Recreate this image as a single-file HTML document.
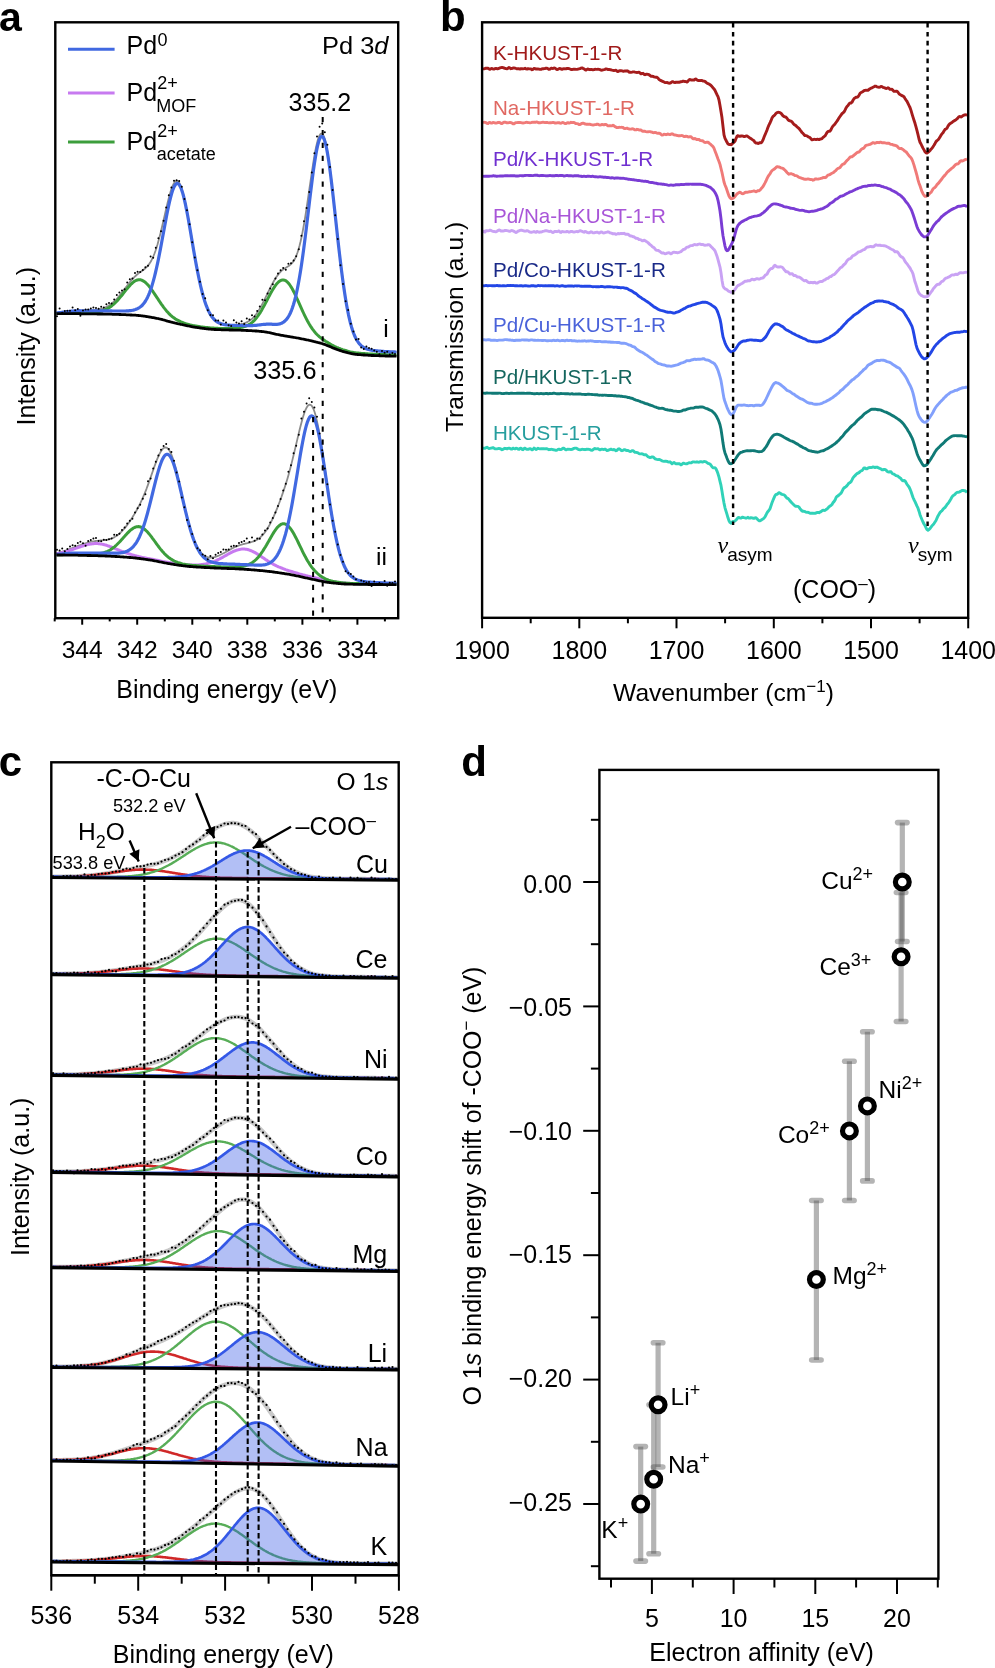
<!DOCTYPE html>
<html><head><meta charset="utf-8"><style>html,body{margin:0;padding:0;background:#fff}svg{display:block;will-change:transform}</style></head>
<body><svg width="995" height="1668" viewBox="0 0 995 1668" font-family='"Liberation Sans", sans-serif'>
<rect width="995" height="1668" fill="#fff"/>
<line x1="384.9" y1="618.2" x2="384.9" y2="621.4" stroke="#000" stroke-width="2.0"/>
<line x1="357.4" y1="618.2" x2="357.4" y2="624.7" stroke="#000" stroke-width="2.0"/>
<text x="357.4" y="658.3" font-size="24.6" text-anchor="middle">334</text>
<line x1="329.9" y1="618.2" x2="329.9" y2="621.4" stroke="#000" stroke-width="2.0"/>
<line x1="302.4" y1="618.2" x2="302.4" y2="624.7" stroke="#000" stroke-width="2.0"/>
<text x="302.4" y="658.3" font-size="24.6" text-anchor="middle">336</text>
<line x1="274.8" y1="618.2" x2="274.8" y2="621.4" stroke="#000" stroke-width="2.0"/>
<line x1="247.3" y1="618.2" x2="247.3" y2="624.7" stroke="#000" stroke-width="2.0"/>
<text x="247.3" y="658.3" font-size="24.6" text-anchor="middle">338</text>
<line x1="219.8" y1="618.2" x2="219.8" y2="621.4" stroke="#000" stroke-width="2.0"/>
<line x1="192.3" y1="618.2" x2="192.3" y2="624.7" stroke="#000" stroke-width="2.0"/>
<text x="192.3" y="658.3" font-size="24.6" text-anchor="middle">340</text>
<line x1="164.8" y1="618.2" x2="164.8" y2="621.4" stroke="#000" stroke-width="2.0"/>
<line x1="137.2" y1="618.2" x2="137.2" y2="624.7" stroke="#000" stroke-width="2.0"/>
<text x="137.2" y="658.3" font-size="24.6" text-anchor="middle">342</text>
<line x1="109.7" y1="618.2" x2="109.7" y2="621.4" stroke="#000" stroke-width="2.0"/>
<line x1="82.2" y1="618.2" x2="82.2" y2="624.7" stroke="#000" stroke-width="2.0"/>
<text x="82.2" y="658.3" font-size="24.6" text-anchor="middle">344</text>
<line x1="54.7" y1="618.2" x2="54.7" y2="621.4" stroke="#000" stroke-width="2.0"/>
<text x="116.3" y="697.5" font-size="25">Binding energy (eV)</text>
<text transform="translate(35.1,425.4) rotate(-90)" font-size="25" fill="#000">Intensity (a.u.)</text>
<text x="-0.9" y="30.7" font-size="41" font-weight="bold">a</text>
<line x1="68" y1="49.2" x2="114.6" y2="49.2" stroke="#4169e1" stroke-width="3"/>
<line x1="68" y1="92.9" x2="114.6" y2="92.9" stroke="#c77af0" stroke-width="3"/>
<line x1="68" y1="141.9" x2="114.6" y2="141.9" stroke="#3c9e3c" stroke-width="3"/>
<text x="126.6" y="54.0" font-size="25">Pd</text>
<text x="157.4" y="46.0" font-size="18">0</text>
<text x="126.6" y="101.3" font-size="25">Pd</text>
<text x="157.2" y="89.1" font-size="18">2+</text>
<text x="156.2" y="111.8" font-size="18">MOF</text>
<text x="126.6" y="149.7" font-size="25">Pd</text>
<text x="157.2" y="137.2" font-size="18">2+</text>
<text x="156.7" y="160.4" font-size="18">acetate</text>
<polyline points="56.5,313 57.5,312.8 58.5,312.7 59.5,312.6 60.5,312.4 61.5,312.3 62.5,312.2 63.5,312 64.5,311.9 65.5,311.8 66.5,311.6 67.5,311.5 68.5,311.4 69.5,311.3 70.5,311.2 71.5,311.1 72.5,311 73.5,310.9 74.5,310.8 75.5,310.8 76.5,310.7 77.5,310.7 78.5,310.6 79.5,310.6 80.5,310.6 81.5,310.6 82.5,310.6 83.5,310.6 84.5,310.6 85.5,310.6 86.5,310.5 87.5,310.5 88.5,310.5 89.5,310.4 90.5,310.4 91.5,310.3 92.5,310.3 93.5,310.2 94.5,310.1 95.5,310 96.5,309.8 97.5,309.7 98.5,309.5 99.5,309.3 100.5,309 101.5,308.8 102.5,308.5 103.5,308.1 104.5,307.8 105.5,307.3 106.5,306.9 107.5,306.3 108.5,305.8 109.5,305.1 110.5,304.4 111.5,303.7 112.5,302.9 113.5,302 114.5,301.1 115.5,300.1 116.5,299.1 117.5,298 118.5,296.8 119.5,295.6 120.5,294.4 121.5,293.1 122.5,291.8 123.5,290.5 124.5,289.2 125.5,287.8 126.5,286.5 127.5,285.2 128.5,283.9 129.5,282.6 130.5,281.4 131.5,280.2 132.5,279 133.5,278 134.5,276.9 135.5,276 136.5,275 137.5,274.2 138.5,273.4 139.5,272.6 140.5,271.9 141.5,271.2 142.5,270.5 143.5,269.8 144.5,269 145.5,268.1 146.5,267.2 147.5,266.1 148.5,264.9 149.5,263.6 150.5,262 151.5,260.2 152.5,258.2 153.5,256 154.5,253.5 155.5,250.7 156.5,247.6 157.5,244.4 158.5,240.8 159.5,237.1 160.5,233.2 161.5,229 162.5,224.8 163.5,220.5 164.5,216.1 165.5,211.7 166.5,207.4 167.5,203.2 168.5,199.2 169.5,195.4 170.5,191.9 171.5,188.9 172.5,186.2 173.5,184 174.5,182.4 175.5,181.3 176.5,180.8 177.5,181 178.5,181.8 179.5,183.2 180.5,185.3 181.5,188 182.5,191.2 183.5,195 184.5,199.2 185.5,203.9 186.5,208.9 187.5,214.2 188.5,219.8 189.5,225.5 190.5,231.4 191.5,237.3 192.5,243.2 193.5,249.1 194.5,254.8 195.5,260.4 196.5,265.9 197.5,271.1 198.5,276.1 199.5,280.8 200.5,285.3 201.5,289.4 202.5,293.3 203.5,296.9 204.5,300.2 205.5,303.2 206.5,306 207.5,308.5 208.5,310.7 209.5,312.7 210.5,314.5 211.5,316 212.5,317.4 213.5,318.6 214.5,319.6 215.5,320.5 216.5,321.3 217.5,321.9 218.5,322.5 219.5,323 220.5,323.4 221.5,323.7 222.5,324 223.5,324.2 224.5,324.4 225.5,324.6 226.5,324.7 227.5,324.8 228.5,324.8 229.5,324.9 230.5,324.9 231.5,324.9 232.5,324.9 233.5,324.9 234.5,324.9 235.5,324.8 236.5,324.7 237.5,324.6 238.5,324.5 239.5,324.4 240.5,324.2 241.5,324 242.5,323.8 243.5,323.5 244.5,323.2 245.5,322.8 246.5,322.4 247.5,321.9 248.5,321.3 249.5,320.7 250.5,320 251.5,319.3 252.5,318.4 253.5,317.4 254.5,316.3 255.5,315 256.5,313.7 257.5,312.3 258.5,310.8 259.5,309.1 260.5,307.4 261.5,305.6 262.5,303.7 263.5,301.7 264.5,299.7 265.5,297.7 266.5,295.6 267.5,293.5 268.5,291.5 269.5,289.4 270.5,287.4 271.5,285.4 272.5,283.5 273.5,281.7 274.5,280 275.5,278.4 276.5,276.8 277.5,275.4 278.5,274.1 279.5,272.9 280.5,271.8 281.5,270.8 282.5,269.9 283.5,269.2 284.5,268.5 285.5,267.9 286.5,267.3 287.5,266.7 288.5,266.1 289.5,265.4 290.5,264.6 291.5,263.7 292.5,262.6 293.5,261.2 294.5,259.6 295.5,257.6 296.5,255.3 297.5,252.5 298.5,249.4 299.5,245.8 300.5,241.8 301.5,237.3 302.5,232.4 303.5,227 304.5,221.3 305.5,215.1 306.5,208.7 307.5,202 308.5,195.2 309.5,188.2 310.5,181.3 311.5,174.4 312.5,167.8 313.5,161.4 314.5,155.4 315.5,150 316.5,145.2 317.5,141.1 318.5,137.8 319.5,135.4 320.5,133.9 321.5,133.5 322.5,134 323.5,135.6 324.5,138.3 325.5,142 326.5,146.6 327.5,152.2 328.5,158.5 329.5,165.6 330.5,173.3 331.5,181.5 332.5,190.2 333.5,199.1 334.5,208.3 335.5,217.5 336.5,226.8 337.5,236 338.5,244.9 339.5,253.7 340.5,262.1 341.5,270.2 342.5,277.9 343.5,285.1 344.5,292 345.5,298.3 346.5,304.2 347.5,309.7 348.5,314.6 349.5,319.1 350.5,323.2 351.5,326.8 352.5,330 353.5,332.9 354.5,335.4 355.5,337.6 356.5,339.5 357.5,341.1 358.5,342.6 359.5,343.8 360.5,344.9 361.5,345.8 362.5,346.6 363.5,347.2 364.5,347.8 365.5,348.3 366.5,348.7 367.5,349.1 368.5,349.4 369.5,349.7 370.5,349.9 371.5,350.1 372.5,350.3 373.5,350.4 374.5,350.5 375.5,350.7 376.5,350.8 377.5,350.9 378.5,351 379.5,351.1 380.5,351.1 381.5,351.2 382.5,351.3 383.5,351.4 384.5,351.4 385.5,351.5 386.5,351.5 387.5,351.6 388.5,351.6 389.5,351.7 390.5,351.7 391.5,351.8 392.5,351.8 393.5,351.9 394.5,351.9 395.5,351.9 396.5,351.9" fill="none" stroke="#8c8c8c" stroke-width="1.8" stroke-linejoin="round"/>
<polyline points="56.5,313.4 57.5,313.4 58.5,313.3 59.5,313.3 60.5,313.2 61.5,313.2 62.5,313.1 63.5,313.1 64.5,313 65.5,313 66.5,313 67.5,312.9 68.5,312.9 69.5,312.9 70.5,312.8 71.5,312.8 72.5,312.8 73.5,312.7 74.5,312.7 75.5,312.7 76.5,312.7 77.5,312.7 78.5,312.7 79.5,312.7 80.5,312.7 81.5,312.7 82.5,312.7 83.5,312.7 84.5,312.6 85.5,312.6 86.5,312.6 87.5,312.6 88.5,312.6 89.5,312.5 90.5,312.5 91.5,312.4 92.5,312.4 93.5,312.3 94.5,312.2 95.5,312.1 96.5,312 97.5,311.8 98.5,311.7 99.5,311.5 100.5,311.2 101.5,311 102.5,310.7 103.5,310.4 104.5,310 105.5,309.6 106.5,309.1 107.5,308.6 108.5,308 109.5,307.4 110.5,306.8 111.5,306 112.5,305.2 113.5,304.4 114.5,303.5 115.5,302.5 116.5,301.5 117.5,300.4 118.5,299.3 119.5,298.1 120.5,296.9 121.5,295.7 122.5,294.5 123.5,293.2 124.5,291.9 125.5,290.6 126.5,289.4 127.5,288.2 128.5,287 129.5,285.9 130.5,284.8 131.5,283.8 132.5,282.9 133.5,282 134.5,281.3 135.5,280.7 136.5,280.3 137.5,280 138.5,279.8 139.5,279.7 140.5,279.8 141.5,280.1 142.5,280.5 143.5,281.1 144.5,281.7 145.5,282.5 146.5,283.5 147.5,284.5 148.5,285.6 149.5,286.8 150.5,288.1 151.5,289.5 152.5,290.9 153.5,292.4 154.5,293.8 155.5,295.3 156.5,296.8 157.5,298.3 158.5,299.9 159.5,301.4 160.5,302.8 161.5,304.3 162.5,305.7 163.5,307.1 164.5,308.4 165.5,309.6 166.5,310.9 167.5,312 168.5,313.1 169.5,314.1 170.5,315.1 171.5,316 172.5,316.8 173.5,317.6 174.5,318.3 175.5,319 176.5,319.6 177.5,320.2 178.5,320.7 179.5,321.2 180.5,321.7 181.5,322.1 182.5,322.5 183.5,322.9 184.5,323.3 185.5,323.6 186.5,323.9 187.5,324.2 188.5,324.5 189.5,324.8 190.5,325 191.5,325.2 192.5,325.4 193.5,325.6 194.5,325.8 195.5,326 196.5,326.1 197.5,326.3 198.5,326.5 199.5,326.6 200.5,326.8 201.5,326.9 202.5,327 203.5,327.2 204.5,327.3 205.5,327.4 206.5,327.5 207.5,327.6 208.5,327.7 209.5,327.8 210.5,327.9 211.5,328 212.5,328.1 213.5,328.1 214.5,328.2 215.5,328.2 216.5,328.3 217.5,328.3 218.5,328.4 219.5,328.4 220.5,328.4 221.5,328.4 222.5,328.4 223.5,328.5 224.5,328.5 225.5,328.5 226.5,328.5 227.5,328.5 228.5,328.5 229.5,328.5 230.5,328.4 231.5,328.4 232.5,328.4 233.5,328.3 234.5,328.3 235.5,328.2 236.5,328.1 237.5,328 238.5,327.9 239.5,327.8 240.5,327.6 241.5,327.4 242.5,327.2 243.5,326.9 244.5,326.6 245.5,326.3 246.5,325.9 247.5,325.4 248.5,324.9 249.5,324.3 250.5,323.7 251.5,322.9 252.5,322.1 253.5,321.2 254.5,320.2 255.5,319.1 256.5,317.9 257.5,316.5 258.5,315.1 259.5,313.7 260.5,312.1 261.5,310.4 262.5,308.6 263.5,306.8 264.5,305 265.5,303.1 266.5,301.2 267.5,299.3 268.5,297.4 269.5,295.5 270.5,293.6 271.5,291.8 272.5,290.1 273.5,288.4 274.5,286.9 275.5,285.4 276.5,284.1 277.5,283 278.5,282 279.5,281.2 280.5,280.6 281.5,280.2 282.5,279.9 283.5,280 284.5,280.2 285.5,280.6 286.5,281.3 287.5,282.2 288.5,283.3 289.5,284.5 290.5,286 291.5,287.6 292.5,289.3 293.5,291.2 294.5,293.2 295.5,295.3 296.5,297.5 297.5,299.7 298.5,301.9 299.5,304.1 300.5,306.4 301.5,308.6 302.5,310.8 303.5,313 304.5,315.1 305.5,317.1 306.5,319.1 307.5,321 308.5,322.8 309.5,324.5 310.5,326.1 311.5,327.6 312.5,329.1 313.5,330.4 314.5,331.7 315.5,332.9 316.5,334 317.5,335 318.5,335.9 319.5,336.8 320.5,337.6 321.5,338.4 322.5,339.1 323.5,339.8 324.5,340.5 325.5,341.2 326.5,341.8 327.5,342.4 328.5,343 329.5,343.6 330.5,344.2 331.5,344.8 332.5,345.3 333.5,345.9 334.5,346.4 335.5,346.8 336.5,347.3 337.5,347.7 338.5,348.2 339.5,348.5 340.5,348.9 341.5,349.2 342.5,349.6 343.5,349.9 344.5,350.2 345.5,350.5 346.5,350.8 347.5,351.1 348.5,351.4 349.5,351.7 350.5,351.9 351.5,352.1 352.5,352.3 353.5,352.5 354.5,352.7 355.5,352.8 356.5,352.9 357.5,353 358.5,353.1 359.5,353.2 360.5,353.3 361.5,353.4 362.5,353.5 363.5,353.6 364.5,353.6 365.5,353.7 366.5,353.8 367.5,353.8 368.5,353.9 369.5,354 370.5,354 371.5,354.1 372.5,354.1 373.5,354.2 374.5,354.2 375.5,354.3 376.5,354.3 377.5,354.3 378.5,354.4 379.5,354.4 380.5,354.5 381.5,354.5 382.5,354.5 383.5,354.6 384.5,354.6 385.5,354.6 386.5,354.7 387.5,354.7 388.5,354.7 389.5,354.8 390.5,354.8 391.5,354.8 392.5,354.8 393.5,354.8 394.5,354.9 395.5,354.9 396.5,354.9" fill="none" stroke="#3c9e3c" stroke-width="3" stroke-linejoin="round"/>
<polyline points="56.5,313 57.5,312.9 58.5,312.8 59.5,312.6 60.5,312.5 61.5,312.4 62.5,312.2 63.5,312.1 64.5,312 65.5,311.8 66.5,311.7 67.5,311.6 68.5,311.5 69.5,311.4 70.5,311.3 71.5,311.2 72.5,311.1 73.5,311 74.5,310.9 75.5,310.9 76.5,310.8 77.5,310.8 78.5,310.8 79.5,310.7 80.5,310.8 81.5,310.8 82.5,310.8 83.5,310.8 84.5,310.8 85.5,310.8 86.5,310.8 87.5,310.8 88.5,310.8 89.5,310.8 90.5,310.8 91.5,310.8 92.5,310.8 93.5,310.8 94.5,310.8 95.5,310.8 96.5,310.8 97.5,310.8 98.5,310.9 99.5,310.9 100.5,310.9 101.5,310.9 102.5,310.9 103.5,310.9 104.5,310.9 105.5,310.9 106.5,310.9 107.5,310.9 108.5,310.9 109.5,310.9 110.5,310.9 111.5,310.9 112.5,311 113.5,311 114.5,311 115.5,311 116.5,311 117.5,311 118.5,311 119.5,311 120.5,311 121.5,311 122.5,311 123.5,311 124.5,311 125.5,311 126.5,310.9 127.5,310.9 128.5,310.8 129.5,310.7 130.5,310.6 131.5,310.5 132.5,310.3 133.5,310.1 134.5,309.8 135.5,309.5 136.5,309.1 137.5,308.7 138.5,308.1 139.5,307.5 140.5,306.8 141.5,306 142.5,305 143.5,303.8 144.5,302.5 145.5,301 146.5,299.3 147.5,297.4 148.5,295.2 149.5,292.8 150.5,290.1 151.5,287.2 152.5,283.9 153.5,280.4 154.5,276.6 155.5,272.5 156.5,268.2 157.5,263.6 158.5,258.8 159.5,253.7 160.5,248.6 161.5,243.3 162.5,237.8 163.5,232.4 164.5,227 165.5,221.6 166.5,216.3 167.5,211.3 168.5,206.4 169.5,201.9 170.5,197.8 171.5,194.1 172.5,190.8 173.5,188.1 174.5,186 175.5,184.5 176.5,183.6 177.5,183.4 178.5,183.9 179.5,185.1 180.5,186.9 181.5,189.4 182.5,192.4 183.5,196 184.5,200.1 185.5,204.7 186.5,209.6 187.5,214.8 188.5,220.3 189.5,226 190.5,231.8 191.5,237.7 192.5,243.5 193.5,249.4 194.5,255.1 195.5,260.7 196.5,266.1 197.5,271.3 198.5,276.3 199.5,281 200.5,285.5 201.5,289.6 202.5,293.5 203.5,297.1 204.5,300.4 205.5,303.4 206.5,306.2 207.5,308.6 208.5,310.9 209.5,312.9 210.5,314.6 211.5,316.2 212.5,317.5 213.5,318.7 214.5,319.8 215.5,320.7 216.5,321.4 217.5,322.1 218.5,322.7 219.5,323.1 220.5,323.5 221.5,323.9 222.5,324.2 223.5,324.4 224.5,324.6 225.5,324.8 226.5,324.9 227.5,325 228.5,325.1 229.5,325.2 230.5,325.3 231.5,325.3 232.5,325.4 233.5,325.4 234.5,325.4 235.5,325.5 236.5,325.5 237.5,325.5 238.5,325.5 239.5,325.5 240.5,325.5 241.5,325.5 242.5,325.6 243.5,325.6 244.5,325.6 245.5,325.6 246.5,325.6 247.5,325.6 248.5,325.6 249.5,325.6 250.5,325.6 251.5,325.6 252.5,325.6 253.5,325.5 254.5,325.4 255.5,325.4 256.5,325.3 257.5,325.1 258.5,325 259.5,324.9 260.5,324.8 261.5,324.6 262.5,324.5 263.5,324.4 264.5,324.3 265.5,324.3 266.5,324.2 267.5,324.2 268.5,324.2 269.5,324.2 270.5,324.2 271.5,324.2 272.5,324.3 273.5,324.3 274.5,324.3 275.5,324.4 276.5,324.3 277.5,324.3 278.5,324.1 279.5,323.9 280.5,323.6 281.5,323.2 282.5,322.7 283.5,322.1 284.5,321.4 285.5,320.4 286.5,319.4 287.5,318.1 288.5,316.5 289.5,314.7 290.5,312.7 291.5,310.3 292.5,307.6 293.5,304.5 294.5,301 295.5,297.1 296.5,292.8 297.5,288.1 298.5,282.9 299.5,277.3 300.5,271.2 301.5,264.7 302.5,257.8 303.5,250.5 304.5,242.8 305.5,234.9 306.5,226.7 307.5,218.4 308.5,210 309.5,201.6 310.5,193.3 311.5,185.2 312.5,177.4 313.5,169.9 314.5,163 315.5,156.7 316.5,151 317.5,146.2 318.5,142.3 319.5,139.3 320.5,137.3 321.5,136.4 322.5,136.6 323.5,137.8 324.5,140.2 325.5,143.6 326.5,148 327.5,153.4 328.5,159.5 329.5,166.5 330.5,174.1 331.5,182.2 332.5,190.8 333.5,199.6 334.5,208.7 335.5,217.9 336.5,227.1 337.5,236.3 338.5,245.2 339.5,253.9 340.5,262.3 341.5,270.4 342.5,278.1 343.5,285.3 344.5,292.1 345.5,298.5 346.5,304.4 347.5,309.8 348.5,314.8 349.5,319.2 350.5,323.3 351.5,326.9 352.5,330.1 353.5,333 354.5,335.5 355.5,337.7 356.5,339.6 357.5,341.2 358.5,342.7 359.5,343.9 360.5,345 361.5,345.9 362.5,346.7 363.5,347.3 364.5,347.9 365.5,348.4 366.5,348.8 367.5,349.2 368.5,349.5 369.5,349.7 370.5,350 371.5,350.2 372.5,350.3 373.5,350.5 374.5,350.6 375.5,350.7 376.5,350.8 377.5,350.9 378.5,351 379.5,351.1 380.5,351.2 381.5,351.3 382.5,351.3 383.5,351.4 384.5,351.5 385.5,351.5 386.5,351.6 387.5,351.7 388.5,351.7 389.5,351.8 390.5,351.8 391.5,351.8 392.5,351.9 393.5,351.9 394.5,351.9 395.5,352 396.5,352" fill="none" stroke="#4169e1" stroke-width="3.2" stroke-linejoin="round"/>
<polyline points="56.5,313.6 57.5,313.6 58.5,313.6 59.5,313.6 60.5,313.6 61.5,313.6 62.5,313.6 63.5,313.6 64.5,313.6 65.5,313.6 66.5,313.6 67.5,313.6 68.5,313.6 69.5,313.7 70.5,313.7 71.5,313.7 72.5,313.7 73.5,313.7 74.5,313.7 75.5,313.7 76.5,313.7 77.5,313.7 78.5,313.7 79.5,313.7 80.5,313.7 81.5,313.8 82.5,313.8 83.5,313.8 84.5,313.8 85.5,313.8 86.5,313.8 87.5,313.8 88.5,313.8 89.5,313.9 90.5,313.9 91.5,313.9 92.5,313.9 93.5,313.9 94.5,313.9 95.5,313.9 96.5,313.9 97.5,314 98.5,314 99.5,314 100.5,314 101.5,314 102.5,314 103.5,314.1 104.5,314.1 105.5,314.1 106.5,314.1 107.5,314.1 108.5,314.2 109.5,314.2 110.5,314.2 111.5,314.2 112.5,314.3 113.5,314.3 114.5,314.3 115.5,314.3 116.5,314.4 117.5,314.4 118.5,314.4 119.5,314.5 120.5,314.5 121.5,314.6 122.5,314.6 123.5,314.6 124.5,314.7 125.5,314.7 126.5,314.8 127.5,314.8 128.5,314.9 129.5,314.9 130.5,315 131.5,315 132.5,315.1 133.5,315.1 134.5,315.2 135.5,315.2 136.5,315.3 137.5,315.4 138.5,315.5 139.5,315.6 140.5,315.7 141.5,315.8 142.5,315.9 143.5,316.1 144.5,316.2 145.5,316.4 146.5,316.5 147.5,316.7 148.5,316.9 149.5,317 150.5,317.2 151.5,317.4 152.5,317.6 153.5,317.7 154.5,317.9 155.5,318.1 156.5,318.3 157.5,318.5 158.5,318.7 159.5,319 160.5,319.2 161.5,319.4 162.5,319.7 163.5,320 164.5,320.2 165.5,320.5 166.5,320.8 167.5,321.1 168.5,321.3 169.5,321.6 170.5,321.9 171.5,322.1 172.5,322.4 173.5,322.6 174.5,322.9 175.5,323.1 176.5,323.3 177.5,323.6 178.5,323.8 179.5,324 180.5,324.3 181.5,324.5 182.5,324.7 183.5,325 184.5,325.2 185.5,325.4 186.5,325.6 187.5,325.8 188.5,326 189.5,326.2 190.5,326.4 191.5,326.6 192.5,326.8 193.5,327 194.5,327.1 195.5,327.3 196.5,327.4 197.5,327.6 198.5,327.7 199.5,327.9 200.5,328 201.5,328.1 202.5,328.3 203.5,328.4 204.5,328.5 205.5,328.7 206.5,328.8 207.5,328.9 208.5,329 209.5,329.1 210.5,329.2 211.5,329.3 212.5,329.3 213.5,329.4 214.5,329.5 215.5,329.5 216.5,329.6 217.5,329.6 218.5,329.7 219.5,329.7 220.5,329.7 221.5,329.8 222.5,329.8 223.5,329.8 224.5,329.8 225.5,329.9 226.5,329.9 227.5,329.9 228.5,329.9 229.5,330 230.5,330 231.5,330 232.5,330 233.5,330.1 234.5,330.1 235.5,330.1 236.5,330.1 237.5,330.2 238.5,330.2 239.5,330.2 240.5,330.2 241.5,330.3 242.5,330.3 243.5,330.3 244.5,330.4 245.5,330.4 246.5,330.5 247.5,330.5 248.5,330.6 249.5,330.6 250.5,330.7 251.5,330.7 252.5,330.8 253.5,330.8 254.5,330.9 255.5,331 256.5,331 257.5,331.1 258.5,331.2 259.5,331.3 260.5,331.4 261.5,331.5 262.5,331.6 263.5,331.7 264.5,331.8 265.5,332 266.5,332.1 267.5,332.3 268.5,332.5 269.5,332.7 270.5,332.9 271.5,333.2 272.5,333.4 273.5,333.6 274.5,333.8 275.5,334.1 276.5,334.3 277.5,334.5 278.5,334.7 279.5,334.9 280.5,335.1 281.5,335.3 282.5,335.4 283.5,335.6 284.5,335.8 285.5,336 286.5,336.1 287.5,336.3 288.5,336.5 289.5,336.6 290.5,336.8 291.5,337 292.5,337.1 293.5,337.3 294.5,337.5 295.5,337.7 296.5,337.8 297.5,338 298.5,338.2 299.5,338.4 300.5,338.6 301.5,338.8 302.5,339 303.5,339.2 304.5,339.4 305.5,339.6 306.5,339.8 307.5,340 308.5,340.2 309.5,340.5 310.5,340.7 311.5,340.9 312.5,341.1 313.5,341.4 314.5,341.6 315.5,341.9 316.5,342.1 317.5,342.4 318.5,342.6 319.5,342.9 320.5,343.2 321.5,343.5 322.5,343.7 323.5,344.1 324.5,344.4 325.5,344.8 326.5,345.2 327.5,345.6 328.5,346 329.5,346.4 330.5,346.8 331.5,347.2 332.5,347.7 333.5,348.1 334.5,348.5 335.5,348.9 336.5,349.3 337.5,349.7 338.5,350 339.5,350.3 340.5,350.6 341.5,351 342.5,351.3 343.5,351.6 344.5,351.9 345.5,352.1 346.5,352.4 347.5,352.7 348.5,353 349.5,353.2 350.5,353.4 351.5,353.6 352.5,353.8 353.5,354 354.5,354.1 355.5,354.3 356.5,354.4 357.5,354.5 358.5,354.6 359.5,354.7 360.5,354.7 361.5,354.8 362.5,354.9 363.5,355 364.5,355 365.5,355.1 366.5,355.2 367.5,355.2 368.5,355.3 369.5,355.4 370.5,355.4 371.5,355.5 372.5,355.5 373.5,355.5 374.5,355.6 375.5,355.6 376.5,355.7 377.5,355.7 378.5,355.7 379.5,355.8 380.5,355.8 381.5,355.8 382.5,355.9 383.5,355.9 384.5,355.9 385.5,356 386.5,356 387.5,356 388.5,356.1 389.5,356.1 390.5,356.1 391.5,356.1 392.5,356.1 393.5,356.2 394.5,356.2 395.5,356.2 396.5,356.2" fill="none" stroke="#000" stroke-width="2.8" stroke-linejoin="round"/>
<path d="M57 316.2h0M59.6 308.5h0M62.2 312.8h0M64.8 310.9h0M67.4 310.7h0M70 310.8h0M72.6 307.6h0M75.2 310.3h0M77.8 309.1h0M80.4 315.7h0M83 310.6h0M85.6 309.5h0M88.2 309.4h0M90.8 308.5h0M93.4 307.5h0M96 308h0M98.6 308.8h0M101.2 306.7h0M103.8 307.6h0M106.4 304.3h0M109 303h0M111.6 303.4h0M114.2 299.4h0M116.8 295h0M119.4 292.5h0M122 290.4h0M124.6 289.2h0M127.2 282.4h0M129.8 279.3h0M132.4 278.4h0M135 272.9h0M137.6 271.8h0M140.2 271.9h0M142.8 269.9h0M145.4 267.3h0M148 265.7h0M150.6 256.6h0M153.2 257.7h0M155.8 247.8h0M158.4 238.2h0M161 231.3h0M163.6 220.8h0M166.2 207.4h0M168.8 195.3h0M171.4 187.5h0M174 180.7h0M176.6 180.2h0M179.2 181.1h0M181.8 186.8h0M184.4 198.9h0M187 210.2h0M189.6 224.2h0M192.2 242.2h0M194.8 257.4h0M197.4 270.2h0M200 281.8h0M202.6 294h0M205.2 298.3h0M207.8 310.2h0M210.4 315h0M213 315.3h0M215.6 320.5h0M218.2 320.6h0M220.8 324.4h0M223.4 320.5h0M226 322.6h0M228.6 325.3h0M231.2 325.9h0M233.8 320.3h0M236.4 322.6h0M239 323.4h0M241.6 321.3h0M244.2 323.9h0M246.8 318.4h0M249.4 319.4h0M252 315.2h0M254.6 316.5h0M257.2 310.9h0M259.8 306.4h0M262.4 299.7h0M265 300.2h0M267.6 293.5h0M270.2 288.4h0M272.8 284.2h0M275.4 278.6h0M278 273.4h0M280.6 270.2h0M283.2 268h0M285.8 269.8h0M288.4 263.7h0M291 263.2h0M293.6 260.5h0M296.2 256.3h0M298.8 249.2h0M301.4 235.7h0M304 221.3h0M306.6 207.9h0M309.2 191.9h0M311.8 172.4h0M314.4 153.2h0M317 136.6h0M319.6 126.8h0M322.2 123.5h0M324.8 132.2h0M327.4 144.8h0M330 166.9h0M332.6 189.9h0M335.2 215.3h0M337.8 238.9h0M340.4 265.3h0M343 283.9h0M345.6 301.3h0M348.2 309.9h0M350.8 323.7h0M353.4 331.6h0M356 339.4h0M358.6 339h0M361.2 347.4h0M363.8 349.1h0M366.4 346.6h0M369 348h0M371.6 348.8h0M374.2 350.6h0M376.8 351.8h0M379.4 354.3h0M382 350.9h0M384.6 352.7h0M387.2 351.8h0M389.8 354.5h0M392.4 353h0M395 354.1h0" stroke="#000" stroke-width="2" stroke-linecap="round" fill="none"/>
<polyline points="56.5,553.1 57.5,552.9 58.5,552.7 59.5,552.4 60.5,552.1 61.5,551.8 62.5,551.6 63.5,551.2 64.5,550.9 65.5,550.6 66.5,550.3 67.5,549.9 68.5,549.5 69.5,549.2 70.5,548.8 71.5,548.4 72.5,548 73.5,547.6 74.5,547.2 75.5,546.9 76.5,546.5 77.5,546.1 78.5,545.7 79.5,545.3 80.5,545 81.5,544.6 82.5,544.2 83.5,543.9 84.5,543.6 85.5,543.3 86.5,543 87.5,542.7 88.5,542.4 89.5,542.1 90.5,541.9 91.5,541.7 92.5,541.5 93.5,541.3 94.5,541.2 95.5,541 96.5,540.9 97.5,540.8 98.5,540.7 99.5,540.6 100.5,540.5 101.5,540.4 102.5,540.3 103.5,540.2 104.5,540.1 105.5,539.9 106.5,539.8 107.5,539.6 108.5,539.4 109.5,539.1 110.5,538.8 111.5,538.5 112.5,538.1 113.5,537.6 114.5,537.1 115.5,536.5 116.5,535.9 117.5,535.2 118.5,534.4 119.5,533.5 120.5,532.6 121.5,531.7 122.5,530.6 123.5,529.5 124.5,528.4 125.5,527.2 126.5,525.9 127.5,524.6 128.5,523.2 129.5,521.8 130.5,520.3 131.5,518.8 132.5,517.2 133.5,515.6 134.5,513.9 135.5,512.2 136.5,510.5 137.5,508.6 138.5,506.8 139.5,504.8 140.5,502.8 141.5,500.7 142.5,498.5 143.5,496.2 144.5,493.8 145.5,491.3 146.5,488.8 147.5,486.1 148.5,483.4 149.5,480.6 150.5,477.7 151.5,474.9 152.5,472 153.5,469.1 154.5,466.3 155.5,463.6 156.5,460.9 157.5,458.4 158.5,456.1 159.5,453.9 160.5,452.1 161.5,450.5 162.5,449.2 163.5,448.2 164.5,447.6 165.5,447.4 166.5,447.6 167.5,448.3 168.5,449.3 169.5,450.8 170.5,452.7 171.5,454.9 172.5,457.6 173.5,460.6 174.5,463.9 175.5,467.5 176.5,471.4 177.5,475.4 178.5,479.6 179.5,484 180.5,488.4 181.5,492.9 182.5,497.3 183.5,501.8 184.5,506.1 185.5,510.4 186.5,514.5 187.5,518.5 188.5,522.3 189.5,526 190.5,529.4 191.5,532.6 192.5,535.6 193.5,538.4 194.5,541 195.5,543.3 196.5,545.4 197.5,547.4 198.5,549.1 199.5,550.6 200.5,551.9 201.5,553.1 202.5,554.1 203.5,555 204.5,555.7 205.5,556.3 206.5,556.7 207.5,557.1 208.5,557.3 209.5,557.5 210.5,557.5 211.5,557.5 212.5,557.4 213.5,557.3 214.5,557.1 215.5,556.8 216.5,556.5 217.5,556.1 218.5,555.7 219.5,555.3 220.5,554.8 221.5,554.3 222.5,553.8 223.5,553.3 224.5,552.7 225.5,552.2 226.5,551.6 227.5,551.1 228.5,550.5 229.5,549.9 230.5,549.4 231.5,548.8 232.5,548.3 233.5,547.8 234.5,547.3 235.5,546.8 236.5,546.4 237.5,546 238.5,545.6 239.5,545.2 240.5,544.9 241.5,544.6 242.5,544.3 243.5,544 244.5,543.8 245.5,543.5 246.5,543.3 247.5,543.1 248.5,542.8 249.5,542.6 250.5,542.3 251.5,542 252.5,541.7 253.5,541.4 254.5,541 255.5,540.5 256.5,540 257.5,539.4 258.5,538.7 259.5,537.9 260.5,537.1 261.5,536.1 262.5,535.1 263.5,534 264.5,532.8 265.5,531.4 266.5,530 267.5,528.4 268.5,526.8 269.5,525 270.5,523.1 271.5,521.1 272.5,519 273.5,516.8 274.5,514.6 275.5,512.3 276.5,509.8 277.5,507.4 278.5,504.8 279.5,502.2 280.5,499.5 281.5,496.8 282.5,493.9 283.5,491 284.5,488 285.5,484.9 286.5,481.7 287.5,478.4 288.5,474.9 289.5,471.3 290.5,467.5 291.5,463.6 292.5,459.6 293.5,455.5 294.5,451.4 295.5,447.1 296.5,442.9 297.5,438.6 298.5,434.4 299.5,430.2 300.5,426.2 301.5,422.4 302.5,418.8 303.5,415.5 304.5,412.5 305.5,409.9 306.5,407.8 307.5,406.2 308.5,405.1 309.5,404.7 310.5,404.8 311.5,405.6 312.5,407 313.5,409 314.5,411.8 315.5,415.1 316.5,419.1 317.5,423.6 318.5,428.7 319.5,434.1 320.5,440 321.5,446.3 322.5,452.7 323.5,459.4 324.5,466.3 325.5,473.2 326.5,480.1 327.5,486.9 328.5,493.7 329.5,500.3 330.5,506.8 331.5,513 332.5,519 333.5,524.6 334.5,530 335.5,535.1 336.5,539.9 337.5,544.3 338.5,548.3 339.5,552.1 340.5,555.5 341.5,558.6 342.5,561.5 343.5,564 344.5,566.3 345.5,568.3 346.5,570.1 347.5,571.7 348.5,573.1 349.5,574.4 350.5,575.4 351.5,576.4 352.5,577.2 353.5,577.9 354.5,578.5 355.5,579 356.5,579.5 357.5,579.9 358.5,580.2 359.5,580.5 360.5,580.8 361.5,581 362.5,581.2 363.5,581.4 364.5,581.5 365.5,581.6 366.5,581.8 367.5,581.9 368.5,582 369.5,582.1 370.5,582.1 371.5,582.2 372.5,582.3 373.5,582.3 374.5,582.4 375.5,582.5 376.5,582.5 377.5,582.6 378.5,582.6 379.5,582.7 380.5,582.7 381.5,582.7 382.5,582.8 383.5,582.8 384.5,582.9 385.5,582.9 386.5,582.9 387.5,582.9 388.5,583 389.5,583 390.5,583 391.5,583 392.5,583.1 393.5,583.1 394.5,583.1 395.5,583.1 396.5,583.1" fill="none" stroke="#8c8c8c" stroke-width="1.8" stroke-linejoin="round"/>
<polyline points="56.5,553.6 57.5,553.4 58.5,553.3 59.5,553.1 60.5,552.9 61.5,552.6 62.5,552.4 63.5,552.2 64.5,551.9 65.5,551.6 66.5,551.4 67.5,551.1 68.5,550.8 69.5,550.5 70.5,550.1 71.5,549.8 72.5,549.5 73.5,549.1 74.5,548.8 75.5,548.4 76.5,548.1 77.5,547.7 78.5,547.4 79.5,547 80.5,546.7 81.5,546.4 82.5,546 83.5,545.7 84.5,545.4 85.5,545.1 86.5,544.9 87.5,544.6 88.5,544.4 89.5,544.2 90.5,544 91.5,543.9 92.5,543.8 93.5,543.7 94.5,543.6 95.5,543.6 96.5,543.6 97.5,543.6 98.5,543.7 99.5,543.8 100.5,543.9 101.5,544.1 102.5,544.3 103.5,544.5 104.5,544.8 105.5,545 106.5,545.3 107.5,545.7 108.5,546 109.5,546.4 110.5,546.7 111.5,547.1 112.5,547.5 113.5,547.9 114.5,548.3 115.5,548.8 116.5,549.2 117.5,549.6 118.5,550 119.5,550.4 120.5,550.8 121.5,551.2 122.5,551.6 123.5,552 124.5,552.4 125.5,552.7 126.5,553.1 127.5,553.4 128.5,553.7 129.5,554 130.5,554.3 131.5,554.6 132.5,554.9 133.5,555.2 134.5,555.5 135.5,555.7 136.5,556 137.5,556.2 138.5,556.5 139.5,556.7 140.5,556.9 141.5,557.2 142.5,557.4 143.5,557.6 144.5,557.8 145.5,558 146.5,558.2 147.5,558.4 148.5,558.6 149.5,558.7 150.5,558.9 151.5,559.1 152.5,559.3 153.5,559.5 154.5,559.7 155.5,559.9 156.5,560.1 157.5,560.3 158.5,560.5 159.5,560.7 160.5,561 161.5,561.2 162.5,561.4 163.5,561.6 164.5,561.8 165.5,562 166.5,562.2 167.5,562.3 168.5,562.5 169.5,562.7 170.5,562.8 171.5,563 172.5,563.1 173.5,563.3 174.5,563.4 175.5,563.6 176.5,563.7 177.5,563.8 178.5,564 179.5,564.1 180.5,564.2 181.5,564.4 182.5,564.5 183.5,564.6 184.5,564.7 185.5,564.8 186.5,564.8 187.5,564.9 188.5,565 189.5,565 190.5,565 191.5,565.1 192.5,565.1 193.5,565.1 194.5,565.1 195.5,565 196.5,565 197.5,565 198.5,564.9 199.5,564.8 200.5,564.7 201.5,564.6 202.5,564.5 203.5,564.3 204.5,564.2 205.5,564 206.5,563.8 207.5,563.5 208.5,563.3 209.5,563 210.5,562.7 211.5,562.4 212.5,562 213.5,561.7 214.5,561.3 215.5,560.8 216.5,560.4 217.5,559.9 218.5,559.5 219.5,559 220.5,558.4 221.5,557.9 222.5,557.4 223.5,556.8 224.5,556.2 225.5,555.7 226.5,555.1 227.5,554.5 228.5,554 229.5,553.4 230.5,552.9 231.5,552.4 232.5,551.9 233.5,551.4 234.5,551 235.5,550.6 236.5,550.3 237.5,549.9 238.5,549.7 239.5,549.4 240.5,549.3 241.5,549.1 242.5,549.1 243.5,549.1 244.5,549.1 245.5,549.2 246.5,549.3 247.5,549.5 248.5,549.8 249.5,550.1 250.5,550.5 251.5,550.9 252.5,551.3 253.5,551.8 254.5,552.3 255.5,552.9 256.5,553.5 257.5,554.1 258.5,554.7 259.5,555.4 260.5,556 261.5,556.7 262.5,557.4 263.5,558.1 264.5,558.8 265.5,559.5 266.5,560.1 267.5,560.8 268.5,561.4 269.5,562.1 270.5,562.7 271.5,563.2 272.5,563.8 273.5,564.4 274.5,564.9 275.5,565.4 276.5,565.9 277.5,566.3 278.5,566.8 279.5,567.2 280.5,567.6 281.5,568 282.5,568.4 283.5,568.8 284.5,569.2 285.5,569.6 286.5,569.9 287.5,570.3 288.5,570.6 289.5,570.9 290.5,571.2 291.5,571.5 292.5,571.8 293.5,572.1 294.5,572.4 295.5,572.7 296.5,573 297.5,573.3 298.5,573.6 299.5,573.9 300.5,574.1 301.5,574.4 302.5,574.7 303.5,574.9 304.5,575.2 305.5,575.5 306.5,575.7 307.5,576 308.5,576.2 309.5,576.4 310.5,576.7 311.5,576.9 312.5,577.1 313.5,577.3 314.5,577.6 315.5,577.8 316.5,578.1 317.5,578.3 318.5,578.6 319.5,578.9 320.5,579.1 321.5,579.4 322.5,579.6 323.5,579.9 324.5,580.1 325.5,580.4 326.5,580.6 327.5,580.8 328.5,581 329.5,581.2 330.5,581.4 331.5,581.5 332.5,581.7 333.5,581.9 334.5,582 335.5,582.2 336.5,582.3 337.5,582.4 338.5,582.6 339.5,582.7 340.5,582.8 341.5,582.9 342.5,583 343.5,583.1 344.5,583.1 345.5,583.2 346.5,583.3 347.5,583.3 348.5,583.4 349.5,583.4 350.5,583.5 351.5,583.5 352.5,583.5 353.5,583.6 354.5,583.6 355.5,583.6 356.5,583.6 357.5,583.7 358.5,583.7 359.5,583.7 360.5,583.7 361.5,583.8 362.5,583.8 363.5,583.8 364.5,583.8 365.5,583.9 366.5,583.9 367.5,583.9 368.5,583.9 369.5,584 370.5,584 371.5,584 372.5,584 373.5,584 374.5,584 375.5,584.1 376.5,584.1 377.5,584.1 378.5,584.1 379.5,584.1 380.5,584.1 381.5,584.1 382.5,584.1 383.5,584.2 384.5,584.2 385.5,584.2 386.5,584.2 387.5,584.2 388.5,584.2 389.5,584.2 390.5,584.2 391.5,584.2 392.5,584.2 393.5,584.2 394.5,584.2 395.5,584.2 396.5,584.2" fill="none" stroke="#c77af0" stroke-width="3" stroke-linejoin="round"/>
<polyline points="56.5,554.8 57.5,554.8 58.5,554.8 59.5,554.7 60.5,554.7 61.5,554.7 62.5,554.7 63.5,554.6 64.5,554.6 65.5,554.6 66.5,554.6 67.5,554.5 68.5,554.5 69.5,554.5 70.5,554.5 71.5,554.5 72.5,554.5 73.5,554.5 74.5,554.5 75.5,554.5 76.5,554.5 77.5,554.5 78.5,554.5 79.5,554.5 80.5,554.5 81.5,554.5 82.5,554.5 83.5,554.5 84.5,554.5 85.5,554.5 86.5,554.5 87.5,554.5 88.5,554.5 89.5,554.5 90.5,554.4 91.5,554.4 92.5,554.4 93.5,554.3 94.5,554.3 95.5,554.2 96.5,554.1 97.5,554 98.5,553.8 99.5,553.7 100.5,553.5 101.5,553.3 102.5,553.1 103.5,552.8 104.5,552.5 105.5,552.1 106.5,551.7 107.5,551.3 108.5,550.8 109.5,550.3 110.5,549.7 111.5,549 112.5,548.3 113.5,547.6 114.5,546.8 115.5,545.9 116.5,545 117.5,544 118.5,543 119.5,542 120.5,540.9 121.5,539.8 122.5,538.7 123.5,537.6 124.5,536.4 125.5,535.3 126.5,534.2 127.5,533.1 128.5,532.1 129.5,531.1 130.5,530.2 131.5,529.4 132.5,528.7 133.5,528 134.5,527.5 135.5,527.1 136.5,526.8 137.5,526.7 138.5,526.6 139.5,526.7 140.5,527 141.5,527.4 142.5,527.9 143.5,528.5 144.5,529.2 145.5,530.1 146.5,531 147.5,532.1 148.5,533.2 149.5,534.4 150.5,535.6 151.5,536.9 152.5,538.3 153.5,539.6 154.5,541 155.5,542.4 156.5,543.8 157.5,545.2 158.5,546.5 159.5,547.8 160.5,549.1 161.5,550.3 162.5,551.5 163.5,552.6 164.5,553.7 165.5,554.7 166.5,555.6 167.5,556.5 168.5,557.3 169.5,558.1 170.5,558.8 171.5,559.4 172.5,560 173.5,560.6 174.5,561.1 175.5,561.5 176.5,562 177.5,562.4 178.5,562.7 179.5,563 180.5,563.3 181.5,563.6 182.5,563.9 183.5,564.1 184.5,564.3 185.5,564.5 186.5,564.7 187.5,564.8 188.5,565 189.5,565.1 190.5,565.2 191.5,565.3 192.5,565.4 193.5,565.5 194.5,565.6 195.5,565.6 196.5,565.7 197.5,565.8 198.5,565.8 199.5,565.9 200.5,566 201.5,566 202.5,566.1 203.5,566.1 204.5,566.2 205.5,566.2 206.5,566.3 207.5,566.3 208.5,566.4 209.5,566.4 210.5,566.5 211.5,566.5 212.5,566.5 213.5,566.6 214.5,566.6 215.5,566.7 216.5,566.7 217.5,566.7 218.5,566.8 219.5,566.8 220.5,566.8 221.5,566.9 222.5,566.9 223.5,566.9 224.5,566.9 225.5,567 226.5,567 227.5,567 228.5,567 229.5,567 230.5,567 231.5,567 232.5,567 233.5,567 234.5,567 235.5,567 236.5,566.9 237.5,566.9 238.5,566.8 239.5,566.7 240.5,566.6 241.5,566.5 242.5,566.4 243.5,566.2 244.5,566 245.5,565.7 246.5,565.4 247.5,565.1 248.5,564.7 249.5,564.2 250.5,563.7 251.5,563.1 252.5,562.5 253.5,561.7 254.5,560.9 255.5,560 256.5,559.1 257.5,558 258.5,556.9 259.5,555.6 260.5,554.3 261.5,552.9 262.5,551.5 263.5,549.9 264.5,548.3 265.5,546.7 266.5,545 267.5,543.2 268.5,541.5 269.5,539.7 270.5,537.9 271.5,536.2 272.5,534.5 273.5,532.9 274.5,531.3 275.5,529.9 276.5,528.5 277.5,527.3 278.5,526.3 279.5,525.4 280.5,524.7 281.5,524.2 282.5,523.8 283.5,523.7 284.5,523.8 285.5,524.2 286.5,524.7 287.5,525.4 288.5,526.3 289.5,527.4 290.5,528.6 291.5,530 292.5,531.6 293.5,533.3 294.5,535.1 295.5,537 296.5,538.9 297.5,540.9 298.5,543 299.5,545.1 300.5,547.1 301.5,549.2 302.5,551.3 303.5,553.3 304.5,555.2 305.5,557.1 306.5,558.9 307.5,560.7 308.5,562.3 309.5,563.9 310.5,565.4 311.5,566.8 312.5,568.1 313.5,569.3 314.5,570.5 315.5,571.5 316.5,572.5 317.5,573.5 318.5,574.4 319.5,575.2 320.5,575.9 321.5,576.6 322.5,577.2 323.5,577.8 324.5,578.4 325.5,578.9 326.5,579.3 327.5,579.7 328.5,580.1 329.5,580.4 330.5,580.7 331.5,580.9 332.5,581.2 333.5,581.4 334.5,581.6 335.5,581.8 336.5,582 337.5,582.2 338.5,582.3 339.5,582.5 340.5,582.6 341.5,582.7 342.5,582.8 343.5,582.9 344.5,583 345.5,583.1 346.5,583.2 347.5,583.2 348.5,583.3 349.5,583.3 350.5,583.4 351.5,583.4 352.5,583.4 353.5,583.5 354.5,583.5 355.5,583.5 356.5,583.6 357.5,583.6 358.5,583.6 359.5,583.7 360.5,583.7 361.5,583.7 362.5,583.7 363.5,583.8 364.5,583.8 365.5,583.8 366.5,583.8 367.5,583.9 368.5,583.9 369.5,583.9 370.5,583.9 371.5,583.9 372.5,584 373.5,584 374.5,584 375.5,584 376.5,584 377.5,584 378.5,584.1 379.5,584.1 380.5,584.1 381.5,584.1 382.5,584.1 383.5,584.1 384.5,584.1 385.5,584.1 386.5,584.2 387.5,584.2 388.5,584.2 389.5,584.2 390.5,584.2 391.5,584.2 392.5,584.2 393.5,584.2 394.5,584.2 395.5,584.2 396.5,584.2" fill="none" stroke="#3c9e3c" stroke-width="3" stroke-linejoin="round"/>
<polyline points="56.5,554.5 57.5,554.4 58.5,554.3 59.5,554.2 60.5,554.1 61.5,554 62.5,553.9 63.5,553.8 64.5,553.7 65.5,553.7 66.5,553.6 67.5,553.5 68.5,553.4 69.5,553.4 70.5,553.3 71.5,553.2 72.5,553.2 73.5,553.1 74.5,553.1 75.5,553.1 76.5,553 77.5,553 78.5,553 79.5,553 80.5,553 81.5,553 82.5,553 83.5,553 84.5,553 85.5,553 86.5,553 87.5,553 88.5,553 89.5,553 90.5,553 91.5,553 92.5,553 93.5,553.1 94.5,553.1 95.5,553.1 96.5,553.1 97.5,553.1 98.5,553.1 99.5,553.1 100.5,553.1 101.5,553.1 102.5,553.1 103.5,553.1 104.5,553.2 105.5,553.2 106.5,553.2 107.5,553.2 108.5,553.2 109.5,553.2 110.5,553.2 111.5,553.2 112.5,553.2 113.5,553.2 114.5,553.2 115.5,553.2 116.5,553.2 117.5,553.1 118.5,553.1 119.5,553 120.5,552.9 121.5,552.7 122.5,552.6 123.5,552.4 124.5,552.1 125.5,551.8 126.5,551.4 127.5,551 128.5,550.5 129.5,549.8 130.5,549.1 131.5,548.3 132.5,547.4 133.5,546.3 134.5,545.1 135.5,543.8 136.5,542.3 137.5,540.6 138.5,538.7 139.5,536.7 140.5,534.4 141.5,532 142.5,529.3 143.5,526.5 144.5,523.4 145.5,520.2 146.5,516.8 147.5,513.2 148.5,509.4 149.5,505.6 150.5,501.6 151.5,497.6 152.5,493.5 153.5,489.4 154.5,485.4 155.5,481.4 156.5,477.5 157.5,473.9 158.5,470.4 159.5,467.1 160.5,464.2 161.5,461.5 162.5,459.2 163.5,457.4 164.5,455.9 165.5,454.9 166.5,454.3 167.5,454.3 168.5,454.7 169.5,455.5 170.5,456.9 171.5,458.7 172.5,460.9 173.5,463.5 174.5,466.5 175.5,469.7 176.5,473.3 177.5,477.1 178.5,481.2 179.5,485.3 180.5,489.6 181.5,493.9 182.5,498.3 183.5,502.6 184.5,506.9 185.5,511.1 186.5,515.2 187.5,519.2 188.5,523 189.5,526.7 190.5,530.1 191.5,533.3 192.5,536.4 193.5,539.2 194.5,541.8 195.5,544.3 196.5,546.5 197.5,548.5 198.5,550.3 199.5,552 200.5,553.5 201.5,554.8 202.5,556 203.5,557.1 204.5,558 205.5,558.8 206.5,559.5 207.5,560.2 208.5,560.7 209.5,561.2 210.5,561.6 211.5,561.9 212.5,562.2 213.5,562.5 214.5,562.7 215.5,562.9 216.5,563.1 217.5,563.2 218.5,563.4 219.5,563.5 220.5,563.6 221.5,563.6 222.5,563.7 223.5,563.8 224.5,563.8 225.5,563.9 226.5,563.9 227.5,564 228.5,564 229.5,564.1 230.5,564.1 231.5,564.1 232.5,564.2 233.5,564.2 234.5,564.2 235.5,564.3 236.5,564.3 237.5,564.3 238.5,564.4 239.5,564.4 240.5,564.5 241.5,564.5 242.5,564.6 243.5,564.6 244.5,564.6 245.5,564.7 246.5,564.7 247.5,564.8 248.5,564.8 249.5,564.9 250.5,564.9 251.5,565 252.5,565 253.5,565 254.5,565.1 255.5,565.1 256.5,565.1 257.5,565.1 258.5,565.1 259.5,565.1 260.5,565.1 261.5,565.1 262.5,565 263.5,564.9 264.5,564.8 265.5,564.6 266.5,564.3 267.5,564 268.5,563.6 269.5,563.1 270.5,562.5 271.5,561.8 272.5,561 273.5,560.1 274.5,559 275.5,557.8 276.5,556.4 277.5,554.8 278.5,553 279.5,551 280.5,548.8 281.5,546.4 282.5,543.7 283.5,540.8 284.5,537.6 285.5,534.2 286.5,530.4 287.5,526.3 288.5,521.9 289.5,517.2 290.5,512.3 291.5,507.1 292.5,501.6 293.5,495.9 294.5,490.1 295.5,484.1 296.5,478 297.5,471.9 298.5,465.7 299.5,459.7 300.5,453.8 301.5,448.1 302.5,442.7 303.5,437.6 304.5,432.9 305.5,428.6 306.5,424.9 307.5,421.8 308.5,419.3 309.5,417.4 310.5,416.3 311.5,415.9 312.5,416.2 313.5,417.2 314.5,419.1 315.5,421.6 316.5,424.8 317.5,428.6 318.5,433 319.5,438 320.5,443.4 321.5,449.1 322.5,455.2 323.5,461.6 324.5,468.1 325.5,474.8 326.5,481.5 327.5,488.1 328.5,494.7 329.5,501.2 330.5,507.5 331.5,513.7 332.5,519.5 333.5,525.2 334.5,530.5 335.5,535.5 336.5,540.2 337.5,544.6 338.5,548.6 339.5,552.4 340.5,555.8 341.5,558.8 342.5,561.7 343.5,564.2 344.5,566.5 345.5,568.5 346.5,570.3 347.5,571.9 348.5,573.3 349.5,574.5 350.5,575.6 351.5,576.5 352.5,577.3 353.5,578 354.5,578.6 355.5,579.2 356.5,579.6 357.5,580 358.5,580.3 359.5,580.6 360.5,580.9 361.5,581.1 362.5,581.3 363.5,581.5 364.5,581.6 365.5,581.7 366.5,581.9 367.5,582 368.5,582.1 369.5,582.1 370.5,582.2 371.5,582.3 372.5,582.4 373.5,582.4 374.5,582.5 375.5,582.5 376.5,582.6 377.5,582.6 378.5,582.7 379.5,582.7 380.5,582.8 381.5,582.8 382.5,582.9 383.5,582.9 384.5,582.9 385.5,582.9 386.5,583 387.5,583 388.5,583 389.5,583.1 390.5,583.1 391.5,583.1 392.5,583.1 393.5,583.1 394.5,583.2 395.5,583.2 396.5,583.2" fill="none" stroke="#4169e1" stroke-width="3.2" stroke-linejoin="round"/>
<polyline points="56.5,555 57.5,555 58.5,555 59.5,555 60.5,555 61.5,555 62.5,555 63.5,555 64.5,555 65.5,555.1 66.5,555.1 67.5,555.1 68.5,555.1 69.5,555.1 70.5,555.1 71.5,555.1 72.5,555.1 73.5,555.2 74.5,555.2 75.5,555.2 76.5,555.2 77.5,555.2 78.5,555.3 79.5,555.3 80.5,555.3 81.5,555.3 82.5,555.3 83.5,555.4 84.5,555.4 85.5,555.4 86.5,555.4 87.5,555.5 88.5,555.5 89.5,555.5 90.5,555.5 91.5,555.6 92.5,555.6 93.5,555.6 94.5,555.6 95.5,555.7 96.5,555.7 97.5,555.7 98.5,555.8 99.5,555.8 100.5,555.8 101.5,555.8 102.5,555.9 103.5,555.9 104.5,555.9 105.5,556 106.5,556 107.5,556.1 108.5,556.1 109.5,556.2 110.5,556.2 111.5,556.3 112.5,556.3 113.5,556.4 114.5,556.4 115.5,556.5 116.5,556.5 117.5,556.6 118.5,556.7 119.5,556.7 120.5,556.8 121.5,556.9 122.5,556.9 123.5,557 124.5,557.1 125.5,557.2 126.5,557.2 127.5,557.3 128.5,557.4 129.5,557.5 130.5,557.5 131.5,557.6 132.5,557.7 133.5,557.8 134.5,557.9 135.5,558 136.5,558.1 137.5,558.3 138.5,558.4 139.5,558.5 140.5,558.6 141.5,558.8 142.5,558.9 143.5,559 144.5,559.2 145.5,559.3 146.5,559.5 147.5,559.6 148.5,559.8 149.5,559.9 150.5,560.1 151.5,560.2 152.5,560.4 153.5,560.6 154.5,560.8 155.5,561 156.5,561.2 157.5,561.4 158.5,561.6 159.5,561.8 160.5,562 161.5,562.2 162.5,562.4 163.5,562.6 164.5,562.8 165.5,563 166.5,563.2 167.5,563.4 168.5,563.6 169.5,563.7 170.5,563.9 171.5,564 172.5,564.2 173.5,564.4 174.5,564.5 175.5,564.7 176.5,564.8 177.5,565 178.5,565.1 179.5,565.3 180.5,565.4 181.5,565.5 182.5,565.7 183.5,565.8 184.5,565.9 185.5,566 186.5,566.2 187.5,566.3 188.5,566.4 189.5,566.5 190.5,566.5 191.5,566.6 192.5,566.7 193.5,566.8 194.5,566.9 195.5,566.9 196.5,567 197.5,567.1 198.5,567.1 199.5,567.2 200.5,567.2 201.5,567.3 202.5,567.4 203.5,567.4 204.5,567.5 205.5,567.5 206.5,567.6 207.5,567.6 208.5,567.7 209.5,567.7 210.5,567.8 211.5,567.8 212.5,567.9 213.5,567.9 214.5,568 215.5,568 216.5,568.1 217.5,568.1 218.5,568.2 219.5,568.2 220.5,568.2 221.5,568.3 222.5,568.3 223.5,568.3 224.5,568.4 225.5,568.4 226.5,568.4 227.5,568.5 228.5,568.5 229.5,568.6 230.5,568.6 231.5,568.6 232.5,568.7 233.5,568.7 234.5,568.7 235.5,568.8 236.5,568.8 237.5,568.9 238.5,568.9 239.5,569 240.5,569 241.5,569.1 242.5,569.1 243.5,569.2 244.5,569.3 245.5,569.3 246.5,569.4 247.5,569.5 248.5,569.5 249.5,569.6 250.5,569.7 251.5,569.8 252.5,569.8 253.5,569.9 254.5,570 255.5,570.1 256.5,570.2 257.5,570.3 258.5,570.4 259.5,570.5 260.5,570.6 261.5,570.7 262.5,570.7 263.5,570.8 264.5,570.9 265.5,571.1 266.5,571.2 267.5,571.3 268.5,571.4 269.5,571.5 270.5,571.6 271.5,571.7 272.5,571.9 273.5,572 274.5,572.1 275.5,572.3 276.5,572.4 277.5,572.5 278.5,572.7 279.5,572.8 280.5,573 281.5,573.1 282.5,573.3 283.5,573.4 284.5,573.6 285.5,573.8 286.5,573.9 287.5,574.1 288.5,574.2 289.5,574.4 290.5,574.6 291.5,574.8 292.5,575 293.5,575.1 294.5,575.3 295.5,575.6 296.5,575.8 297.5,576 298.5,576.2 299.5,576.4 300.5,576.7 301.5,576.9 302.5,577.1 303.5,577.3 304.5,577.6 305.5,577.8 306.5,578 307.5,578.2 308.5,578.5 309.5,578.7 310.5,578.9 311.5,579.1 312.5,579.3 313.5,579.5 314.5,579.7 315.5,579.9 316.5,580.1 317.5,580.4 318.5,580.6 319.5,580.8 320.5,581 321.5,581.2 322.5,581.4 323.5,581.6 324.5,581.8 325.5,582 326.5,582.1 327.5,582.3 328.5,582.4 329.5,582.5 330.5,582.7 331.5,582.8 332.5,582.9 333.5,583 334.5,583.1 335.5,583.2 336.5,583.3 337.5,583.4 338.5,583.5 339.5,583.6 340.5,583.7 341.5,583.8 342.5,583.8 343.5,583.9 344.5,584 345.5,584 346.5,584.1 347.5,584.1 348.5,584.2 349.5,584.2 350.5,584.2 351.5,584.2 352.5,584.2 353.5,584.3 354.5,584.3 355.5,584.3 356.5,584.3 357.5,584.3 358.5,584.3 359.5,584.3 360.5,584.4 361.5,584.4 362.5,584.4 363.5,584.4 364.5,584.4 365.5,584.4 366.5,584.4 367.5,584.4 368.5,584.5 369.5,584.5 370.5,584.5 371.5,584.5 372.5,584.5 373.5,584.5 374.5,584.5 375.5,584.5 376.5,584.5 377.5,584.5 378.5,584.5 379.5,584.5 380.5,584.5 381.5,584.6 382.5,584.6 383.5,584.6 384.5,584.6 385.5,584.6 386.5,584.6 387.5,584.6 388.5,584.6 389.5,584.6 390.5,584.6 391.5,584.6 392.5,584.6 393.5,584.6 394.5,584.6 395.5,584.6 396.5,584.6" fill="none" stroke="#000" stroke-width="2.8" stroke-linejoin="round"/>
<path d="M57 549.7h0M59.6 550.4h0M62.2 548.5h0M64.8 551.3h0M67.4 549h0M70 546.5h0M72.6 545.3h0M75.2 545.8h0M77.8 543h0M80.4 541.8h0M83 543.3h0M85.6 545.8h0M88.2 540.9h0M90.8 539.9h0M93.4 538.6h0M96 538.1h0M98.6 540.9h0M101.2 541.3h0M103.8 539.8h0M106.4 540.1h0M109 539.2h0M111.6 538.5h0M114.2 534.7h0M116.8 534.9h0M119.4 533.8h0M122 529.9h0M124.6 527.5h0M127.2 523.6h0M129.8 520.8h0M132.4 518.7h0M135 512.4h0M137.6 508.2h0M140.2 504.7h0M142.8 498.8h0M145.4 494.3h0M148 481.3h0M150.6 478.6h0M153.2 468.6h0M155.8 461.7h0M158.4 455.5h0M161 449.8h0M163.6 445.9h0M166.2 443.9h0M168.8 449.1h0M171.4 452h0M174 460.7h0M176.6 472.4h0M179.2 481.5h0M181.8 497.6h0M184.4 507.3h0M187 520h0M189.6 526.2h0M192.2 534.1h0M194.8 541.9h0M197.4 548.3h0M200 550.2h0M202.6 554.6h0M205.2 555.8h0M207.8 559.3h0M210.4 555.9h0M213 558.2h0M215.6 554.7h0M218.2 553h0M220.8 551.9h0M223.4 549.4h0M226 549.8h0M228.6 549.5h0M231.2 546.4h0M233.8 545.7h0M236.4 546.1h0M239 542.9h0M241.6 542.1h0M244.2 540.9h0M246.8 538.4h0M249.4 541.9h0M252 537.5h0M254.6 540.7h0M257.2 538.6h0M259.8 538.8h0M262.4 534.6h0M265 530.4h0M267.6 528.6h0M270.2 522.6h0M272.8 518h0M275.4 512.5h0M278 505.9h0M280.6 498.9h0M283.2 490.6h0M285.8 483.7h0M288.4 471.8h0M291 465.3h0M293.6 453.2h0M296.2 445.8h0M298.8 434.7h0M301.4 418.5h0M304 411.8h0M306.6 403.5h0M309.2 398.2h0M311.8 402.1h0M314.4 407.4h0M317 416.7h0M319.6 433.5h0M322.2 450.3h0M324.8 468.4h0M327.4 484.3h0M330 504.5h0M332.6 520.7h0M335.2 531.8h0M337.8 544.4h0M340.4 555h0M343 561.8h0M345.6 571.3h0M348.2 573.1h0M350.8 574.1h0M353.4 576.6h0M356 579.2h0M358.6 583.9h0M361.2 580.6h0M363.8 581.6h0M366.4 582.6h0M369 581.9h0M371.6 585.9h0M374.2 581.5h0M376.8 583.7h0M379.4 582.9h0M382 583.8h0M384.6 581h0M387.2 585.8h0M389.8 582.8h0M392.4 583.1h0M395 581.6h0" stroke="#000" stroke-width="2" stroke-linecap="round" fill="none"/>
<line x1="322.7" y1="117" x2="322.7" y2="617" stroke="#000" stroke-width="2.0" stroke-dasharray="5.2 7.7"/>
<line x1="313.1" y1="417" x2="313.1" y2="617" stroke="#000" stroke-width="2.0" stroke-dasharray="5.2 7.7"/>
<text x="322.0" y="54.3" font-size="24.4" textLength="66.5" lengthAdjust="spacingAndGlyphs">Pd 3<tspan font-style="italic">d</tspan></text>
<text x="288.6" y="111.0" font-size="25">335.2</text>
<text x="253.2" y="379.4" font-size="25.3">335.6</text>
<text x="383.3" y="337.0" font-size="24.6">i</text>
<text x="376.0" y="564.5" font-size="24.6">ii</text>
<line x1="968.2" y1="617.8" x2="968.2" y2="628.3" stroke="#000" stroke-width="2.0"/>
<text x="968.2" y="658.5" font-size="25" text-anchor="middle">1400</text>
<line x1="919.6" y1="617.8" x2="919.6" y2="623.3" stroke="#000" stroke-width="2.0"/>
<line x1="871" y1="617.8" x2="871" y2="628.3" stroke="#000" stroke-width="2.0"/>
<text x="871.0" y="658.5" font-size="25" text-anchor="middle">1500</text>
<line x1="822.4" y1="617.8" x2="822.4" y2="623.3" stroke="#000" stroke-width="2.0"/>
<line x1="773.8" y1="617.8" x2="773.8" y2="628.3" stroke="#000" stroke-width="2.0"/>
<text x="773.8" y="658.5" font-size="25" text-anchor="middle">1600</text>
<line x1="725.1" y1="617.8" x2="725.1" y2="623.3" stroke="#000" stroke-width="2.0"/>
<line x1="676.5" y1="617.8" x2="676.5" y2="628.3" stroke="#000" stroke-width="2.0"/>
<text x="676.5" y="658.5" font-size="25" text-anchor="middle">1700</text>
<line x1="627.9" y1="617.8" x2="627.9" y2="623.3" stroke="#000" stroke-width="2.0"/>
<line x1="579.3" y1="617.8" x2="579.3" y2="628.3" stroke="#000" stroke-width="2.0"/>
<text x="579.3" y="658.5" font-size="25" text-anchor="middle">1800</text>
<line x1="530.7" y1="617.8" x2="530.7" y2="623.3" stroke="#000" stroke-width="2.0"/>
<line x1="482.1" y1="617.8" x2="482.1" y2="628.3" stroke="#000" stroke-width="2.0"/>
<text x="482.1" y="658.5" font-size="25" text-anchor="middle">1900</text>
<polyline points="483,68.9 484,68.9 485,68.5 486,68.2 487,68.2 488,68.3 489,68.9 490,69.3 491,68.7 492,68.5 493,69 494,69.1 495,68.7 496,68.4 497,68.7 498,68.8 499,68.3 500,67.9 501,67.6 502,67.4 503,67.7 504,68 505,68.3 506,68.7 507,68.9 508,68.2 509,67.5 510,68 511,68.7 512,68.5 513,68 514,68 515,68.1 516,68.5 517,68.9 518,68.7 519,68.8 520,69.1 521,68.7 522,68.6 523,68.8 524,68.6 525,68.3 526,68.9 527,69.1 528,68.6 529,68.9 530,68.9 531,69 532,69.7 533,69.3 534,68.5 535,68.7 536,69 537,69 538,69 539,69.1 540,69.4 541,69.4 542,68.9 543,68.6 544,68.7 545,68.5 546,68.2 547,68.2 548,68.8 549,69.4 550,69.2 551,68.3 552,68.3 553,68.5 554,68 555,68.1 556,68.9 557,69.5 558,69.3 559,68.7 560,68.5 561,69 562,69.3 563,68.9 564,68.7 565,68.9 566,68.8 567,68.5 568,68.4 569,68.6 570,69 571,69.5 572,69.5 573,69.3 574,69.2 575,69.3 576,69.4 577,69.4 578,69.1 579,68.8 580,68.6 581,68.1 582,67.9 583,68.4 584,68.8 585,69.6 586,70.1 587,69.3 588,69 589,69.5 590,69.7 591,69.5 592,69.5 593,69.9 594,69.7 595,69.2 596,69.4 597,69.4 598,69.3 599,69.4 600,69.7 601,70.1 602,70.2 603,69.9 604,69.7 605,69.4 606,68.9 607,69.2 608,69.5 609,69.5 610,69.7 611,69.8 612,70.1 613,70.3 614,70.6 615,70.4 616,70.2 617,71.2 618,71.6 619,71 620,70.7 621,70.6 622,70.8 623,71.3 624,71.2 625,71 626,71 627,70.8 628,71.2 629,72 630,72.3 631,72.4 632,72.2 633,71.9 634,71.9 635,72.2 636,72.4 637,72.5 638,72.4 639,72.2 640,73 641,73.9 642,73.5 643,73.3 644,74.3 645,74.7 646,74.2 647,74.3 648,74.4 649,74.7 650,75.6 651,76.2 652,76.2 653,76.4 654,76.9 655,77.1 656,77.2 657,77.3 658,78.1 659,79.5 660,80.1 661,80.6 662,81.2 663,81.5 664,82 665,82.6 666,82.6 667,82.5 668,82.8 669,83.2 670,83.1 671,82.6 672,81.8 673,81.7 674,82.4 675,82.6 676,82.2 677,82.2 678,82.3 679,82.3 680,82 681,81.7 682,81.6 683,81.2 684,81.3 685,81.5 686,81.7 687,82 688,81.3 689,79.8 690,79.5 691,80 692,79.9 693,80.1 694,80.1 695,79.1 696,79 697,80 698,80.5 699,80.5 700,80.6 701,80.4 702,80.4 703,81 704,81.1 705,81.4 706,82.4 707,83.2 708,83.6 709,84 710,84.7 711,85.5 712,86.6 713,87.8 714,88.9 715,90.4 716,92.6 717,94.7 718,96.6 719,100 720,105.5 721,111.5 722,117.8 723,126.5 724,134.8 725,138.4 726,140.3 727,142.3 728,144 729,144.5 730,144.4 731,144.7 732,144.2 733,142.9 734,142.3 735,141.3 736,138.6 737,136.2 738,135.6 739,136.3 740,136.3 741,136 742,136 743,136.2 744,136.5 745,136.5 746,136 747,135.9 748,136.6 749,137.4 750,138.2 751,138.6 752,139.4 753,140.1 754,140.8 755,142.4 756,143.1 757,143 758,143.5 759,143.2 760,142.6 761,142.7 762,142 763,139.9 764,137.3 765,134.8 766,132.5 767,130.1 768,127.3 769,124.9 770,123 771,120.7 772,118.1 773,116.4 774,115.7 775,114.7 776,113.4 777,112.6 778,112.3 779,112.4 780,112.7 781,113.3 782,114.5 783,115.8 784,116.5 785,116.8 786,117.2 787,118.3 788,119.8 789,120.5 790,120.8 791,121.2 792,121.8 793,123.2 794,124.4 795,125 796,125.7 797,126.9 798,127.7 799,128.5 800,129.7 801,131.2 802,132.5 803,133.4 804,134.6 805,135.6 806,135.6 807,135.8 808,136.7 809,137.2 810,137.6 811,138.9 812,139.8 813,139.6 814,139.3 815,139.4 816,139.6 817,139.3 818,139.3 819,139.6 820,139.1 821,139 822,138.6 823,137.4 824,136.7 825,135.9 826,134.3 827,132.5 828,131.4 829,131.3 830,131.1 831,129.7 832,127.5 833,126 834,125 835,123.9 836,122.5 837,121.1 838,119.6 839,117.9 840,116.5 841,115.1 842,113.7 843,112.8 844,111.9 845,110.2 846,108.1 847,106.5 848,105.5 849,103.9 850,103 851,103 852,102.2 853,100.3 854,98.7 855,97.9 856,97.3 857,97.2 858,96.8 859,95.2 860,93.4 861,92.5 862,92.1 863,91.5 864,90.7 865,90.3 866,90.1 867,90.3 868,90.3 869,89.5 870,88.7 871,88.2 872,87.8 873,87.2 874,86.7 875,86.1 876,86.2 877,86.9 878,87.1 879,87.2 880,87.1 881,86.4 882,86.6 883,87.4 884,87.7 885,88 886,88.5 887,88.3 888,87.8 889,88.3 890,89.4 891,89.4 892,89.3 893,90.4 894,91.3 895,91.4 896,91.3 897,91.2 898,92.3 899,93.8 900,94.5 901,95.1 902,95.6 903,96.1 904,96.8 905,98.5 906,100.1 907,101.3 908,103.4 909,105.5 910,107.5 911,110.4 912,113.8 913,117.1 914,120.2 915,123.3 916,126.9 917,130.6 918,134.6 919,139 920,142.2 921,144 922,146.1 923,148.1 924,149.9 925,151.7 926,152.8 927,153.1 928,152.4 929,151.6 930,150.5 931,149.2 932,148.2 933,146.8 934,145.3 935,143.5 936,141.6 937,140.6 938,139.9 939,138.6 940,136.9 941,135.2 942,133.8 943,132.8 944,131 945,129.4 946,129 947,128.1 948,126.1 949,124.6 950,123.7 951,123 952,122.5 953,121.5 954,120.9 955,120.4 956,119.7 957,118.9 958,117.8 959,116.6 960,116.5 961,117 962,116.4 963,115.6 964,115.2 965,114.8 966,114.9 967,115" fill="none" stroke="#a51c1c" stroke-width="2.9" stroke-linejoin="round"/>
<text x="493.0" y="60.3" font-size="20.6" fill="#a01a1a">K-HKUST-1-R</text>
<polyline points="483,122.6 484,122.3 485,122.4 486,122.7 487,123.4 488,123.5 489,122.7 490,122.4 491,123 492,123.1 493,122.4 494,122.6 495,123 496,123.1 497,122.8 498,122.5 499,122.3 500,122.6 501,123.5 502,123.5 503,122.8 504,122.2 505,122.1 506,122.5 507,122.8 508,122.9 509,122.7 510,122.5 511,122.7 512,123.1 513,123.7 514,123.8 515,123 516,122.6 517,122.6 518,122.5 519,122.5 520,122.5 521,122.6 522,122.9 523,123 524,122.9 525,122.7 526,122.4 527,122.3 528,122.5 529,122.6 530,122.8 531,122.6 532,122.3 533,122.4 534,122.2 535,122.3 536,122.2 537,122 538,122.5 539,122.8 540,122.7 541,122.6 542,122.4 543,122.3 544,122.4 545,122.6 546,122.5 547,122.4 548,122.7 549,122.9 550,122.7 551,122.7 552,122.6 553,122.4 554,122.7 555,123 556,123 557,122.9 558,122.6 559,122.7 560,123.1 561,123.2 562,122.7 563,122.5 564,123 565,123.6 566,123.6 567,123 568,122.7 569,123.1 570,122.8 571,122.3 572,122.6 573,122.5 574,122.4 575,123.1 576,123.6 577,123.6 578,123.8 579,124.5 580,124.5 581,123.9 582,123.4 583,123.1 584,123.4 585,124 586,124.2 587,124.3 588,124.3 589,124.1 590,124.2 591,124.7 592,124.9 593,125 594,124.8 595,124.6 596,124.6 597,124.2 598,124.2 599,124.8 600,125.1 601,124.8 602,124.5 603,124.7 604,124.8 605,124.5 606,124.4 607,125.1 608,125.9 609,125.9 610,125.6 611,125.9 612,125.8 613,125.2 614,125.8 615,126.7 616,127.1 617,127.6 618,127.5 619,127.3 620,127.4 621,127.4 622,127.3 623,127.5 624,128.3 625,128.6 626,128.3 627,128.1 628,128.6 629,129 630,129.1 631,129.1 632,128.8 633,128.9 634,129.3 635,129.9 636,129.9 637,129.3 638,129.5 639,130 640,129.9 641,130 642,130.9 643,131.3 644,131.2 645,131.3 646,131.6 647,131.8 648,131.9 649,131.6 650,131.6 651,132 652,132.2 653,132.6 654,132.7 655,132.5 656,132.7 657,133.1 658,133.3 659,133.2 660,133.4 661,134.3 662,135.1 663,134.9 664,134.3 665,134.4 666,134.7 667,134.3 668,134 669,134.4 670,134.6 671,134.2 672,133.8 673,134.2 674,134.9 675,135 676,135.1 677,135.5 678,135.7 679,135.7 680,135.7 681,135.6 682,135.5 683,135.9 684,136.5 685,136.5 686,136.2 687,136.4 688,136.9 689,137 690,136.6 691,136.7 692,137.7 693,138.8 694,138.8 695,138.5 696,139.1 697,139.6 698,139.3 699,139.5 700,140.3 701,140.6 702,140.7 703,141 704,142 705,142.5 706,142.4 707,142.2 708,142.2 709,143 710,143.9 711,144.7 712,145.7 713,146.6 714,148.3 715,150.9 716,153.6 717,156.2 718,159 719,161.5 720,164.4 721,168.5 722,172.5 723,177.2 724,182 725,185 726,187.3 727,190.2 728,193.2 729,196 730,197.7 731,198.6 732,198.8 733,198.3 734,197.6 735,196.5 736,195.1 737,194 738,193.2 739,192.6 740,192.2 741,192.8 742,193.6 743,193.7 744,193.2 745,192.5 746,192.2 747,192.4 748,192.1 749,191.8 750,191.7 751,191.6 752,191.4 753,191.2 754,190.9 755,191.3 756,191.8 757,191.2 758,190.6 759,190.7 760,190.1 761,188.8 762,187.7 763,186.6 764,184.7 765,182.9 766,181 767,178.6 768,176.6 769,175.2 770,173.9 771,172 772,170.6 773,169.9 774,169.2 775,168.5 776,167.5 777,166.7 778,166.8 779,167 780,167.3 781,167.9 782,168.1 783,168.4 784,169.4 785,170.2 786,171.3 787,172.5 788,173.5 789,174.2 790,173.9 791,173.6 792,174 793,174.4 794,174.9 795,175.6 796,175.6 797,175.8 798,176.7 799,177.3 800,177.6 801,178 802,178.3 803,178.6 804,179.1 805,179.2 806,179.3 807,179.1 808,178.9 809,179.1 810,179.5 811,179.5 812,179.6 813,180.2 814,179.9 815,179 816,178.8 817,179.1 818,179.1 819,178.8 820,178.6 821,178.3 822,178.1 823,177.6 824,177.4 825,177.7 826,177.4 827,176 828,175.1 829,174.8 830,174.5 831,173.8 832,173.3 833,172.8 834,172 835,171.2 836,170.3 837,169.1 838,168.4 839,168.1 840,167.5 841,166.2 842,164.8 843,164.2 844,163.9 845,162.9 846,161.5 847,160.4 848,159.6 849,158.4 850,157.2 851,156.8 852,156.7 853,156.1 854,155.2 855,154.3 856,153.5 857,152.6 858,152.2 859,152.1 860,151 861,149.6 862,148.8 863,148.5 864,147.9 865,146.5 866,145.3 867,145.1 868,144.9 869,144.6 870,144.4 871,143.9 872,143.2 873,142.6 874,142.9 875,143.3 876,142.8 877,142.4 878,142.5 879,142.7 880,142.2 881,142.2 882,142.7 883,142.8 884,142.7 885,142.9 886,143.1 887,143.3 888,143.3 889,143.3 890,144 891,144.4 892,144.4 893,144.8 894,145.2 895,145.3 896,145.6 897,146.1 898,147.2 899,148.4 900,148.6 901,148.4 902,148.9 903,149.5 904,150.4 905,151.3 906,151.8 907,153 908,154.4 909,155.7 910,156.7 911,157.7 912,159.5 913,162.1 914,165.1 915,168.6 916,172 917,175.6 918,179.9 919,183.2 920,185.8 921,188.8 922,191.7 923,193.7 924,195.2 925,196.4 926,196.4 927,195.8 928,195.3 929,194.2 930,193.1 931,192.4 932,190.8 933,189 934,188 935,187.4 936,186.2 937,184.6 938,183.6 939,182.6 940,181.2 941,180 942,178.8 943,177.3 944,176.1 945,175.1 946,173.9 947,172.5 948,171.5 949,170.8 950,169.8 951,168.9 952,168.1 953,167.3 954,166.4 955,165.2 956,164.3 957,164 958,163.9 959,163 960,161.2 961,160.7 962,161 963,160.8 964,160.3 965,159.7 966,159.4 967,159.1" fill="none" stroke="#f07a78" stroke-width="2.9" stroke-linejoin="round"/>
<text x="493.0" y="115.2" font-size="20.6" fill="#e06862">Na-HKUST-1-R</text>
<polyline points="483,176.4 484,176.3 485,176.1 486,176.2 487,176.2 488,176.3 489,176.2 490,176.1 491,176.1 492,176 493,175.8 494,175.8 495,176 496,176.2 497,176.2 498,176.1 499,176.1 500,176 501,176 502,176 503,176 504,175.9 505,175.8 506,175.8 507,175.8 508,175.8 509,175.9 510,175.8 511,175.8 512,175.7 513,175.8 514,175.8 515,175.8 516,176 517,176 518,176 519,175.9 520,175.6 521,175.6 522,175.7 523,175.7 524,175.7 525,175.5 526,175.4 527,175.4 528,175.4 529,175.5 530,175.5 531,175.5 532,175.6 533,175.6 534,175.4 535,175.3 536,175.3 537,175.2 538,175.5 539,175.7 540,175.6 541,175.5 542,175.5 543,175.5 544,175.6 545,175.6 546,175.8 547,175.9 548,175.7 549,175.6 550,175.5 551,175.6 552,175.7 553,175.7 554,175.7 555,175.7 556,175.4 557,175.5 558,175.7 559,175.6 560,175.5 561,175.5 562,175.5 563,175.7 564,176 565,175.9 566,175.6 567,175.5 568,175.7 569,175.8 570,175.7 571,175.7 572,175.9 573,176 574,175.8 575,175.7 576,175.6 577,175.7 578,175.7 579,176 580,176.1 581,176.2 582,176.5 583,176.4 584,176.2 585,176.4 586,176.5 587,176.3 588,176.2 589,176.3 590,176.4 591,176.5 592,176.3 593,176.3 594,176.6 595,176.7 596,176.8 597,176.9 598,177 599,176.9 600,176.8 601,176.9 602,177 603,177.2 604,177.2 605,177.2 606,177.3 607,177.5 608,177.5 609,177.6 610,177.9 611,178 612,177.7 613,177.9 614,178.2 615,178.2 616,178 617,178 618,178 619,178.1 620,178.2 621,178.3 622,178.4 623,178.3 624,178.4 625,178.6 626,178.7 627,178.9 628,179.2 629,179.3 630,179.4 631,179.5 632,179.6 633,179.7 634,179.8 635,180 636,180.1 637,180.4 638,180.5 639,180.5 640,180.6 641,180.8 642,181 643,181.2 644,181.4 645,181.3 646,181.3 647,181.5 648,181.7 649,182.1 650,182.4 651,182.5 652,182.4 653,182.6 654,183 655,183.1 656,183.2 657,183.5 658,183.8 659,183.9 660,183.9 661,184 662,184.2 663,184.2 664,184.3 665,184.5 666,184.6 667,184.8 668,185.1 669,185.3 670,185.1 671,185 672,185.1 673,185.2 674,185.2 675,185 676,184.7 677,184.6 678,184.7 679,184.8 680,184.7 681,184.5 682,184.5 683,184.6 684,184.5 685,184.4 686,184.2 687,184.1 688,184.2 689,184.3 690,184.1 691,184.1 692,184.3 693,184.2 694,184.2 695,184.3 696,184.3 697,184.2 698,184.1 699,184.2 700,184.2 701,184.3 702,184.5 703,184.7 704,184.9 705,185.1 706,185.4 707,185.9 708,186.3 709,186.8 710,187.2 711,188 712,188.9 713,189.8 714,191 715,192.5 716,194.4 717,196.7 718,200.3 719,205.2 720,211 721,218.7 722,228 723,235.8 724,241.1 725,246.1 726,249.6 727,250.7 728,250.3 729,248.9 730,247 731,245.1 732,243.1 733,240.9 734,238 735,234.2 736,230.4 737,227.4 738,225.4 739,224.1 740,223.1 741,222.3 742,221.6 743,221.1 744,220.6 745,220 746,219.6 747,219.1 748,218.5 749,217.9 750,217.5 751,217.3 752,216.9 753,216.7 754,216.3 755,216.1 756,216.1 757,215.9 758,215.6 759,215.3 760,215 761,214.4 762,213.5 763,212.9 764,212.1 765,211.1 766,210.3 767,209.3 768,208 769,207 770,206.3 771,205.3 772,204.5 773,204.1 774,203.9 775,203.9 776,204 777,204.1 778,204.3 779,204.7 780,205 781,205.3 782,205.6 783,206.2 784,206.6 785,206.8 786,207 787,207.2 788,207.4 789,207.7 790,208 791,208.3 792,208.4 793,208.5 794,208.7 795,209.1 796,209.5 797,209.7 798,209.9 799,210.2 800,210.4 801,210.4 802,210.3 803,210.4 804,210.7 805,211.1 806,211.2 807,211.4 808,211.6 809,211.7 810,211.6 811,211.4 812,211.3 813,211.2 814,211.1 815,210.8 816,210.7 817,210.4 818,209.9 819,209.6 820,209.3 821,209 822,208.8 823,208.4 824,207.9 825,207.3 826,206.8 827,206.2 828,205.5 829,204.7 830,203.6 831,203 832,202.5 833,201.8 834,201 835,200 836,199.2 837,198.8 838,198.2 839,197.4 840,196.6 841,196.1 842,196 843,195.7 844,195.2 845,194.6 846,194 847,193.4 848,193 849,192.4 850,191.9 851,191.6 852,191.3 853,190.8 854,190.3 855,189.7 856,189.2 857,188.9 858,188.4 859,188 860,187.6 861,187.3 862,186.9 863,186.5 864,186.4 865,186.3 866,186.3 867,186.1 868,185.6 869,185.5 870,185.5 871,185.3 872,185.3 873,185.4 874,185.2 875,185 876,185.1 877,185.4 878,185.5 879,185.5 880,185.7 881,186.2 882,186.5 883,186.7 884,187.1 885,187.4 886,187.6 887,188 888,188.6 889,188.8 890,189.1 891,189.8 892,190.5 893,190.9 894,191.3 895,191.9 896,192.4 897,193 898,193.9 899,194.5 900,195.1 901,195.9 902,196.9 903,197.8 904,198.9 905,200.4 906,201.8 907,202.9 908,204.2 909,205.7 910,207.4 911,209.2 912,211.4 913,214.2 914,217.3 915,220.4 916,223.6 917,226.7 918,229.1 919,230.9 920,232.5 921,234 922,235.2 923,236.1 924,236.8 925,236.9 926,236.8 927,236.1 928,234.8 929,233.3 930,231.6 931,230 932,228.4 933,226.6 934,225.2 935,223.9 936,222.7 937,221.6 938,220.9 939,219.9 940,218.6 941,217.4 942,216.4 943,215.6 944,214.7 945,214 946,213.3 947,212.6 948,211.9 949,211.2 950,210.5 951,209.9 952,209.4 953,208.9 954,208.4 955,208 956,207.5 957,206.9 958,206.4 959,206.2 960,206.2 961,206.1 962,205.8 963,205.6 964,205.5 965,205.5 966,206.1 967,206.7" fill="none" stroke="#7a3cd4" stroke-width="2.9" stroke-linejoin="round"/>
<text x="493.0" y="165.8" font-size="20.6" fill="#7030d0">Pd/K-HKUST-1-R</text>
<polyline points="483,230.3 484,231.8 485,232 486,230.8 487,230.7 488,230.9 489,230.6 490,230.1 491,230.4 492,231 493,231.4 494,231.5 495,231.7 496,231.8 497,231.2 498,230.5 499,229.9 500,230.3 501,231 502,230.9 503,231 504,230.8 505,230.4 506,230.5 507,230.6 508,230.8 509,231.3 510,231.3 511,230.7 512,230.5 513,230.9 514,231.3 515,232 516,232.6 517,232 518,231.2 519,230.8 520,230.4 521,230.3 522,230.3 523,230.6 524,231 525,231.2 526,231 527,230.7 528,230.9 529,231.7 530,232.1 531,232.2 532,232.2 533,231.9 534,231.5 535,232 536,232.3 537,231.5 538,231.8 539,232.3 540,232 541,232 542,231.8 543,231.3 544,231.1 545,230.8 546,230.7 547,230.8 548,231.1 549,231.5 550,231.3 551,231.3 552,232.2 553,232.5 554,231.9 555,231.4 556,231.4 557,231.7 558,231.4 559,230.9 560,232.1 561,232.5 562,231.5 563,231.6 564,231.9 565,231.9 566,231.9 567,231.4 568,231.7 569,232.2 570,231.8 571,231.4 572,231.5 573,231.8 574,232.1 575,231.8 576,231.6 577,231.5 578,231.8 579,231.3 580,230.6 581,231 582,231.3 583,231.8 584,232.2 585,231.5 586,231.6 587,232.4 588,232.7 589,232.8 590,232.4 591,231.8 592,232.2 593,232.9 594,232.9 595,232.5 596,232.3 597,232.1 598,232.5 599,233.1 600,232.6 601,231.9 602,232.2 603,232.9 604,233 605,232.6 606,232.4 607,232.2 608,231.8 609,232.1 610,232.9 611,233 612,233.4 613,233.9 614,233.7 615,233.8 616,234.4 617,234 618,233.5 619,233.8 620,233.7 621,233.4 622,233.7 623,233.5 624,233.3 625,233.9 626,234.4 627,234.3 628,234.3 629,235 630,235.8 631,236 632,236.2 633,236.7 634,236.8 635,237.6 636,238.4 637,238.3 638,238.7 639,239.5 640,239.6 641,239.8 642,240.7 643,240.8 644,240.2 645,240.6 646,241.3 647,241.9 648,242.6 649,243.6 650,244.6 651,245.3 652,246.3 653,247.2 654,247.6 655,248.9 656,250.2 657,250.4 658,250.4 659,250.9 660,251.5 661,252.4 662,253 663,252.8 664,253.3 665,253.8 666,253.6 667,253.2 668,252.8 669,252.6 670,253.3 671,253.9 672,253.2 673,252.4 674,252.2 675,252.4 676,252.5 677,252.7 678,252.7 679,252.4 680,252 681,251.6 682,250.7 683,249.7 684,249.3 685,249 686,247.9 687,247.1 688,247.1 689,246.6 690,245.9 691,245.6 692,245.5 693,245.3 694,244.6 695,244.5 696,244.9 697,244.9 698,244.4 699,244.1 700,244 701,244.5 702,244.7 703,244.5 704,245.1 705,245.2 706,245.1 707,245.1 708,244.7 709,244.6 710,245.4 711,246.6 712,247.5 713,248.6 714,249.5 715,250.8 716,253.4 717,256.2 718,259.6 719,263.4 720,267.1 721,272.8 722,280.2 723,285.8 724,287.8 725,288.8 726,289.2 727,289.8 728,290.8 729,291.4 730,291.7 731,292.4 732,292.2 733,291.3 734,290.6 735,289.5 736,288 737,286.5 738,285.5 739,285.2 740,284.6 741,283.9 742,283.5 743,282.8 744,281.9 745,281.3 746,281.2 747,281.1 748,280.6 749,280.7 750,280.7 751,279.9 752,279.1 753,279.5 754,279.8 755,279.5 756,278.9 757,278.6 758,278.9 759,279.2 760,278.8 761,278.3 762,278.2 763,277.9 764,276.9 765,275.5 766,274.7 767,274.2 768,272.3 769,270.5 770,269.4 771,268.5 772,268.5 773,267.8 774,266 775,265.3 776,266.2 777,266.8 778,267 779,267 780,266.8 781,266.9 782,267.1 783,268 784,269.4 785,270.5 786,271.7 787,271.8 788,271.9 789,273.2 790,274.1 791,273.8 792,273.6 793,274.7 794,275.6 795,275.4 796,275.8 797,276.8 798,277.1 799,277 800,277.5 801,278.2 802,279.1 803,279.9 804,280.7 805,280.7 806,280.4 807,281.3 808,282.2 809,282.6 810,282.7 811,282.3 812,282.5 813,282.9 814,282.4 815,282.3 816,283.1 817,283.1 818,282.6 819,282 820,281.6 821,281.5 822,281.6 823,281 824,280.1 825,279.8 826,279 827,278.4 828,278.3 829,277.4 830,276.6 831,276.5 832,275.7 833,274.9 834,274.6 835,273.8 836,272.7 837,271.6 838,270.5 839,269.5 840,268.1 841,267.3 842,267 843,265.6 844,264.6 845,264 846,262.4 847,260.8 848,259.8 849,258.9 850,258.7 851,258.1 852,256.6 853,255.7 854,255.4 855,254.7 856,254 857,253.3 858,252.2 859,251.8 860,251.6 861,251.2 862,250.6 863,249.9 864,249.6 865,249.1 866,248 867,247.1 868,247 869,246.9 870,246.5 871,246.5 872,246.8 873,246.8 874,246.4 875,245.3 876,244.8 877,245.2 878,245.4 879,245.3 880,245.2 881,245.5 882,245.6 883,245.6 884,245.7 885,245.9 886,246.2 887,246.7 888,247.2 889,247.7 890,248.5 891,249 892,249.5 893,249.9 894,250.7 895,251.9 896,251.8 897,251.7 898,252.5 899,254.1 900,255.7 901,256.6 902,257.1 903,257.8 904,259.3 905,261.3 906,262.7 907,263.7 908,265.2 909,266.7 910,268 911,269.9 912,271.5 913,273.8 914,277.9 915,281.8 916,284.6 917,287.8 918,291.1 919,293.1 920,294.3 921,295.3 922,295.7 923,296.4 924,296.7 925,296.8 926,296.7 927,296.6 928,296.1 929,295 930,293.5 931,292.2 932,290.9 933,289.2 934,287.9 935,286.8 936,285.6 937,284.7 938,284.3 939,284.4 940,283.6 941,282.2 942,281.4 943,281.1 944,279.9 945,278.7 946,278.1 947,277.8 948,277.3 949,276.9 950,276.4 951,275.5 952,274.9 953,274.9 954,275 955,274.5 956,274.2 957,274.6 958,274.2 959,273.3 960,272.7 961,272.6 962,272.9 963,272.9 964,272.6 965,272.4 966,272.3 967,272.4" fill="none" stroke="#c9a2f4" stroke-width="2.9" stroke-linejoin="round"/>
<text x="493.0" y="222.5" font-size="20.6" fill="#a855d8">Pd/Na-HKUST-1-R</text>
<polyline points="483,285.9 484,285.8 485,285.6 486,285.5 487,285.7 488,285.7 489,285.6 490,285.6 491,285.6 492,285.7 493,285.7 494,285.7 495,285.7 496,285.6 497,285.5 498,285.7 499,285.8 500,285.8 501,285.9 502,285.9 503,285.6 504,285.7 505,285.9 506,285.9 507,285.7 508,285.5 509,285.6 510,285.5 511,285.5 512,285.6 513,285.5 514,285.6 515,285.7 516,285.7 517,285.7 518,285.9 519,285.9 520,285.8 521,285.7 522,285.8 523,286 524,285.9 525,285.7 526,285.8 527,285.9 528,286 529,286.1 530,286 531,285.8 532,285.7 533,285.7 534,285.8 535,286 536,286.2 537,285.9 538,285.5 539,285.6 540,285.7 541,285.6 542,285.6 543,285.8 544,285.9 545,285.8 546,285.8 547,285.9 548,285.8 549,285.7 550,285.6 551,285.7 552,285.8 553,285.7 554,285.8 555,286 556,285.9 557,285.8 558,285.9 559,286.1 560,286.2 561,285.9 562,285.7 563,285.8 564,286.1 565,286.2 566,286.2 567,286.1 568,286 569,285.9 570,286 571,286 572,285.9 573,286.1 574,286.2 575,285.9 576,285.9 577,286 578,285.9 579,285.9 580,286.1 581,286.2 582,286.3 583,286.4 584,286.3 585,286.2 586,286.2 587,286.1 588,286.2 589,286.3 590,286.3 591,286.4 592,286.6 593,286.7 594,286.6 595,286.6 596,286.7 597,286.7 598,286.8 599,286.8 600,286.6 601,286.5 602,286.5 603,286.6 604,286.9 605,287 606,286.9 607,286.8 608,286.8 609,286.8 610,286.8 611,286.9 612,286.9 613,287.1 614,287.2 615,287.1 616,287.1 617,287.2 618,287.5 619,287.5 620,287.7 621,287.7 622,287.6 623,287.6 624,287.9 625,288.2 626,288.2 627,288.5 628,289.1 629,289.7 630,290.2 631,290.6 632,291.1 633,291.8 634,292.6 635,293.1 636,293.6 637,294.5 638,295.5 639,296.3 640,296.9 641,297.5 642,298.4 643,299 644,299.6 645,300.2 646,300.9 647,301.5 648,302.2 649,302.9 650,303.7 651,304.5 652,305.2 653,306.1 654,306.9 655,307.4 656,307.9 657,308.5 658,309.2 659,309.7 660,310.1 661,310.4 662,310.6 663,310.8 664,311.1 665,311.5 666,311.8 667,312 668,312.3 669,312.4 670,312.2 671,312.4 672,312.6 673,313 674,313.1 675,312.8 676,312.4 677,312.1 678,311.8 679,311.5 680,310.9 681,310.3 682,309.8 683,309.2 684,308.6 685,308.3 686,307.6 687,307 688,306.5 689,306.2 690,306 691,305.7 692,305.2 693,304.9 694,304.6 695,304.3 696,304 697,303.7 698,303.4 699,303.1 700,302.9 701,302.6 702,302.3 703,302.3 704,302.3 705,302.3 706,302.3 707,302.5 708,303 709,303.5 710,304 711,304.6 712,305.4 713,306.1 714,306.7 715,307.5 716,308.6 717,310.4 718,312.9 719,315.9 720,319.1 721,324 722,331.1 723,336.8 724,339.9 725,342.8 726,345.1 727,347 728,348.6 729,350 730,351.1 731,351.8 732,351.9 733,351.4 734,350.6 735,349.6 736,348.3 737,346.7 738,345.2 739,343.9 740,342.9 741,342.1 742,341.6 743,341.2 744,340.9 745,341 746,340.9 747,340.4 748,340.2 749,340.1 750,339.9 751,339.9 752,340 753,340.1 754,340.2 755,340.2 756,340.3 757,340.4 758,340.5 759,340.6 760,340.7 761,340.7 762,340.4 763,339.6 764,338.6 765,337.7 766,336.5 767,334.8 768,333 769,331.1 770,329.5 771,328 772,326.7 773,325.6 774,324.7 775,324 776,323.8 777,324 778,324.3 779,324.6 780,325.2 781,325.9 782,326.4 783,326.9 784,327.8 785,328.9 786,329.7 787,330.2 788,330.6 789,331.2 790,331.8 791,332.3 792,332.9 793,333.5 794,333.9 795,334.4 796,335 797,335.5 798,335.9 799,336.4 800,336.9 801,337.3 802,337.8 803,338.3 804,338.6 805,339 806,339.6 807,340.3 808,340.8 809,341 810,341.2 811,341.4 812,341.6 813,341.7 814,341.8 815,341.9 816,342 817,342 818,341.9 819,341.8 820,341.7 821,341.5 822,341 823,340.6 824,340.1 825,339.6 826,339.1 827,338.6 828,338.2 829,337.7 830,337 831,336.2 832,335.7 833,335.1 834,334.5 835,333.7 836,332.9 837,332.1 838,331.1 839,330 840,329.2 841,328.2 842,327 843,325.9 844,324.8 845,323.8 846,322.7 847,321.5 848,320.5 849,319.6 850,318.8 851,317.9 852,317.1 853,316.1 854,315.2 855,314.6 856,313.9 857,313.3 858,312.7 859,311.9 860,310.9 861,310.2 862,309.4 863,308.6 864,307.8 865,307.1 866,306.6 867,305.9 868,305.2 869,304.6 870,303.9 871,303.4 872,303 873,302.6 874,302.1 875,301.5 876,301.3 877,301.3 878,301 879,300.9 880,301 881,301.1 882,301 883,301.2 884,301.5 885,301.7 886,301.8 887,302 888,302.1 889,302.6 890,303.2 891,303.7 892,304 893,304.4 894,304.9 895,305.5 896,306.1 897,306.9 898,307.8 899,308.5 900,309 901,309.6 902,310.2 903,311.1 904,312.5 905,314.1 906,315.6 907,317.2 908,318.7 909,320.5 910,322.4 911,324.4 912,326.4 913,329.9 914,334.6 915,339.8 916,344.6 917,348.2 918,350.3 919,352.3 920,354.2 921,355.8 922,357.2 923,358.1 924,358.7 925,358.7 926,358.3 927,357.5 928,356.5 929,355.3 930,353.9 931,352.4 932,350.7 933,349 934,347.4 935,346.1 936,344.8 937,343.8 938,342.9 939,341.7 940,340.8 941,340 942,339.1 943,338.2 944,337.6 945,336.8 946,336 947,335.3 948,334.7 949,334.1 950,333.7 951,333.4 952,333.1 953,332.8 954,332.6 955,332.5 956,332.4 957,332.2 958,332.1 959,332.2 960,332.2 961,331.9 962,331.8 963,331.6 964,331.3 965,331.4 966,331.5 967,331.6" fill="none" stroke="#2246e6" stroke-width="2.9" stroke-linejoin="round"/>
<text x="493.0" y="276.6" font-size="20.6" fill="#1a2a88">Pd/Co-HKUST-1-R</text>
<polyline points="483,339.9 484,339.8 485,339.9 486,340 487,339.9 488,339.8 489,339.8 490,339.9 491,340.3 492,340.4 493,340.3 494,340.2 495,340.3 496,340.4 497,340.5 498,340.3 499,340.1 500,340.1 501,340.1 502,340.1 503,340 504,339.8 505,339.6 506,339.6 507,339.7 508,339.9 509,340 510,339.9 511,340.1 512,340.3 513,340.3 514,340.5 515,340.5 516,340.2 517,340.2 518,340.3 519,340.3 520,340.3 521,340.1 522,339.9 523,339.9 524,340 525,340 526,339.9 527,340 528,340.2 529,340.3 530,340.1 531,339.9 532,339.9 533,340.1 534,340.2 535,340.3 536,340.4 537,340.4 538,340.3 539,340.4 540,340.4 541,340.4 542,340.5 543,340.5 544,340.4 545,340.4 546,340.6 547,340.7 548,340.7 549,340.6 550,340.6 551,340.6 552,340.7 553,340.4 554,340.3 555,340.6 556,340.5 557,340.3 558,340.3 559,340.6 560,340.9 561,340.7 562,340.4 563,340.5 564,340.7 565,340.8 566,340.4 567,340.2 568,340.5 569,340.6 570,340.4 571,340.4 572,340.8 573,340.9 574,340.7 575,340.8 576,341 577,341.2 578,341.1 579,341 580,341.1 581,341.1 582,341 583,341 584,340.8 585,340.9 586,341.2 587,341.1 588,341 589,341 590,340.9 591,340.8 592,341 593,341.2 594,341.4 595,341.5 596,341.5 597,341.5 598,341.5 599,341.4 600,341.4 601,341.6 602,341.8 603,341.9 604,341.7 605,341.6 606,341.7 607,341.9 608,342 609,342 610,342 611,342.3 612,342.3 613,342.3 614,342.4 615,342.4 616,342.4 617,342.5 618,342.5 619,342.5 620,342.8 621,343.2 622,343.2 623,343.2 624,343.3 625,343.4 626,343.6 627,344 628,344.5 629,345 630,345.2 631,345.5 632,346.2 633,346.7 634,346.9 635,347.4 636,348.5 637,349.4 638,350 639,350.7 640,351.4 641,351.8 642,352.3 643,352.8 644,353.4 645,354.2 646,354.8 647,355.3 648,356.1 649,356.9 650,357.6 651,358.4 652,359.1 653,359.6 654,360.5 655,361.5 656,362 657,362.6 658,363.3 659,363.7 660,363.9 661,364.2 662,364.7 663,364.9 664,365 665,365.2 666,365.7 667,366 668,366 669,366 670,366.1 671,366.2 672,366.1 673,365.8 674,365.7 675,365.4 676,365.1 677,364.9 678,364.6 679,364.1 680,363.7 681,363.1 682,362.8 683,362.6 684,362.2 685,361.8 686,361.1 687,360.6 688,360.6 689,360.7 690,360.6 691,360.2 692,359.8 693,359.7 694,359.3 695,359.2 696,359.5 697,359.4 698,359.1 699,359.2 700,359.2 701,359.1 702,359 703,358.7 704,358.8 705,359.5 706,359.9 707,360 708,360.2 709,360.5 710,361 711,361.7 712,362.3 713,362.7 714,363.4 715,364.4 716,366 717,368 718,370.4 719,373.5 720,376.8 721,380.7 722,386.5 723,392.9 724,398.5 725,401.8 726,404.5 727,407.3 728,409.6 729,411.7 730,413.4 731,414.3 732,414.7 733,414 734,412.1 735,409.8 736,407.6 737,405.9 738,405.2 739,405.1 740,405.1 741,405.2 742,405.2 743,405.1 744,405 745,405.1 746,405.4 747,405.5 748,405.7 749,405.6 750,405.5 751,405.4 752,405.4 753,405.7 754,405.8 755,405.4 756,405.2 757,405.2 758,405.1 759,405.2 760,405.5 761,405.4 762,405 763,404.1 764,402.7 765,401 766,399.1 767,397 768,394.8 769,392.7 770,390.6 771,388.6 772,386.7 773,385 774,383.7 775,382.8 776,382.5 777,382.9 778,383.2 779,383.6 780,384.3 781,385 782,385.8 783,386.7 784,387.5 785,388.3 786,389.4 787,390.3 788,390.7 789,391.2 790,391.6 791,392.4 792,393.2 793,393.8 794,394.2 795,395.1 796,395.9 797,396.4 798,397 799,397.8 800,398.4 801,398.8 802,399.2 803,399.6 804,400.2 805,400.9 806,401.6 807,402.2 808,402.7 809,403 810,403.3 811,403.3 812,403.4 813,403.8 814,404.1 815,404.2 816,404.3 817,404.2 818,404.1 819,404.1 820,403.9 821,403.6 822,403.3 823,402.8 824,402.2 825,401.9 826,401.5 827,400.8 828,400.3 829,399.9 830,399.2 831,398.5 832,398 833,397.3 834,396.4 835,395.7 836,395 837,394.2 838,393.4 839,392.6 840,391.4 841,390.4 842,389.8 843,389 844,387.9 845,386.8 846,386 847,385.2 848,384.2 849,383 850,382.1 851,381.1 852,380.1 853,379.5 854,378.9 855,377.9 856,377 857,376.3 858,375.6 859,374.5 860,373.3 861,372.4 862,371.5 863,370.4 864,369.4 865,368.8 866,367.9 867,366.5 868,365.3 869,364.6 870,364.1 871,363.6 872,363.1 873,362.3 874,361.7 875,361.2 876,360.8 877,360.5 878,360.5 879,360.7 880,360.5 881,360.1 882,360.1 883,360.2 884,360.3 885,360.6 886,361.1 887,361.6 888,361.9 889,362.2 890,362.5 891,363.1 892,363.8 893,364.6 894,365.2 895,365.8 896,366.5 897,367.2 898,367.6 899,368 900,369 901,370.5 902,371.9 903,373.1 904,374.4 905,375.8 906,377.4 907,379.2 908,381.3 909,383.3 910,385.2 911,387.4 912,389.9 913,393.1 914,397.1 915,401.7 916,406.2 917,410.3 918,413.9 919,416.3 920,417.9 921,419.4 922,420.7 923,421.6 924,422.2 925,422.4 926,422 927,421.2 928,420 929,418.5 930,417.1 931,415.5 932,413.9 933,412.2 934,410.3 935,408.5 936,406.9 937,405.7 938,404.6 939,403.4 940,402.3 941,401.3 942,400.2 943,399.2 944,398 945,397.1 946,396.1 947,395.1 948,394.4 949,393.7 950,392.7 951,392.2 952,391.9 953,391.5 954,391.1 955,390.5 956,390.3 957,390.2 958,389.6 959,389.1 960,388.6 961,388.3 962,388 963,387.7 964,387.6 965,387.5 966,387.2 967,387.2" fill="none" stroke="#82a0fc" stroke-width="2.9" stroke-linejoin="round"/>
<text x="493.0" y="331.8" font-size="20.6" fill="#4a62da">Pd/Cu-HKUST-1-R</text>
<polyline points="483,393.1 484,393.1 485,393.3 486,393.2 487,393 488,393.1 489,393.1 490,393.1 491,393.1 492,393.2 493,393.2 494,393.2 495,393.3 496,393.3 497,393.3 498,393.2 499,393.1 500,393.1 501,393.3 502,393.5 503,393.6 504,393.5 505,393.4 506,393.3 507,393.3 508,393.4 509,393.5 510,393.4 511,393.2 512,393.2 513,393.4 514,393.4 515,393.4 516,393.4 517,393.3 518,393.3 519,393.2 520,393.1 521,393.3 522,393.2 523,393.2 524,393.3 525,393.4 526,393.4 527,393.3 528,393.2 529,393.2 530,393.3 531,393.4 532,393.5 533,393.6 534,393.7 535,393.7 536,393.6 537,393.5 538,393.6 539,393.7 540,393.6 541,393.5 542,393.6 543,393.7 544,393.7 545,393.6 546,393.4 547,393.5 548,393.8 549,393.7 550,393.5 551,393.6 552,393.5 553,393.3 554,393.2 555,393.4 556,393.6 557,393.7 558,393.7 559,393.8 560,393.7 561,393.5 562,393.6 563,393.6 564,393.6 565,393.7 566,393.8 567,393.8 568,393.7 569,393.9 570,394.1 571,393.9 572,393.7 573,394 574,394.1 575,394.1 576,394 577,394.1 578,394 579,393.9 580,394 581,394.2 582,394.4 583,394.4 584,394.4 585,394.5 586,394.5 587,394.4 588,394.2 589,394.3 590,394.4 591,394.4 592,394.5 593,394.6 594,394.6 595,394.7 596,394.8 597,394.7 598,395 599,395.2 600,395.1 601,395.1 602,395.3 603,395.3 604,395.1 605,395.1 606,395.3 607,395.4 608,395.5 609,395.5 610,395.5 611,395.5 612,395.5 613,395.6 614,395.7 615,395.7 616,395.8 617,396.1 618,396 619,396 620,396.2 621,396.2 622,396.3 623,396.5 624,396.6 625,396.7 626,396.9 627,397.2 628,397.5 629,397.5 630,397.8 631,398.2 632,398.3 633,398.7 634,399.3 635,399.7 636,400.1 637,400.3 638,400.6 639,401 640,401.4 641,401.8 642,402.1 643,402.5 644,402.9 645,403.4 646,403.7 647,403.8 648,404.2 649,404.7 650,405 651,405.3 652,405.6 653,406 654,406.5 655,406.9 656,407.2 657,407.6 658,407.9 659,408.3 660,408.4 661,408.4 662,408.3 663,408.4 664,408.8 665,409.3 666,409.6 667,409.7 668,410 669,410.2 670,410.2 671,410.3 672,410.5 673,410.9 674,411.1 675,411.1 676,411.1 677,411.3 678,411.5 679,411.5 680,411.4 681,411.2 682,410.8 683,410.2 684,410 685,410 686,409.7 687,409.2 688,408.8 689,408.6 690,408.4 691,408.1 692,408.1 693,408.1 694,407.8 695,407.4 696,407.2 697,407.1 698,407.3 699,407.2 700,407 701,407 702,406.9 703,407.1 704,407.5 705,408 706,408.4 707,408.6 708,409.1 709,409.7 710,410.1 711,410.5 712,411.1 713,412 714,413 715,414.1 716,415.5 717,417.3 718,419.3 719,421.8 720,424.7 721,429.2 722,435.9 723,443.1 724,449.2 725,452.9 726,455.6 727,458.3 728,460.7 729,462.6 730,463.6 731,463.7 732,463.3 733,462.6 734,461.3 735,459.7 736,458.2 737,456.6 738,455.1 739,453.9 740,453 741,452.3 742,452.1 743,451.7 744,451.3 745,451.1 746,450.9 747,450.8 748,450.8 749,450.9 750,450.8 751,450.7 752,450.6 753,450.6 754,450.7 755,450.9 756,451.2 757,451.4 758,451.6 759,451.7 760,451.6 761,451.6 762,451.3 763,450.6 764,449.6 765,448.2 766,446.9 767,445.4 768,443.5 769,441.5 770,439.7 771,438.2 772,437 773,435.8 774,434.9 775,434.6 776,434.4 777,434.2 778,434.4 779,434.7 780,435 781,435.4 782,436 783,436.6 784,437.2 785,437.7 786,438.4 787,438.9 788,439.4 789,439.9 790,440.5 791,440.9 792,441.2 793,441.6 794,442.1 795,442.7 796,443.4 797,443.9 798,444.4 799,445.1 800,445.9 801,446.4 802,446.9 803,447.6 804,448 805,448.4 806,448.9 807,449.6 808,450.2 809,450.7 810,450.9 811,451 812,451.3 813,451.5 814,451.7 815,451.8 816,452 817,452.2 818,452.1 819,451.9 820,451.5 821,451.1 822,450.9 823,450.8 824,450.4 825,449.8 826,449.3 827,448.8 828,448.4 829,447.7 830,447.1 831,446.5 832,445.8 833,445.1 834,444.4 835,443.7 836,442.9 837,441.9 838,441 839,440.1 840,438.9 841,437.7 842,436.8 843,435.7 844,434.3 845,432.9 846,431.9 847,430.9 848,429.9 849,428.8 850,427.6 851,426.6 852,425.7 853,424.9 854,424.1 855,423.1 856,422 857,420.8 858,419.8 859,418.9 860,418 861,417.3 862,416.4 863,415.3 864,414.2 865,413.4 866,412.7 867,412.1 868,411.4 869,410.8 870,410.1 871,409.5 872,409.2 873,409.2 874,409.3 875,409.3 876,409.3 877,409.5 878,409.8 879,409.8 880,409.9 881,410.2 882,410.6 883,411 884,411.5 885,411.9 886,412.1 887,412.6 888,413.2 889,413.6 890,414.1 891,414.7 892,415.4 893,415.9 894,416.4 895,417.1 896,417.7 897,418.4 898,419.1 899,419.8 900,420.5 901,421.4 902,422.3 903,423.4 904,424.7 905,426.1 906,427.5 907,428.9 908,430.7 909,432.3 910,434 911,436 912,437.9 913,440.4 914,443.5 915,446.7 916,450.1 917,453.4 918,456 919,458.2 920,460.1 921,461.8 922,463.5 923,465.1 924,465.9 925,465.7 926,465.2 927,464.5 928,463.3 929,461.8 930,460.3 931,458.7 932,457 933,455.4 934,453.7 935,452 936,450.5 937,449.2 938,448.2 939,447.3 940,446.3 941,445.2 942,444.3 943,443.5 944,442.6 945,441.4 946,440.4 947,439.6 948,438.9 949,438.1 950,437.4 951,436.8 952,436.2 953,435.9 954,435.7 955,435.6 956,435.6 957,435.7 958,435.8 959,435.8 960,435.7 961,435.7 962,435.8 963,436 964,436.1 965,436.4 966,436.6 967,436.7" fill="none" stroke="#107a76" stroke-width="2.9" stroke-linejoin="round"/>
<text x="493.0" y="383.8" font-size="20.6" fill="#14665e">Pd/HKUST-1-R</text>
<polyline points="483,448.3 484,448.2 485,448.3 486,447.7 487,447.3 488,447.9 489,448.6 490,448.4 491,448.2 492,448 493,447.6 494,448.2 495,448.8 496,448.9 497,448.9 498,448.7 499,448.5 500,448.6 501,449.1 502,449.7 503,449.3 504,448.7 505,448.3 506,448.5 507,448.9 508,448.3 509,448.1 510,448.4 511,449 512,449 513,448.2 514,448.6 515,448.9 516,448.3 517,448.4 518,449.2 519,449.4 520,448.4 521,448.1 522,449.3 523,449.7 524,448.6 525,448.1 526,449 527,449.4 528,449.3 529,449 530,448.6 531,449 532,449.8 533,449.4 534,448.1 535,448.5 536,449.5 537,448.9 538,448.3 539,448.7 540,448.9 541,448.8 542,448.7 543,448.7 544,448.8 545,448.9 546,448.7 547,448.7 548,449.2 549,449.7 550,449.5 551,449.3 552,449.4 553,449.7 554,449.8 555,450 556,450.4 557,450.1 558,449.4 559,449.2 560,449.6 561,449.6 562,449 563,448.2 564,448.2 565,449.2 566,449.9 567,449.5 568,449.1 569,449.3 570,449.4 571,449.5 572,449.4 573,448.9 574,448.4 575,448.1 576,448.1 577,448.5 578,449.2 579,449.7 580,449.9 581,449.6 582,449.3 583,449.4 584,449.5 585,449.7 586,449.5 587,449.1 588,449.3 589,449.4 590,449.6 591,450.2 592,450.4 593,449.7 594,448.8 595,448.5 596,448.9 597,448.9 598,448.6 599,449.4 600,449.8 601,449.4 602,449.1 603,449.3 604,449.5 605,449.1 606,449.7 607,450.5 608,450.3 609,449.9 610,449.5 611,449.2 612,449.6 613,449.8 614,449.5 615,450 616,450.7 617,450.3 618,449.2 619,448.8 620,449.3 621,450.3 622,450.7 623,450.4 624,449.7 625,449.6 626,450.3 627,450.5 628,450.4 629,451 630,451.5 631,451.4 632,450.7 633,450.6 634,451.5 635,452.3 636,452.4 637,452.5 638,452.9 639,453.6 640,453.9 641,453.9 642,453.8 643,454.2 644,454.7 645,454.6 646,454.7 647,455.7 648,456.7 649,457.2 650,457.5 651,457.3 652,456.9 653,456.9 654,457.7 655,458.8 656,459.1 657,459.4 658,459.6 659,459.5 660,459.7 661,460.2 662,460.8 663,461.2 664,461.4 665,461.3 666,461.3 667,461.4 668,461.9 669,462.1 670,461.8 671,462.7 672,463.8 673,463.1 674,462.5 675,463.2 676,463.8 677,463.8 678,463.7 679,463.6 680,464.1 681,464.9 682,464.2 683,463.2 684,463.3 685,463.6 686,463.8 687,463.8 688,463.2 689,462.7 690,462.9 691,462.9 692,462.3 693,461.9 694,461.9 695,462.1 696,462 697,461.8 698,462.1 699,462.2 700,461.7 701,461.6 702,462 703,462 704,461.5 705,461.6 706,461.9 707,462.6 708,463.4 709,463.7 710,464.1 711,465.2 712,466.8 713,467.8 714,467.9 715,467.8 716,468.8 717,471.1 718,473.8 719,477.2 720,481.3 721,485.4 722,491.2 723,497.5 724,503.1 725,507.8 726,511.1 727,514.4 728,517.8 729,520.7 730,522.4 731,523.2 732,522.4 733,521.4 734,521.4 735,521 736,520 737,518.9 738,517.7 739,517.5 740,518 741,518.1 742,517.3 743,517.3 744,517.7 745,517.9 746,518.2 747,517.8 748,517.3 749,518.1 750,518.1 751,517.6 752,517.8 753,518.2 754,518.3 755,517.9 756,517.7 757,518.7 758,519.9 759,520.7 760,520.8 761,520.2 762,519.5 763,519 764,518.1 765,516.9 766,515 767,512.9 768,511.4 769,510.3 770,508.7 771,505.8 772,502.8 773,500.3 774,497.9 775,495.7 776,494.4 777,494.3 778,493.5 779,492.6 780,493 781,493.9 782,494.4 783,494.6 784,494.8 785,495.6 786,497.1 787,498.2 788,498.5 789,499.5 790,500.9 791,501.9 792,503 793,504 794,505 795,505.9 796,506.3 797,506.4 798,506.4 799,507.1 800,508.6 801,509.9 802,510.9 803,511.4 804,511.3 805,511.6 806,512.2 807,512.4 808,512.3 809,512.7 810,513.2 811,513.2 812,513.2 813,513.2 814,513.4 815,513.3 816,513 817,512.4 818,512.5 819,512.7 820,512.1 821,511.6 822,510.8 823,510.1 824,510.5 825,510.4 826,509.6 827,509 828,507.9 829,506.8 830,506 831,505.4 832,504.5 833,502.6 834,501.6 835,500.2 836,497.7 837,496.3 838,495.9 839,494.9 840,494.1 841,493.2 842,491.5 843,489.3 844,487.9 845,487.4 846,486.6 847,485.6 848,484.3 849,483 850,482.6 851,481.7 852,479.9 853,477.9 854,476.6 855,475.7 856,474.5 857,473.6 858,473.1 859,472.6 860,471.6 861,470.9 862,470.7 863,469.4 864,467.9 865,468 866,468.7 867,468.7 868,468.1 869,467.6 870,467.5 871,467.6 872,467.3 873,467 874,467.2 875,467.6 876,467.2 877,467.1 878,467.7 879,468.1 880,468.5 881,469.1 882,469.7 883,469.8 884,469.4 885,469.4 886,470 887,471.2 888,471.9 889,472.1 890,471.7 891,471.8 892,473.2 893,473.9 894,474.2 895,474.9 896,475.7 897,475.9 898,476.2 899,477.2 900,477.8 901,478.7 902,480.2 903,480.8 904,480.5 905,480.8 906,482.5 907,484.4 908,485.7 909,487 910,489 911,491.5 912,494.5 913,497.5 914,499.7 915,501.6 916,503.9 917,506.2 918,508.2 919,511.2 920,514.7 921,517.3 922,519.7 923,522 924,524 925,525.6 926,527.7 927,529.6 928,530.2 929,529.6 930,528.5 931,527.2 932,525.8 933,524.8 934,523.6 935,522 936,520.5 937,518.2 938,515.9 939,514.2 940,512.5 941,511.4 942,510.7 943,509.3 944,508.2 945,507.5 946,506.2 947,504.6 948,503.5 949,502.1 950,500.4 951,498.8 952,496.9 953,495.7 954,495.1 955,494.3 956,493.1 957,492.4 958,492.3 959,492.1 960,491.6 961,491.1 962,490.5 963,490.4 964,490.7 965,490.8 966,491.4 967,492.4" fill="none" stroke="#30d2b8" stroke-width="2.9" stroke-linejoin="round"/>
<text x="493.0" y="440.2" font-size="20.6" fill="#269e9e">HKUST-1-R</text>
<line x1="733.1" y1="23" x2="733.1" y2="525" stroke="#000" stroke-width="2.4" stroke-dasharray="4.6 4.3"/>
<line x1="927.6" y1="23" x2="927.6" y2="526" stroke="#000" stroke-width="2.4" stroke-dasharray="4.6 4.3"/>
<text x="717.5" y="553" font-size="24" font-family="Liberation Serif" font-style="italic">&#957;</text>
<text x="727.3" y="560.7" font-size="19">asym</text>
<text x="908" y="553" font-size="24" font-family="Liberation Serif" font-style="italic">&#957;</text>
<text x="917.8" y="560.7" font-size="19">sym</text>
<text x="793.0" y="598.0" font-size="25">(COO<tspan dy="-9" font-size="17">&#8211;</tspan><tspan dy="9">)</tspan></text>
<text x="613.1" y="701.4" font-size="24.6">Wavenumber (cm<tspan dy="-9" font-size="17">&#8722;1</tspan><tspan dy="9">)</tspan></text>
<text transform="translate(463.2,432.1) rotate(-90)" font-size="24.7" fill="#000">Transmission (a.u.)</text>
<text x="440.1" y="30.6" font-size="42" font-weight="bold">b</text>
<line x1="51.3" y1="1575.2" x2="51.3" y2="1590.7" stroke="#000" stroke-width="2.0"/>
<text x="51.3" y="1623.9" font-size="25" text-anchor="middle">536</text>
<line x1="94.8" y1="1575.2" x2="94.8" y2="1583.7" stroke="#000" stroke-width="2.0"/>
<line x1="138.2" y1="1575.2" x2="138.2" y2="1590.7" stroke="#000" stroke-width="2.0"/>
<text x="138.2" y="1623.9" font-size="25" text-anchor="middle">534</text>
<line x1="181.7" y1="1575.2" x2="181.7" y2="1583.7" stroke="#000" stroke-width="2.0"/>
<line x1="225.1" y1="1575.2" x2="225.1" y2="1590.7" stroke="#000" stroke-width="2.0"/>
<text x="225.1" y="1623.9" font-size="25" text-anchor="middle">532</text>
<line x1="268.6" y1="1575.2" x2="268.6" y2="1583.7" stroke="#000" stroke-width="2.0"/>
<line x1="312" y1="1575.2" x2="312" y2="1590.7" stroke="#000" stroke-width="2.0"/>
<text x="312.0" y="1623.9" font-size="25" text-anchor="middle">530</text>
<line x1="355.5" y1="1575.2" x2="355.5" y2="1583.7" stroke="#000" stroke-width="2.0"/>
<line x1="398.9" y1="1575.2" x2="398.9" y2="1590.7" stroke="#000" stroke-width="2.0"/>
<text x="398.9" y="1623.9" font-size="25" text-anchor="middle">528</text>
<polyline points="52.5,876.6 53.5,876.6 54.5,876.6 55.5,876.6 56.5,876.6 57.5,876.6 58.5,876.6 59.5,876.6 60.5,876.6 61.5,876.6 62.5,876.6 63.5,876.6 64.5,876.6 65.5,876.5 66.5,876.5 67.5,876.5 68.5,876.5 69.5,876.5 70.5,876.4 71.5,876.4 72.5,876.4 73.5,876.4 74.5,876.3 75.5,876.3 76.5,876.3 77.5,876.2 78.5,876.2 79.5,876.1 80.5,876.1 81.5,876 82.5,876 83.5,875.9 84.5,875.8 85.5,875.8 86.5,875.7 87.5,875.6 88.5,875.5 89.5,875.4 90.5,875.4 91.5,875.3 92.5,875.2 93.5,875.1 94.5,875 95.5,874.8 96.5,874.7 97.5,874.6 98.5,874.5 99.5,874.4 100.5,874.2 101.5,874.1 102.5,874 103.5,873.8 104.5,873.7 105.5,873.5 106.5,873.4 107.5,873.2 108.5,873.1 109.5,872.9 110.5,872.7 111.5,872.6 112.5,872.4 113.5,872.2 114.5,872 115.5,871.9 116.5,871.7 117.5,871.5 118.5,871.3 119.5,871.1 120.5,871 121.5,870.8 122.5,870.6 123.5,870.4 124.5,870.2 125.5,870 126.5,869.8 127.5,869.6 128.5,869.5 129.5,869.3 130.5,869.1 131.5,868.9 132.5,868.7 133.5,868.5 134.5,868.3 135.5,868.1 136.5,868 137.5,867.8 138.5,867.6 139.5,867.4 140.5,867.2 141.5,867 142.5,866.8 143.5,866.6 144.5,866.4 145.5,866.2 146.5,866 147.5,865.8 148.5,865.5 149.5,865.3 150.5,865.1 151.5,864.9 152.5,864.6 153.5,864.4 154.5,864.1 155.5,863.8 156.5,863.6 157.5,863.3 158.5,863 159.5,862.7 160.5,862.4 161.5,862 162.5,861.7 163.5,861.3 164.5,861 165.5,860.6 166.5,860.2 167.5,859.8 168.5,859.4 169.5,858.9 170.5,858.5 171.5,858 172.5,857.5 173.5,857 174.5,856.5 175.5,856 176.5,855.4 177.5,854.9 178.5,854.3 179.5,853.7 180.5,853.1 181.5,852.5 182.5,851.9 183.5,851.2 184.5,850.5 185.5,849.9 186.5,849.2 187.5,848.5 188.5,847.8 189.5,847.1 190.5,846.3 191.5,845.6 192.5,844.9 193.5,844.1 194.5,843.4 195.5,842.6 196.5,841.8 197.5,841.1 198.5,840.3 199.5,839.5 200.5,838.8 201.5,838 202.5,837.3 203.5,836.5 204.5,835.8 205.5,835 206.5,834.3 207.5,833.6 208.5,832.8 209.5,832.1 210.5,831.5 211.5,830.8 212.5,830.1 213.5,829.5 214.5,828.9 215.5,828.3 216.5,827.7 217.5,827.2 218.5,826.7 219.5,826.2 220.5,825.7 221.5,825.3 222.5,824.9 223.5,824.5 224.5,824.2 225.5,823.9 226.5,823.7 227.5,823.5 228.5,823.3 229.5,823.1 230.5,823.1 231.5,823 232.5,823 233.5,823 234.5,823.1 235.5,823.3 236.5,823.4 237.5,823.7 238.5,823.9 239.5,824.2 240.5,824.6 241.5,825 242.5,825.5 243.5,826 244.5,826.5 245.5,827.1 246.5,827.7 247.5,828.4 248.5,829.1 249.5,829.9 250.5,830.7 251.5,831.5 252.5,832.3 253.5,833.2 254.5,834.1 255.5,835.1 256.5,836.1 257.5,837.1 258.5,838.1 259.5,839.1 260.5,840.2 261.5,841.2 262.5,842.3 263.5,843.4 264.5,844.5 265.5,845.6 266.5,846.7 267.5,847.8 268.5,848.9 269.5,850 270.5,851 271.5,852.1 272.5,853.2 273.5,854.2 274.5,855.3 275.5,856.3 276.5,857.3 277.5,858.3 278.5,859.2 279.5,860.2 280.5,861.1 281.5,862 282.5,862.8 283.5,863.7 284.5,864.5 285.5,865.3 286.5,866 287.5,866.7 288.5,867.4 289.5,868.1 290.5,868.8 291.5,869.4 292.5,870 293.5,870.5 294.5,871.1 295.5,871.6 296.5,872.1 297.5,872.5 298.5,873 299.5,873.4 300.5,873.8 301.5,874.1 302.5,874.5 303.5,874.8 304.5,875.1 305.5,875.4 306.5,875.7 307.5,875.9 308.5,876.1 309.5,876.4 310.5,876.6 311.5,876.8 312.5,876.9 313.5,877.1 314.5,877.2 315.5,877.4 316.5,877.5 317.5,877.6 318.5,877.7 319.5,877.8 320.5,877.9 321.5,878 322.5,878.1 323.5,878.2 324.5,878.2 325.5,878.3 326.5,878.3 327.5,878.4 328.5,878.4 329.5,878.5 330.5,878.5 331.5,878.6 332.5,878.6 333.5,878.6 334.5,878.7 335.5,878.7 336.5,878.7 337.5,878.7 338.5,878.7 339.5,878.8 340.5,878.8 341.5,878.8 342.5,878.8 343.5,878.8 344.5,878.8 345.5,878.9 346.5,878.9 347.5,878.9 348.5,878.9 349.5,878.9 350.5,878.9 351.5,878.9 352.5,878.9 353.5,878.9 354.5,879 355.5,879 356.5,879 357.5,879 358.5,879 359.5,879 360.5,879 361.5,879 362.5,879 363.5,879 364.5,879 365.5,879 366.5,879.1 367.5,879.1 368.5,879.1 369.5,879.1 370.5,879.1 371.5,879.1 372.5,879.1 373.5,879.1 374.5,879.1 375.5,879.1 376.5,879.1 377.5,879.1 378.5,879.1 379.5,879.2 380.5,879.2 381.5,879.2 382.5,879.2 383.5,879.2 384.5,879.2 385.5,879.2 386.5,879.2 387.5,879.2 388.5,879.2 389.5,879.2 390.5,879.2 391.5,879.2 392.5,879.3 393.5,879.3 394.5,879.3 395.5,879.3 396.5,879.3 397.5,879.3" fill="none" stroke="#c8c8c8" stroke-width="4.3" stroke-linejoin="round"/>
<polyline points="52.5,876.6 53.5,876.6 54.5,876.6 55.5,876.6 56.5,876.6 57.5,876.6 58.5,876.6 59.5,876.6 60.5,876.6 61.5,876.6 62.5,876.6 63.5,876.6 64.5,876.6 65.5,876.5 66.5,876.5 67.5,876.5 68.5,876.5 69.5,876.5 70.5,876.4 71.5,876.4 72.5,876.4 73.5,876.4 74.5,876.3 75.5,876.3 76.5,876.3 77.5,876.2 78.5,876.2 79.5,876.1 80.5,876.1 81.5,876 82.5,876 83.5,875.9 84.5,875.8 85.5,875.8 86.5,875.7 87.5,875.6 88.5,875.5 89.5,875.5 90.5,875.4 91.5,875.3 92.5,875.2 93.5,875.1 94.5,875 95.5,874.9 96.5,874.8 97.5,874.7 98.5,874.5 99.5,874.4 100.5,874.3 101.5,874.2 102.5,874 103.5,873.9 104.5,873.8 105.5,873.6 106.5,873.5 107.5,873.4 108.5,873.2 109.5,873.1 110.5,872.9 111.5,872.8 112.5,872.6 113.5,872.5 114.5,872.3 115.5,872.2 116.5,872 117.5,871.9 118.5,871.7 119.5,871.6 120.5,871.4 121.5,871.3 122.5,871.2 123.5,871 124.5,870.9 125.5,870.8 126.5,870.7 127.5,870.5 128.5,870.4 129.5,870.3 130.5,870.2 131.5,870.1 132.5,870 133.5,870 134.5,869.9 135.5,869.8 136.5,869.8 137.5,869.7 138.5,869.7 139.5,869.6 140.5,869.6 141.5,869.6 142.5,869.6 143.5,869.6 144.5,869.6 145.5,869.6 146.5,869.7 147.5,869.7 148.5,869.7 149.5,869.8 150.5,869.8 151.5,869.9 152.5,870 153.5,870.1 154.5,870.2 155.5,870.3 156.5,870.4 157.5,870.5 158.5,870.6 159.5,870.7 160.5,870.9 161.5,871 162.5,871.1 163.5,871.3 164.5,871.4 165.5,871.6 166.5,871.7 167.5,871.9 168.5,872 169.5,872.2 170.5,872.4 171.5,872.5 172.5,872.7 173.5,872.9 174.5,873 175.5,873.2 176.5,873.4 177.5,873.5 178.5,873.7 179.5,873.8 180.5,874 181.5,874.2 182.5,874.3 183.5,874.5 184.5,874.6 185.5,874.8 186.5,874.9 187.5,875 188.5,875.2 189.5,875.3 190.5,875.4 191.5,875.6 192.5,875.7 193.5,875.8 194.5,875.9 195.5,876 196.5,876.1 197.5,876.2 198.5,876.3 199.5,876.4 200.5,876.5 201.5,876.6 202.5,876.7 203.5,876.8 204.5,876.8 205.5,876.9 206.5,877 207.5,877.1 208.5,877.1 209.5,877.2 210.5,877.2 211.5,877.3 212.5,877.3 213.5,877.4 214.5,877.4 215.5,877.5 216.5,877.5 217.5,877.6 218.5,877.6 219.5,877.6 220.5,877.7 221.5,877.7 222.5,877.7 223.5,877.8 224.5,877.8 225.5,877.8 226.5,877.8 227.5,877.9 228.5,877.9 229.5,877.9 230.5,877.9 231.5,877.9 232.5,878 233.5,878 234.5,878 235.5,878 236.5,878 237.5,878 238.5,878 239.5,878.1 240.5,878.1 241.5,878.1 242.5,878.1 243.5,878.1 244.5,878.1 245.5,878.1 246.5,878.1 247.5,878.1 248.5,878.2 249.5,878.2 250.5,878.2 251.5,878.2 252.5,878.2 253.5,878.2 254.5,878.2 255.5,878.2 256.5,878.2 257.5,878.2 258.5,878.2 259.5,878.3 260.5,878.3 261.5,878.3 262.5,878.3 263.5,878.3 264.5,878.3 265.5,878.3 266.5,878.3 267.5,878.3 268.5,878.3 269.5,878.3 270.5,878.3 271.5,878.3 272.5,878.4 273.5,878.4 274.5,878.4 275.5,878.4 276.5,878.4 277.5,878.4 278.5,878.4 279.5,878.4 280.5,878.4 281.5,878.4 282.5,878.4 283.5,878.4 284.5,878.4 285.5,878.5 286.5,878.5 287.5,878.5 288.5,878.5 289.5,878.5 290.5,878.5 291.5,878.5 292.5,878.5 293.5,878.5 294.5,878.5 295.5,878.5 296.5,878.5 297.5,878.5 298.5,878.6 299.5,878.6 300.5,878.6 301.5,878.6 302.5,878.6 303.5,878.6 304.5,878.6 305.5,878.6 306.5,878.6 307.5,878.6 308.5,878.6 309.5,878.6 310.5,878.6 311.5,878.6 312.5,878.7 313.5,878.7 314.5,878.7 315.5,878.7 316.5,878.7 317.5,878.7 318.5,878.7 319.5,878.7 320.5,878.7 321.5,878.7 322.5,878.7 323.5,878.7 324.5,878.7 325.5,878.8 326.5,878.8 327.5,878.8 328.5,878.8 329.5,878.8 330.5,878.8 331.5,878.8 332.5,878.8 333.5,878.8 334.5,878.8 335.5,878.8 336.5,878.8 337.5,878.8 338.5,878.8 339.5,878.9 340.5,878.9 341.5,878.9 342.5,878.9 343.5,878.9 344.5,878.9 345.5,878.9 346.5,878.9 347.5,878.9 348.5,878.9 349.5,878.9 350.5,878.9 351.5,878.9 352.5,879 353.5,879 354.5,879 355.5,879 356.5,879 357.5,879 358.5,879 359.5,879 360.5,879 361.5,879 362.5,879 363.5,879 364.5,879 365.5,879.1 366.5,879.1 367.5,879.1 368.5,879.1 369.5,879.1 370.5,879.1 371.5,879.1 372.5,879.1 373.5,879.1 374.5,879.1 375.5,879.1 376.5,879.1 377.5,879.1 378.5,879.1 379.5,879.2 380.5,879.2 381.5,879.2 382.5,879.2 383.5,879.2 384.5,879.2 385.5,879.2 386.5,879.2 387.5,879.2 388.5,879.2 389.5,879.2 390.5,879.2 391.5,879.2 392.5,879.3 393.5,879.3 394.5,879.3 395.5,879.3 396.5,879.3 397.5,879.3" fill="none" stroke="#d02828" stroke-width="2.6" stroke-linejoin="round"/>
<polyline points="52.5,876.7 53.5,876.7 54.5,876.7 55.5,876.7 56.5,876.7 57.5,876.7 58.5,876.8 59.5,876.8 60.5,876.8 61.5,876.8 62.5,876.8 63.5,876.8 64.5,876.8 65.5,876.8 66.5,876.8 67.5,876.8 68.5,876.8 69.5,876.8 70.5,876.8 71.5,876.8 72.5,876.9 73.5,876.9 74.5,876.9 75.5,876.9 76.5,876.9 77.5,876.9 78.5,876.9 79.5,876.9 80.5,876.9 81.5,876.9 82.5,876.9 83.5,876.9 84.5,876.9 85.5,876.9 86.5,877 87.5,877 88.5,877 89.5,877 90.5,877 91.5,877 92.5,877 93.5,877 94.5,877 95.5,877 96.5,877 97.5,877 98.5,877 99.5,877 100.5,877 101.5,877 102.5,877 103.5,877 104.5,877 105.5,877 106.5,877 107.5,877 108.5,877 109.5,877 110.5,877 111.5,876.9 112.5,876.9 113.5,876.9 114.5,876.9 115.5,876.9 116.5,876.9 117.5,876.8 118.5,876.8 119.5,876.8 120.5,876.7 121.5,876.7 122.5,876.7 123.5,876.6 124.5,876.6 125.5,876.5 126.5,876.4 127.5,876.4 128.5,876.3 129.5,876.2 130.5,876.2 131.5,876.1 132.5,876 133.5,875.9 134.5,875.8 135.5,875.7 136.5,875.5 137.5,875.4 138.5,875.3 139.5,875.1 140.5,874.9 141.5,874.8 142.5,874.6 143.5,874.4 144.5,874.2 145.5,874 146.5,873.8 147.5,873.5 148.5,873.3 149.5,873 150.5,872.7 151.5,872.4 152.5,872.1 153.5,871.8 154.5,871.5 155.5,871.1 156.5,870.8 157.5,870.4 158.5,870 159.5,869.6 160.5,869.2 161.5,868.7 162.5,868.3 163.5,867.8 164.5,867.3 165.5,866.8 166.5,866.3 167.5,865.8 168.5,865.3 169.5,864.7 170.5,864.1 171.5,863.6 172.5,863 173.5,862.4 174.5,861.8 175.5,861.2 176.5,860.5 177.5,859.9 178.5,859.3 179.5,858.6 180.5,858 181.5,857.3 182.5,856.7 183.5,856 184.5,855.4 185.5,854.7 186.5,854 187.5,853.4 188.5,852.8 189.5,852.1 190.5,851.5 191.5,850.9 192.5,850.3 193.5,849.7 194.5,849.1 195.5,848.5 196.5,848 197.5,847.5 198.5,847 199.5,846.5 200.5,846 201.5,845.6 202.5,845.2 203.5,844.8 204.5,844.4 205.5,844.1 206.5,843.8 207.5,843.5 208.5,843.2 209.5,843 210.5,842.8 211.5,842.7 212.5,842.6 213.5,842.5 214.5,842.4 215.5,842.4 216.5,842.4 217.5,842.5 218.5,842.5 219.5,842.7 220.5,842.8 221.5,843 222.5,843.2 223.5,843.4 224.5,843.7 225.5,844 226.5,844.4 227.5,844.7 228.5,845.1 229.5,845.5 230.5,846 231.5,846.4 232.5,846.9 233.5,847.4 234.5,848 235.5,848.5 236.5,849.1 237.5,849.7 238.5,850.3 239.5,850.9 240.5,851.5 241.5,852.1 242.5,852.8 243.5,853.4 244.5,854.1 245.5,854.8 246.5,855.4 247.5,856.1 248.5,856.8 249.5,857.4 250.5,858.1 251.5,858.8 252.5,859.4 253.5,860.1 254.5,860.7 255.5,861.4 256.5,862 257.5,862.6 258.5,863.3 259.5,863.9 260.5,864.5 261.5,865.1 262.5,865.6 263.5,866.2 264.5,866.7 265.5,867.3 266.5,867.8 267.5,868.3 268.5,868.8 269.5,869.3 270.5,869.7 271.5,870.2 272.5,870.6 273.5,871 274.5,871.4 275.5,871.8 276.5,872.2 277.5,872.5 278.5,872.9 279.5,873.2 280.5,873.5 281.5,873.8 282.5,874.1 283.5,874.4 284.5,874.6 285.5,874.9 286.5,875.1 287.5,875.4 288.5,875.6 289.5,875.8 290.5,876 291.5,876.1 292.5,876.3 293.5,876.5 294.5,876.6 295.5,876.8 296.5,876.9 297.5,877 298.5,877.2 299.5,877.3 300.5,877.4 301.5,877.5 302.5,877.6 303.5,877.7 304.5,877.7 305.5,877.8 306.5,877.9 307.5,878 308.5,878 309.5,878.1 310.5,878.1 311.5,878.2 312.5,878.2 313.5,878.3 314.5,878.3 315.5,878.4 316.5,878.4 317.5,878.4 318.5,878.5 319.5,878.5 320.5,878.5 321.5,878.5 322.5,878.6 323.5,878.6 324.5,878.6 325.5,878.6 326.5,878.7 327.5,878.7 328.5,878.7 329.5,878.7 330.5,878.7 331.5,878.7 332.5,878.7 333.5,878.8 334.5,878.8 335.5,878.8 336.5,878.8 337.5,878.8 338.5,878.8 339.5,878.8 340.5,878.8 341.5,878.9 342.5,878.9 343.5,878.9 344.5,878.9 345.5,878.9 346.5,878.9 347.5,878.9 348.5,878.9 349.5,878.9 350.5,878.9 351.5,878.9 352.5,878.9 353.5,879 354.5,879 355.5,879 356.5,879 357.5,879 358.5,879 359.5,879 360.5,879 361.5,879 362.5,879 363.5,879 364.5,879 365.5,879.1 366.5,879.1 367.5,879.1 368.5,879.1 369.5,879.1 370.5,879.1 371.5,879.1 372.5,879.1 373.5,879.1 374.5,879.1 375.5,879.1 376.5,879.1 377.5,879.1 378.5,879.1 379.5,879.2 380.5,879.2 381.5,879.2 382.5,879.2 383.5,879.2 384.5,879.2 385.5,879.2 386.5,879.2 387.5,879.2 388.5,879.2 389.5,879.2 390.5,879.2 391.5,879.2 392.5,879.3 393.5,879.3 394.5,879.3 395.5,879.3 396.5,879.3 397.5,879.3" fill="none" stroke="#58ad58" stroke-width="2.4" stroke-linejoin="round"/>
<polygon points="52.5,876.7 53.5,876.7 54.5,876.7 55.5,876.7 56.5,876.7 57.5,876.7 58.5,876.8 59.5,876.8 60.5,876.8 61.5,876.8 62.5,876.8 63.5,876.8 64.5,876.8 65.5,876.8 66.5,876.8 67.5,876.8 68.5,876.8 69.5,876.8 70.5,876.8 71.5,876.9 72.5,876.9 73.5,876.9 74.5,876.9 75.5,876.9 76.5,876.9 77.5,876.9 78.5,876.9 79.5,876.9 80.5,876.9 81.5,876.9 82.5,876.9 83.5,876.9 84.5,876.9 85.5,877 86.5,877 87.5,877 88.5,877 89.5,877 90.5,877 91.5,877 92.5,877 93.5,877 94.5,877 95.5,877 96.5,877 97.5,877 98.5,877.1 99.5,877.1 100.5,877.1 101.5,877.1 102.5,877.1 103.5,877.1 104.5,877.1 105.5,877.1 106.5,877.1 107.5,877.1 108.5,877.1 109.5,877.1 110.5,877.1 111.5,877.2 112.5,877.2 113.5,877.2 114.5,877.2 115.5,877.2 116.5,877.2 117.5,877.2 118.5,877.2 119.5,877.2 120.5,877.2 121.5,877.2 122.5,877.2 123.5,877.2 124.5,877.2 125.5,877.3 126.5,877.3 127.5,877.3 128.5,877.3 129.5,877.3 130.5,877.3 131.5,877.3 132.5,877.3 133.5,877.3 134.5,877.3 135.5,877.3 136.5,877.3 137.5,877.3 138.5,877.3 139.5,877.4 140.5,877.4 141.5,877.4 142.5,877.4 143.5,877.4 144.5,877.4 145.5,877.4 146.5,877.4 147.5,877.4 148.5,877.4 149.5,877.4 150.5,877.4 151.5,877.4 152.5,877.4 153.5,877.4 154.5,877.4 155.5,877.4 156.5,877.4 157.5,877.4 158.5,877.4 159.5,877.4 160.5,877.4 161.5,877.4 162.5,877.4 163.5,877.3 164.5,877.3 165.5,877.3 166.5,877.3 167.5,877.3 168.5,877.2 169.5,877.2 170.5,877.2 171.5,877.1 172.5,877.1 173.5,877 174.5,877 175.5,876.9 176.5,876.8 177.5,876.8 178.5,876.7 179.5,876.6 180.5,876.5 181.5,876.4 182.5,876.3 183.5,876.1 184.5,876 185.5,875.8 186.5,875.7 187.5,875.5 188.5,875.3 189.5,875.1 190.5,874.9 191.5,874.7 192.5,874.4 193.5,874.2 194.5,873.9 195.5,873.6 196.5,873.3 197.5,873 198.5,872.6 199.5,872.3 200.5,871.9 201.5,871.5 202.5,871.1 203.5,870.6 204.5,870.2 205.5,869.7 206.5,869.3 207.5,868.8 208.5,868.2 209.5,867.7 210.5,867.2 211.5,866.6 212.5,866.1 213.5,865.5 214.5,864.9 215.5,864.3 216.5,863.7 217.5,863.1 218.5,862.4 219.5,861.8 220.5,861.2 221.5,860.6 222.5,859.9 223.5,859.3 224.5,858.7 225.5,858.1 226.5,857.5 227.5,856.9 228.5,856.3 229.5,855.8 230.5,855.3 231.5,854.7 232.5,854.2 233.5,853.8 234.5,853.3 235.5,852.9 236.5,852.5 237.5,852.2 238.5,851.8 239.5,851.5 240.5,851.3 241.5,851 242.5,850.9 243.5,850.7 244.5,850.6 245.5,850.5 246.5,850.5 247.5,850.5 248.5,850.6 249.5,850.6 250.5,850.8 251.5,850.9 252.5,851.1 253.5,851.4 254.5,851.6 255.5,852 256.5,852.3 257.5,852.7 258.5,853.1 259.5,853.5 260.5,854 261.5,854.5 262.5,855 263.5,855.5 264.5,856.1 265.5,856.6 266.5,857.2 267.5,857.8 268.5,858.4 269.5,859 270.5,859.7 271.5,860.3 272.5,860.9 273.5,861.6 274.5,862.2 275.5,862.9 276.5,863.5 277.5,864.1 278.5,864.8 279.5,865.4 280.5,866 281.5,866.6 282.5,867.2 283.5,867.7 284.5,868.3 285.5,868.8 286.5,869.4 287.5,869.9 288.5,870.4 289.5,870.8 290.5,871.3 291.5,871.7 292.5,872.2 293.5,872.6 294.5,873 295.5,873.3 296.5,873.7 297.5,874 298.5,874.4 299.5,874.7 300.5,875 301.5,875.2 302.5,875.5 303.5,875.7 304.5,876 305.5,876.2 306.5,876.4 307.5,876.6 308.5,876.8 309.5,876.9 310.5,877.1 311.5,877.2 312.5,877.4 313.5,877.5 314.5,877.6 315.5,877.7 316.5,877.8 317.5,877.9 318.5,878 319.5,878.1 320.5,878.1 321.5,878.2 322.5,878.3 323.5,878.3 324.5,878.4 325.5,878.4 326.5,878.5 327.5,878.5 328.5,878.5 329.5,878.6 330.5,878.6 331.5,878.6 332.5,878.7 333.5,878.7 334.5,878.7 335.5,878.7 336.5,878.7 337.5,878.8 338.5,878.8 339.5,878.8 340.5,878.8 341.5,878.8 342.5,878.8 343.5,878.9 344.5,878.9 345.5,878.9 346.5,878.9 347.5,878.9 348.5,878.9 349.5,878.9 350.5,878.9 351.5,878.9 352.5,878.9 353.5,879 354.5,879 355.5,879 356.5,879 357.5,879 358.5,879 359.5,879 360.5,879 361.5,879 362.5,879 363.5,879 364.5,879 365.5,879.1 366.5,879.1 367.5,879.1 368.5,879.1 369.5,879.1 370.5,879.1 371.5,879.1 372.5,879.1 373.5,879.1 374.5,879.1 375.5,879.1 376.5,879.1 377.5,879.1 378.5,879.1 379.5,879.2 380.5,879.2 381.5,879.2 382.5,879.2 383.5,879.2 384.5,879.2 385.5,879.2 386.5,879.2 387.5,879.2 388.5,879.2 389.5,879.2 390.5,879.2 391.5,879.2 392.5,879.3 393.5,879.3 394.5,879.3 395.5,879.3 396.5,879.3 397.5,879.3 397.5,879.3 396.5,879.3 395.5,879.3 394.5,879.3 393.5,879.3 392.5,879.3 391.5,879.2 390.5,879.2 389.5,879.2 388.5,879.2 387.5,879.2 386.5,879.2 385.5,879.2 384.5,879.2 383.5,879.2 382.5,879.2 381.5,879.2 380.5,879.2 379.5,879.2 378.5,879.1 377.5,879.1 376.5,879.1 375.5,879.1 374.5,879.1 373.5,879.1 372.5,879.1 371.5,879.1 370.5,879.1 369.5,879.1 368.5,879.1 367.5,879.1 366.5,879.1 365.5,879.1 364.5,879 363.5,879 362.5,879 361.5,879 360.5,879 359.5,879 358.5,879 357.5,879 356.5,879 355.5,879 354.5,879 353.5,879 352.5,879 351.5,878.9 350.5,878.9 349.5,878.9 348.5,878.9 347.5,878.9 346.5,878.9 345.5,878.9 344.5,878.9 343.5,878.9 342.5,878.9 341.5,878.9 340.5,878.9 339.5,878.9 338.5,878.8 337.5,878.8 336.5,878.8 335.5,878.8 334.5,878.8 333.5,878.8 332.5,878.8 331.5,878.8 330.5,878.8 329.5,878.8 328.5,878.8 327.5,878.8 326.5,878.8 325.5,878.8 324.5,878.7 323.5,878.7 322.5,878.7 321.5,878.7 320.5,878.7 319.5,878.7 318.5,878.7 317.5,878.7 316.5,878.7 315.5,878.7 314.5,878.7 313.5,878.7 312.5,878.7 311.5,878.6 310.5,878.6 309.5,878.6 308.5,878.6 307.5,878.6 306.5,878.6 305.5,878.6 304.5,878.6 303.5,878.6 302.5,878.6 301.5,878.6 300.5,878.6 299.5,878.6 298.5,878.6 297.5,878.5 296.5,878.5 295.5,878.5 294.5,878.5 293.5,878.5 292.5,878.5 291.5,878.5 290.5,878.5 289.5,878.5 288.5,878.5 287.5,878.5 286.5,878.5 285.5,878.5 284.5,878.4 283.5,878.4 282.5,878.4 281.5,878.4 280.5,878.4 279.5,878.4 278.5,878.4 277.5,878.4 276.5,878.4 275.5,878.4 274.5,878.4 273.5,878.4 272.5,878.4 271.5,878.3 270.5,878.3 269.5,878.3 268.5,878.3 267.5,878.3 266.5,878.3 265.5,878.3 264.5,878.3 263.5,878.3 262.5,878.3 261.5,878.3 260.5,878.3 259.5,878.3 258.5,878.3 257.5,878.2 256.5,878.2 255.5,878.2 254.5,878.2 253.5,878.2 252.5,878.2 251.5,878.2 250.5,878.2 249.5,878.2 248.5,878.2 247.5,878.2 246.5,878.2 245.5,878.2 244.5,878.1 243.5,878.1 242.5,878.1 241.5,878.1 240.5,878.1 239.5,878.1 238.5,878.1 237.5,878.1 236.5,878.1 235.5,878.1 234.5,878.1 233.5,878.1 232.5,878.1 231.5,878 230.5,878 229.5,878 228.5,878 227.5,878 226.5,878 225.5,878 224.5,878 223.5,878 222.5,878 221.5,878 220.5,878 219.5,878 218.5,878 217.5,877.9 216.5,877.9 215.5,877.9 214.5,877.9 213.5,877.9 212.5,877.9 211.5,877.9 210.5,877.9 209.5,877.9 208.5,877.9 207.5,877.9 206.5,877.9 205.5,877.9 204.5,877.8 203.5,877.8 202.5,877.8 201.5,877.8 200.5,877.8 199.5,877.8 198.5,877.8 197.5,877.8 196.5,877.8 195.5,877.8 194.5,877.8 193.5,877.8 192.5,877.8 191.5,877.7 190.5,877.7 189.5,877.7 188.5,877.7 187.5,877.7 186.5,877.7 185.5,877.7 184.5,877.7 183.5,877.7 182.5,877.7 181.5,877.7 180.5,877.7 179.5,877.7 178.5,877.7 177.5,877.6 176.5,877.6 175.5,877.6 174.5,877.6 173.5,877.6 172.5,877.6 171.5,877.6 170.5,877.6 169.5,877.6 168.5,877.6 167.5,877.6 166.5,877.6 165.5,877.6 164.5,877.5 163.5,877.5 162.5,877.5 161.5,877.5 160.5,877.5 159.5,877.5 158.5,877.5 157.5,877.5 156.5,877.5 155.5,877.5 154.5,877.5 153.5,877.5 152.5,877.5 151.5,877.4 150.5,877.4 149.5,877.4 148.5,877.4 147.5,877.4 146.5,877.4 145.5,877.4 144.5,877.4 143.5,877.4 142.5,877.4 141.5,877.4 140.5,877.4 139.5,877.4 138.5,877.4 137.5,877.3 136.5,877.3 135.5,877.3 134.5,877.3 133.5,877.3 132.5,877.3 131.5,877.3 130.5,877.3 129.5,877.3 128.5,877.3 127.5,877.3 126.5,877.3 125.5,877.3 124.5,877.2 123.5,877.2 122.5,877.2 121.5,877.2 120.5,877.2 119.5,877.2 118.5,877.2 117.5,877.2 116.5,877.2 115.5,877.2 114.5,877.2 113.5,877.2 112.5,877.2 111.5,877.2 110.5,877.1 109.5,877.1 108.5,877.1 107.5,877.1 106.5,877.1 105.5,877.1 104.5,877.1 103.5,877.1 102.5,877.1 101.5,877.1 100.5,877.1 99.5,877.1 98.5,877.1 97.5,877 96.5,877 95.5,877 94.5,877 93.5,877 92.5,877 91.5,877 90.5,877 89.5,877 88.5,877 87.5,877 86.5,877 85.5,877 84.5,876.9 83.5,876.9 82.5,876.9 81.5,876.9 80.5,876.9 79.5,876.9 78.5,876.9 77.5,876.9 76.5,876.9 75.5,876.9 74.5,876.9 73.5,876.9 72.5,876.9 71.5,876.9 70.5,876.8 69.5,876.8 68.5,876.8 67.5,876.8 66.5,876.8 65.5,876.8 64.5,876.8 63.5,876.8 62.5,876.8 61.5,876.8 60.5,876.8 59.5,876.8 58.5,876.8 57.5,876.7 56.5,876.7 55.5,876.7 54.5,876.7 53.5,876.7 52.5,876.7" fill="#3458e6" stroke="none" fill-opacity="0.38"/>
<polyline points="52.5,876.7 53.5,876.7 54.5,876.7 55.5,876.7 56.5,876.7 57.5,876.7 58.5,876.8 59.5,876.8 60.5,876.8 61.5,876.8 62.5,876.8 63.5,876.8 64.5,876.8 65.5,876.8 66.5,876.8 67.5,876.8 68.5,876.8 69.5,876.8 70.5,876.8 71.5,876.9 72.5,876.9 73.5,876.9 74.5,876.9 75.5,876.9 76.5,876.9 77.5,876.9 78.5,876.9 79.5,876.9 80.5,876.9 81.5,876.9 82.5,876.9 83.5,876.9 84.5,876.9 85.5,877 86.5,877 87.5,877 88.5,877 89.5,877 90.5,877 91.5,877 92.5,877 93.5,877 94.5,877 95.5,877 96.5,877 97.5,877 98.5,877.1 99.5,877.1 100.5,877.1 101.5,877.1 102.5,877.1 103.5,877.1 104.5,877.1 105.5,877.1 106.5,877.1 107.5,877.1 108.5,877.1 109.5,877.1 110.5,877.1 111.5,877.2 112.5,877.2 113.5,877.2 114.5,877.2 115.5,877.2 116.5,877.2 117.5,877.2 118.5,877.2 119.5,877.2 120.5,877.2 121.5,877.2 122.5,877.2 123.5,877.2 124.5,877.2 125.5,877.3 126.5,877.3 127.5,877.3 128.5,877.3 129.5,877.3 130.5,877.3 131.5,877.3 132.5,877.3 133.5,877.3 134.5,877.3 135.5,877.3 136.5,877.3 137.5,877.3 138.5,877.3 139.5,877.4 140.5,877.4 141.5,877.4 142.5,877.4 143.5,877.4 144.5,877.4 145.5,877.4 146.5,877.4 147.5,877.4 148.5,877.4 149.5,877.4 150.5,877.4 151.5,877.4 152.5,877.4 153.5,877.4 154.5,877.4 155.5,877.4 156.5,877.4 157.5,877.4 158.5,877.4 159.5,877.4 160.5,877.4 161.5,877.4 162.5,877.4 163.5,877.3 164.5,877.3 165.5,877.3 166.5,877.3 167.5,877.3 168.5,877.2 169.5,877.2 170.5,877.2 171.5,877.1 172.5,877.1 173.5,877 174.5,877 175.5,876.9 176.5,876.8 177.5,876.8 178.5,876.7 179.5,876.6 180.5,876.5 181.5,876.4 182.5,876.3 183.5,876.1 184.5,876 185.5,875.8 186.5,875.7 187.5,875.5 188.5,875.3 189.5,875.1 190.5,874.9 191.5,874.7 192.5,874.4 193.5,874.2 194.5,873.9 195.5,873.6 196.5,873.3 197.5,873 198.5,872.6 199.5,872.3 200.5,871.9 201.5,871.5 202.5,871.1 203.5,870.6 204.5,870.2 205.5,869.7 206.5,869.3 207.5,868.8 208.5,868.2 209.5,867.7 210.5,867.2 211.5,866.6 212.5,866.1 213.5,865.5 214.5,864.9 215.5,864.3 216.5,863.7 217.5,863.1 218.5,862.4 219.5,861.8 220.5,861.2 221.5,860.6 222.5,859.9 223.5,859.3 224.5,858.7 225.5,858.1 226.5,857.5 227.5,856.9 228.5,856.3 229.5,855.8 230.5,855.3 231.5,854.7 232.5,854.2 233.5,853.8 234.5,853.3 235.5,852.9 236.5,852.5 237.5,852.2 238.5,851.8 239.5,851.5 240.5,851.3 241.5,851 242.5,850.9 243.5,850.7 244.5,850.6 245.5,850.5 246.5,850.5 247.5,850.5 248.5,850.6 249.5,850.6 250.5,850.8 251.5,850.9 252.5,851.1 253.5,851.4 254.5,851.6 255.5,852 256.5,852.3 257.5,852.7 258.5,853.1 259.5,853.5 260.5,854 261.5,854.5 262.5,855 263.5,855.5 264.5,856.1 265.5,856.6 266.5,857.2 267.5,857.8 268.5,858.4 269.5,859 270.5,859.7 271.5,860.3 272.5,860.9 273.5,861.6 274.5,862.2 275.5,862.9 276.5,863.5 277.5,864.1 278.5,864.8 279.5,865.4 280.5,866 281.5,866.6 282.5,867.2 283.5,867.7 284.5,868.3 285.5,868.8 286.5,869.4 287.5,869.9 288.5,870.4 289.5,870.8 290.5,871.3 291.5,871.7 292.5,872.2 293.5,872.6 294.5,873 295.5,873.3 296.5,873.7 297.5,874 298.5,874.4 299.5,874.7 300.5,875 301.5,875.2 302.5,875.5 303.5,875.7 304.5,876 305.5,876.2 306.5,876.4 307.5,876.6 308.5,876.8 309.5,876.9 310.5,877.1 311.5,877.2 312.5,877.4 313.5,877.5 314.5,877.6 315.5,877.7 316.5,877.8 317.5,877.9 318.5,878 319.5,878.1 320.5,878.1 321.5,878.2 322.5,878.3 323.5,878.3 324.5,878.4 325.5,878.4 326.5,878.5 327.5,878.5 328.5,878.5 329.5,878.6 330.5,878.6 331.5,878.6 332.5,878.7 333.5,878.7 334.5,878.7 335.5,878.7 336.5,878.7 337.5,878.8 338.5,878.8 339.5,878.8 340.5,878.8 341.5,878.8 342.5,878.8 343.5,878.9 344.5,878.9 345.5,878.9 346.5,878.9 347.5,878.9 348.5,878.9 349.5,878.9 350.5,878.9 351.5,878.9 352.5,878.9 353.5,879 354.5,879 355.5,879 356.5,879 357.5,879 358.5,879 359.5,879 360.5,879 361.5,879 362.5,879 363.5,879 364.5,879 365.5,879.1 366.5,879.1 367.5,879.1 368.5,879.1 369.5,879.1 370.5,879.1 371.5,879.1 372.5,879.1 373.5,879.1 374.5,879.1 375.5,879.1 376.5,879.1 377.5,879.1 378.5,879.1 379.5,879.2 380.5,879.2 381.5,879.2 382.5,879.2 383.5,879.2 384.5,879.2 385.5,879.2 386.5,879.2 387.5,879.2 388.5,879.2 389.5,879.2 390.5,879.2 391.5,879.2 392.5,879.3 393.5,879.3 394.5,879.3 395.5,879.3 396.5,879.3 397.5,879.3" fill="none" stroke="#3458e6" stroke-width="2.7" stroke-linejoin="round"/>
<path d="M53 876.4h0M56.5 877.1h0M60 877h0M63.5 876h0M67 876h0M70.5 875.8h0M74 876.4h0M77.5 875.9h0M81 876.2h0M84.5 874.4h0M88 876.2h0M91.5 874.9h0M95 875h0M98.5 874.1h0M102 873.5h0M105.5 873.5h0M109 873.2h0M112.5 872h0M116 871.4h0M119.5 871.3h0M123 869.7h0M126.5 868.6h0M130 869.1h0M133.5 867.8h0M137 866.4h0M140.5 866.4h0M144 865.9h0M147.5 864.7h0M151 863.8h0M154.5 863.8h0M158 863.4h0M161.5 861.6h0M165 860h0M168.5 859.3h0M172 857.9h0M175.5 855.5h0M179 854h0M182.5 852.2h0M186 849.1h0M189.5 846.3h0M193 844.4h0M196.5 841.7h0M200 839.5h0M203.5 835.4h0M207 833.2h0M210.5 830.7h0M214 827.9h0M217.5 827h0M221 825.5h0M224.5 823.5h0M228 823.9h0M231.5 823.2h0M235 823.3h0M238.5 823.9h0M242 825.5h0M245.5 826h0M249 829.6h0M252.5 832.4h0M256 834.2h0M259.5 839h0M263 842.4h0M266.5 846.9h0M270 849.9h0M273.5 853.9h0M277 857.7h0M280.5 860.2h0M284 864.1h0M287.5 866.4h0M291 869.1h0M294.5 870.5h0M298 873.1h0M301.5 874.2h0M305 874.8h0M308.5 876.2h0M312 877.3h0M315.5 878.2h0M319 876.5h0M322.5 878.3h0M326 878.3h0M329.5 878.1h0M333 877.7h0M336.5 879.2h0M340 877.7h0M343.5 878.9h0M347 879.4h0M350.5 877.7h0M354 878.5h0M357.5 877.9h0M361 878.9h0M364.5 879.7h0M368 880h0M371.5 877.7h0M375 878.5h0M378.5 879.3h0M382 879.8h0M385.5 879.2h0M389 878.5h0M392.5 879.1h0M396 879h0" stroke="#000" stroke-width="2.2" stroke-linecap="round" fill="none"/>
<line x1="51.3" y1="877.5" x2="398.7" y2="880.1" stroke="#000" stroke-width="3.2"/>
<text x="355.9" y="873.0" font-size="25">Cu</text>
<polyline points="52.5,973.8 53.5,973.8 54.5,973.8 55.5,973.8 56.5,973.8 57.5,973.8 58.5,973.8 59.5,973.8 60.5,973.8 61.5,973.8 62.5,973.8 63.5,973.8 64.5,973.7 65.5,973.7 66.5,973.7 67.5,973.7 68.5,973.7 69.5,973.7 70.5,973.7 71.5,973.7 72.5,973.7 73.5,973.6 74.5,973.6 75.5,973.6 76.5,973.6 77.5,973.5 78.5,973.5 79.5,973.5 80.5,973.4 81.5,973.4 82.5,973.4 83.5,973.3 84.5,973.3 85.5,973.2 86.5,973.2 87.5,973.1 88.5,973 89.5,973 90.5,972.9 91.5,972.8 92.5,972.8 93.5,972.7 94.5,972.6 95.5,972.5 96.5,972.4 97.5,972.4 98.5,972.3 99.5,972.2 100.5,972.1 101.5,972 102.5,971.9 103.5,971.7 104.5,971.6 105.5,971.5 106.5,971.4 107.5,971.3 108.5,971.1 109.5,971 110.5,970.9 111.5,970.8 112.5,970.6 113.5,970.5 114.5,970.3 115.5,970.2 116.5,970.1 117.5,969.9 118.5,969.8 119.5,969.6 120.5,969.5 121.5,969.3 122.5,969.2 123.5,969 124.5,968.8 125.5,968.7 126.5,968.5 127.5,968.4 128.5,968.2 129.5,968.1 130.5,967.9 131.5,967.7 132.5,967.6 133.5,967.4 134.5,967.2 135.5,967.1 136.5,966.9 137.5,966.7 138.5,966.5 139.5,966.4 140.5,966.2 141.5,966 142.5,965.8 143.5,965.6 144.5,965.4 145.5,965.2 146.5,965 147.5,964.8 148.5,964.6 149.5,964.3 150.5,964.1 151.5,963.9 152.5,963.6 153.5,963.3 154.5,963.1 155.5,962.8 156.5,962.5 157.5,962.2 158.5,961.9 159.5,961.5 160.5,961.2 161.5,960.8 162.5,960.4 163.5,960.1 164.5,959.6 165.5,959.2 166.5,958.8 167.5,958.3 168.5,957.8 169.5,957.3 170.5,956.8 171.5,956.3 172.5,955.7 173.5,955.2 174.5,954.6 175.5,953.9 176.5,953.3 177.5,952.7 178.5,952 179.5,951.3 180.5,950.5 181.5,949.8 182.5,949 183.5,948.2 184.5,947.4 185.5,946.6 186.5,945.7 187.5,944.9 188.5,944 189.5,943.1 190.5,942.1 191.5,941.2 192.5,940.2 193.5,939.2 194.5,938.2 195.5,937.2 196.5,936.1 197.5,935.1 198.5,934 199.5,932.9 200.5,931.8 201.5,930.7 202.5,929.6 203.5,928.5 204.5,927.4 205.5,926.2 206.5,925.1 207.5,923.9 208.5,922.8 209.5,921.6 210.5,920.5 211.5,919.4 212.5,918.2 213.5,917.1 214.5,916 215.5,914.9 216.5,913.8 217.5,912.8 218.5,911.8 219.5,910.7 220.5,909.8 221.5,908.8 222.5,907.9 223.5,907 224.5,906.2 225.5,905.4 226.5,904.6 227.5,903.9 228.5,903.3 229.5,902.7 230.5,902.1 231.5,901.6 232.5,901.2 233.5,900.9 234.5,900.6 235.5,900.3 236.5,900.2 237.5,900.1 238.5,900.1 239.5,900.1 240.5,900.2 241.5,900.4 242.5,900.7 243.5,901.1 244.5,901.5 245.5,902 246.5,902.6 247.5,903.2 248.5,903.9 249.5,904.7 250.5,905.6 251.5,906.5 252.5,907.5 253.5,908.6 254.5,909.7 255.5,910.8 256.5,912.1 257.5,913.3 258.5,914.7 259.5,916 260.5,917.4 261.5,918.9 262.5,920.3 263.5,921.8 264.5,923.4 265.5,924.9 266.5,926.5 267.5,928.1 268.5,929.6 269.5,931.2 270.5,932.8 271.5,934.4 272.5,936 273.5,937.6 274.5,939.1 275.5,940.6 276.5,942.2 277.5,943.7 278.5,945.1 279.5,946.6 280.5,948 281.5,949.4 282.5,950.7 283.5,952 284.5,953.3 285.5,954.6 286.5,955.8 287.5,956.9 288.5,958 289.5,959.1 290.5,960.2 291.5,961.2 292.5,962.1 293.5,963 294.5,963.9 295.5,964.7 296.5,965.5 297.5,966.3 298.5,967 299.5,967.7 300.5,968.3 301.5,968.9 302.5,969.5 303.5,970 304.5,970.5 305.5,971 306.5,971.4 307.5,971.9 308.5,972.3 309.5,972.6 310.5,973 311.5,973.3 312.5,973.6 313.5,973.8 314.5,974.1 315.5,974.3 316.5,974.5 317.5,974.7 318.5,974.9 319.5,975.1 320.5,975.2 321.5,975.4 322.5,975.5 323.5,975.6 324.5,975.7 325.5,975.8 326.5,975.9 327.5,976 328.5,976.1 329.5,976.2 330.5,976.2 331.5,976.3 332.5,976.4 333.5,976.4 334.5,976.5 335.5,976.5 336.5,976.5 337.5,976.6 338.5,976.6 339.5,976.6 340.5,976.7 341.5,976.7 342.5,976.7 343.5,976.7 344.5,976.8 345.5,976.8 346.5,976.8 347.5,976.8 348.5,976.8 349.5,976.9 350.5,976.9 351.5,976.9 352.5,976.9 353.5,976.9 354.5,976.9 355.5,976.9 356.5,976.9 357.5,977 358.5,977 359.5,977 360.5,977 361.5,977 362.5,977 363.5,977 364.5,977 365.5,977.1 366.5,977.1 367.5,977.1 368.5,977.1 369.5,977.1 370.5,977.1 371.5,977.1 372.5,977.1 373.5,977.1 374.5,977.1 375.5,977.2 376.5,977.2 377.5,977.2 378.5,977.2 379.5,977.2 380.5,977.2 381.5,977.2 382.5,977.2 383.5,977.2 384.5,977.3 385.5,977.3 386.5,977.3 387.5,977.3 388.5,977.3 389.5,977.3 390.5,977.3 391.5,977.3 392.5,977.3 393.5,977.3 394.5,977.4 395.5,977.4 396.5,977.4 397.5,977.4" fill="none" stroke="#c8c8c8" stroke-width="4.3" stroke-linejoin="round"/>
<polyline points="52.5,973.8 53.5,973.8 54.5,973.8 55.5,973.8 56.5,973.8 57.5,973.8 58.5,973.8 59.5,973.8 60.5,973.8 61.5,973.8 62.5,973.8 63.5,973.8 64.5,973.7 65.5,973.7 66.5,973.7 67.5,973.7 68.5,973.7 69.5,973.7 70.5,973.7 71.5,973.7 72.5,973.7 73.5,973.6 74.5,973.6 75.5,973.6 76.5,973.6 77.5,973.5 78.5,973.5 79.5,973.5 80.5,973.4 81.5,973.4 82.5,973.4 83.5,973.3 84.5,973.3 85.5,973.2 86.5,973.2 87.5,973.1 88.5,973.1 89.5,973 90.5,972.9 91.5,972.9 92.5,972.8 93.5,972.7 94.5,972.6 95.5,972.6 96.5,972.5 97.5,972.4 98.5,972.3 99.5,972.2 100.5,972.1 101.5,972 102.5,971.9 103.5,971.8 104.5,971.7 105.5,971.6 106.5,971.5 107.5,971.4 108.5,971.3 109.5,971.2 110.5,971.1 111.5,970.9 112.5,970.8 113.5,970.7 114.5,970.6 115.5,970.5 116.5,970.4 117.5,970.2 118.5,970.1 119.5,970 120.5,969.9 121.5,969.8 122.5,969.7 123.5,969.6 124.5,969.5 125.5,969.4 126.5,969.3 127.5,969.2 128.5,969.1 129.5,969 130.5,969 131.5,968.9 132.5,968.8 133.5,968.8 134.5,968.7 135.5,968.7 136.5,968.6 137.5,968.6 138.5,968.5 139.5,968.5 140.5,968.5 141.5,968.5 142.5,968.5 143.5,968.5 144.5,968.5 145.5,968.5 146.5,968.5 147.5,968.6 148.5,968.6 149.5,968.7 150.5,968.7 151.5,968.8 152.5,968.8 153.5,968.9 154.5,969 155.5,969.1 156.5,969.2 157.5,969.2 158.5,969.3 159.5,969.4 160.5,969.5 161.5,969.7 162.5,969.8 163.5,969.9 164.5,970 165.5,970.1 166.5,970.3 167.5,970.4 168.5,970.5 169.5,970.7 170.5,970.8 171.5,970.9 172.5,971.1 173.5,971.2 174.5,971.3 175.5,971.5 176.5,971.6 177.5,971.8 178.5,971.9 179.5,972 180.5,972.2 181.5,972.3 182.5,972.4 183.5,972.5 184.5,972.7 185.5,972.8 186.5,972.9 187.5,973 188.5,973.1 189.5,973.3 190.5,973.4 191.5,973.5 192.5,973.6 193.5,973.7 194.5,973.8 195.5,973.9 196.5,974 197.5,974 198.5,974.1 199.5,974.2 200.5,974.3 201.5,974.4 202.5,974.4 203.5,974.5 204.5,974.6 205.5,974.6 206.5,974.7 207.5,974.8 208.5,974.8 209.5,974.9 210.5,974.9 211.5,975 212.5,975 213.5,975.1 214.5,975.1 215.5,975.1 216.5,975.2 217.5,975.2 218.5,975.2 219.5,975.3 220.5,975.3 221.5,975.3 222.5,975.4 223.5,975.4 224.5,975.4 225.5,975.4 226.5,975.5 227.5,975.5 228.5,975.5 229.5,975.5 230.5,975.6 231.5,975.6 232.5,975.6 233.5,975.6 234.5,975.6 235.5,975.6 236.5,975.7 237.5,975.7 238.5,975.7 239.5,975.7 240.5,975.7 241.5,975.7 242.5,975.8 243.5,975.8 244.5,975.8 245.5,975.8 246.5,975.8 247.5,975.8 248.5,975.8 249.5,975.8 250.5,975.9 251.5,975.9 252.5,975.9 253.5,975.9 254.5,975.9 255.5,975.9 256.5,975.9 257.5,975.9 258.5,975.9 259.5,976 260.5,976 261.5,976 262.5,976 263.5,976 264.5,976 265.5,976 266.5,976 267.5,976 268.5,976 269.5,976.1 270.5,976.1 271.5,976.1 272.5,976.1 273.5,976.1 274.5,976.1 275.5,976.1 276.5,976.1 277.5,976.1 278.5,976.2 279.5,976.2 280.5,976.2 281.5,976.2 282.5,976.2 283.5,976.2 284.5,976.2 285.5,976.2 286.5,976.2 287.5,976.2 288.5,976.3 289.5,976.3 290.5,976.3 291.5,976.3 292.5,976.3 293.5,976.3 294.5,976.3 295.5,976.3 296.5,976.3 297.5,976.4 298.5,976.4 299.5,976.4 300.5,976.4 301.5,976.4 302.5,976.4 303.5,976.4 304.5,976.4 305.5,976.4 306.5,976.4 307.5,976.5 308.5,976.5 309.5,976.5 310.5,976.5 311.5,976.5 312.5,976.5 313.5,976.5 314.5,976.5 315.5,976.5 316.5,976.5 317.5,976.6 318.5,976.6 319.5,976.6 320.5,976.6 321.5,976.6 322.5,976.6 323.5,976.6 324.5,976.6 325.5,976.6 326.5,976.7 327.5,976.7 328.5,976.7 329.5,976.7 330.5,976.7 331.5,976.7 332.5,976.7 333.5,976.7 334.5,976.7 335.5,976.7 336.5,976.8 337.5,976.8 338.5,976.8 339.5,976.8 340.5,976.8 341.5,976.8 342.5,976.8 343.5,976.8 344.5,976.8 345.5,976.8 346.5,976.9 347.5,976.9 348.5,976.9 349.5,976.9 350.5,976.9 351.5,976.9 352.5,976.9 353.5,976.9 354.5,976.9 355.5,977 356.5,977 357.5,977 358.5,977 359.5,977 360.5,977 361.5,977 362.5,977 363.5,977 364.5,977 365.5,977.1 366.5,977.1 367.5,977.1 368.5,977.1 369.5,977.1 370.5,977.1 371.5,977.1 372.5,977.1 373.5,977.1 374.5,977.1 375.5,977.2 376.5,977.2 377.5,977.2 378.5,977.2 379.5,977.2 380.5,977.2 381.5,977.2 382.5,977.2 383.5,977.2 384.5,977.3 385.5,977.3 386.5,977.3 387.5,977.3 388.5,977.3 389.5,977.3 390.5,977.3 391.5,977.3 392.5,977.3 393.5,977.3 394.5,977.4 395.5,977.4 396.5,977.4 397.5,977.4" fill="none" stroke="#d02828" stroke-width="2.6" stroke-linejoin="round"/>
<polyline points="52.5,973.8 53.5,973.8 54.5,973.8 55.5,973.8 56.5,973.9 57.5,973.9 58.5,973.9 59.5,973.9 60.5,973.9 61.5,973.9 62.5,973.9 63.5,973.9 64.5,973.9 65.5,973.9 66.5,974 67.5,974 68.5,974 69.5,974 70.5,974 71.5,974 72.5,974 73.5,974 74.5,974 75.5,974 76.5,974.1 77.5,974.1 78.5,974.1 79.5,974.1 80.5,974.1 81.5,974.1 82.5,974.1 83.5,974.1 84.5,974.1 85.5,974.1 86.5,974.2 87.5,974.2 88.5,974.2 89.5,974.2 90.5,974.2 91.5,974.2 92.5,974.2 93.5,974.2 94.5,974.2 95.5,974.2 96.5,974.2 97.5,974.2 98.5,974.2 99.5,974.2 100.5,974.3 101.5,974.3 102.5,974.3 103.5,974.3 104.5,974.3 105.5,974.3 106.5,974.3 107.5,974.3 108.5,974.3 109.5,974.2 110.5,974.2 111.5,974.2 112.5,974.2 113.5,974.2 114.5,974.2 115.5,974.2 116.5,974.2 117.5,974.1 118.5,974.1 119.5,974.1 120.5,974.1 121.5,974 122.5,974 123.5,974 124.5,973.9 125.5,973.9 126.5,973.8 127.5,973.8 128.5,973.7 129.5,973.6 130.5,973.6 131.5,973.5 132.5,973.4 133.5,973.3 134.5,973.2 135.5,973.1 136.5,973 137.5,972.8 138.5,972.7 139.5,972.6 140.5,972.4 141.5,972.2 142.5,972.1 143.5,971.9 144.5,971.7 145.5,971.5 146.5,971.3 147.5,971 148.5,970.8 149.5,970.5 150.5,970.3 151.5,970 152.5,969.7 153.5,969.4 154.5,969.1 155.5,968.7 156.5,968.4 157.5,968 158.5,967.6 159.5,967.2 160.5,966.8 161.5,966.4 162.5,965.9 163.5,965.4 164.5,965 165.5,964.5 166.5,964 167.5,963.4 168.5,962.9 169.5,962.3 170.5,961.8 171.5,961.2 172.5,960.6 173.5,960 174.5,959.4 175.5,958.8 176.5,958.1 177.5,957.5 178.5,956.8 179.5,956.2 180.5,955.5 181.5,954.8 182.5,954.1 183.5,953.5 184.5,952.8 185.5,952.1 186.5,951.4 187.5,950.8 188.5,950.1 189.5,949.4 190.5,948.8 191.5,948.1 192.5,947.5 193.5,946.8 194.5,946.2 195.5,945.6 196.5,945 197.5,944.5 198.5,943.9 199.5,943.4 200.5,942.9 201.5,942.4 202.5,941.9 203.5,941.5 204.5,941.1 205.5,940.7 206.5,940.4 207.5,940 208.5,939.8 209.5,939.5 210.5,939.3 211.5,939.1 212.5,938.9 213.5,938.8 214.5,938.7 215.5,938.6 216.5,938.6 217.5,938.6 218.5,938.7 219.5,938.7 220.5,938.8 221.5,939 222.5,939.2 223.5,939.4 224.5,939.6 225.5,939.9 226.5,940.2 227.5,940.6 228.5,941 229.5,941.4 230.5,941.8 231.5,942.2 232.5,942.7 233.5,943.2 234.5,943.8 235.5,944.3 236.5,944.9 237.5,945.5 238.5,946.1 239.5,946.7 240.5,947.3 241.5,948 242.5,948.6 243.5,949.3 244.5,950 245.5,950.7 246.5,951.4 247.5,952.1 248.5,952.8 249.5,953.5 250.5,954.2 251.5,954.9 252.5,955.6 253.5,956.2 254.5,956.9 255.5,957.6 256.5,958.3 257.5,959 258.5,959.6 259.5,960.3 260.5,960.9 261.5,961.5 262.5,962.1 263.5,962.7 264.5,963.3 265.5,963.9 266.5,964.5 267.5,965 268.5,965.5 269.5,966 270.5,966.5 271.5,967 272.5,967.5 273.5,968 274.5,968.4 275.5,968.8 276.5,969.2 277.5,969.6 278.5,970 279.5,970.4 280.5,970.7 281.5,971 282.5,971.4 283.5,971.7 284.5,971.9 285.5,972.2 286.5,972.5 287.5,972.7 288.5,973 289.5,973.2 290.5,973.4 291.5,973.6 292.5,973.8 293.5,974 294.5,974.2 295.5,974.3 296.5,974.5 297.5,974.6 298.5,974.8 299.5,974.9 300.5,975 301.5,975.1 302.5,975.2 303.5,975.3 304.5,975.4 305.5,975.5 306.5,975.6 307.5,975.7 308.5,975.8 309.5,975.8 310.5,975.9 311.5,976 312.5,976 313.5,976.1 314.5,976.1 315.5,976.2 316.5,976.2 317.5,976.2 318.5,976.3 319.5,976.3 320.5,976.4 321.5,976.4 322.5,976.4 323.5,976.4 324.5,976.5 325.5,976.5 326.5,976.5 327.5,976.5 328.5,976.6 329.5,976.6 330.5,976.6 331.5,976.6 332.5,976.6 333.5,976.7 334.5,976.7 335.5,976.7 336.5,976.7 337.5,976.7 338.5,976.7 339.5,976.8 340.5,976.8 341.5,976.8 342.5,976.8 343.5,976.8 344.5,976.8 345.5,976.8 346.5,976.8 347.5,976.9 348.5,976.9 349.5,976.9 350.5,976.9 351.5,976.9 352.5,976.9 353.5,976.9 354.5,976.9 355.5,976.9 356.5,977 357.5,977 358.5,977 359.5,977 360.5,977 361.5,977 362.5,977 363.5,977 364.5,977 365.5,977.1 366.5,977.1 367.5,977.1 368.5,977.1 369.5,977.1 370.5,977.1 371.5,977.1 372.5,977.1 373.5,977.1 374.5,977.1 375.5,977.2 376.5,977.2 377.5,977.2 378.5,977.2 379.5,977.2 380.5,977.2 381.5,977.2 382.5,977.2 383.5,977.2 384.5,977.3 385.5,977.3 386.5,977.3 387.5,977.3 388.5,977.3 389.5,977.3 390.5,977.3 391.5,977.3 392.5,977.3 393.5,977.3 394.5,977.4 395.5,977.4 396.5,977.4 397.5,977.4" fill="none" stroke="#58ad58" stroke-width="2.4" stroke-linejoin="round"/>
<polygon points="52.5,973.8 53.5,973.8 54.5,973.8 55.5,973.8 56.5,973.9 57.5,973.9 58.5,973.9 59.5,973.9 60.5,973.9 61.5,973.9 62.5,973.9 63.5,973.9 64.5,973.9 65.5,973.9 66.5,974 67.5,974 68.5,974 69.5,974 70.5,974 71.5,974 72.5,974 73.5,974 74.5,974 75.5,974.1 76.5,974.1 77.5,974.1 78.5,974.1 79.5,974.1 80.5,974.1 81.5,974.1 82.5,974.1 83.5,974.1 84.5,974.1 85.5,974.2 86.5,974.2 87.5,974.2 88.5,974.2 89.5,974.2 90.5,974.2 91.5,974.2 92.5,974.2 93.5,974.2 94.5,974.2 95.5,974.3 96.5,974.3 97.5,974.3 98.5,974.3 99.5,974.3 100.5,974.3 101.5,974.3 102.5,974.3 103.5,974.3 104.5,974.4 105.5,974.4 106.5,974.4 107.5,974.4 108.5,974.4 109.5,974.4 110.5,974.4 111.5,974.4 112.5,974.4 113.5,974.4 114.5,974.5 115.5,974.5 116.5,974.5 117.5,974.5 118.5,974.5 119.5,974.5 120.5,974.5 121.5,974.5 122.5,974.5 123.5,974.5 124.5,974.6 125.5,974.6 126.5,974.6 127.5,974.6 128.5,974.6 129.5,974.6 130.5,974.6 131.5,974.6 132.5,974.6 133.5,974.6 134.5,974.7 135.5,974.7 136.5,974.7 137.5,974.7 138.5,974.7 139.5,974.7 140.5,974.7 141.5,974.7 142.5,974.7 143.5,974.7 144.5,974.7 145.5,974.7 146.5,974.8 147.5,974.8 148.5,974.8 149.5,974.8 150.5,974.8 151.5,974.8 152.5,974.8 153.5,974.8 154.5,974.8 155.5,974.8 156.5,974.8 157.5,974.8 158.5,974.7 159.5,974.7 160.5,974.7 161.5,974.7 162.5,974.7 163.5,974.6 164.5,974.6 165.5,974.6 166.5,974.5 167.5,974.5 168.5,974.5 169.5,974.4 170.5,974.3 171.5,974.3 172.5,974.2 173.5,974.1 174.5,974 175.5,973.9 176.5,973.8 177.5,973.6 178.5,973.5 179.5,973.3 180.5,973.2 181.5,973 182.5,972.8 183.5,972.6 184.5,972.3 185.5,972.1 186.5,971.8 187.5,971.5 188.5,971.2 189.5,970.9 190.5,970.5 191.5,970.1 192.5,969.7 193.5,969.2 194.5,968.8 195.5,968.3 196.5,967.8 197.5,967.2 198.5,966.6 199.5,966 200.5,965.3 201.5,964.7 202.5,964 203.5,963.2 204.5,962.5 205.5,961.7 206.5,960.8 207.5,960 208.5,959.1 209.5,958.2 210.5,957.2 211.5,956.3 212.5,955.3 213.5,954.2 214.5,953.2 215.5,952.2 216.5,951.1 217.5,950 218.5,948.9 219.5,947.8 220.5,946.7 221.5,945.6 222.5,944.5 223.5,943.4 224.5,942.3 225.5,941.2 226.5,940.2 227.5,939.1 228.5,938.1 229.5,937.1 230.5,936.1 231.5,935.2 232.5,934.2 233.5,933.4 234.5,932.6 235.5,931.8 236.5,931.1 237.5,930.4 238.5,929.8 239.5,929.2 240.5,928.7 241.5,928.3 242.5,927.9 243.5,927.6 244.5,927.3 245.5,927.1 246.5,927 247.5,927 248.5,927 249.5,927.1 250.5,927.3 251.5,927.5 252.5,927.8 253.5,928.2 254.5,928.7 255.5,929.2 256.5,929.7 257.5,930.3 258.5,931 259.5,931.7 260.5,932.5 261.5,933.3 262.5,934.2 263.5,935.1 264.5,936.1 265.5,937 266.5,938.1 267.5,939.1 268.5,940.2 269.5,941.2 270.5,942.3 271.5,943.5 272.5,944.6 273.5,945.7 274.5,946.8 275.5,948 276.5,949.1 277.5,950.2 278.5,951.3 279.5,952.4 280.5,953.5 281.5,954.5 282.5,955.6 283.5,956.6 284.5,957.6 285.5,958.6 286.5,959.5 287.5,960.4 288.5,961.3 289.5,962.2 290.5,963 291.5,963.8 292.5,964.6 293.5,965.3 294.5,966.1 295.5,966.7 296.5,967.4 297.5,968 298.5,968.6 299.5,969.1 300.5,969.7 301.5,970.2 302.5,970.6 303.5,971.1 304.5,971.5 305.5,971.9 306.5,972.3 307.5,972.6 308.5,973 309.5,973.3 310.5,973.5 311.5,973.8 312.5,974.1 313.5,974.3 314.5,974.5 315.5,974.7 316.5,974.9 317.5,975 318.5,975.2 319.5,975.3 320.5,975.5 321.5,975.6 322.5,975.7 323.5,975.8 324.5,975.9 325.5,976 326.5,976.1 327.5,976.1 328.5,976.2 329.5,976.3 330.5,976.3 331.5,976.4 332.5,976.4 333.5,976.5 334.5,976.5 335.5,976.5 336.5,976.6 337.5,976.6 338.5,976.6 339.5,976.7 340.5,976.7 341.5,976.7 342.5,976.7 343.5,976.8 344.5,976.8 345.5,976.8 346.5,976.8 347.5,976.8 348.5,976.8 349.5,976.9 350.5,976.9 351.5,976.9 352.5,976.9 353.5,976.9 354.5,976.9 355.5,976.9 356.5,977 357.5,977 358.5,977 359.5,977 360.5,977 361.5,977 362.5,977 363.5,977 364.5,977 365.5,977.1 366.5,977.1 367.5,977.1 368.5,977.1 369.5,977.1 370.5,977.1 371.5,977.1 372.5,977.1 373.5,977.1 374.5,977.1 375.5,977.2 376.5,977.2 377.5,977.2 378.5,977.2 379.5,977.2 380.5,977.2 381.5,977.2 382.5,977.2 383.5,977.2 384.5,977.3 385.5,977.3 386.5,977.3 387.5,977.3 388.5,977.3 389.5,977.3 390.5,977.3 391.5,977.3 392.5,977.3 393.5,977.3 394.5,977.4 395.5,977.4 396.5,977.4 397.5,977.4 397.5,977.4 396.5,977.4 395.5,977.4 394.5,977.4 393.5,977.3 392.5,977.3 391.5,977.3 390.5,977.3 389.5,977.3 388.5,977.3 387.5,977.3 386.5,977.3 385.5,977.3 384.5,977.3 383.5,977.2 382.5,977.2 381.5,977.2 380.5,977.2 379.5,977.2 378.5,977.2 377.5,977.2 376.5,977.2 375.5,977.2 374.5,977.1 373.5,977.1 372.5,977.1 371.5,977.1 370.5,977.1 369.5,977.1 368.5,977.1 367.5,977.1 366.5,977.1 365.5,977.1 364.5,977 363.5,977 362.5,977 361.5,977 360.5,977 359.5,977 358.5,977 357.5,977 356.5,977 355.5,977 354.5,976.9 353.5,976.9 352.5,976.9 351.5,976.9 350.5,976.9 349.5,976.9 348.5,976.9 347.5,976.9 346.5,976.9 345.5,976.8 344.5,976.8 343.5,976.8 342.5,976.8 341.5,976.8 340.5,976.8 339.5,976.8 338.5,976.8 337.5,976.8 336.5,976.8 335.5,976.7 334.5,976.7 333.5,976.7 332.5,976.7 331.5,976.7 330.5,976.7 329.5,976.7 328.5,976.7 327.5,976.7 326.5,976.7 325.5,976.6 324.5,976.6 323.5,976.6 322.5,976.6 321.5,976.6 320.5,976.6 319.5,976.6 318.5,976.6 317.5,976.6 316.5,976.5 315.5,976.5 314.5,976.5 313.5,976.5 312.5,976.5 311.5,976.5 310.5,976.5 309.5,976.5 308.5,976.5 307.5,976.5 306.5,976.4 305.5,976.4 304.5,976.4 303.5,976.4 302.5,976.4 301.5,976.4 300.5,976.4 299.5,976.4 298.5,976.4 297.5,976.4 296.5,976.3 295.5,976.3 294.5,976.3 293.5,976.3 292.5,976.3 291.5,976.3 290.5,976.3 289.5,976.3 288.5,976.3 287.5,976.2 286.5,976.2 285.5,976.2 284.5,976.2 283.5,976.2 282.5,976.2 281.5,976.2 280.5,976.2 279.5,976.2 278.5,976.2 277.5,976.1 276.5,976.1 275.5,976.1 274.5,976.1 273.5,976.1 272.5,976.1 271.5,976.1 270.5,976.1 269.5,976.1 268.5,976.1 267.5,976 266.5,976 265.5,976 264.5,976 263.5,976 262.5,976 261.5,976 260.5,976 259.5,976 258.5,975.9 257.5,975.9 256.5,975.9 255.5,975.9 254.5,975.9 253.5,975.9 252.5,975.9 251.5,975.9 250.5,975.9 249.5,975.9 248.5,975.8 247.5,975.8 246.5,975.8 245.5,975.8 244.5,975.8 243.5,975.8 242.5,975.8 241.5,975.8 240.5,975.8 239.5,975.8 238.5,975.7 237.5,975.7 236.5,975.7 235.5,975.7 234.5,975.7 233.5,975.7 232.5,975.7 231.5,975.7 230.5,975.7 229.5,975.6 228.5,975.6 227.5,975.6 226.5,975.6 225.5,975.6 224.5,975.6 223.5,975.6 222.5,975.6 221.5,975.6 220.5,975.6 219.5,975.5 218.5,975.5 217.5,975.5 216.5,975.5 215.5,975.5 214.5,975.5 213.5,975.5 212.5,975.5 211.5,975.5 210.5,975.4 209.5,975.4 208.5,975.4 207.5,975.4 206.5,975.4 205.5,975.4 204.5,975.4 203.5,975.4 202.5,975.4 201.5,975.4 200.5,975.3 199.5,975.3 198.5,975.3 197.5,975.3 196.5,975.3 195.5,975.3 194.5,975.3 193.5,975.3 192.5,975.3 191.5,975.3 190.5,975.2 189.5,975.2 188.5,975.2 187.5,975.2 186.5,975.2 185.5,975.2 184.5,975.2 183.5,975.2 182.5,975.2 181.5,975.1 180.5,975.1 179.5,975.1 178.5,975.1 177.5,975.1 176.5,975.1 175.5,975.1 174.5,975.1 173.5,975.1 172.5,975.1 171.5,975 170.5,975 169.5,975 168.5,975 167.5,975 166.5,975 165.5,975 164.5,975 163.5,975 162.5,975 161.5,974.9 160.5,974.9 159.5,974.9 158.5,974.9 157.5,974.9 156.5,974.9 155.5,974.9 154.5,974.9 153.5,974.9 152.5,974.8 151.5,974.8 150.5,974.8 149.5,974.8 148.5,974.8 147.5,974.8 146.5,974.8 145.5,974.8 144.5,974.8 143.5,974.8 142.5,974.7 141.5,974.7 140.5,974.7 139.5,974.7 138.5,974.7 137.5,974.7 136.5,974.7 135.5,974.7 134.5,974.7 133.5,974.7 132.5,974.6 131.5,974.6 130.5,974.6 129.5,974.6 128.5,974.6 127.5,974.6 126.5,974.6 125.5,974.6 124.5,974.6 123.5,974.5 122.5,974.5 121.5,974.5 120.5,974.5 119.5,974.5 118.5,974.5 117.5,974.5 116.5,974.5 115.5,974.5 114.5,974.5 113.5,974.4 112.5,974.4 111.5,974.4 110.5,974.4 109.5,974.4 108.5,974.4 107.5,974.4 106.5,974.4 105.5,974.4 104.5,974.4 103.5,974.3 102.5,974.3 101.5,974.3 100.5,974.3 99.5,974.3 98.5,974.3 97.5,974.3 96.5,974.3 95.5,974.3 94.5,974.2 93.5,974.2 92.5,974.2 91.5,974.2 90.5,974.2 89.5,974.2 88.5,974.2 87.5,974.2 86.5,974.2 85.5,974.2 84.5,974.1 83.5,974.1 82.5,974.1 81.5,974.1 80.5,974.1 79.5,974.1 78.5,974.1 77.5,974.1 76.5,974.1 75.5,974.1 74.5,974 73.5,974 72.5,974 71.5,974 70.5,974 69.5,974 68.5,974 67.5,974 66.5,974 65.5,973.9 64.5,973.9 63.5,973.9 62.5,973.9 61.5,973.9 60.5,973.9 59.5,973.9 58.5,973.9 57.5,973.9 56.5,973.9 55.5,973.8 54.5,973.8 53.5,973.8 52.5,973.8" fill="#3458e6" stroke="none" fill-opacity="0.38"/>
<polyline points="52.5,973.8 53.5,973.8 54.5,973.8 55.5,973.8 56.5,973.9 57.5,973.9 58.5,973.9 59.5,973.9 60.5,973.9 61.5,973.9 62.5,973.9 63.5,973.9 64.5,973.9 65.5,973.9 66.5,974 67.5,974 68.5,974 69.5,974 70.5,974 71.5,974 72.5,974 73.5,974 74.5,974 75.5,974.1 76.5,974.1 77.5,974.1 78.5,974.1 79.5,974.1 80.5,974.1 81.5,974.1 82.5,974.1 83.5,974.1 84.5,974.1 85.5,974.2 86.5,974.2 87.5,974.2 88.5,974.2 89.5,974.2 90.5,974.2 91.5,974.2 92.5,974.2 93.5,974.2 94.5,974.2 95.5,974.3 96.5,974.3 97.5,974.3 98.5,974.3 99.5,974.3 100.5,974.3 101.5,974.3 102.5,974.3 103.5,974.3 104.5,974.4 105.5,974.4 106.5,974.4 107.5,974.4 108.5,974.4 109.5,974.4 110.5,974.4 111.5,974.4 112.5,974.4 113.5,974.4 114.5,974.5 115.5,974.5 116.5,974.5 117.5,974.5 118.5,974.5 119.5,974.5 120.5,974.5 121.5,974.5 122.5,974.5 123.5,974.5 124.5,974.6 125.5,974.6 126.5,974.6 127.5,974.6 128.5,974.6 129.5,974.6 130.5,974.6 131.5,974.6 132.5,974.6 133.5,974.6 134.5,974.7 135.5,974.7 136.5,974.7 137.5,974.7 138.5,974.7 139.5,974.7 140.5,974.7 141.5,974.7 142.5,974.7 143.5,974.7 144.5,974.7 145.5,974.7 146.5,974.8 147.5,974.8 148.5,974.8 149.5,974.8 150.5,974.8 151.5,974.8 152.5,974.8 153.5,974.8 154.5,974.8 155.5,974.8 156.5,974.8 157.5,974.8 158.5,974.7 159.5,974.7 160.5,974.7 161.5,974.7 162.5,974.7 163.5,974.6 164.5,974.6 165.5,974.6 166.5,974.5 167.5,974.5 168.5,974.5 169.5,974.4 170.5,974.3 171.5,974.3 172.5,974.2 173.5,974.1 174.5,974 175.5,973.9 176.5,973.8 177.5,973.6 178.5,973.5 179.5,973.3 180.5,973.2 181.5,973 182.5,972.8 183.5,972.6 184.5,972.3 185.5,972.1 186.5,971.8 187.5,971.5 188.5,971.2 189.5,970.9 190.5,970.5 191.5,970.1 192.5,969.7 193.5,969.2 194.5,968.8 195.5,968.3 196.5,967.8 197.5,967.2 198.5,966.6 199.5,966 200.5,965.3 201.5,964.7 202.5,964 203.5,963.2 204.5,962.5 205.5,961.7 206.5,960.8 207.5,960 208.5,959.1 209.5,958.2 210.5,957.2 211.5,956.3 212.5,955.3 213.5,954.2 214.5,953.2 215.5,952.2 216.5,951.1 217.5,950 218.5,948.9 219.5,947.8 220.5,946.7 221.5,945.6 222.5,944.5 223.5,943.4 224.5,942.3 225.5,941.2 226.5,940.2 227.5,939.1 228.5,938.1 229.5,937.1 230.5,936.1 231.5,935.2 232.5,934.2 233.5,933.4 234.5,932.6 235.5,931.8 236.5,931.1 237.5,930.4 238.5,929.8 239.5,929.2 240.5,928.7 241.5,928.3 242.5,927.9 243.5,927.6 244.5,927.3 245.5,927.1 246.5,927 247.5,927 248.5,927 249.5,927.1 250.5,927.3 251.5,927.5 252.5,927.8 253.5,928.2 254.5,928.7 255.5,929.2 256.5,929.7 257.5,930.3 258.5,931 259.5,931.7 260.5,932.5 261.5,933.3 262.5,934.2 263.5,935.1 264.5,936.1 265.5,937 266.5,938.1 267.5,939.1 268.5,940.2 269.5,941.2 270.5,942.3 271.5,943.5 272.5,944.6 273.5,945.7 274.5,946.8 275.5,948 276.5,949.1 277.5,950.2 278.5,951.3 279.5,952.4 280.5,953.5 281.5,954.5 282.5,955.6 283.5,956.6 284.5,957.6 285.5,958.6 286.5,959.5 287.5,960.4 288.5,961.3 289.5,962.2 290.5,963 291.5,963.8 292.5,964.6 293.5,965.3 294.5,966.1 295.5,966.7 296.5,967.4 297.5,968 298.5,968.6 299.5,969.1 300.5,969.7 301.5,970.2 302.5,970.6 303.5,971.1 304.5,971.5 305.5,971.9 306.5,972.3 307.5,972.6 308.5,973 309.5,973.3 310.5,973.5 311.5,973.8 312.5,974.1 313.5,974.3 314.5,974.5 315.5,974.7 316.5,974.9 317.5,975 318.5,975.2 319.5,975.3 320.5,975.5 321.5,975.6 322.5,975.7 323.5,975.8 324.5,975.9 325.5,976 326.5,976.1 327.5,976.1 328.5,976.2 329.5,976.3 330.5,976.3 331.5,976.4 332.5,976.4 333.5,976.5 334.5,976.5 335.5,976.5 336.5,976.6 337.5,976.6 338.5,976.6 339.5,976.7 340.5,976.7 341.5,976.7 342.5,976.7 343.5,976.8 344.5,976.8 345.5,976.8 346.5,976.8 347.5,976.8 348.5,976.8 349.5,976.9 350.5,976.9 351.5,976.9 352.5,976.9 353.5,976.9 354.5,976.9 355.5,976.9 356.5,977 357.5,977 358.5,977 359.5,977 360.5,977 361.5,977 362.5,977 363.5,977 364.5,977 365.5,977.1 366.5,977.1 367.5,977.1 368.5,977.1 369.5,977.1 370.5,977.1 371.5,977.1 372.5,977.1 373.5,977.1 374.5,977.1 375.5,977.2 376.5,977.2 377.5,977.2 378.5,977.2 379.5,977.2 380.5,977.2 381.5,977.2 382.5,977.2 383.5,977.2 384.5,977.3 385.5,977.3 386.5,977.3 387.5,977.3 388.5,977.3 389.5,977.3 390.5,977.3 391.5,977.3 392.5,977.3 393.5,977.3 394.5,977.4 395.5,977.4 396.5,977.4 397.5,977.4" fill="none" stroke="#3458e6" stroke-width="2.7" stroke-linejoin="round"/>
<path d="M53 973.3h0M56.5 973h0M60 973.7h0M63.5 973.6h0M67 973.4h0M70.5 973.3h0M74 972.6h0M77.5 972.9h0M81 973.8h0M84.5 972.8h0M88 971.9h0M91.5 973.3h0M95 972.6h0M98.5 973.2h0M102 971.6h0M105.5 970.9h0M109 969.9h0M112.5 971.1h0M116 971.4h0M119.5 968.8h0M123 968.4h0M126.5 968.6h0M130 967.2h0M133.5 966.9h0M137 966.3h0M140.5 966h0M144 965.9h0M147.5 964.5h0M151 964.2h0M154.5 962.5h0M158 961.9h0M161.5 959.2h0M165 958.3h0M168.5 958h0M172 955.4h0M175.5 954h0M179 951.6h0M182.5 949.5h0M186 946.4h0M189.5 943.4h0M193 939.3h0M196.5 935.4h0M200 931.6h0M203.5 927.9h0M207 923.5h0M210.5 919.9h0M214 916.2h0M217.5 912.6h0M221 908.8h0M224.5 904.7h0M228 903.3h0M231.5 901.5h0M235 900.8h0M238.5 900.1h0M242 899.9h0M245.5 901.3h0M249 905.2h0M252.5 907.7h0M256 912.3h0M259.5 917h0M263 920.3h0M266.5 926.4h0M270 932h0M273.5 937.6h0M277 942.9h0M280.5 947.8h0M284 952.5h0M287.5 955.7h0M291 960.3h0M294.5 963.2h0M298 966.4h0M301.5 968.3h0M305 970.8h0M308.5 972.4h0M312 973.3h0M315.5 974.2h0M319 974.8h0M322.5 974.9h0M326 975.5h0M329.5 975.6h0M333 976.3h0M336.5 976.2h0M340 976.7h0M343.5 975.6h0M347 977h0M350.5 976.1h0M354 976.2h0M357.5 976.5h0M361 976.4h0M364.5 976.9h0M368 976.4h0M371.5 976.2h0M375 976.3h0M378.5 977.7h0M382 977h0M385.5 976.3h0M389 977h0M392.5 976.1h0M396 978.1h0" stroke="#000" stroke-width="2.2" stroke-linecap="round" fill="none"/>
<line x1="51.3" y1="974.6" x2="398.7" y2="978.2" stroke="#000" stroke-width="3.2"/>
<text x="355.4" y="968.2" font-size="25">Ce</text>
<polyline points="52.5,1074.4 53.5,1074.5 54.5,1074.5 55.5,1074.5 56.5,1074.5 57.5,1074.5 58.5,1074.5 59.5,1074.5 60.5,1074.5 61.5,1074.5 62.5,1074.5 63.5,1074.4 64.5,1074.4 65.5,1074.4 66.5,1074.4 67.5,1074.4 68.5,1074.4 69.5,1074.4 70.5,1074.4 71.5,1074.4 72.5,1074.3 73.5,1074.3 74.5,1074.3 75.5,1074.3 76.5,1074.2 77.5,1074.2 78.5,1074.2 79.5,1074.1 80.5,1074.1 81.5,1074 82.5,1074 83.5,1074 84.5,1073.9 85.5,1073.8 86.5,1073.8 87.5,1073.7 88.5,1073.7 89.5,1073.6 90.5,1073.5 91.5,1073.4 92.5,1073.4 93.5,1073.3 94.5,1073.2 95.5,1073.1 96.5,1073 97.5,1072.9 98.5,1072.8 99.5,1072.7 100.5,1072.6 101.5,1072.5 102.5,1072.4 103.5,1072.2 104.5,1072.1 105.5,1072 106.5,1071.8 107.5,1071.7 108.5,1071.6 109.5,1071.4 110.5,1071.3 111.5,1071.1 112.5,1071 113.5,1070.8 114.5,1070.7 115.5,1070.5 116.5,1070.4 117.5,1070.2 118.5,1070 119.5,1069.9 120.5,1069.7 121.5,1069.5 122.5,1069.4 123.5,1069.2 124.5,1069 125.5,1068.8 126.5,1068.7 127.5,1068.5 128.5,1068.3 129.5,1068.1 130.5,1067.9 131.5,1067.8 132.5,1067.6 133.5,1067.4 134.5,1067.2 135.5,1067 136.5,1066.8 137.5,1066.6 138.5,1066.4 139.5,1066.2 140.5,1066 141.5,1065.8 142.5,1065.6 143.5,1065.4 144.5,1065.1 145.5,1064.9 146.5,1064.7 147.5,1064.4 148.5,1064.2 149.5,1063.9 150.5,1063.7 151.5,1063.4 152.5,1063.1 153.5,1062.8 154.5,1062.5 155.5,1062.2 156.5,1061.9 157.5,1061.6 158.5,1061.3 159.5,1060.9 160.5,1060.5 161.5,1060.2 162.5,1059.8 163.5,1059.4 164.5,1058.9 165.5,1058.5 166.5,1058.1 167.5,1057.6 168.5,1057.1 169.5,1056.6 170.5,1056.1 171.5,1055.6 172.5,1055.1 173.5,1054.5 174.5,1054 175.5,1053.4 176.5,1052.8 177.5,1052.2 178.5,1051.5 179.5,1050.9 180.5,1050.3 181.5,1049.6 182.5,1048.9 183.5,1048.2 184.5,1047.5 185.5,1046.8 186.5,1046.1 187.5,1045.4 188.5,1044.7 189.5,1043.9 190.5,1043.2 191.5,1042.4 192.5,1041.6 193.5,1040.9 194.5,1040.1 195.5,1039.3 196.5,1038.6 197.5,1037.8 198.5,1037 199.5,1036.2 200.5,1035.5 201.5,1034.7 202.5,1033.9 203.5,1033.2 204.5,1032.4 205.5,1031.6 206.5,1030.9 207.5,1030.2 208.5,1029.4 209.5,1028.7 210.5,1028 211.5,1027.3 212.5,1026.6 213.5,1025.9 214.5,1025.3 215.5,1024.6 216.5,1024 217.5,1023.4 218.5,1022.8 219.5,1022.2 220.5,1021.7 221.5,1021.2 222.5,1020.7 223.5,1020.2 224.5,1019.7 225.5,1019.3 226.5,1018.9 227.5,1018.6 228.5,1018.2 229.5,1017.9 230.5,1017.7 231.5,1017.4 232.5,1017.2 233.5,1017.1 234.5,1017 235.5,1016.9 236.5,1016.9 237.5,1016.9 238.5,1016.9 239.5,1017 240.5,1017.2 241.5,1017.4 242.5,1017.6 243.5,1017.9 244.5,1018.2 245.5,1018.6 246.5,1019 247.5,1019.5 248.5,1020 249.5,1020.6 250.5,1021.2 251.5,1021.9 252.5,1022.6 253.5,1023.3 254.5,1024.1 255.5,1024.9 256.5,1025.8 257.5,1026.7 258.5,1027.6 259.5,1028.6 260.5,1029.6 261.5,1030.6 262.5,1031.7 263.5,1032.7 264.5,1033.8 265.5,1035 266.5,1036.1 267.5,1037.3 268.5,1038.4 269.5,1039.6 270.5,1040.8 271.5,1042 272.5,1043.2 273.5,1044.3 274.5,1045.5 275.5,1046.7 276.5,1047.9 277.5,1049 278.5,1050.2 279.5,1051.3 280.5,1052.4 281.5,1053.5 282.5,1054.6 283.5,1055.7 284.5,1056.7 285.5,1057.7 286.5,1058.7 287.5,1059.6 288.5,1060.6 289.5,1061.5 290.5,1062.4 291.5,1063.2 292.5,1064 293.5,1064.8 294.5,1065.5 295.5,1066.3 296.5,1067 297.5,1067.6 298.5,1068.3 299.5,1068.9 300.5,1069.4 301.5,1070 302.5,1070.5 303.5,1071 304.5,1071.5 305.5,1071.9 306.5,1072.3 307.5,1072.7 308.5,1073.1 309.5,1073.4 310.5,1073.7 311.5,1074 312.5,1074.3 313.5,1074.6 314.5,1074.8 315.5,1075.1 316.5,1075.3 317.5,1075.5 318.5,1075.7 319.5,1075.8 320.5,1076 321.5,1076.1 322.5,1076.3 323.5,1076.4 324.5,1076.5 325.5,1076.6 326.5,1076.7 327.5,1076.8 328.5,1076.9 329.5,1077 330.5,1077 331.5,1077.1 332.5,1077.2 333.5,1077.2 334.5,1077.3 335.5,1077.3 336.5,1077.4 337.5,1077.4 338.5,1077.4 339.5,1077.5 340.5,1077.5 341.5,1077.5 342.5,1077.6 343.5,1077.6 344.5,1077.6 345.5,1077.6 346.5,1077.7 347.5,1077.7 348.5,1077.7 349.5,1077.7 350.5,1077.7 351.5,1077.7 352.5,1077.8 353.5,1077.8 354.5,1077.8 355.5,1077.8 356.5,1077.8 357.5,1077.8 358.5,1077.8 359.5,1077.9 360.5,1077.9 361.5,1077.9 362.5,1077.9 363.5,1077.9 364.5,1077.9 365.5,1077.9 366.5,1077.9 367.5,1078 368.5,1078 369.5,1078 370.5,1078 371.5,1078 372.5,1078 373.5,1078 374.5,1078 375.5,1078 376.5,1078.1 377.5,1078.1 378.5,1078.1 379.5,1078.1 380.5,1078.1 381.5,1078.1 382.5,1078.1 383.5,1078.1 384.5,1078.1 385.5,1078.2 386.5,1078.2 387.5,1078.2 388.5,1078.2 389.5,1078.2 390.5,1078.2 391.5,1078.2 392.5,1078.2 393.5,1078.2 394.5,1078.3 395.5,1078.3 396.5,1078.3 397.5,1078.3" fill="none" stroke="#c8c8c8" stroke-width="4.3" stroke-linejoin="round"/>
<polyline points="52.5,1074.4 53.5,1074.5 54.5,1074.5 55.5,1074.5 56.5,1074.5 57.5,1074.5 58.5,1074.5 59.5,1074.5 60.5,1074.5 61.5,1074.5 62.5,1074.5 63.5,1074.4 64.5,1074.4 65.5,1074.4 66.5,1074.4 67.5,1074.4 68.5,1074.4 69.5,1074.4 70.5,1074.4 71.5,1074.4 72.5,1074.3 73.5,1074.3 74.5,1074.3 75.5,1074.3 76.5,1074.2 77.5,1074.2 78.5,1074.2 79.5,1074.1 80.5,1074.1 81.5,1074.1 82.5,1074 83.5,1074 84.5,1073.9 85.5,1073.9 86.5,1073.8 87.5,1073.7 88.5,1073.7 89.5,1073.6 90.5,1073.5 91.5,1073.5 92.5,1073.4 93.5,1073.3 94.5,1073.2 95.5,1073.1 96.5,1073 97.5,1073 98.5,1072.9 99.5,1072.8 100.5,1072.7 101.5,1072.6 102.5,1072.4 103.5,1072.3 104.5,1072.2 105.5,1072.1 106.5,1072 107.5,1071.9 108.5,1071.7 109.5,1071.6 110.5,1071.5 111.5,1071.4 112.5,1071.2 113.5,1071.1 114.5,1071 115.5,1070.9 116.5,1070.7 117.5,1070.6 118.5,1070.5 119.5,1070.4 120.5,1070.2 121.5,1070.1 122.5,1070 123.5,1069.9 124.5,1069.8 125.5,1069.7 126.5,1069.6 127.5,1069.5 128.5,1069.4 129.5,1069.3 130.5,1069.2 131.5,1069.1 132.5,1069.1 133.5,1069 134.5,1068.9 135.5,1068.9 136.5,1068.8 137.5,1068.8 138.5,1068.8 139.5,1068.7 140.5,1068.7 141.5,1068.7 142.5,1068.7 143.5,1068.7 144.5,1068.7 145.5,1068.7 146.5,1068.8 147.5,1068.8 148.5,1068.8 149.5,1068.9 150.5,1068.9 151.5,1069 152.5,1069.1 153.5,1069.1 154.5,1069.2 155.5,1069.3 156.5,1069.4 157.5,1069.5 158.5,1069.6 159.5,1069.7 160.5,1069.8 161.5,1070 162.5,1070.1 163.5,1070.2 164.5,1070.3 165.5,1070.5 166.5,1070.6 167.5,1070.8 168.5,1070.9 169.5,1071 170.5,1071.2 171.5,1071.3 172.5,1071.5 173.5,1071.6 174.5,1071.8 175.5,1071.9 176.5,1072.1 177.5,1072.2 178.5,1072.4 179.5,1072.5 180.5,1072.7 181.5,1072.8 182.5,1072.9 183.5,1073.1 184.5,1073.2 185.5,1073.4 186.5,1073.5 187.5,1073.6 188.5,1073.7 189.5,1073.9 190.5,1074 191.5,1074.1 192.5,1074.2 193.5,1074.3 194.5,1074.4 195.5,1074.5 196.5,1074.6 197.5,1074.7 198.5,1074.8 199.5,1074.9 200.5,1075 201.5,1075.1 202.5,1075.1 203.5,1075.2 204.5,1075.3 205.5,1075.4 206.5,1075.4 207.5,1075.5 208.5,1075.5 209.5,1075.6 210.5,1075.7 211.5,1075.7 212.5,1075.8 213.5,1075.8 214.5,1075.9 215.5,1075.9 216.5,1075.9 217.5,1076 218.5,1076 219.5,1076.1 220.5,1076.1 221.5,1076.1 222.5,1076.2 223.5,1076.2 224.5,1076.2 225.5,1076.2 226.5,1076.3 227.5,1076.3 228.5,1076.3 229.5,1076.3 230.5,1076.4 231.5,1076.4 232.5,1076.4 233.5,1076.4 234.5,1076.4 235.5,1076.4 236.5,1076.5 237.5,1076.5 238.5,1076.5 239.5,1076.5 240.5,1076.5 241.5,1076.5 242.5,1076.6 243.5,1076.6 244.5,1076.6 245.5,1076.6 246.5,1076.6 247.5,1076.6 248.5,1076.6 249.5,1076.7 250.5,1076.7 251.5,1076.7 252.5,1076.7 253.5,1076.7 254.5,1076.7 255.5,1076.7 256.5,1076.7 257.5,1076.8 258.5,1076.8 259.5,1076.8 260.5,1076.8 261.5,1076.8 262.5,1076.8 263.5,1076.8 264.5,1076.8 265.5,1076.8 266.5,1076.9 267.5,1076.9 268.5,1076.9 269.5,1076.9 270.5,1076.9 271.5,1076.9 272.5,1076.9 273.5,1076.9 274.5,1076.9 275.5,1077 276.5,1077 277.5,1077 278.5,1077 279.5,1077 280.5,1077 281.5,1077 282.5,1077 283.5,1077 284.5,1077.1 285.5,1077.1 286.5,1077.1 287.5,1077.1 288.5,1077.1 289.5,1077.1 290.5,1077.1 291.5,1077.1 292.5,1077.1 293.5,1077.1 294.5,1077.2 295.5,1077.2 296.5,1077.2 297.5,1077.2 298.5,1077.2 299.5,1077.2 300.5,1077.2 301.5,1077.2 302.5,1077.2 303.5,1077.3 304.5,1077.3 305.5,1077.3 306.5,1077.3 307.5,1077.3 308.5,1077.3 309.5,1077.3 310.5,1077.3 311.5,1077.3 312.5,1077.4 313.5,1077.4 314.5,1077.4 315.5,1077.4 316.5,1077.4 317.5,1077.4 318.5,1077.4 319.5,1077.4 320.5,1077.4 321.5,1077.5 322.5,1077.5 323.5,1077.5 324.5,1077.5 325.5,1077.5 326.5,1077.5 327.5,1077.5 328.5,1077.5 329.5,1077.5 330.5,1077.6 331.5,1077.6 332.5,1077.6 333.5,1077.6 334.5,1077.6 335.5,1077.6 336.5,1077.6 337.5,1077.6 338.5,1077.6 339.5,1077.7 340.5,1077.7 341.5,1077.7 342.5,1077.7 343.5,1077.7 344.5,1077.7 345.5,1077.7 346.5,1077.7 347.5,1077.7 348.5,1077.8 349.5,1077.8 350.5,1077.8 351.5,1077.8 352.5,1077.8 353.5,1077.8 354.5,1077.8 355.5,1077.8 356.5,1077.8 357.5,1077.8 358.5,1077.9 359.5,1077.9 360.5,1077.9 361.5,1077.9 362.5,1077.9 363.5,1077.9 364.5,1077.9 365.5,1077.9 366.5,1077.9 367.5,1078 368.5,1078 369.5,1078 370.5,1078 371.5,1078 372.5,1078 373.5,1078 374.5,1078 375.5,1078 376.5,1078.1 377.5,1078.1 378.5,1078.1 379.5,1078.1 380.5,1078.1 381.5,1078.1 382.5,1078.1 383.5,1078.1 384.5,1078.1 385.5,1078.2 386.5,1078.2 387.5,1078.2 388.5,1078.2 389.5,1078.2 390.5,1078.2 391.5,1078.2 392.5,1078.2 393.5,1078.2 394.5,1078.3 395.5,1078.3 396.5,1078.3 397.5,1078.3" fill="none" stroke="#d02828" stroke-width="2.6" stroke-linejoin="round"/>
<polyline points="52.5,1074.5 53.5,1074.5 54.5,1074.5 55.5,1074.5 56.5,1074.6 57.5,1074.6 58.5,1074.6 59.5,1074.6 60.5,1074.6 61.5,1074.6 62.5,1074.6 63.5,1074.6 64.5,1074.6 65.5,1074.7 66.5,1074.7 67.5,1074.7 68.5,1074.7 69.5,1074.7 70.5,1074.7 71.5,1074.7 72.5,1074.7 73.5,1074.7 74.5,1074.8 75.5,1074.8 76.5,1074.8 77.5,1074.8 78.5,1074.8 79.5,1074.8 80.5,1074.8 81.5,1074.8 82.5,1074.8 83.5,1074.8 84.5,1074.9 85.5,1074.9 86.5,1074.9 87.5,1074.9 88.5,1074.9 89.5,1074.9 90.5,1074.9 91.5,1074.9 92.5,1074.9 93.5,1074.9 94.5,1074.9 95.5,1074.9 96.5,1074.9 97.5,1075 98.5,1075 99.5,1075 100.5,1075 101.5,1075 102.5,1075 103.5,1075 104.5,1075 105.5,1075 106.5,1075 107.5,1075 108.5,1075 109.5,1074.9 110.5,1074.9 111.5,1074.9 112.5,1074.9 113.5,1074.9 114.5,1074.9 115.5,1074.9 116.5,1074.8 117.5,1074.8 118.5,1074.8 119.5,1074.8 120.5,1074.7 121.5,1074.7 122.5,1074.6 123.5,1074.6 124.5,1074.5 125.5,1074.5 126.5,1074.4 127.5,1074.3 128.5,1074.3 129.5,1074.2 130.5,1074.1 131.5,1074 132.5,1073.9 133.5,1073.8 134.5,1073.7 135.5,1073.5 136.5,1073.4 137.5,1073.3 138.5,1073.1 139.5,1072.9 140.5,1072.8 141.5,1072.6 142.5,1072.4 143.5,1072.2 144.5,1072 145.5,1071.7 146.5,1071.5 147.5,1071.2 148.5,1070.9 149.5,1070.7 150.5,1070.4 151.5,1070 152.5,1069.7 153.5,1069.4 154.5,1069 155.5,1068.6 156.5,1068.2 157.5,1067.8 158.5,1067.4 159.5,1066.9 160.5,1066.5 161.5,1066 162.5,1065.5 163.5,1065 164.5,1064.5 165.5,1063.9 166.5,1063.4 167.5,1062.8 168.5,1062.2 169.5,1061.6 170.5,1061 171.5,1060.4 172.5,1059.8 173.5,1059.1 174.5,1058.5 175.5,1057.8 176.5,1057.1 177.5,1056.5 178.5,1055.8 179.5,1055.1 180.5,1054.4 181.5,1053.7 182.5,1053 183.5,1052.3 184.5,1051.6 185.5,1050.9 186.5,1050.2 187.5,1049.5 188.5,1048.8 189.5,1048.1 190.5,1047.5 191.5,1046.8 192.5,1046.2 193.5,1045.6 194.5,1044.9 195.5,1044.4 196.5,1043.8 197.5,1043.2 198.5,1042.7 199.5,1042.2 200.5,1041.7 201.5,1041.2 202.5,1040.8 203.5,1040.4 204.5,1040 205.5,1039.7 206.5,1039.4 207.5,1039.1 208.5,1038.9 209.5,1038.6 210.5,1038.5 211.5,1038.3 212.5,1038.2 213.5,1038.1 214.5,1038.1 215.5,1038.1 216.5,1038.1 217.5,1038.2 218.5,1038.3 219.5,1038.5 220.5,1038.6 221.5,1038.9 222.5,1039.1 223.5,1039.4 224.5,1039.7 225.5,1040 226.5,1040.4 227.5,1040.8 228.5,1041.3 229.5,1041.7 230.5,1042.2 231.5,1042.7 232.5,1043.3 233.5,1043.8 234.5,1044.4 235.5,1045 236.5,1045.7 237.5,1046.3 238.5,1046.9 239.5,1047.6 240.5,1048.3 241.5,1049 242.5,1049.7 243.5,1050.4 244.5,1051.1 245.5,1051.8 246.5,1052.5 247.5,1053.3 248.5,1054 249.5,1054.7 250.5,1055.4 251.5,1056.2 252.5,1056.9 253.5,1057.6 254.5,1058.3 255.5,1059 256.5,1059.6 257.5,1060.3 258.5,1061 259.5,1061.6 260.5,1062.3 261.5,1062.9 262.5,1063.5 263.5,1064.1 264.5,1064.7 265.5,1065.3 266.5,1065.8 267.5,1066.3 268.5,1066.9 269.5,1067.4 270.5,1067.9 271.5,1068.3 272.5,1068.8 273.5,1069.2 274.5,1069.7 275.5,1070.1 276.5,1070.5 277.5,1070.9 278.5,1071.2 279.5,1071.6 280.5,1071.9 281.5,1072.2 282.5,1072.5 283.5,1072.8 284.5,1073.1 285.5,1073.4 286.5,1073.6 287.5,1073.8 288.5,1074.1 289.5,1074.3 290.5,1074.5 291.5,1074.7 292.5,1074.9 293.5,1075 294.5,1075.2 295.5,1075.4 296.5,1075.5 297.5,1075.6 298.5,1075.8 299.5,1075.9 300.5,1076 301.5,1076.1 302.5,1076.2 303.5,1076.3 304.5,1076.4 305.5,1076.5 306.5,1076.5 307.5,1076.6 308.5,1076.7 309.5,1076.8 310.5,1076.8 311.5,1076.9 312.5,1076.9 313.5,1077 314.5,1077 315.5,1077.1 316.5,1077.1 317.5,1077.1 318.5,1077.2 319.5,1077.2 320.5,1077.2 321.5,1077.3 322.5,1077.3 323.5,1077.3 324.5,1077.4 325.5,1077.4 326.5,1077.4 327.5,1077.4 328.5,1077.4 329.5,1077.5 330.5,1077.5 331.5,1077.5 332.5,1077.5 333.5,1077.5 334.5,1077.6 335.5,1077.6 336.5,1077.6 337.5,1077.6 338.5,1077.6 339.5,1077.6 340.5,1077.6 341.5,1077.7 342.5,1077.7 343.5,1077.7 344.5,1077.7 345.5,1077.7 346.5,1077.7 347.5,1077.7 348.5,1077.7 349.5,1077.8 350.5,1077.8 351.5,1077.8 352.5,1077.8 353.5,1077.8 354.5,1077.8 355.5,1077.8 356.5,1077.8 357.5,1077.8 358.5,1077.9 359.5,1077.9 360.5,1077.9 361.5,1077.9 362.5,1077.9 363.5,1077.9 364.5,1077.9 365.5,1077.9 366.5,1077.9 367.5,1078 368.5,1078 369.5,1078 370.5,1078 371.5,1078 372.5,1078 373.5,1078 374.5,1078 375.5,1078 376.5,1078.1 377.5,1078.1 378.5,1078.1 379.5,1078.1 380.5,1078.1 381.5,1078.1 382.5,1078.1 383.5,1078.1 384.5,1078.1 385.5,1078.2 386.5,1078.2 387.5,1078.2 388.5,1078.2 389.5,1078.2 390.5,1078.2 391.5,1078.2 392.5,1078.2 393.5,1078.2 394.5,1078.3 395.5,1078.3 396.5,1078.3 397.5,1078.3" fill="none" stroke="#58ad58" stroke-width="2.4" stroke-linejoin="round"/>
<polygon points="52.5,1074.5 53.5,1074.5 54.5,1074.5 55.5,1074.5 56.5,1074.6 57.5,1074.6 58.5,1074.6 59.5,1074.6 60.5,1074.6 61.5,1074.6 62.5,1074.6 63.5,1074.6 64.5,1074.6 65.5,1074.7 66.5,1074.7 67.5,1074.7 68.5,1074.7 69.5,1074.7 70.5,1074.7 71.5,1074.7 72.5,1074.7 73.5,1074.7 74.5,1074.8 75.5,1074.8 76.5,1074.8 77.5,1074.8 78.5,1074.8 79.5,1074.8 80.5,1074.8 81.5,1074.8 82.5,1074.8 83.5,1074.9 84.5,1074.9 85.5,1074.9 86.5,1074.9 87.5,1074.9 88.5,1074.9 89.5,1074.9 90.5,1074.9 91.5,1074.9 92.5,1075 93.5,1075 94.5,1075 95.5,1075 96.5,1075 97.5,1075 98.5,1075 99.5,1075 100.5,1075 101.5,1075 102.5,1075.1 103.5,1075.1 104.5,1075.1 105.5,1075.1 106.5,1075.1 107.5,1075.1 108.5,1075.1 109.5,1075.1 110.5,1075.1 111.5,1075.2 112.5,1075.2 113.5,1075.2 114.5,1075.2 115.5,1075.2 116.5,1075.2 117.5,1075.2 118.5,1075.2 119.5,1075.2 120.5,1075.3 121.5,1075.3 122.5,1075.3 123.5,1075.3 124.5,1075.3 125.5,1075.3 126.5,1075.3 127.5,1075.3 128.5,1075.3 129.5,1075.4 130.5,1075.4 131.5,1075.4 132.5,1075.4 133.5,1075.4 134.5,1075.4 135.5,1075.4 136.5,1075.4 137.5,1075.4 138.5,1075.5 139.5,1075.5 140.5,1075.5 141.5,1075.5 142.5,1075.5 143.5,1075.5 144.5,1075.5 145.5,1075.5 146.5,1075.5 147.5,1075.5 148.5,1075.5 149.5,1075.6 150.5,1075.6 151.5,1075.6 152.5,1075.6 153.5,1075.6 154.5,1075.6 155.5,1075.6 156.5,1075.6 157.5,1075.6 158.5,1075.6 159.5,1075.6 160.5,1075.6 161.5,1075.6 162.5,1075.6 163.5,1075.6 164.5,1075.6 165.5,1075.6 166.5,1075.6 167.5,1075.6 168.5,1075.6 169.5,1075.5 170.5,1075.5 171.5,1075.5 172.5,1075.5 173.5,1075.4 174.5,1075.4 175.5,1075.3 176.5,1075.3 177.5,1075.2 178.5,1075.2 179.5,1075.1 180.5,1075 181.5,1075 182.5,1074.9 183.5,1074.8 184.5,1074.7 185.5,1074.5 186.5,1074.4 187.5,1074.3 188.5,1074.1 189.5,1073.9 190.5,1073.8 191.5,1073.6 192.5,1073.4 193.5,1073.1 194.5,1072.9 195.5,1072.6 196.5,1072.4 197.5,1072.1 198.5,1071.7 199.5,1071.4 200.5,1071.1 201.5,1070.7 202.5,1070.3 203.5,1069.9 204.5,1069.4 205.5,1069 206.5,1068.5 207.5,1068 208.5,1067.5 209.5,1066.9 210.5,1066.4 211.5,1065.8 212.5,1065.2 213.5,1064.5 214.5,1063.9 215.5,1063.2 216.5,1062.5 217.5,1061.8 218.5,1061.1 219.5,1060.4 220.5,1059.7 221.5,1058.9 222.5,1058.1 223.5,1057.4 224.5,1056.6 225.5,1055.8 226.5,1055.1 227.5,1054.3 228.5,1053.5 229.5,1052.8 230.5,1052 231.5,1051.3 232.5,1050.5 233.5,1049.8 234.5,1049.1 235.5,1048.5 236.5,1047.8 237.5,1047.2 238.5,1046.6 239.5,1046 240.5,1045.5 241.5,1045 242.5,1044.6 243.5,1044.1 244.5,1043.8 245.5,1043.4 246.5,1043.1 247.5,1042.9 248.5,1042.7 249.5,1042.6 250.5,1042.5 251.5,1042.4 252.5,1042.4 253.5,1042.4 254.5,1042.5 255.5,1042.7 256.5,1042.9 257.5,1043.1 258.5,1043.4 259.5,1043.7 260.5,1044.1 261.5,1044.5 262.5,1045 263.5,1045.5 264.5,1046 265.5,1046.5 266.5,1047.1 267.5,1047.8 268.5,1048.4 269.5,1049.1 270.5,1049.8 271.5,1050.5 272.5,1051.3 273.5,1052 274.5,1052.8 275.5,1053.6 276.5,1054.4 277.5,1055.2 278.5,1055.9 279.5,1056.7 280.5,1057.5 281.5,1058.3 282.5,1059.1 283.5,1059.9 284.5,1060.7 285.5,1061.4 286.5,1062.2 287.5,1062.9 288.5,1063.6 289.5,1064.3 290.5,1065 291.5,1065.6 292.5,1066.3 293.5,1066.9 294.5,1067.5 295.5,1068.1 296.5,1068.6 297.5,1069.2 298.5,1069.7 299.5,1070.2 300.5,1070.7 301.5,1071.1 302.5,1071.5 303.5,1072 304.5,1072.3 305.5,1072.7 306.5,1073.1 307.5,1073.4 308.5,1073.7 309.5,1074 310.5,1074.3 311.5,1074.5 312.5,1074.8 313.5,1075 314.5,1075.2 315.5,1075.4 316.5,1075.6 317.5,1075.7 318.5,1075.9 319.5,1076.1 320.5,1076.2 321.5,1076.3 322.5,1076.4 323.5,1076.5 324.5,1076.7 325.5,1076.7 326.5,1076.8 327.5,1076.9 328.5,1077 329.5,1077.1 330.5,1077.1 331.5,1077.2 332.5,1077.2 333.5,1077.3 334.5,1077.3 335.5,1077.4 336.5,1077.4 337.5,1077.4 338.5,1077.5 339.5,1077.5 340.5,1077.5 341.5,1077.6 342.5,1077.6 343.5,1077.6 344.5,1077.6 345.5,1077.6 346.5,1077.7 347.5,1077.7 348.5,1077.7 349.5,1077.7 350.5,1077.7 351.5,1077.8 352.5,1077.8 353.5,1077.8 354.5,1077.8 355.5,1077.8 356.5,1077.8 357.5,1077.8 358.5,1077.8 359.5,1077.9 360.5,1077.9 361.5,1077.9 362.5,1077.9 363.5,1077.9 364.5,1077.9 365.5,1077.9 366.5,1077.9 367.5,1078 368.5,1078 369.5,1078 370.5,1078 371.5,1078 372.5,1078 373.5,1078 374.5,1078 375.5,1078 376.5,1078.1 377.5,1078.1 378.5,1078.1 379.5,1078.1 380.5,1078.1 381.5,1078.1 382.5,1078.1 383.5,1078.1 384.5,1078.1 385.5,1078.2 386.5,1078.2 387.5,1078.2 388.5,1078.2 389.5,1078.2 390.5,1078.2 391.5,1078.2 392.5,1078.2 393.5,1078.2 394.5,1078.3 395.5,1078.3 396.5,1078.3 397.5,1078.3 397.5,1078.3 396.5,1078.3 395.5,1078.3 394.5,1078.3 393.5,1078.2 392.5,1078.2 391.5,1078.2 390.5,1078.2 389.5,1078.2 388.5,1078.2 387.5,1078.2 386.5,1078.2 385.5,1078.2 384.5,1078.1 383.5,1078.1 382.5,1078.1 381.5,1078.1 380.5,1078.1 379.5,1078.1 378.5,1078.1 377.5,1078.1 376.5,1078.1 375.5,1078 374.5,1078 373.5,1078 372.5,1078 371.5,1078 370.5,1078 369.5,1078 368.5,1078 367.5,1078 366.5,1077.9 365.5,1077.9 364.5,1077.9 363.5,1077.9 362.5,1077.9 361.5,1077.9 360.5,1077.9 359.5,1077.9 358.5,1077.9 357.5,1077.8 356.5,1077.8 355.5,1077.8 354.5,1077.8 353.5,1077.8 352.5,1077.8 351.5,1077.8 350.5,1077.8 349.5,1077.8 348.5,1077.8 347.5,1077.7 346.5,1077.7 345.5,1077.7 344.5,1077.7 343.5,1077.7 342.5,1077.7 341.5,1077.7 340.5,1077.7 339.5,1077.7 338.5,1077.6 337.5,1077.6 336.5,1077.6 335.5,1077.6 334.5,1077.6 333.5,1077.6 332.5,1077.6 331.5,1077.6 330.5,1077.6 329.5,1077.5 328.5,1077.5 327.5,1077.5 326.5,1077.5 325.5,1077.5 324.5,1077.5 323.5,1077.5 322.5,1077.5 321.5,1077.5 320.5,1077.4 319.5,1077.4 318.5,1077.4 317.5,1077.4 316.5,1077.4 315.5,1077.4 314.5,1077.4 313.5,1077.4 312.5,1077.4 311.5,1077.3 310.5,1077.3 309.5,1077.3 308.5,1077.3 307.5,1077.3 306.5,1077.3 305.5,1077.3 304.5,1077.3 303.5,1077.3 302.5,1077.2 301.5,1077.2 300.5,1077.2 299.5,1077.2 298.5,1077.2 297.5,1077.2 296.5,1077.2 295.5,1077.2 294.5,1077.2 293.5,1077.1 292.5,1077.1 291.5,1077.1 290.5,1077.1 289.5,1077.1 288.5,1077.1 287.5,1077.1 286.5,1077.1 285.5,1077.1 284.5,1077.1 283.5,1077 282.5,1077 281.5,1077 280.5,1077 279.5,1077 278.5,1077 277.5,1077 276.5,1077 275.5,1077 274.5,1076.9 273.5,1076.9 272.5,1076.9 271.5,1076.9 270.5,1076.9 269.5,1076.9 268.5,1076.9 267.5,1076.9 266.5,1076.9 265.5,1076.8 264.5,1076.8 263.5,1076.8 262.5,1076.8 261.5,1076.8 260.5,1076.8 259.5,1076.8 258.5,1076.8 257.5,1076.8 256.5,1076.7 255.5,1076.7 254.5,1076.7 253.5,1076.7 252.5,1076.7 251.5,1076.7 250.5,1076.7 249.5,1076.7 248.5,1076.7 247.5,1076.6 246.5,1076.6 245.5,1076.6 244.5,1076.6 243.5,1076.6 242.5,1076.6 241.5,1076.6 240.5,1076.6 239.5,1076.6 238.5,1076.5 237.5,1076.5 236.5,1076.5 235.5,1076.5 234.5,1076.5 233.5,1076.5 232.5,1076.5 231.5,1076.5 230.5,1076.5 229.5,1076.4 228.5,1076.4 227.5,1076.4 226.5,1076.4 225.5,1076.4 224.5,1076.4 223.5,1076.4 222.5,1076.4 221.5,1076.4 220.5,1076.4 219.5,1076.3 218.5,1076.3 217.5,1076.3 216.5,1076.3 215.5,1076.3 214.5,1076.3 213.5,1076.3 212.5,1076.3 211.5,1076.3 210.5,1076.2 209.5,1076.2 208.5,1076.2 207.5,1076.2 206.5,1076.2 205.5,1076.2 204.5,1076.2 203.5,1076.2 202.5,1076.2 201.5,1076.1 200.5,1076.1 199.5,1076.1 198.5,1076.1 197.5,1076.1 196.5,1076.1 195.5,1076.1 194.5,1076.1 193.5,1076.1 192.5,1076 191.5,1076 190.5,1076 189.5,1076 188.5,1076 187.5,1076 186.5,1076 185.5,1076 184.5,1076 183.5,1075.9 182.5,1075.9 181.5,1075.9 180.5,1075.9 179.5,1075.9 178.5,1075.9 177.5,1075.9 176.5,1075.9 175.5,1075.9 174.5,1075.8 173.5,1075.8 172.5,1075.8 171.5,1075.8 170.5,1075.8 169.5,1075.8 168.5,1075.8 167.5,1075.8 166.5,1075.8 165.5,1075.7 164.5,1075.7 163.5,1075.7 162.5,1075.7 161.5,1075.7 160.5,1075.7 159.5,1075.7 158.5,1075.7 157.5,1075.7 156.5,1075.7 155.5,1075.6 154.5,1075.6 153.5,1075.6 152.5,1075.6 151.5,1075.6 150.5,1075.6 149.5,1075.6 148.5,1075.6 147.5,1075.6 146.5,1075.5 145.5,1075.5 144.5,1075.5 143.5,1075.5 142.5,1075.5 141.5,1075.5 140.5,1075.5 139.5,1075.5 138.5,1075.5 137.5,1075.4 136.5,1075.4 135.5,1075.4 134.5,1075.4 133.5,1075.4 132.5,1075.4 131.5,1075.4 130.5,1075.4 129.5,1075.4 128.5,1075.3 127.5,1075.3 126.5,1075.3 125.5,1075.3 124.5,1075.3 123.5,1075.3 122.5,1075.3 121.5,1075.3 120.5,1075.3 119.5,1075.2 118.5,1075.2 117.5,1075.2 116.5,1075.2 115.5,1075.2 114.5,1075.2 113.5,1075.2 112.5,1075.2 111.5,1075.2 110.5,1075.1 109.5,1075.1 108.5,1075.1 107.5,1075.1 106.5,1075.1 105.5,1075.1 104.5,1075.1 103.5,1075.1 102.5,1075.1 101.5,1075 100.5,1075 99.5,1075 98.5,1075 97.5,1075 96.5,1075 95.5,1075 94.5,1075 93.5,1075 92.5,1075 91.5,1074.9 90.5,1074.9 89.5,1074.9 88.5,1074.9 87.5,1074.9 86.5,1074.9 85.5,1074.9 84.5,1074.9 83.5,1074.9 82.5,1074.8 81.5,1074.8 80.5,1074.8 79.5,1074.8 78.5,1074.8 77.5,1074.8 76.5,1074.8 75.5,1074.8 74.5,1074.8 73.5,1074.7 72.5,1074.7 71.5,1074.7 70.5,1074.7 69.5,1074.7 68.5,1074.7 67.5,1074.7 66.5,1074.7 65.5,1074.7 64.5,1074.6 63.5,1074.6 62.5,1074.6 61.5,1074.6 60.5,1074.6 59.5,1074.6 58.5,1074.6 57.5,1074.6 56.5,1074.6 55.5,1074.5 54.5,1074.5 53.5,1074.5 52.5,1074.5" fill="#3458e6" stroke="none" fill-opacity="0.38"/>
<polyline points="52.5,1074.5 53.5,1074.5 54.5,1074.5 55.5,1074.5 56.5,1074.6 57.5,1074.6 58.5,1074.6 59.5,1074.6 60.5,1074.6 61.5,1074.6 62.5,1074.6 63.5,1074.6 64.5,1074.6 65.5,1074.7 66.5,1074.7 67.5,1074.7 68.5,1074.7 69.5,1074.7 70.5,1074.7 71.5,1074.7 72.5,1074.7 73.5,1074.7 74.5,1074.8 75.5,1074.8 76.5,1074.8 77.5,1074.8 78.5,1074.8 79.5,1074.8 80.5,1074.8 81.5,1074.8 82.5,1074.8 83.5,1074.9 84.5,1074.9 85.5,1074.9 86.5,1074.9 87.5,1074.9 88.5,1074.9 89.5,1074.9 90.5,1074.9 91.5,1074.9 92.5,1075 93.5,1075 94.5,1075 95.5,1075 96.5,1075 97.5,1075 98.5,1075 99.5,1075 100.5,1075 101.5,1075 102.5,1075.1 103.5,1075.1 104.5,1075.1 105.5,1075.1 106.5,1075.1 107.5,1075.1 108.5,1075.1 109.5,1075.1 110.5,1075.1 111.5,1075.2 112.5,1075.2 113.5,1075.2 114.5,1075.2 115.5,1075.2 116.5,1075.2 117.5,1075.2 118.5,1075.2 119.5,1075.2 120.5,1075.3 121.5,1075.3 122.5,1075.3 123.5,1075.3 124.5,1075.3 125.5,1075.3 126.5,1075.3 127.5,1075.3 128.5,1075.3 129.5,1075.4 130.5,1075.4 131.5,1075.4 132.5,1075.4 133.5,1075.4 134.5,1075.4 135.5,1075.4 136.5,1075.4 137.5,1075.4 138.5,1075.5 139.5,1075.5 140.5,1075.5 141.5,1075.5 142.5,1075.5 143.5,1075.5 144.5,1075.5 145.5,1075.5 146.5,1075.5 147.5,1075.5 148.5,1075.5 149.5,1075.6 150.5,1075.6 151.5,1075.6 152.5,1075.6 153.5,1075.6 154.5,1075.6 155.5,1075.6 156.5,1075.6 157.5,1075.6 158.5,1075.6 159.5,1075.6 160.5,1075.6 161.5,1075.6 162.5,1075.6 163.5,1075.6 164.5,1075.6 165.5,1075.6 166.5,1075.6 167.5,1075.6 168.5,1075.6 169.5,1075.5 170.5,1075.5 171.5,1075.5 172.5,1075.5 173.5,1075.4 174.5,1075.4 175.5,1075.3 176.5,1075.3 177.5,1075.2 178.5,1075.2 179.5,1075.1 180.5,1075 181.5,1075 182.5,1074.9 183.5,1074.8 184.5,1074.7 185.5,1074.5 186.5,1074.4 187.5,1074.3 188.5,1074.1 189.5,1073.9 190.5,1073.8 191.5,1073.6 192.5,1073.4 193.5,1073.1 194.5,1072.9 195.5,1072.6 196.5,1072.4 197.5,1072.1 198.5,1071.7 199.5,1071.4 200.5,1071.1 201.5,1070.7 202.5,1070.3 203.5,1069.9 204.5,1069.4 205.5,1069 206.5,1068.5 207.5,1068 208.5,1067.5 209.5,1066.9 210.5,1066.4 211.5,1065.8 212.5,1065.2 213.5,1064.5 214.5,1063.9 215.5,1063.2 216.5,1062.5 217.5,1061.8 218.5,1061.1 219.5,1060.4 220.5,1059.7 221.5,1058.9 222.5,1058.1 223.5,1057.4 224.5,1056.6 225.5,1055.8 226.5,1055.1 227.5,1054.3 228.5,1053.5 229.5,1052.8 230.5,1052 231.5,1051.3 232.5,1050.5 233.5,1049.8 234.5,1049.1 235.5,1048.5 236.5,1047.8 237.5,1047.2 238.5,1046.6 239.5,1046 240.5,1045.5 241.5,1045 242.5,1044.6 243.5,1044.1 244.5,1043.8 245.5,1043.4 246.5,1043.1 247.5,1042.9 248.5,1042.7 249.5,1042.6 250.5,1042.5 251.5,1042.4 252.5,1042.4 253.5,1042.4 254.5,1042.5 255.5,1042.7 256.5,1042.9 257.5,1043.1 258.5,1043.4 259.5,1043.7 260.5,1044.1 261.5,1044.5 262.5,1045 263.5,1045.5 264.5,1046 265.5,1046.5 266.5,1047.1 267.5,1047.8 268.5,1048.4 269.5,1049.1 270.5,1049.8 271.5,1050.5 272.5,1051.3 273.5,1052 274.5,1052.8 275.5,1053.6 276.5,1054.4 277.5,1055.2 278.5,1055.9 279.5,1056.7 280.5,1057.5 281.5,1058.3 282.5,1059.1 283.5,1059.9 284.5,1060.7 285.5,1061.4 286.5,1062.2 287.5,1062.9 288.5,1063.6 289.5,1064.3 290.5,1065 291.5,1065.6 292.5,1066.3 293.5,1066.9 294.5,1067.5 295.5,1068.1 296.5,1068.6 297.5,1069.2 298.5,1069.7 299.5,1070.2 300.5,1070.7 301.5,1071.1 302.5,1071.5 303.5,1072 304.5,1072.3 305.5,1072.7 306.5,1073.1 307.5,1073.4 308.5,1073.7 309.5,1074 310.5,1074.3 311.5,1074.5 312.5,1074.8 313.5,1075 314.5,1075.2 315.5,1075.4 316.5,1075.6 317.5,1075.7 318.5,1075.9 319.5,1076.1 320.5,1076.2 321.5,1076.3 322.5,1076.4 323.5,1076.5 324.5,1076.7 325.5,1076.7 326.5,1076.8 327.5,1076.9 328.5,1077 329.5,1077.1 330.5,1077.1 331.5,1077.2 332.5,1077.2 333.5,1077.3 334.5,1077.3 335.5,1077.4 336.5,1077.4 337.5,1077.4 338.5,1077.5 339.5,1077.5 340.5,1077.5 341.5,1077.6 342.5,1077.6 343.5,1077.6 344.5,1077.6 345.5,1077.6 346.5,1077.7 347.5,1077.7 348.5,1077.7 349.5,1077.7 350.5,1077.7 351.5,1077.8 352.5,1077.8 353.5,1077.8 354.5,1077.8 355.5,1077.8 356.5,1077.8 357.5,1077.8 358.5,1077.8 359.5,1077.9 360.5,1077.9 361.5,1077.9 362.5,1077.9 363.5,1077.9 364.5,1077.9 365.5,1077.9 366.5,1077.9 367.5,1078 368.5,1078 369.5,1078 370.5,1078 371.5,1078 372.5,1078 373.5,1078 374.5,1078 375.5,1078 376.5,1078.1 377.5,1078.1 378.5,1078.1 379.5,1078.1 380.5,1078.1 381.5,1078.1 382.5,1078.1 383.5,1078.1 384.5,1078.1 385.5,1078.2 386.5,1078.2 387.5,1078.2 388.5,1078.2 389.5,1078.2 390.5,1078.2 391.5,1078.2 392.5,1078.2 393.5,1078.2 394.5,1078.3 395.5,1078.3 396.5,1078.3 397.5,1078.3" fill="none" stroke="#3458e6" stroke-width="2.7" stroke-linejoin="round"/>
<path d="M53 1073.2h0M56.5 1074.4h0M60 1074.5h0M63.5 1073.3h0M67 1074.3h0M70.5 1074.7h0M74 1074.3h0M77.5 1074.1h0M81 1074.3h0M84.5 1073.7h0M88 1073.6h0M91.5 1073.1h0M95 1073.2h0M98.5 1071.9h0M102 1072.6h0M105.5 1071.4h0M109 1070.5h0M112.5 1070.9h0M116 1071.2h0M119.5 1070.1h0M123 1068.7h0M126.5 1068.8h0M130 1067.5h0M133.5 1067h0M137 1066.5h0M140.5 1064.3h0M144 1065.1h0M147.5 1063.5h0M151 1062.8h0M154.5 1061.4h0M158 1060.2h0M161.5 1059.3h0M165 1058.9h0M168.5 1057.8h0M172 1055h0M175.5 1053.7h0M179 1050.8h0M182.5 1047.5h0M186 1046.3h0M189.5 1043.9h0M193 1040.7h0M196.5 1038.4h0M200 1035.9h0M203.5 1032.3h0M207 1029.3h0M210.5 1027.6h0M214 1025.2h0M217.5 1022.9h0M221 1021.7h0M224.5 1020.5h0M228 1017.8h0M231.5 1017.6h0M235 1017.2h0M238.5 1017.1h0M242 1017.8h0M245.5 1018.1h0M249 1020.5h0M252.5 1023.5h0M256 1025.5h0M259.5 1027.9h0M263 1032.3h0M266.5 1036.6h0M270 1040.1h0M273.5 1043.7h0M277 1049.1h0M280.5 1051.4h0M284 1056.2h0M287.5 1059.3h0M291 1061.8h0M294.5 1066h0M298 1067.9h0M301.5 1069h0M305 1071.7h0M308.5 1072.5h0M312 1072.7h0M315.5 1074.4h0M319 1075.6h0M322.5 1076.4h0M326 1076.5h0M329.5 1076.7h0M333 1077.2h0M336.5 1076.9h0M340 1077.9h0M343.5 1077.4h0M347 1077.5h0M350.5 1077.8h0M354 1076.9h0M357.5 1077.1h0M361 1078.5h0M364.5 1077.8h0M368 1077.5h0M371.5 1077.9h0M375 1077.5h0M378.5 1077.9h0M382 1077.4h0M385.5 1078h0M389 1076.9h0M392.5 1078.7h0M396 1077.7h0" stroke="#000" stroke-width="2.2" stroke-linecap="round" fill="none"/>
<line x1="51.3" y1="1075.3" x2="398.7" y2="1079.1" stroke="#000" stroke-width="3.2"/>
<text x="363.9" y="1067.7" font-size="25">Ni</text>
<polyline points="52.5,1171.5 53.5,1171.6 54.5,1171.6 55.5,1171.6 56.5,1171.6 57.5,1171.6 58.5,1171.6 59.5,1171.6 60.5,1171.6 61.5,1171.6 62.5,1171.6 63.5,1171.6 64.5,1171.6 65.5,1171.6 66.5,1171.5 67.5,1171.5 68.5,1171.5 69.5,1171.5 70.5,1171.5 71.5,1171.5 72.5,1171.5 73.5,1171.4 74.5,1171.4 75.5,1171.4 76.5,1171.4 77.5,1171.3 78.5,1171.3 79.5,1171.3 80.5,1171.2 81.5,1171.2 82.5,1171.1 83.5,1171.1 84.5,1171 85.5,1171 86.5,1170.9 87.5,1170.9 88.5,1170.8 89.5,1170.7 90.5,1170.6 91.5,1170.6 92.5,1170.5 93.5,1170.4 94.5,1170.3 95.5,1170.2 96.5,1170.1 97.5,1170 98.5,1169.9 99.5,1169.8 100.5,1169.7 101.5,1169.6 102.5,1169.5 103.5,1169.4 104.5,1169.2 105.5,1169.1 106.5,1169 107.5,1168.8 108.5,1168.7 109.5,1168.6 110.5,1168.4 111.5,1168.3 112.5,1168.1 113.5,1168 114.5,1167.8 115.5,1167.7 116.5,1167.5 117.5,1167.4 118.5,1167.2 119.5,1167.1 120.5,1166.9 121.5,1166.8 122.5,1166.6 123.5,1166.4 124.5,1166.3 125.5,1166.1 126.5,1166 127.5,1165.8 128.5,1165.7 129.5,1165.5 130.5,1165.4 131.5,1165.2 132.5,1165 133.5,1164.9 134.5,1164.7 135.5,1164.6 136.5,1164.4 137.5,1164.3 138.5,1164.1 139.5,1164 140.5,1163.8 141.5,1163.7 142.5,1163.5 143.5,1163.4 144.5,1163.2 145.5,1163 146.5,1162.9 147.5,1162.7 148.5,1162.6 149.5,1162.4 150.5,1162.2 151.5,1162 152.5,1161.8 153.5,1161.6 154.5,1161.4 155.5,1161.2 156.5,1161 157.5,1160.8 158.5,1160.6 159.5,1160.3 160.5,1160.1 161.5,1159.8 162.5,1159.6 163.5,1159.3 164.5,1159 165.5,1158.7 166.5,1158.4 167.5,1158 168.5,1157.7 169.5,1157.3 170.5,1156.9 171.5,1156.6 172.5,1156.2 173.5,1155.7 174.5,1155.3 175.5,1154.8 176.5,1154.4 177.5,1153.9 178.5,1153.4 179.5,1152.9 180.5,1152.4 181.5,1151.8 182.5,1151.3 183.5,1150.7 184.5,1150.1 185.5,1149.5 186.5,1148.9 187.5,1148.3 188.5,1147.6 189.5,1147 190.5,1146.3 191.5,1145.6 192.5,1144.9 193.5,1144.2 194.5,1143.5 195.5,1142.8 196.5,1142.1 197.5,1141.3 198.5,1140.6 199.5,1139.8 200.5,1139.1 201.5,1138.3 202.5,1137.5 203.5,1136.8 204.5,1136 205.5,1135.2 206.5,1134.4 207.5,1133.7 208.5,1132.9 209.5,1132.1 210.5,1131.4 211.5,1130.6 212.5,1129.9 213.5,1129.1 214.5,1128.4 215.5,1127.7 216.5,1127 217.5,1126.3 218.5,1125.6 219.5,1124.9 220.5,1124.3 221.5,1123.7 222.5,1123.1 223.5,1122.5 224.5,1121.9 225.5,1121.4 226.5,1120.9 227.5,1120.5 228.5,1120 229.5,1119.6 230.5,1119.3 231.5,1118.9 232.5,1118.6 233.5,1118.4 234.5,1118.2 235.5,1118 236.5,1117.9 237.5,1117.8 238.5,1117.8 239.5,1117.8 240.5,1117.9 241.5,1118 242.5,1118.2 243.5,1118.4 244.5,1118.7 245.5,1119 246.5,1119.3 247.5,1119.8 248.5,1120.2 249.5,1120.7 250.5,1121.3 251.5,1121.9 252.5,1122.6 253.5,1123.3 254.5,1124 255.5,1124.8 256.5,1125.6 257.5,1126.5 258.5,1127.4 259.5,1128.3 260.5,1129.3 261.5,1130.3 262.5,1131.3 263.5,1132.3 264.5,1133.4 265.5,1134.5 266.5,1135.6 267.5,1136.7 268.5,1137.9 269.5,1139 270.5,1140.2 271.5,1141.3 272.5,1142.5 273.5,1143.6 274.5,1144.8 275.5,1145.9 276.5,1147 277.5,1148.2 278.5,1149.3 279.5,1150.4 280.5,1151.4 281.5,1152.5 282.5,1153.5 283.5,1154.5 284.5,1155.5 285.5,1156.5 286.5,1157.4 287.5,1158.4 288.5,1159.2 289.5,1160.1 290.5,1160.9 291.5,1161.7 292.5,1162.5 293.5,1163.3 294.5,1164 295.5,1164.7 296.5,1165.3 297.5,1165.9 298.5,1166.5 299.5,1167.1 300.5,1167.6 301.5,1168.2 302.5,1168.6 303.5,1169.1 304.5,1169.5 305.5,1170 306.5,1170.3 307.5,1170.7 308.5,1171.1 309.5,1171.4 310.5,1171.7 311.5,1172 312.5,1172.2 313.5,1172.5 314.5,1172.7 315.5,1172.9 316.5,1173.1 317.5,1173.3 318.5,1173.5 319.5,1173.6 320.5,1173.8 321.5,1173.9 322.5,1174 323.5,1174.2 324.5,1174.3 325.5,1174.4 326.5,1174.5 327.5,1174.5 328.5,1174.6 329.5,1174.7 330.5,1174.8 331.5,1174.8 332.5,1174.9 333.5,1174.9 334.5,1175 335.5,1175 336.5,1175.1 337.5,1175.1 338.5,1175.1 339.5,1175.2 340.5,1175.2 341.5,1175.2 342.5,1175.3 343.5,1175.3 344.5,1175.3 345.5,1175.3 346.5,1175.4 347.5,1175.4 348.5,1175.4 349.5,1175.4 350.5,1175.4 351.5,1175.5 352.5,1175.5 353.5,1175.5 354.5,1175.5 355.5,1175.5 356.5,1175.5 357.5,1175.6 358.5,1175.6 359.5,1175.6 360.5,1175.6 361.5,1175.6 362.5,1175.6 363.5,1175.6 364.5,1175.7 365.5,1175.7 366.5,1175.7 367.5,1175.7 368.5,1175.7 369.5,1175.7 370.5,1175.7 371.5,1175.7 372.5,1175.8 373.5,1175.8 374.5,1175.8 375.5,1175.8 376.5,1175.8 377.5,1175.8 378.5,1175.8 379.5,1175.9 380.5,1175.9 381.5,1175.9 382.5,1175.9 383.5,1175.9 384.5,1175.9 385.5,1175.9 386.5,1175.9 387.5,1176 388.5,1176 389.5,1176 390.5,1176 391.5,1176 392.5,1176 393.5,1176 394.5,1176 395.5,1176.1 396.5,1176.1 397.5,1176.1" fill="none" stroke="#c8c8c8" stroke-width="4.3" stroke-linejoin="round"/>
<polyline points="52.5,1171.5 53.5,1171.6 54.5,1171.6 55.5,1171.6 56.5,1171.6 57.5,1171.6 58.5,1171.6 59.5,1171.6 60.5,1171.6 61.5,1171.6 62.5,1171.6 63.5,1171.6 64.5,1171.6 65.5,1171.6 66.5,1171.5 67.5,1171.5 68.5,1171.5 69.5,1171.5 70.5,1171.5 71.5,1171.5 72.5,1171.5 73.5,1171.4 74.5,1171.4 75.5,1171.4 76.5,1171.4 77.5,1171.3 78.5,1171.3 79.5,1171.3 80.5,1171.2 81.5,1171.2 82.5,1171.1 83.5,1171.1 84.5,1171 85.5,1171 86.5,1170.9 87.5,1170.9 88.5,1170.8 89.5,1170.7 90.5,1170.7 91.5,1170.6 92.5,1170.5 93.5,1170.4 94.5,1170.3 95.5,1170.3 96.5,1170.2 97.5,1170.1 98.5,1170 99.5,1169.9 100.5,1169.8 101.5,1169.6 102.5,1169.5 103.5,1169.4 104.5,1169.3 105.5,1169.2 106.5,1169.1 107.5,1168.9 108.5,1168.8 109.5,1168.7 110.5,1168.6 111.5,1168.4 112.5,1168.3 113.5,1168.2 114.5,1168 115.5,1167.9 116.5,1167.8 117.5,1167.7 118.5,1167.5 119.5,1167.4 120.5,1167.3 121.5,1167.1 122.5,1167 123.5,1166.9 124.5,1166.8 125.5,1166.7 126.5,1166.6 127.5,1166.5 128.5,1166.4 129.5,1166.3 130.5,1166.2 131.5,1166.1 132.5,1166.1 133.5,1166 134.5,1165.9 135.5,1165.9 136.5,1165.8 137.5,1165.8 138.5,1165.7 139.5,1165.7 140.5,1165.7 141.5,1165.7 142.5,1165.7 143.5,1165.7 144.5,1165.7 145.5,1165.7 146.5,1165.8 147.5,1165.8 148.5,1165.8 149.5,1165.9 150.5,1165.9 151.5,1166 152.5,1166.1 153.5,1166.2 154.5,1166.3 155.5,1166.4 156.5,1166.5 157.5,1166.6 158.5,1166.7 159.5,1166.8 160.5,1166.9 161.5,1167 162.5,1167.2 163.5,1167.3 164.5,1167.4 165.5,1167.6 166.5,1167.7 167.5,1167.9 168.5,1168 169.5,1168.2 170.5,1168.3 171.5,1168.5 172.5,1168.6 173.5,1168.8 174.5,1169 175.5,1169.1 176.5,1169.3 177.5,1169.4 178.5,1169.6 179.5,1169.7 180.5,1169.9 181.5,1170 182.5,1170.2 183.5,1170.3 184.5,1170.5 185.5,1170.6 186.5,1170.7 187.5,1170.9 188.5,1171 189.5,1171.1 190.5,1171.3 191.5,1171.4 192.5,1171.5 193.5,1171.6 194.5,1171.7 195.5,1171.8 196.5,1171.9 197.5,1172 198.5,1172.1 199.5,1172.2 200.5,1172.3 201.5,1172.4 202.5,1172.5 203.5,1172.6 204.5,1172.7 205.5,1172.7 206.5,1172.8 207.5,1172.9 208.5,1172.9 209.5,1173 210.5,1173.1 211.5,1173.1 212.5,1173.2 213.5,1173.2 214.5,1173.3 215.5,1173.3 216.5,1173.4 217.5,1173.4 218.5,1173.4 219.5,1173.5 220.5,1173.5 221.5,1173.6 222.5,1173.6 223.5,1173.6 224.5,1173.6 225.5,1173.7 226.5,1173.7 227.5,1173.7 228.5,1173.8 229.5,1173.8 230.5,1173.8 231.5,1173.8 232.5,1173.9 233.5,1173.9 234.5,1173.9 235.5,1173.9 236.5,1173.9 237.5,1174 238.5,1174 239.5,1174 240.5,1174 241.5,1174 242.5,1174 243.5,1174.1 244.5,1174.1 245.5,1174.1 246.5,1174.1 247.5,1174.1 248.5,1174.1 249.5,1174.2 250.5,1174.2 251.5,1174.2 252.5,1174.2 253.5,1174.2 254.5,1174.2 255.5,1174.2 256.5,1174.3 257.5,1174.3 258.5,1174.3 259.5,1174.3 260.5,1174.3 261.5,1174.3 262.5,1174.3 263.5,1174.3 264.5,1174.4 265.5,1174.4 266.5,1174.4 267.5,1174.4 268.5,1174.4 269.5,1174.4 270.5,1174.4 271.5,1174.5 272.5,1174.5 273.5,1174.5 274.5,1174.5 275.5,1174.5 276.5,1174.5 277.5,1174.5 278.5,1174.5 279.5,1174.6 280.5,1174.6 281.5,1174.6 282.5,1174.6 283.5,1174.6 284.5,1174.6 285.5,1174.6 286.5,1174.6 287.5,1174.7 288.5,1174.7 289.5,1174.7 290.5,1174.7 291.5,1174.7 292.5,1174.7 293.5,1174.7 294.5,1174.8 295.5,1174.8 296.5,1174.8 297.5,1174.8 298.5,1174.8 299.5,1174.8 300.5,1174.8 301.5,1174.8 302.5,1174.9 303.5,1174.9 304.5,1174.9 305.5,1174.9 306.5,1174.9 307.5,1174.9 308.5,1174.9 309.5,1174.9 310.5,1175 311.5,1175 312.5,1175 313.5,1175 314.5,1175 315.5,1175 316.5,1175 317.5,1175 318.5,1175.1 319.5,1175.1 320.5,1175.1 321.5,1175.1 322.5,1175.1 323.5,1175.1 324.5,1175.1 325.5,1175.2 326.5,1175.2 327.5,1175.2 328.5,1175.2 329.5,1175.2 330.5,1175.2 331.5,1175.2 332.5,1175.2 333.5,1175.3 334.5,1175.3 335.5,1175.3 336.5,1175.3 337.5,1175.3 338.5,1175.3 339.5,1175.3 340.5,1175.3 341.5,1175.4 342.5,1175.4 343.5,1175.4 344.5,1175.4 345.5,1175.4 346.5,1175.4 347.5,1175.4 348.5,1175.4 349.5,1175.5 350.5,1175.5 351.5,1175.5 352.5,1175.5 353.5,1175.5 354.5,1175.5 355.5,1175.5 356.5,1175.6 357.5,1175.6 358.5,1175.6 359.5,1175.6 360.5,1175.6 361.5,1175.6 362.5,1175.6 363.5,1175.6 364.5,1175.7 365.5,1175.7 366.5,1175.7 367.5,1175.7 368.5,1175.7 369.5,1175.7 370.5,1175.7 371.5,1175.7 372.5,1175.8 373.5,1175.8 374.5,1175.8 375.5,1175.8 376.5,1175.8 377.5,1175.8 378.5,1175.8 379.5,1175.9 380.5,1175.9 381.5,1175.9 382.5,1175.9 383.5,1175.9 384.5,1175.9 385.5,1175.9 386.5,1175.9 387.5,1176 388.5,1176 389.5,1176 390.5,1176 391.5,1176 392.5,1176 393.5,1176 394.5,1176 395.5,1176.1 396.5,1176.1 397.5,1176.1" fill="none" stroke="#d02828" stroke-width="2.6" stroke-linejoin="round"/>
<polyline points="52.5,1171.6 53.5,1171.6 54.5,1171.6 55.5,1171.7 56.5,1171.7 57.5,1171.7 58.5,1171.7 59.5,1171.7 60.5,1171.7 61.5,1171.7 62.5,1171.7 63.5,1171.8 64.5,1171.8 65.5,1171.8 66.5,1171.8 67.5,1171.8 68.5,1171.8 69.5,1171.8 70.5,1171.8 71.5,1171.9 72.5,1171.9 73.5,1171.9 74.5,1171.9 75.5,1171.9 76.5,1171.9 77.5,1171.9 78.5,1171.9 79.5,1172 80.5,1172 81.5,1172 82.5,1172 83.5,1172 84.5,1172 85.5,1172 86.5,1172 87.5,1172.1 88.5,1172.1 89.5,1172.1 90.5,1172.1 91.5,1172.1 92.5,1172.1 93.5,1172.1 94.5,1172.1 95.5,1172.1 96.5,1172.2 97.5,1172.2 98.5,1172.2 99.5,1172.2 100.5,1172.2 101.5,1172.2 102.5,1172.2 103.5,1172.2 104.5,1172.2 105.5,1172.2 106.5,1172.2 107.5,1172.2 108.5,1172.2 109.5,1172.2 110.5,1172.2 111.5,1172.2 112.5,1172.2 113.5,1172.2 114.5,1172.2 115.5,1172.2 116.5,1172.2 117.5,1172.2 118.5,1172.2 119.5,1172.2 120.5,1172.1 121.5,1172.1 122.5,1172.1 123.5,1172.1 124.5,1172 125.5,1172 126.5,1172 127.5,1171.9 128.5,1171.9 129.5,1171.8 130.5,1171.8 131.5,1171.7 132.5,1171.6 133.5,1171.6 134.5,1171.5 135.5,1171.4 136.5,1171.3 137.5,1171.2 138.5,1171.1 139.5,1171 140.5,1170.9 141.5,1170.8 142.5,1170.6 143.5,1170.5 144.5,1170.3 145.5,1170.2 146.5,1170 147.5,1169.8 148.5,1169.6 149.5,1169.4 150.5,1169.2 151.5,1168.9 152.5,1168.7 153.5,1168.4 154.5,1168.2 155.5,1167.9 156.5,1167.6 157.5,1167.3 158.5,1167 159.5,1166.6 160.5,1166.3 161.5,1165.9 162.5,1165.6 163.5,1165.2 164.5,1164.8 165.5,1164.3 166.5,1163.9 167.5,1163.5 168.5,1163 169.5,1162.6 170.5,1162.1 171.5,1161.6 172.5,1161.1 173.5,1160.6 174.5,1160 175.5,1159.5 176.5,1159 177.5,1158.4 178.5,1157.8 179.5,1157.3 180.5,1156.7 181.5,1156.1 182.5,1155.5 183.5,1155 184.5,1154.4 185.5,1153.8 186.5,1153.2 187.5,1152.6 188.5,1152 189.5,1151.4 190.5,1150.8 191.5,1150.3 192.5,1149.7 193.5,1149.1 194.5,1148.6 195.5,1148.1 196.5,1147.5 197.5,1147 198.5,1146.5 199.5,1146 200.5,1145.6 201.5,1145.1 202.5,1144.7 203.5,1144.3 204.5,1143.9 205.5,1143.6 206.5,1143.2 207.5,1142.9 208.5,1142.7 209.5,1142.4 210.5,1142.2 211.5,1142 212.5,1141.8 213.5,1141.7 214.5,1141.6 215.5,1141.5 216.5,1141.4 217.5,1141.4 218.5,1141.4 219.5,1141.4 220.5,1141.5 221.5,1141.6 222.5,1141.8 223.5,1141.9 224.5,1142.1 225.5,1142.3 226.5,1142.6 227.5,1142.8 228.5,1143.1 229.5,1143.5 230.5,1143.8 231.5,1144.2 232.5,1144.6 233.5,1145 234.5,1145.5 235.5,1145.9 236.5,1146.4 237.5,1146.9 238.5,1147.5 239.5,1148 240.5,1148.5 241.5,1149.1 242.5,1149.7 243.5,1150.2 244.5,1150.8 245.5,1151.4 246.5,1152 247.5,1152.6 248.5,1153.3 249.5,1153.9 250.5,1154.5 251.5,1155.1 252.5,1155.7 253.5,1156.3 254.5,1156.9 255.5,1157.6 256.5,1158.2 257.5,1158.8 258.5,1159.3 259.5,1159.9 260.5,1160.5 261.5,1161.1 262.5,1161.6 263.5,1162.2 264.5,1162.7 265.5,1163.2 266.5,1163.7 267.5,1164.2 268.5,1164.7 269.5,1165.2 270.5,1165.6 271.5,1166.1 272.5,1166.5 273.5,1166.9 274.5,1167.3 275.5,1167.7 276.5,1168.1 277.5,1168.4 278.5,1168.8 279.5,1169.1 280.5,1169.4 281.5,1169.8 282.5,1170.1 283.5,1170.3 284.5,1170.6 285.5,1170.9 286.5,1171.1 287.5,1171.3 288.5,1171.6 289.5,1171.8 290.5,1172 291.5,1172.2 292.5,1172.4 293.5,1172.5 294.5,1172.7 295.5,1172.9 296.5,1173 297.5,1173.2 298.5,1173.3 299.5,1173.4 300.5,1173.5 301.5,1173.6 302.5,1173.7 303.5,1173.8 304.5,1173.9 305.5,1174 306.5,1174.1 307.5,1174.2 308.5,1174.3 309.5,1174.3 310.5,1174.4 311.5,1174.4 312.5,1174.5 313.5,1174.6 314.5,1174.6 315.5,1174.7 316.5,1174.7 317.5,1174.7 318.5,1174.8 319.5,1174.8 320.5,1174.9 321.5,1174.9 322.5,1174.9 323.5,1175 324.5,1175 325.5,1175 326.5,1175 327.5,1175.1 328.5,1175.1 329.5,1175.1 330.5,1175.1 331.5,1175.2 332.5,1175.2 333.5,1175.2 334.5,1175.2 335.5,1175.2 336.5,1175.3 337.5,1175.3 338.5,1175.3 339.5,1175.3 340.5,1175.3 341.5,1175.3 342.5,1175.4 343.5,1175.4 344.5,1175.4 345.5,1175.4 346.5,1175.4 347.5,1175.4 348.5,1175.4 349.5,1175.5 350.5,1175.5 351.5,1175.5 352.5,1175.5 353.5,1175.5 354.5,1175.5 355.5,1175.5 356.5,1175.5 357.5,1175.6 358.5,1175.6 359.5,1175.6 360.5,1175.6 361.5,1175.6 362.5,1175.6 363.5,1175.6 364.5,1175.7 365.5,1175.7 366.5,1175.7 367.5,1175.7 368.5,1175.7 369.5,1175.7 370.5,1175.7 371.5,1175.7 372.5,1175.8 373.5,1175.8 374.5,1175.8 375.5,1175.8 376.5,1175.8 377.5,1175.8 378.5,1175.8 379.5,1175.9 380.5,1175.9 381.5,1175.9 382.5,1175.9 383.5,1175.9 384.5,1175.9 385.5,1175.9 386.5,1175.9 387.5,1176 388.5,1176 389.5,1176 390.5,1176 391.5,1176 392.5,1176 393.5,1176 394.5,1176 395.5,1176.1 396.5,1176.1 397.5,1176.1" fill="none" stroke="#58ad58" stroke-width="2.4" stroke-linejoin="round"/>
<polygon points="52.5,1171.6 53.5,1171.6 54.5,1171.6 55.5,1171.7 56.5,1171.7 57.5,1171.7 58.5,1171.7 59.5,1171.7 60.5,1171.7 61.5,1171.7 62.5,1171.7 63.5,1171.8 64.5,1171.8 65.5,1171.8 66.5,1171.8 67.5,1171.8 68.5,1171.8 69.5,1171.8 70.5,1171.8 71.5,1171.9 72.5,1171.9 73.5,1171.9 74.5,1171.9 75.5,1171.9 76.5,1171.9 77.5,1171.9 78.5,1172 79.5,1172 80.5,1172 81.5,1172 82.5,1172 83.5,1172 84.5,1172 85.5,1172 86.5,1172.1 87.5,1172.1 88.5,1172.1 89.5,1172.1 90.5,1172.1 91.5,1172.1 92.5,1172.1 93.5,1172.1 94.5,1172.2 95.5,1172.2 96.5,1172.2 97.5,1172.2 98.5,1172.2 99.5,1172.2 100.5,1172.2 101.5,1172.3 102.5,1172.3 103.5,1172.3 104.5,1172.3 105.5,1172.3 106.5,1172.3 107.5,1172.3 108.5,1172.3 109.5,1172.4 110.5,1172.4 111.5,1172.4 112.5,1172.4 113.5,1172.4 114.5,1172.4 115.5,1172.4 116.5,1172.4 117.5,1172.5 118.5,1172.5 119.5,1172.5 120.5,1172.5 121.5,1172.5 122.5,1172.5 123.5,1172.5 124.5,1172.5 125.5,1172.6 126.5,1172.6 127.5,1172.6 128.5,1172.6 129.5,1172.6 130.5,1172.6 131.5,1172.6 132.5,1172.7 133.5,1172.7 134.5,1172.7 135.5,1172.7 136.5,1172.7 137.5,1172.7 138.5,1172.7 139.5,1172.7 140.5,1172.8 141.5,1172.8 142.5,1172.8 143.5,1172.8 144.5,1172.8 145.5,1172.8 146.5,1172.8 147.5,1172.8 148.5,1172.8 149.5,1172.9 150.5,1172.9 151.5,1172.9 152.5,1172.9 153.5,1172.9 154.5,1172.9 155.5,1172.9 156.5,1172.9 157.5,1172.9 158.5,1172.9 159.5,1172.9 160.5,1172.9 161.5,1172.9 162.5,1172.9 163.5,1172.9 164.5,1172.9 165.5,1172.9 166.5,1172.9 167.5,1172.9 168.5,1172.9 169.5,1172.8 170.5,1172.8 171.5,1172.8 172.5,1172.8 173.5,1172.7 174.5,1172.7 175.5,1172.6 176.5,1172.6 177.5,1172.5 178.5,1172.5 179.5,1172.4 180.5,1172.3 181.5,1172.2 182.5,1172.1 183.5,1172 184.5,1171.9 185.5,1171.8 186.5,1171.7 187.5,1171.5 188.5,1171.4 189.5,1171.2 190.5,1171 191.5,1170.8 192.5,1170.6 193.5,1170.3 194.5,1170.1 195.5,1169.8 196.5,1169.5 197.5,1169.2 198.5,1168.9 199.5,1168.6 200.5,1168.2 201.5,1167.8 202.5,1167.4 203.5,1167 204.5,1166.6 205.5,1166.1 206.5,1165.6 207.5,1165.1 208.5,1164.6 209.5,1164 210.5,1163.5 211.5,1162.9 212.5,1162.3 213.5,1161.6 214.5,1161 215.5,1160.3 216.5,1159.7 217.5,1159 218.5,1158.3 219.5,1157.6 220.5,1156.8 221.5,1156.1 222.5,1155.4 223.5,1154.6 224.5,1153.9 225.5,1153.1 226.5,1152.4 227.5,1151.6 228.5,1150.9 229.5,1150.2 230.5,1149.5 231.5,1148.8 232.5,1148.1 233.5,1147.4 234.5,1146.8 235.5,1146.1 236.5,1145.5 237.5,1145 238.5,1144.4 239.5,1143.9 240.5,1143.5 241.5,1143 242.5,1142.6 243.5,1142.3 244.5,1142 245.5,1141.7 246.5,1141.5 247.5,1141.3 248.5,1141.1 249.5,1141 250.5,1141 251.5,1141 252.5,1141.1 253.5,1141.2 254.5,1141.3 255.5,1141.5 256.5,1141.7 257.5,1142 258.5,1142.3 259.5,1142.7 260.5,1143.1 261.5,1143.5 262.5,1144 263.5,1144.5 264.5,1145.1 265.5,1145.7 266.5,1146.3 267.5,1146.9 268.5,1147.6 269.5,1148.3 270.5,1149 271.5,1149.7 272.5,1150.4 273.5,1151.2 274.5,1151.9 275.5,1152.7 276.5,1153.5 277.5,1154.2 278.5,1155 279.5,1155.8 280.5,1156.6 281.5,1157.3 282.5,1158.1 283.5,1158.8 284.5,1159.6 285.5,1160.3 286.5,1161 287.5,1161.7 288.5,1162.3 289.5,1163 290.5,1163.6 291.5,1164.3 292.5,1164.9 293.5,1165.5 294.5,1166 295.5,1166.6 296.5,1167.1 297.5,1167.6 298.5,1168.1 299.5,1168.5 300.5,1168.9 301.5,1169.4 302.5,1169.8 303.5,1170.1 304.5,1170.5 305.5,1170.8 306.5,1171.1 307.5,1171.4 308.5,1171.7 309.5,1172 310.5,1172.2 311.5,1172.5 312.5,1172.7 313.5,1172.9 314.5,1173.1 315.5,1173.3 316.5,1173.4 317.5,1173.6 318.5,1173.7 319.5,1173.9 320.5,1174 321.5,1174.1 322.5,1174.2 323.5,1174.3 324.5,1174.4 325.5,1174.5 326.5,1174.6 327.5,1174.7 328.5,1174.7 329.5,1174.8 330.5,1174.8 331.5,1174.9 332.5,1174.9 333.5,1175 334.5,1175 335.5,1175.1 336.5,1175.1 337.5,1175.1 338.5,1175.2 339.5,1175.2 340.5,1175.2 341.5,1175.3 342.5,1175.3 343.5,1175.3 344.5,1175.3 345.5,1175.4 346.5,1175.4 347.5,1175.4 348.5,1175.4 349.5,1175.4 350.5,1175.4 351.5,1175.5 352.5,1175.5 353.5,1175.5 354.5,1175.5 355.5,1175.5 356.5,1175.5 357.5,1175.6 358.5,1175.6 359.5,1175.6 360.5,1175.6 361.5,1175.6 362.5,1175.6 363.5,1175.6 364.5,1175.7 365.5,1175.7 366.5,1175.7 367.5,1175.7 368.5,1175.7 369.5,1175.7 370.5,1175.7 371.5,1175.7 372.5,1175.8 373.5,1175.8 374.5,1175.8 375.5,1175.8 376.5,1175.8 377.5,1175.8 378.5,1175.8 379.5,1175.9 380.5,1175.9 381.5,1175.9 382.5,1175.9 383.5,1175.9 384.5,1175.9 385.5,1175.9 386.5,1175.9 387.5,1176 388.5,1176 389.5,1176 390.5,1176 391.5,1176 392.5,1176 393.5,1176 394.5,1176 395.5,1176.1 396.5,1176.1 397.5,1176.1 397.5,1176.1 396.5,1176.1 395.5,1176.1 394.5,1176 393.5,1176 392.5,1176 391.5,1176 390.5,1176 389.5,1176 388.5,1176 387.5,1176 386.5,1175.9 385.5,1175.9 384.5,1175.9 383.5,1175.9 382.5,1175.9 381.5,1175.9 380.5,1175.9 379.5,1175.9 378.5,1175.8 377.5,1175.8 376.5,1175.8 375.5,1175.8 374.5,1175.8 373.5,1175.8 372.5,1175.8 371.5,1175.7 370.5,1175.7 369.5,1175.7 368.5,1175.7 367.5,1175.7 366.5,1175.7 365.5,1175.7 364.5,1175.7 363.5,1175.6 362.5,1175.6 361.5,1175.6 360.5,1175.6 359.5,1175.6 358.5,1175.6 357.5,1175.6 356.5,1175.6 355.5,1175.5 354.5,1175.5 353.5,1175.5 352.5,1175.5 351.5,1175.5 350.5,1175.5 349.5,1175.5 348.5,1175.4 347.5,1175.4 346.5,1175.4 345.5,1175.4 344.5,1175.4 343.5,1175.4 342.5,1175.4 341.5,1175.4 340.5,1175.3 339.5,1175.3 338.5,1175.3 337.5,1175.3 336.5,1175.3 335.5,1175.3 334.5,1175.3 333.5,1175.3 332.5,1175.2 331.5,1175.2 330.5,1175.2 329.5,1175.2 328.5,1175.2 327.5,1175.2 326.5,1175.2 325.5,1175.2 324.5,1175.1 323.5,1175.1 322.5,1175.1 321.5,1175.1 320.5,1175.1 319.5,1175.1 318.5,1175.1 317.5,1175 316.5,1175 315.5,1175 314.5,1175 313.5,1175 312.5,1175 311.5,1175 310.5,1175 309.5,1174.9 308.5,1174.9 307.5,1174.9 306.5,1174.9 305.5,1174.9 304.5,1174.9 303.5,1174.9 302.5,1174.9 301.5,1174.8 300.5,1174.8 299.5,1174.8 298.5,1174.8 297.5,1174.8 296.5,1174.8 295.5,1174.8 294.5,1174.8 293.5,1174.7 292.5,1174.7 291.5,1174.7 290.5,1174.7 289.5,1174.7 288.5,1174.7 287.5,1174.7 286.5,1174.6 285.5,1174.6 284.5,1174.6 283.5,1174.6 282.5,1174.6 281.5,1174.6 280.5,1174.6 279.5,1174.6 278.5,1174.5 277.5,1174.5 276.5,1174.5 275.5,1174.5 274.5,1174.5 273.5,1174.5 272.5,1174.5 271.5,1174.5 270.5,1174.4 269.5,1174.4 268.5,1174.4 267.5,1174.4 266.5,1174.4 265.5,1174.4 264.5,1174.4 263.5,1174.3 262.5,1174.3 261.5,1174.3 260.5,1174.3 259.5,1174.3 258.5,1174.3 257.5,1174.3 256.5,1174.3 255.5,1174.2 254.5,1174.2 253.5,1174.2 252.5,1174.2 251.5,1174.2 250.5,1174.2 249.5,1174.2 248.5,1174.2 247.5,1174.1 246.5,1174.1 245.5,1174.1 244.5,1174.1 243.5,1174.1 242.5,1174.1 241.5,1174.1 240.5,1174.1 239.5,1174 238.5,1174 237.5,1174 236.5,1174 235.5,1174 234.5,1174 233.5,1174 232.5,1173.9 231.5,1173.9 230.5,1173.9 229.5,1173.9 228.5,1173.9 227.5,1173.9 226.5,1173.9 225.5,1173.9 224.5,1173.8 223.5,1173.8 222.5,1173.8 221.5,1173.8 220.5,1173.8 219.5,1173.8 218.5,1173.8 217.5,1173.8 216.5,1173.7 215.5,1173.7 214.5,1173.7 213.5,1173.7 212.5,1173.7 211.5,1173.7 210.5,1173.7 209.5,1173.6 208.5,1173.6 207.5,1173.6 206.5,1173.6 205.5,1173.6 204.5,1173.6 203.5,1173.6 202.5,1173.6 201.5,1173.5 200.5,1173.5 199.5,1173.5 198.5,1173.5 197.5,1173.5 196.5,1173.5 195.5,1173.5 194.5,1173.5 193.5,1173.4 192.5,1173.4 191.5,1173.4 190.5,1173.4 189.5,1173.4 188.5,1173.4 187.5,1173.4 186.5,1173.4 185.5,1173.3 184.5,1173.3 183.5,1173.3 182.5,1173.3 181.5,1173.3 180.5,1173.3 179.5,1173.3 178.5,1173.2 177.5,1173.2 176.5,1173.2 175.5,1173.2 174.5,1173.2 173.5,1173.2 172.5,1173.2 171.5,1173.2 170.5,1173.1 169.5,1173.1 168.5,1173.1 167.5,1173.1 166.5,1173.1 165.5,1173.1 164.5,1173.1 163.5,1173.1 162.5,1173 161.5,1173 160.5,1173 159.5,1173 158.5,1173 157.5,1173 156.5,1173 155.5,1172.9 154.5,1172.9 153.5,1172.9 152.5,1172.9 151.5,1172.9 150.5,1172.9 149.5,1172.9 148.5,1172.9 147.5,1172.8 146.5,1172.8 145.5,1172.8 144.5,1172.8 143.5,1172.8 142.5,1172.8 141.5,1172.8 140.5,1172.8 139.5,1172.7 138.5,1172.7 137.5,1172.7 136.5,1172.7 135.5,1172.7 134.5,1172.7 133.5,1172.7 132.5,1172.7 131.5,1172.6 130.5,1172.6 129.5,1172.6 128.5,1172.6 127.5,1172.6 126.5,1172.6 125.5,1172.6 124.5,1172.5 123.5,1172.5 122.5,1172.5 121.5,1172.5 120.5,1172.5 119.5,1172.5 118.5,1172.5 117.5,1172.5 116.5,1172.4 115.5,1172.4 114.5,1172.4 113.5,1172.4 112.5,1172.4 111.5,1172.4 110.5,1172.4 109.5,1172.4 108.5,1172.3 107.5,1172.3 106.5,1172.3 105.5,1172.3 104.5,1172.3 103.5,1172.3 102.5,1172.3 101.5,1172.3 100.5,1172.2 99.5,1172.2 98.5,1172.2 97.5,1172.2 96.5,1172.2 95.5,1172.2 94.5,1172.2 93.5,1172.1 92.5,1172.1 91.5,1172.1 90.5,1172.1 89.5,1172.1 88.5,1172.1 87.5,1172.1 86.5,1172.1 85.5,1172 84.5,1172 83.5,1172 82.5,1172 81.5,1172 80.5,1172 79.5,1172 78.5,1172 77.5,1171.9 76.5,1171.9 75.5,1171.9 74.5,1171.9 73.5,1171.9 72.5,1171.9 71.5,1171.9 70.5,1171.8 69.5,1171.8 68.5,1171.8 67.5,1171.8 66.5,1171.8 65.5,1171.8 64.5,1171.8 63.5,1171.8 62.5,1171.7 61.5,1171.7 60.5,1171.7 59.5,1171.7 58.5,1171.7 57.5,1171.7 56.5,1171.7 55.5,1171.7 54.5,1171.6 53.5,1171.6 52.5,1171.6" fill="#3458e6" stroke="none" fill-opacity="0.38"/>
<polyline points="52.5,1171.6 53.5,1171.6 54.5,1171.6 55.5,1171.7 56.5,1171.7 57.5,1171.7 58.5,1171.7 59.5,1171.7 60.5,1171.7 61.5,1171.7 62.5,1171.7 63.5,1171.8 64.5,1171.8 65.5,1171.8 66.5,1171.8 67.5,1171.8 68.5,1171.8 69.5,1171.8 70.5,1171.8 71.5,1171.9 72.5,1171.9 73.5,1171.9 74.5,1171.9 75.5,1171.9 76.5,1171.9 77.5,1171.9 78.5,1172 79.5,1172 80.5,1172 81.5,1172 82.5,1172 83.5,1172 84.5,1172 85.5,1172 86.5,1172.1 87.5,1172.1 88.5,1172.1 89.5,1172.1 90.5,1172.1 91.5,1172.1 92.5,1172.1 93.5,1172.1 94.5,1172.2 95.5,1172.2 96.5,1172.2 97.5,1172.2 98.5,1172.2 99.5,1172.2 100.5,1172.2 101.5,1172.3 102.5,1172.3 103.5,1172.3 104.5,1172.3 105.5,1172.3 106.5,1172.3 107.5,1172.3 108.5,1172.3 109.5,1172.4 110.5,1172.4 111.5,1172.4 112.5,1172.4 113.5,1172.4 114.5,1172.4 115.5,1172.4 116.5,1172.4 117.5,1172.5 118.5,1172.5 119.5,1172.5 120.5,1172.5 121.5,1172.5 122.5,1172.5 123.5,1172.5 124.5,1172.5 125.5,1172.6 126.5,1172.6 127.5,1172.6 128.5,1172.6 129.5,1172.6 130.5,1172.6 131.5,1172.6 132.5,1172.7 133.5,1172.7 134.5,1172.7 135.5,1172.7 136.5,1172.7 137.5,1172.7 138.5,1172.7 139.5,1172.7 140.5,1172.8 141.5,1172.8 142.5,1172.8 143.5,1172.8 144.5,1172.8 145.5,1172.8 146.5,1172.8 147.5,1172.8 148.5,1172.8 149.5,1172.9 150.5,1172.9 151.5,1172.9 152.5,1172.9 153.5,1172.9 154.5,1172.9 155.5,1172.9 156.5,1172.9 157.5,1172.9 158.5,1172.9 159.5,1172.9 160.5,1172.9 161.5,1172.9 162.5,1172.9 163.5,1172.9 164.5,1172.9 165.5,1172.9 166.5,1172.9 167.5,1172.9 168.5,1172.9 169.5,1172.8 170.5,1172.8 171.5,1172.8 172.5,1172.8 173.5,1172.7 174.5,1172.7 175.5,1172.6 176.5,1172.6 177.5,1172.5 178.5,1172.5 179.5,1172.4 180.5,1172.3 181.5,1172.2 182.5,1172.1 183.5,1172 184.5,1171.9 185.5,1171.8 186.5,1171.7 187.5,1171.5 188.5,1171.4 189.5,1171.2 190.5,1171 191.5,1170.8 192.5,1170.6 193.5,1170.3 194.5,1170.1 195.5,1169.8 196.5,1169.5 197.5,1169.2 198.5,1168.9 199.5,1168.6 200.5,1168.2 201.5,1167.8 202.5,1167.4 203.5,1167 204.5,1166.6 205.5,1166.1 206.5,1165.6 207.5,1165.1 208.5,1164.6 209.5,1164 210.5,1163.5 211.5,1162.9 212.5,1162.3 213.5,1161.6 214.5,1161 215.5,1160.3 216.5,1159.7 217.5,1159 218.5,1158.3 219.5,1157.6 220.5,1156.8 221.5,1156.1 222.5,1155.4 223.5,1154.6 224.5,1153.9 225.5,1153.1 226.5,1152.4 227.5,1151.6 228.5,1150.9 229.5,1150.2 230.5,1149.5 231.5,1148.8 232.5,1148.1 233.5,1147.4 234.5,1146.8 235.5,1146.1 236.5,1145.5 237.5,1145 238.5,1144.4 239.5,1143.9 240.5,1143.5 241.5,1143 242.5,1142.6 243.5,1142.3 244.5,1142 245.5,1141.7 246.5,1141.5 247.5,1141.3 248.5,1141.1 249.5,1141 250.5,1141 251.5,1141 252.5,1141.1 253.5,1141.2 254.5,1141.3 255.5,1141.5 256.5,1141.7 257.5,1142 258.5,1142.3 259.5,1142.7 260.5,1143.1 261.5,1143.5 262.5,1144 263.5,1144.5 264.5,1145.1 265.5,1145.7 266.5,1146.3 267.5,1146.9 268.5,1147.6 269.5,1148.3 270.5,1149 271.5,1149.7 272.5,1150.4 273.5,1151.2 274.5,1151.9 275.5,1152.7 276.5,1153.5 277.5,1154.2 278.5,1155 279.5,1155.8 280.5,1156.6 281.5,1157.3 282.5,1158.1 283.5,1158.8 284.5,1159.6 285.5,1160.3 286.5,1161 287.5,1161.7 288.5,1162.3 289.5,1163 290.5,1163.6 291.5,1164.3 292.5,1164.9 293.5,1165.5 294.5,1166 295.5,1166.6 296.5,1167.1 297.5,1167.6 298.5,1168.1 299.5,1168.5 300.5,1168.9 301.5,1169.4 302.5,1169.8 303.5,1170.1 304.5,1170.5 305.5,1170.8 306.5,1171.1 307.5,1171.4 308.5,1171.7 309.5,1172 310.5,1172.2 311.5,1172.5 312.5,1172.7 313.5,1172.9 314.5,1173.1 315.5,1173.3 316.5,1173.4 317.5,1173.6 318.5,1173.7 319.5,1173.9 320.5,1174 321.5,1174.1 322.5,1174.2 323.5,1174.3 324.5,1174.4 325.5,1174.5 326.5,1174.6 327.5,1174.7 328.5,1174.7 329.5,1174.8 330.5,1174.8 331.5,1174.9 332.5,1174.9 333.5,1175 334.5,1175 335.5,1175.1 336.5,1175.1 337.5,1175.1 338.5,1175.2 339.5,1175.2 340.5,1175.2 341.5,1175.3 342.5,1175.3 343.5,1175.3 344.5,1175.3 345.5,1175.4 346.5,1175.4 347.5,1175.4 348.5,1175.4 349.5,1175.4 350.5,1175.4 351.5,1175.5 352.5,1175.5 353.5,1175.5 354.5,1175.5 355.5,1175.5 356.5,1175.5 357.5,1175.6 358.5,1175.6 359.5,1175.6 360.5,1175.6 361.5,1175.6 362.5,1175.6 363.5,1175.6 364.5,1175.7 365.5,1175.7 366.5,1175.7 367.5,1175.7 368.5,1175.7 369.5,1175.7 370.5,1175.7 371.5,1175.7 372.5,1175.8 373.5,1175.8 374.5,1175.8 375.5,1175.8 376.5,1175.8 377.5,1175.8 378.5,1175.8 379.5,1175.9 380.5,1175.9 381.5,1175.9 382.5,1175.9 383.5,1175.9 384.5,1175.9 385.5,1175.9 386.5,1175.9 387.5,1176 388.5,1176 389.5,1176 390.5,1176 391.5,1176 392.5,1176 393.5,1176 394.5,1176 395.5,1176.1 396.5,1176.1 397.5,1176.1" fill="none" stroke="#3458e6" stroke-width="2.7" stroke-linejoin="round"/>
<path d="M53 1170.3h0M56.5 1171.1h0M60 1171h0M63.5 1171.4h0M67 1170.6h0M70.5 1171.4h0M74 1173.3h0M77.5 1170.3h0M81 1171.1h0M84.5 1170.5h0M88 1170.6h0M91.5 1169.2h0M95 1169.3h0M98.5 1169.9h0M102 1169.2h0M105.5 1169.8h0M109 1167.9h0M112.5 1167.9h0M116 1169.1h0M119.5 1166.3h0M123 1165.7h0M126.5 1165.7h0M130 1165.1h0M133.5 1165.1h0M137 1164.1h0M140.5 1163.1h0M144 1163.1h0M147.5 1164h0M151 1162.6h0M154.5 1159.5h0M158 1160.3h0M161.5 1159h0M165 1158.9h0M168.5 1157.3h0M172 1157.2h0M175.5 1155.1h0M179 1153.4h0M182.5 1151.1h0M186 1148.9h0M189.5 1146.9h0M193 1145h0M196.5 1142.1h0M200 1138.9h0M203.5 1137.2h0M207 1133.9h0M210.5 1131h0M214 1128h0M217.5 1125.6h0M221 1123.3h0M224.5 1120h0M228 1120.5h0M231.5 1119h0M235 1117.7h0M238.5 1118.1h0M242 1118.1h0M245.5 1118.9h0M249 1118.7h0M252.5 1122.1h0M256 1125.2h0M259.5 1129h0M263 1132.6h0M266.5 1136.2h0M270 1138.6h0M273.5 1142h0M277 1147.6h0M280.5 1151.2h0M284 1155.3h0M287.5 1158h0M291 1161.2h0M294.5 1162.8h0M298 1166.2h0M301.5 1167.6h0M305 1169.7h0M308.5 1171h0M312 1171.7h0M315.5 1172.8h0M319 1173.2h0M322.5 1174.2h0M326 1174.4h0M329.5 1174.1h0M333 1174.3h0M336.5 1175.8h0M340 1174.8h0M343.5 1175.6h0M347 1175.3h0M350.5 1174.8h0M354 1174.7h0M357.5 1175.3h0M361 1175.5h0M364.5 1175.7h0M368 1174.6h0M371.5 1175.1h0M375 1175.4h0M378.5 1176.5h0M382 1174.2h0M385.5 1175.9h0M389 1175.4h0M392.5 1176h0M396 1175.5h0" stroke="#000" stroke-width="2.2" stroke-linecap="round" fill="none"/>
<line x1="51.3" y1="1172.4" x2="398.7" y2="1176.9" stroke="#000" stroke-width="3.2"/>
<text x="355.8" y="1165.3" font-size="25">Co</text>
<polyline points="52.5,1266.8 53.5,1266.8 54.5,1266.8 55.5,1266.9 56.5,1266.9 57.5,1266.9 58.5,1266.9 59.5,1266.8 60.5,1266.8 61.5,1266.8 62.5,1266.8 63.5,1266.8 64.5,1266.8 65.5,1266.8 66.5,1266.8 67.5,1266.8 68.5,1266.8 69.5,1266.8 70.5,1266.7 71.5,1266.7 72.5,1266.7 73.5,1266.7 74.5,1266.6 75.5,1266.6 76.5,1266.6 77.5,1266.5 78.5,1266.5 79.5,1266.5 80.5,1266.4 81.5,1266.4 82.5,1266.3 83.5,1266.3 84.5,1266.2 85.5,1266.1 86.5,1266.1 87.5,1266 88.5,1265.9 89.5,1265.9 90.5,1265.8 91.5,1265.7 92.5,1265.6 93.5,1265.5 94.5,1265.4 95.5,1265.3 96.5,1265.2 97.5,1265.1 98.5,1265 99.5,1264.9 100.5,1264.7 101.5,1264.6 102.5,1264.5 103.5,1264.3 104.5,1264.2 105.5,1264.1 106.5,1263.9 107.5,1263.8 108.5,1263.6 109.5,1263.5 110.5,1263.3 111.5,1263.1 112.5,1263 113.5,1262.8 114.5,1262.6 115.5,1262.5 116.5,1262.3 117.5,1262.1 118.5,1261.9 119.5,1261.7 120.5,1261.6 121.5,1261.4 122.5,1261.2 123.5,1261 124.5,1260.8 125.5,1260.6 126.5,1260.5 127.5,1260.3 128.5,1260.1 129.5,1259.9 130.5,1259.7 131.5,1259.5 132.5,1259.4 133.5,1259.2 134.5,1259 135.5,1258.8 136.5,1258.6 137.5,1258.4 138.5,1258.2 139.5,1258.1 140.5,1257.9 141.5,1257.7 142.5,1257.5 143.5,1257.3 144.5,1257.1 145.5,1256.9 146.5,1256.7 147.5,1256.5 148.5,1256.3 149.5,1256.1 150.5,1255.9 151.5,1255.6 152.5,1255.4 153.5,1255.2 154.5,1254.9 155.5,1254.7 156.5,1254.4 157.5,1254.1 158.5,1253.8 159.5,1253.6 160.5,1253.3 161.5,1252.9 162.5,1252.6 163.5,1252.3 164.5,1251.9 165.5,1251.6 166.5,1251.2 167.5,1250.8 168.5,1250.4 169.5,1249.9 170.5,1249.5 171.5,1249 172.5,1248.6 173.5,1248.1 174.5,1247.6 175.5,1247 176.5,1246.5 177.5,1245.9 178.5,1245.4 179.5,1244.8 180.5,1244.2 181.5,1243.5 182.5,1242.9 183.5,1242.2 184.5,1241.5 185.5,1240.8 186.5,1240.1 187.5,1239.4 188.5,1238.7 189.5,1237.9 190.5,1237.1 191.5,1236.3 192.5,1235.6 193.5,1234.7 194.5,1233.9 195.5,1233.1 196.5,1232.2 197.5,1231.4 198.5,1230.5 199.5,1229.6 200.5,1228.8 201.5,1227.9 202.5,1227 203.5,1226.1 204.5,1225.1 205.5,1224.2 206.5,1223.3 207.5,1222.4 208.5,1221.5 209.5,1220.5 210.5,1219.6 211.5,1218.7 212.5,1217.8 213.5,1216.8 214.5,1215.9 215.5,1215 216.5,1214.1 217.5,1213.2 218.5,1212.4 219.5,1211.5 220.5,1210.7 221.5,1209.8 222.5,1209 223.5,1208.2 224.5,1207.4 225.5,1206.7 226.5,1206 227.5,1205.3 228.5,1204.6 229.5,1204 230.5,1203.4 231.5,1202.8 232.5,1202.3 233.5,1201.8 234.5,1201.3 235.5,1200.9 236.5,1200.6 237.5,1200.3 238.5,1200 239.5,1199.8 240.5,1199.7 241.5,1199.6 242.5,1199.6 243.5,1199.6 244.5,1199.7 245.5,1199.8 246.5,1200 247.5,1200.3 248.5,1200.7 249.5,1201 250.5,1201.5 251.5,1202 252.5,1202.6 253.5,1203.3 254.5,1204 255.5,1204.7 256.5,1205.5 257.5,1206.4 258.5,1207.4 259.5,1208.3 260.5,1209.4 261.5,1210.5 262.5,1211.6 263.5,1212.8 264.5,1214 265.5,1215.2 266.5,1216.5 267.5,1217.8 268.5,1219.1 269.5,1220.5 270.5,1221.9 271.5,1223.3 272.5,1224.7 273.5,1226.1 274.5,1227.5 275.5,1229 276.5,1230.4 277.5,1231.8 278.5,1233.2 279.5,1234.6 280.5,1236 281.5,1237.4 282.5,1238.8 283.5,1240.1 284.5,1241.5 285.5,1242.8 286.5,1244 287.5,1245.3 288.5,1246.5 289.5,1247.7 290.5,1248.8 291.5,1249.9 292.5,1251 293.5,1252 294.5,1253.1 295.5,1254 296.5,1255 297.5,1255.9 298.5,1256.7 299.5,1257.5 300.5,1258.3 301.5,1259.1 302.5,1259.8 303.5,1260.5 304.5,1261.1 305.5,1261.7 306.5,1262.3 307.5,1262.8 308.5,1263.4 309.5,1263.8 310.5,1264.3 311.5,1264.7 312.5,1265.1 313.5,1265.5 314.5,1265.8 315.5,1266.2 316.5,1266.5 317.5,1266.8 318.5,1267 319.5,1267.3 320.5,1267.5 321.5,1267.7 322.5,1267.9 323.5,1268.1 324.5,1268.2 325.5,1268.4 326.5,1268.5 327.5,1268.7 328.5,1268.8 329.5,1268.9 330.5,1269 331.5,1269.1 332.5,1269.2 333.5,1269.3 334.5,1269.3 335.5,1269.4 336.5,1269.5 337.5,1269.5 338.5,1269.6 339.5,1269.6 340.5,1269.6 341.5,1269.7 342.5,1269.7 343.5,1269.8 344.5,1269.8 345.5,1269.8 346.5,1269.8 347.5,1269.9 348.5,1269.9 349.5,1269.9 350.5,1269.9 351.5,1270 352.5,1270 353.5,1270 354.5,1270 355.5,1270 356.5,1270 357.5,1270 358.5,1270.1 359.5,1270.1 360.5,1270.1 361.5,1270.1 362.5,1270.1 363.5,1270.1 364.5,1270.1 365.5,1270.1 366.5,1270.2 367.5,1270.2 368.5,1270.2 369.5,1270.2 370.5,1270.2 371.5,1270.2 372.5,1270.2 373.5,1270.2 374.5,1270.2 375.5,1270.3 376.5,1270.3 377.5,1270.3 378.5,1270.3 379.5,1270.3 380.5,1270.3 381.5,1270.3 382.5,1270.3 383.5,1270.3 384.5,1270.4 385.5,1270.4 386.5,1270.4 387.5,1270.4 388.5,1270.4 389.5,1270.4 390.5,1270.4 391.5,1270.4 392.5,1270.4 393.5,1270.4 394.5,1270.5 395.5,1270.5 396.5,1270.5 397.5,1270.5" fill="none" stroke="#c8c8c8" stroke-width="4.3" stroke-linejoin="round"/>
<polyline points="52.5,1266.8 53.5,1266.8 54.5,1266.8 55.5,1266.9 56.5,1266.9 57.5,1266.9 58.5,1266.9 59.5,1266.8 60.5,1266.8 61.5,1266.8 62.5,1266.8 63.5,1266.8 64.5,1266.8 65.5,1266.8 66.5,1266.8 67.5,1266.8 68.5,1266.8 69.5,1266.8 70.5,1266.7 71.5,1266.7 72.5,1266.7 73.5,1266.7 74.5,1266.6 75.5,1266.6 76.5,1266.6 77.5,1266.5 78.5,1266.5 79.5,1266.5 80.5,1266.4 81.5,1266.4 82.5,1266.3 83.5,1266.3 84.5,1266.2 85.5,1266.2 86.5,1266.1 87.5,1266 88.5,1265.9 89.5,1265.9 90.5,1265.8 91.5,1265.7 92.5,1265.6 93.5,1265.5 94.5,1265.4 95.5,1265.3 96.5,1265.2 97.5,1265.1 98.5,1265 99.5,1264.9 100.5,1264.8 101.5,1264.7 102.5,1264.5 103.5,1264.4 104.5,1264.3 105.5,1264.2 106.5,1264 107.5,1263.9 108.5,1263.7 109.5,1263.6 110.5,1263.5 111.5,1263.3 112.5,1263.2 113.5,1263 114.5,1262.9 115.5,1262.7 116.5,1262.6 117.5,1262.4 118.5,1262.3 119.5,1262.1 120.5,1262 121.5,1261.8 122.5,1261.7 123.5,1261.6 124.5,1261.4 125.5,1261.3 126.5,1261.2 127.5,1261.1 128.5,1260.9 129.5,1260.8 130.5,1260.7 131.5,1260.6 132.5,1260.5 133.5,1260.4 134.5,1260.4 135.5,1260.3 136.5,1260.2 137.5,1260.2 138.5,1260.1 139.5,1260.1 140.5,1260 141.5,1260 142.5,1260 143.5,1260 144.5,1260 145.5,1260 146.5,1260 147.5,1260.1 148.5,1260.1 149.5,1260.1 150.5,1260.2 151.5,1260.2 152.5,1260.3 153.5,1260.4 154.5,1260.5 155.5,1260.6 156.5,1260.7 157.5,1260.8 158.5,1260.9 159.5,1261 160.5,1261.1 161.5,1261.3 162.5,1261.4 163.5,1261.6 164.5,1261.7 165.5,1261.9 166.5,1262 167.5,1262.2 168.5,1262.3 169.5,1262.5 170.5,1262.7 171.5,1262.8 172.5,1263 173.5,1263.2 174.5,1263.3 175.5,1263.5 176.5,1263.7 177.5,1263.8 178.5,1264 179.5,1264.2 180.5,1264.3 181.5,1264.5 182.5,1264.7 183.5,1264.8 184.5,1265 185.5,1265.1 186.5,1265.3 187.5,1265.4 188.5,1265.6 189.5,1265.7 190.5,1265.9 191.5,1266 192.5,1266.1 193.5,1266.2 194.5,1266.4 195.5,1266.5 196.5,1266.6 197.5,1266.7 198.5,1266.8 199.5,1266.9 200.5,1267 201.5,1267.1 202.5,1267.2 203.5,1267.3 204.5,1267.4 205.5,1267.5 206.5,1267.5 207.5,1267.6 208.5,1267.7 209.5,1267.8 210.5,1267.8 211.5,1267.9 212.5,1267.9 213.5,1268 214.5,1268.1 215.5,1268.1 216.5,1268.2 217.5,1268.2 218.5,1268.2 219.5,1268.3 220.5,1268.3 221.5,1268.4 222.5,1268.4 223.5,1268.4 224.5,1268.5 225.5,1268.5 226.5,1268.5 227.5,1268.5 228.5,1268.6 229.5,1268.6 230.5,1268.6 231.5,1268.6 232.5,1268.7 233.5,1268.7 234.5,1268.7 235.5,1268.7 236.5,1268.7 237.5,1268.8 238.5,1268.8 239.5,1268.8 240.5,1268.8 241.5,1268.8 242.5,1268.8 243.5,1268.9 244.5,1268.9 245.5,1268.9 246.5,1268.9 247.5,1268.9 248.5,1268.9 249.5,1268.9 250.5,1268.9 251.5,1269 252.5,1269 253.5,1269 254.5,1269 255.5,1269 256.5,1269 257.5,1269 258.5,1269 259.5,1269.1 260.5,1269.1 261.5,1269.1 262.5,1269.1 263.5,1269.1 264.5,1269.1 265.5,1269.1 266.5,1269.1 267.5,1269.1 268.5,1269.1 269.5,1269.2 270.5,1269.2 271.5,1269.2 272.5,1269.2 273.5,1269.2 274.5,1269.2 275.5,1269.2 276.5,1269.2 277.5,1269.2 278.5,1269.3 279.5,1269.3 280.5,1269.3 281.5,1269.3 282.5,1269.3 283.5,1269.3 284.5,1269.3 285.5,1269.3 286.5,1269.3 287.5,1269.3 288.5,1269.4 289.5,1269.4 290.5,1269.4 291.5,1269.4 292.5,1269.4 293.5,1269.4 294.5,1269.4 295.5,1269.4 296.5,1269.4 297.5,1269.5 298.5,1269.5 299.5,1269.5 300.5,1269.5 301.5,1269.5 302.5,1269.5 303.5,1269.5 304.5,1269.5 305.5,1269.5 306.5,1269.5 307.5,1269.6 308.5,1269.6 309.5,1269.6 310.5,1269.6 311.5,1269.6 312.5,1269.6 313.5,1269.6 314.5,1269.6 315.5,1269.6 316.5,1269.6 317.5,1269.7 318.5,1269.7 319.5,1269.7 320.5,1269.7 321.5,1269.7 322.5,1269.7 323.5,1269.7 324.5,1269.7 325.5,1269.7 326.5,1269.8 327.5,1269.8 328.5,1269.8 329.5,1269.8 330.5,1269.8 331.5,1269.8 332.5,1269.8 333.5,1269.8 334.5,1269.8 335.5,1269.8 336.5,1269.9 337.5,1269.9 338.5,1269.9 339.5,1269.9 340.5,1269.9 341.5,1269.9 342.5,1269.9 343.5,1269.9 344.5,1269.9 345.5,1269.9 346.5,1270 347.5,1270 348.5,1270 349.5,1270 350.5,1270 351.5,1270 352.5,1270 353.5,1270 354.5,1270 355.5,1270.1 356.5,1270.1 357.5,1270.1 358.5,1270.1 359.5,1270.1 360.5,1270.1 361.5,1270.1 362.5,1270.1 363.5,1270.1 364.5,1270.1 365.5,1270.2 366.5,1270.2 367.5,1270.2 368.5,1270.2 369.5,1270.2 370.5,1270.2 371.5,1270.2 372.5,1270.2 373.5,1270.2 374.5,1270.2 375.5,1270.3 376.5,1270.3 377.5,1270.3 378.5,1270.3 379.5,1270.3 380.5,1270.3 381.5,1270.3 382.5,1270.3 383.5,1270.3 384.5,1270.4 385.5,1270.4 386.5,1270.4 387.5,1270.4 388.5,1270.4 389.5,1270.4 390.5,1270.4 391.5,1270.4 392.5,1270.4 393.5,1270.4 394.5,1270.5 395.5,1270.5 396.5,1270.5 397.5,1270.5" fill="none" stroke="#d02828" stroke-width="2.6" stroke-linejoin="round"/>
<polyline points="52.5,1266.9 53.5,1266.9 54.5,1266.9 55.5,1266.9 56.5,1267 57.5,1267 58.5,1267 59.5,1267 60.5,1267 61.5,1267 62.5,1267 63.5,1267 64.5,1267 65.5,1267 66.5,1267.1 67.5,1267.1 68.5,1267.1 69.5,1267.1 70.5,1267.1 71.5,1267.1 72.5,1267.1 73.5,1267.1 74.5,1267.1 75.5,1267.1 76.5,1267.2 77.5,1267.2 78.5,1267.2 79.5,1267.2 80.5,1267.2 81.5,1267.2 82.5,1267.2 83.5,1267.2 84.5,1267.2 85.5,1267.2 86.5,1267.3 87.5,1267.3 88.5,1267.3 89.5,1267.3 90.5,1267.3 91.5,1267.3 92.5,1267.3 93.5,1267.3 94.5,1267.3 95.5,1267.3 96.5,1267.3 97.5,1267.3 98.5,1267.3 99.5,1267.4 100.5,1267.4 101.5,1267.4 102.5,1267.4 103.5,1267.4 104.5,1267.4 105.5,1267.4 106.5,1267.4 107.5,1267.4 108.5,1267.4 109.5,1267.4 110.5,1267.4 111.5,1267.4 112.5,1267.3 113.5,1267.3 114.5,1267.3 115.5,1267.3 116.5,1267.3 117.5,1267.3 118.5,1267.3 119.5,1267.2 120.5,1267.2 121.5,1267.2 122.5,1267.1 123.5,1267.1 124.5,1267.1 125.5,1267 126.5,1267 127.5,1266.9 128.5,1266.9 129.5,1266.8 130.5,1266.7 131.5,1266.7 132.5,1266.6 133.5,1266.5 134.5,1266.4 135.5,1266.3 136.5,1266.2 137.5,1266.1 138.5,1265.9 139.5,1265.8 140.5,1265.7 141.5,1265.5 142.5,1265.3 143.5,1265.2 144.5,1265 145.5,1264.8 146.5,1264.6 147.5,1264.4 148.5,1264.1 149.5,1263.9 150.5,1263.6 151.5,1263.3 152.5,1263.1 153.5,1262.8 154.5,1262.4 155.5,1262.1 156.5,1261.8 157.5,1261.4 158.5,1261 159.5,1260.6 160.5,1260.2 161.5,1259.8 162.5,1259.4 163.5,1258.9 164.5,1258.4 165.5,1258 166.5,1257.5 167.5,1256.9 168.5,1256.4 169.5,1255.9 170.5,1255.3 171.5,1254.7 172.5,1254.1 173.5,1253.5 174.5,1252.9 175.5,1252.3 176.5,1251.7 177.5,1251 178.5,1250.4 179.5,1249.7 180.5,1249 181.5,1248.3 182.5,1247.7 183.5,1247 184.5,1246.3 185.5,1245.6 186.5,1244.9 187.5,1244.2 188.5,1243.5 189.5,1242.9 190.5,1242.2 191.5,1241.5 192.5,1240.8 193.5,1240.2 194.5,1239.6 195.5,1238.9 196.5,1238.3 197.5,1237.7 198.5,1237.1 199.5,1236.6 200.5,1236 201.5,1235.5 202.5,1235 203.5,1234.6 204.5,1234.1 205.5,1233.7 206.5,1233.3 207.5,1232.9 208.5,1232.6 209.5,1232.3 210.5,1232 211.5,1231.8 212.5,1231.6 213.5,1231.4 214.5,1231.3 215.5,1231.2 216.5,1231.1 217.5,1231.1 218.5,1231.1 219.5,1231.1 220.5,1231.2 221.5,1231.3 222.5,1231.5 223.5,1231.7 224.5,1231.9 225.5,1232.1 226.5,1232.4 227.5,1232.7 228.5,1233.1 229.5,1233.5 230.5,1233.9 231.5,1234.3 232.5,1234.8 233.5,1235.2 234.5,1235.8 235.5,1236.3 236.5,1236.8 237.5,1237.4 238.5,1238 239.5,1238.6 240.5,1239.3 241.5,1239.9 242.5,1240.6 243.5,1241.2 244.5,1241.9 245.5,1242.6 246.5,1243.3 247.5,1244 248.5,1244.7 249.5,1245.4 250.5,1246.1 251.5,1246.8 252.5,1247.6 253.5,1248.3 254.5,1249 255.5,1249.7 256.5,1250.4 257.5,1251 258.5,1251.7 259.5,1252.4 260.5,1253 261.5,1253.7 262.5,1254.3 263.5,1255 264.5,1255.6 265.5,1256.2 266.5,1256.7 267.5,1257.3 268.5,1257.9 269.5,1258.4 270.5,1258.9 271.5,1259.5 272.5,1259.9 273.5,1260.4 274.5,1260.9 275.5,1261.3 276.5,1261.8 277.5,1262.2 278.5,1262.6 279.5,1263 280.5,1263.3 281.5,1263.7 282.5,1264 283.5,1264.4 284.5,1264.7 285.5,1265 286.5,1265.2 287.5,1265.5 288.5,1265.8 289.5,1266 290.5,1266.2 291.5,1266.5 292.5,1266.7 293.5,1266.9 294.5,1267.1 295.5,1267.2 296.5,1267.4 297.5,1267.6 298.5,1267.7 299.5,1267.8 300.5,1268 301.5,1268.1 302.5,1268.2 303.5,1268.3 304.5,1268.4 305.5,1268.5 306.5,1268.6 307.5,1268.7 308.5,1268.8 309.5,1268.9 310.5,1268.9 311.5,1269 312.5,1269.1 313.5,1269.1 314.5,1269.2 315.5,1269.2 316.5,1269.3 317.5,1269.3 318.5,1269.4 319.5,1269.4 320.5,1269.4 321.5,1269.5 322.5,1269.5 323.5,1269.5 324.5,1269.6 325.5,1269.6 326.5,1269.6 327.5,1269.6 328.5,1269.7 329.5,1269.7 330.5,1269.7 331.5,1269.7 332.5,1269.7 333.5,1269.8 334.5,1269.8 335.5,1269.8 336.5,1269.8 337.5,1269.8 338.5,1269.8 339.5,1269.9 340.5,1269.9 341.5,1269.9 342.5,1269.9 343.5,1269.9 344.5,1269.9 345.5,1269.9 346.5,1269.9 347.5,1270 348.5,1270 349.5,1270 350.5,1270 351.5,1270 352.5,1270 353.5,1270 354.5,1270 355.5,1270 356.5,1270.1 357.5,1270.1 358.5,1270.1 359.5,1270.1 360.5,1270.1 361.5,1270.1 362.5,1270.1 363.5,1270.1 364.5,1270.1 365.5,1270.2 366.5,1270.2 367.5,1270.2 368.5,1270.2 369.5,1270.2 370.5,1270.2 371.5,1270.2 372.5,1270.2 373.5,1270.2 374.5,1270.2 375.5,1270.3 376.5,1270.3 377.5,1270.3 378.5,1270.3 379.5,1270.3 380.5,1270.3 381.5,1270.3 382.5,1270.3 383.5,1270.3 384.5,1270.4 385.5,1270.4 386.5,1270.4 387.5,1270.4 388.5,1270.4 389.5,1270.4 390.5,1270.4 391.5,1270.4 392.5,1270.4 393.5,1270.4 394.5,1270.5 395.5,1270.5 396.5,1270.5 397.5,1270.5" fill="none" stroke="#58ad58" stroke-width="2.4" stroke-linejoin="round"/>
<polygon points="52.5,1266.9 53.5,1266.9 54.5,1266.9 55.5,1266.9 56.5,1267 57.5,1267 58.5,1267 59.5,1267 60.5,1267 61.5,1267 62.5,1267 63.5,1267 64.5,1267 65.5,1267 66.5,1267.1 67.5,1267.1 68.5,1267.1 69.5,1267.1 70.5,1267.1 71.5,1267.1 72.5,1267.1 73.5,1267.1 74.5,1267.1 75.5,1267.2 76.5,1267.2 77.5,1267.2 78.5,1267.2 79.5,1267.2 80.5,1267.2 81.5,1267.2 82.5,1267.2 83.5,1267.2 84.5,1267.2 85.5,1267.3 86.5,1267.3 87.5,1267.3 88.5,1267.3 89.5,1267.3 90.5,1267.3 91.5,1267.3 92.5,1267.3 93.5,1267.3 94.5,1267.3 95.5,1267.4 96.5,1267.4 97.5,1267.4 98.5,1267.4 99.5,1267.4 100.5,1267.4 101.5,1267.4 102.5,1267.4 103.5,1267.4 104.5,1267.5 105.5,1267.5 106.5,1267.5 107.5,1267.5 108.5,1267.5 109.5,1267.5 110.5,1267.5 111.5,1267.5 112.5,1267.5 113.5,1267.5 114.5,1267.6 115.5,1267.6 116.5,1267.6 117.5,1267.6 118.5,1267.6 119.5,1267.6 120.5,1267.6 121.5,1267.6 122.5,1267.6 123.5,1267.6 124.5,1267.7 125.5,1267.7 126.5,1267.7 127.5,1267.7 128.5,1267.7 129.5,1267.7 130.5,1267.7 131.5,1267.7 132.5,1267.7 133.5,1267.8 134.5,1267.8 135.5,1267.8 136.5,1267.8 137.5,1267.8 138.5,1267.8 139.5,1267.8 140.5,1267.8 141.5,1267.8 142.5,1267.8 143.5,1267.8 144.5,1267.9 145.5,1267.9 146.5,1267.9 147.5,1267.9 148.5,1267.9 149.5,1267.9 150.5,1267.9 151.5,1267.9 152.5,1267.9 153.5,1267.9 154.5,1267.9 155.5,1267.9 156.5,1267.9 157.5,1267.9 158.5,1267.9 159.5,1267.9 160.5,1267.9 161.5,1267.9 162.5,1267.9 163.5,1267.9 164.5,1267.9 165.5,1267.9 166.5,1267.9 167.5,1267.9 168.5,1267.9 169.5,1267.8 170.5,1267.8 171.5,1267.8 172.5,1267.8 173.5,1267.7 174.5,1267.7 175.5,1267.6 176.5,1267.6 177.5,1267.5 178.5,1267.4 179.5,1267.4 180.5,1267.3 181.5,1267.2 182.5,1267.1 183.5,1267 184.5,1266.8 185.5,1266.7 186.5,1266.5 187.5,1266.4 188.5,1266.2 189.5,1266 190.5,1265.8 191.5,1265.6 192.5,1265.3 193.5,1265.1 194.5,1264.8 195.5,1264.5 196.5,1264.1 197.5,1263.8 198.5,1263.4 199.5,1263 200.5,1262.6 201.5,1262.1 202.5,1261.7 203.5,1261.2 204.5,1260.6 205.5,1260.1 206.5,1259.5 207.5,1258.9 208.5,1258.2 209.5,1257.6 210.5,1256.9 211.5,1256.1 212.5,1255.4 213.5,1254.6 214.5,1253.8 215.5,1252.9 216.5,1252.1 217.5,1251.2 218.5,1250.3 219.5,1249.4 220.5,1248.4 221.5,1247.5 222.5,1246.5 223.5,1245.5 224.5,1244.5 225.5,1243.5 226.5,1242.5 227.5,1241.4 228.5,1240.4 229.5,1239.4 230.5,1238.4 231.5,1237.4 232.5,1236.4 233.5,1235.4 234.5,1234.5 235.5,1233.5 236.5,1232.6 237.5,1231.8 238.5,1230.9 239.5,1230.1 240.5,1229.3 241.5,1228.6 242.5,1227.9 243.5,1227.3 244.5,1226.7 245.5,1226.2 246.5,1225.7 247.5,1225.3 248.5,1224.9 249.5,1224.6 250.5,1224.4 251.5,1224.2 252.5,1224.1 253.5,1224 254.5,1224 255.5,1224.1 256.5,1224.2 257.5,1224.4 258.5,1224.7 259.5,1225 260.5,1225.4 261.5,1225.8 262.5,1226.3 263.5,1226.9 264.5,1227.5 265.5,1228.2 266.5,1228.9 267.5,1229.6 268.5,1230.4 269.5,1231.2 270.5,1232.1 271.5,1233 272.5,1233.9 273.5,1234.9 274.5,1235.8 275.5,1236.8 276.5,1237.9 277.5,1238.9 278.5,1239.9 279.5,1240.9 280.5,1242 281.5,1243 282.5,1244.1 283.5,1245.1 284.5,1246.1 285.5,1247.1 286.5,1248.1 287.5,1249.1 288.5,1250.1 289.5,1251 290.5,1252 291.5,1252.9 292.5,1253.7 293.5,1254.6 294.5,1255.4 295.5,1256.2 296.5,1257 297.5,1257.8 298.5,1258.5 299.5,1259.2 300.5,1259.8 301.5,1260.5 302.5,1261.1 303.5,1261.7 304.5,1262.2 305.5,1262.7 306.5,1263.2 307.5,1263.7 308.5,1264.1 309.5,1264.6 310.5,1265 311.5,1265.3 312.5,1265.7 313.5,1266 314.5,1266.3 315.5,1266.6 316.5,1266.9 317.5,1267.1 318.5,1267.3 319.5,1267.6 320.5,1267.8 321.5,1267.9 322.5,1268.1 323.5,1268.3 324.5,1268.4 325.5,1268.6 326.5,1268.7 327.5,1268.8 328.5,1268.9 329.5,1269 330.5,1269.1 331.5,1269.2 332.5,1269.3 333.5,1269.3 334.5,1269.4 335.5,1269.4 336.5,1269.5 337.5,1269.6 338.5,1269.6 339.5,1269.6 340.5,1269.7 341.5,1269.7 342.5,1269.7 343.5,1269.8 344.5,1269.8 345.5,1269.8 346.5,1269.9 347.5,1269.9 348.5,1269.9 349.5,1269.9 350.5,1269.9 351.5,1270 352.5,1270 353.5,1270 354.5,1270 355.5,1270 356.5,1270 357.5,1270.1 358.5,1270.1 359.5,1270.1 360.5,1270.1 361.5,1270.1 362.5,1270.1 363.5,1270.1 364.5,1270.1 365.5,1270.1 366.5,1270.2 367.5,1270.2 368.5,1270.2 369.5,1270.2 370.5,1270.2 371.5,1270.2 372.5,1270.2 373.5,1270.2 374.5,1270.2 375.5,1270.3 376.5,1270.3 377.5,1270.3 378.5,1270.3 379.5,1270.3 380.5,1270.3 381.5,1270.3 382.5,1270.3 383.5,1270.3 384.5,1270.4 385.5,1270.4 386.5,1270.4 387.5,1270.4 388.5,1270.4 389.5,1270.4 390.5,1270.4 391.5,1270.4 392.5,1270.4 393.5,1270.4 394.5,1270.5 395.5,1270.5 396.5,1270.5 397.5,1270.5 397.5,1270.5 396.5,1270.5 395.5,1270.5 394.5,1270.5 393.5,1270.4 392.5,1270.4 391.5,1270.4 390.5,1270.4 389.5,1270.4 388.5,1270.4 387.5,1270.4 386.5,1270.4 385.5,1270.4 384.5,1270.4 383.5,1270.3 382.5,1270.3 381.5,1270.3 380.5,1270.3 379.5,1270.3 378.5,1270.3 377.5,1270.3 376.5,1270.3 375.5,1270.3 374.5,1270.2 373.5,1270.2 372.5,1270.2 371.5,1270.2 370.5,1270.2 369.5,1270.2 368.5,1270.2 367.5,1270.2 366.5,1270.2 365.5,1270.2 364.5,1270.1 363.5,1270.1 362.5,1270.1 361.5,1270.1 360.5,1270.1 359.5,1270.1 358.5,1270.1 357.5,1270.1 356.5,1270.1 355.5,1270.1 354.5,1270 353.5,1270 352.5,1270 351.5,1270 350.5,1270 349.5,1270 348.5,1270 347.5,1270 346.5,1270 345.5,1269.9 344.5,1269.9 343.5,1269.9 342.5,1269.9 341.5,1269.9 340.5,1269.9 339.5,1269.9 338.5,1269.9 337.5,1269.9 336.5,1269.9 335.5,1269.8 334.5,1269.8 333.5,1269.8 332.5,1269.8 331.5,1269.8 330.5,1269.8 329.5,1269.8 328.5,1269.8 327.5,1269.8 326.5,1269.8 325.5,1269.7 324.5,1269.7 323.5,1269.7 322.5,1269.7 321.5,1269.7 320.5,1269.7 319.5,1269.7 318.5,1269.7 317.5,1269.7 316.5,1269.6 315.5,1269.6 314.5,1269.6 313.5,1269.6 312.5,1269.6 311.5,1269.6 310.5,1269.6 309.5,1269.6 308.5,1269.6 307.5,1269.6 306.5,1269.5 305.5,1269.5 304.5,1269.5 303.5,1269.5 302.5,1269.5 301.5,1269.5 300.5,1269.5 299.5,1269.5 298.5,1269.5 297.5,1269.5 296.5,1269.4 295.5,1269.4 294.5,1269.4 293.5,1269.4 292.5,1269.4 291.5,1269.4 290.5,1269.4 289.5,1269.4 288.5,1269.4 287.5,1269.3 286.5,1269.3 285.5,1269.3 284.5,1269.3 283.5,1269.3 282.5,1269.3 281.5,1269.3 280.5,1269.3 279.5,1269.3 278.5,1269.3 277.5,1269.2 276.5,1269.2 275.5,1269.2 274.5,1269.2 273.5,1269.2 272.5,1269.2 271.5,1269.2 270.5,1269.2 269.5,1269.2 268.5,1269.2 267.5,1269.1 266.5,1269.1 265.5,1269.1 264.5,1269.1 263.5,1269.1 262.5,1269.1 261.5,1269.1 260.5,1269.1 259.5,1269.1 258.5,1269 257.5,1269 256.5,1269 255.5,1269 254.5,1269 253.5,1269 252.5,1269 251.5,1269 250.5,1269 249.5,1269 248.5,1268.9 247.5,1268.9 246.5,1268.9 245.5,1268.9 244.5,1268.9 243.5,1268.9 242.5,1268.9 241.5,1268.9 240.5,1268.9 239.5,1268.9 238.5,1268.8 237.5,1268.8 236.5,1268.8 235.5,1268.8 234.5,1268.8 233.5,1268.8 232.5,1268.8 231.5,1268.8 230.5,1268.8 229.5,1268.7 228.5,1268.7 227.5,1268.7 226.5,1268.7 225.5,1268.7 224.5,1268.7 223.5,1268.7 222.5,1268.7 221.5,1268.7 220.5,1268.7 219.5,1268.6 218.5,1268.6 217.5,1268.6 216.5,1268.6 215.5,1268.6 214.5,1268.6 213.5,1268.6 212.5,1268.6 211.5,1268.6 210.5,1268.5 209.5,1268.5 208.5,1268.5 207.5,1268.5 206.5,1268.5 205.5,1268.5 204.5,1268.5 203.5,1268.5 202.5,1268.5 201.5,1268.5 200.5,1268.4 199.5,1268.4 198.5,1268.4 197.5,1268.4 196.5,1268.4 195.5,1268.4 194.5,1268.4 193.5,1268.4 192.5,1268.4 191.5,1268.4 190.5,1268.3 189.5,1268.3 188.5,1268.3 187.5,1268.3 186.5,1268.3 185.5,1268.3 184.5,1268.3 183.5,1268.3 182.5,1268.3 181.5,1268.2 180.5,1268.2 179.5,1268.2 178.5,1268.2 177.5,1268.2 176.5,1268.2 175.5,1268.2 174.5,1268.2 173.5,1268.2 172.5,1268.2 171.5,1268.1 170.5,1268.1 169.5,1268.1 168.5,1268.1 167.5,1268.1 166.5,1268.1 165.5,1268.1 164.5,1268.1 163.5,1268.1 162.5,1268.1 161.5,1268 160.5,1268 159.5,1268 158.5,1268 157.5,1268 156.5,1268 155.5,1268 154.5,1268 153.5,1268 152.5,1267.9 151.5,1267.9 150.5,1267.9 149.5,1267.9 148.5,1267.9 147.5,1267.9 146.5,1267.9 145.5,1267.9 144.5,1267.9 143.5,1267.9 142.5,1267.8 141.5,1267.8 140.5,1267.8 139.5,1267.8 138.5,1267.8 137.5,1267.8 136.5,1267.8 135.5,1267.8 134.5,1267.8 133.5,1267.8 132.5,1267.7 131.5,1267.7 130.5,1267.7 129.5,1267.7 128.5,1267.7 127.5,1267.7 126.5,1267.7 125.5,1267.7 124.5,1267.7 123.5,1267.6 122.5,1267.6 121.5,1267.6 120.5,1267.6 119.5,1267.6 118.5,1267.6 117.5,1267.6 116.5,1267.6 115.5,1267.6 114.5,1267.6 113.5,1267.5 112.5,1267.5 111.5,1267.5 110.5,1267.5 109.5,1267.5 108.5,1267.5 107.5,1267.5 106.5,1267.5 105.5,1267.5 104.5,1267.5 103.5,1267.4 102.5,1267.4 101.5,1267.4 100.5,1267.4 99.5,1267.4 98.5,1267.4 97.5,1267.4 96.5,1267.4 95.5,1267.4 94.5,1267.3 93.5,1267.3 92.5,1267.3 91.5,1267.3 90.5,1267.3 89.5,1267.3 88.5,1267.3 87.5,1267.3 86.5,1267.3 85.5,1267.3 84.5,1267.2 83.5,1267.2 82.5,1267.2 81.5,1267.2 80.5,1267.2 79.5,1267.2 78.5,1267.2 77.5,1267.2 76.5,1267.2 75.5,1267.2 74.5,1267.1 73.5,1267.1 72.5,1267.1 71.5,1267.1 70.5,1267.1 69.5,1267.1 68.5,1267.1 67.5,1267.1 66.5,1267.1 65.5,1267 64.5,1267 63.5,1267 62.5,1267 61.5,1267 60.5,1267 59.5,1267 58.5,1267 57.5,1267 56.5,1267 55.5,1266.9 54.5,1266.9 53.5,1266.9 52.5,1266.9" fill="#3458e6" stroke="none" fill-opacity="0.38"/>
<polyline points="52.5,1266.9 53.5,1266.9 54.5,1266.9 55.5,1266.9 56.5,1267 57.5,1267 58.5,1267 59.5,1267 60.5,1267 61.5,1267 62.5,1267 63.5,1267 64.5,1267 65.5,1267 66.5,1267.1 67.5,1267.1 68.5,1267.1 69.5,1267.1 70.5,1267.1 71.5,1267.1 72.5,1267.1 73.5,1267.1 74.5,1267.1 75.5,1267.2 76.5,1267.2 77.5,1267.2 78.5,1267.2 79.5,1267.2 80.5,1267.2 81.5,1267.2 82.5,1267.2 83.5,1267.2 84.5,1267.2 85.5,1267.3 86.5,1267.3 87.5,1267.3 88.5,1267.3 89.5,1267.3 90.5,1267.3 91.5,1267.3 92.5,1267.3 93.5,1267.3 94.5,1267.3 95.5,1267.4 96.5,1267.4 97.5,1267.4 98.5,1267.4 99.5,1267.4 100.5,1267.4 101.5,1267.4 102.5,1267.4 103.5,1267.4 104.5,1267.5 105.5,1267.5 106.5,1267.5 107.5,1267.5 108.5,1267.5 109.5,1267.5 110.5,1267.5 111.5,1267.5 112.5,1267.5 113.5,1267.5 114.5,1267.6 115.5,1267.6 116.5,1267.6 117.5,1267.6 118.5,1267.6 119.5,1267.6 120.5,1267.6 121.5,1267.6 122.5,1267.6 123.5,1267.6 124.5,1267.7 125.5,1267.7 126.5,1267.7 127.5,1267.7 128.5,1267.7 129.5,1267.7 130.5,1267.7 131.5,1267.7 132.5,1267.7 133.5,1267.8 134.5,1267.8 135.5,1267.8 136.5,1267.8 137.5,1267.8 138.5,1267.8 139.5,1267.8 140.5,1267.8 141.5,1267.8 142.5,1267.8 143.5,1267.8 144.5,1267.9 145.5,1267.9 146.5,1267.9 147.5,1267.9 148.5,1267.9 149.5,1267.9 150.5,1267.9 151.5,1267.9 152.5,1267.9 153.5,1267.9 154.5,1267.9 155.5,1267.9 156.5,1267.9 157.5,1267.9 158.5,1267.9 159.5,1267.9 160.5,1267.9 161.5,1267.9 162.5,1267.9 163.5,1267.9 164.5,1267.9 165.5,1267.9 166.5,1267.9 167.5,1267.9 168.5,1267.9 169.5,1267.8 170.5,1267.8 171.5,1267.8 172.5,1267.8 173.5,1267.7 174.5,1267.7 175.5,1267.6 176.5,1267.6 177.5,1267.5 178.5,1267.4 179.5,1267.4 180.5,1267.3 181.5,1267.2 182.5,1267.1 183.5,1267 184.5,1266.8 185.5,1266.7 186.5,1266.5 187.5,1266.4 188.5,1266.2 189.5,1266 190.5,1265.8 191.5,1265.6 192.5,1265.3 193.5,1265.1 194.5,1264.8 195.5,1264.5 196.5,1264.1 197.5,1263.8 198.5,1263.4 199.5,1263 200.5,1262.6 201.5,1262.1 202.5,1261.7 203.5,1261.2 204.5,1260.6 205.5,1260.1 206.5,1259.5 207.5,1258.9 208.5,1258.2 209.5,1257.6 210.5,1256.9 211.5,1256.1 212.5,1255.4 213.5,1254.6 214.5,1253.8 215.5,1252.9 216.5,1252.1 217.5,1251.2 218.5,1250.3 219.5,1249.4 220.5,1248.4 221.5,1247.5 222.5,1246.5 223.5,1245.5 224.5,1244.5 225.5,1243.5 226.5,1242.5 227.5,1241.4 228.5,1240.4 229.5,1239.4 230.5,1238.4 231.5,1237.4 232.5,1236.4 233.5,1235.4 234.5,1234.5 235.5,1233.5 236.5,1232.6 237.5,1231.8 238.5,1230.9 239.5,1230.1 240.5,1229.3 241.5,1228.6 242.5,1227.9 243.5,1227.3 244.5,1226.7 245.5,1226.2 246.5,1225.7 247.5,1225.3 248.5,1224.9 249.5,1224.6 250.5,1224.4 251.5,1224.2 252.5,1224.1 253.5,1224 254.5,1224 255.5,1224.1 256.5,1224.2 257.5,1224.4 258.5,1224.7 259.5,1225 260.5,1225.4 261.5,1225.8 262.5,1226.3 263.5,1226.9 264.5,1227.5 265.5,1228.2 266.5,1228.9 267.5,1229.6 268.5,1230.4 269.5,1231.2 270.5,1232.1 271.5,1233 272.5,1233.9 273.5,1234.9 274.5,1235.8 275.5,1236.8 276.5,1237.9 277.5,1238.9 278.5,1239.9 279.5,1240.9 280.5,1242 281.5,1243 282.5,1244.1 283.5,1245.1 284.5,1246.1 285.5,1247.1 286.5,1248.1 287.5,1249.1 288.5,1250.1 289.5,1251 290.5,1252 291.5,1252.9 292.5,1253.7 293.5,1254.6 294.5,1255.4 295.5,1256.2 296.5,1257 297.5,1257.8 298.5,1258.5 299.5,1259.2 300.5,1259.8 301.5,1260.5 302.5,1261.1 303.5,1261.7 304.5,1262.2 305.5,1262.7 306.5,1263.2 307.5,1263.7 308.5,1264.1 309.5,1264.6 310.5,1265 311.5,1265.3 312.5,1265.7 313.5,1266 314.5,1266.3 315.5,1266.6 316.5,1266.9 317.5,1267.1 318.5,1267.3 319.5,1267.6 320.5,1267.8 321.5,1267.9 322.5,1268.1 323.5,1268.3 324.5,1268.4 325.5,1268.6 326.5,1268.7 327.5,1268.8 328.5,1268.9 329.5,1269 330.5,1269.1 331.5,1269.2 332.5,1269.3 333.5,1269.3 334.5,1269.4 335.5,1269.4 336.5,1269.5 337.5,1269.6 338.5,1269.6 339.5,1269.6 340.5,1269.7 341.5,1269.7 342.5,1269.7 343.5,1269.8 344.5,1269.8 345.5,1269.8 346.5,1269.9 347.5,1269.9 348.5,1269.9 349.5,1269.9 350.5,1269.9 351.5,1270 352.5,1270 353.5,1270 354.5,1270 355.5,1270 356.5,1270 357.5,1270.1 358.5,1270.1 359.5,1270.1 360.5,1270.1 361.5,1270.1 362.5,1270.1 363.5,1270.1 364.5,1270.1 365.5,1270.1 366.5,1270.2 367.5,1270.2 368.5,1270.2 369.5,1270.2 370.5,1270.2 371.5,1270.2 372.5,1270.2 373.5,1270.2 374.5,1270.2 375.5,1270.3 376.5,1270.3 377.5,1270.3 378.5,1270.3 379.5,1270.3 380.5,1270.3 381.5,1270.3 382.5,1270.3 383.5,1270.3 384.5,1270.4 385.5,1270.4 386.5,1270.4 387.5,1270.4 388.5,1270.4 389.5,1270.4 390.5,1270.4 391.5,1270.4 392.5,1270.4 393.5,1270.4 394.5,1270.5 395.5,1270.5 396.5,1270.5 397.5,1270.5" fill="none" stroke="#3458e6" stroke-width="2.7" stroke-linejoin="round"/>
<path d="M53 1266.8h0M56.5 1267.5h0M60 1266.8h0M63.5 1266.8h0M67 1266.7h0M70.5 1266h0M74 1266.7h0M77.5 1266.1h0M81 1265.6h0M84.5 1265.9h0M88 1265.5h0M91.5 1265.8h0M95 1265h0M98.5 1264.4h0M102 1265.1h0M105.5 1264.4h0M109 1264h0M112.5 1263h0M116 1262h0M119.5 1261.2h0M123 1260.6h0M126.5 1260.7h0M130 1259.6h0M133.5 1258h0M137 1258.2h0M140.5 1256.7h0M144 1257h0M147.5 1255.5h0M151 1254.7h0M154.5 1254.7h0M158 1253.6h0M161.5 1251.6h0M165 1251.9h0M168.5 1251.4h0M172 1247.6h0M175.5 1247.8h0M179 1244.3h0M182.5 1242.3h0M186 1240.1h0M189.5 1236.7h0M193 1235.6h0M196.5 1232.2h0M200 1228.4h0M203.5 1225.6h0M207 1221.6h0M210.5 1219.1h0M214 1216.7h0M217.5 1211.9h0M221 1209.7h0M224.5 1207.2h0M228 1205.3h0M231.5 1203.3h0M235 1200.6h0M238.5 1199.3h0M242 1199.6h0M245.5 1199.3h0M249 1200.4h0M252.5 1203h0M256 1205.8h0M259.5 1208.2h0M263 1211.8h0M266.5 1216.5h0M270 1219.7h0M273.5 1225.8h0M277 1230.2h0M280.5 1237.2h0M284 1240.9h0M287.5 1245.1h0M291 1249h0M294.5 1251.2h0M298 1256.4h0M301.5 1259.7h0M305 1260.7h0M308.5 1263.5h0M312 1265.1h0M315.5 1264.9h0M319 1267.4h0M322.5 1268.4h0M326 1268.3h0M329.5 1268.6h0M333 1269.4h0M336.5 1268.2h0M340 1269.4h0M343.5 1270.1h0M347 1268.8h0M350.5 1270.2h0M354 1269.4h0M357.5 1268.5h0M361 1269.7h0M364.5 1269.3h0M368 1270.1h0M371.5 1269.2h0M375 1270.6h0M378.5 1269.5h0M382 1270.2h0M385.5 1269.7h0M389 1269.9h0M392.5 1270.9h0M396 1270.3h0" stroke="#000" stroke-width="2.2" stroke-linecap="round" fill="none"/>
<line x1="51.3" y1="1267.7" x2="398.7" y2="1271.3" stroke="#000" stroke-width="3.2"/>
<text x="352.4" y="1263.1" font-size="25">Mg</text>
<polyline points="52.5,1366.7 53.5,1366.6 54.5,1366.6 55.5,1366.6 56.5,1366.6 57.5,1366.6 58.5,1366.6 59.5,1366.6 60.5,1366.6 61.5,1366.6 62.5,1366.6 63.5,1366.6 64.5,1366.6 65.5,1366.6 66.5,1366.6 67.5,1366.5 68.5,1366.5 69.5,1366.5 70.5,1366.5 71.5,1366.4 72.5,1366.4 73.5,1366.4 74.5,1366.3 75.5,1366.3 76.5,1366.3 77.5,1366.2 78.5,1366.2 79.5,1366.1 80.5,1366 81.5,1366 82.5,1365.9 83.5,1365.8 84.5,1365.7 85.5,1365.7 86.5,1365.6 87.5,1365.5 88.5,1365.4 89.5,1365.3 90.5,1365.1 91.5,1365 92.5,1364.9 93.5,1364.7 94.5,1364.6 95.5,1364.4 96.5,1364.3 97.5,1364.1 98.5,1363.9 99.5,1363.7 100.5,1363.5 101.5,1363.3 102.5,1363.1 103.5,1362.9 104.5,1362.7 105.5,1362.4 106.5,1362.2 107.5,1361.9 108.5,1361.6 109.5,1361.4 110.5,1361.1 111.5,1360.8 112.5,1360.5 113.5,1360.2 114.5,1359.8 115.5,1359.5 116.5,1359.2 117.5,1358.8 118.5,1358.5 119.5,1358.1 120.5,1357.8 121.5,1357.4 122.5,1357 123.5,1356.6 124.5,1356.3 125.5,1355.9 126.5,1355.5 127.5,1355.1 128.5,1354.7 129.5,1354.3 130.5,1353.9 131.5,1353.5 132.5,1353 133.5,1352.6 134.5,1352.2 135.5,1351.8 136.5,1351.4 137.5,1351 138.5,1350.6 139.5,1350.1 140.5,1349.7 141.5,1349.3 142.5,1348.9 143.5,1348.5 144.5,1348.1 145.5,1347.6 146.5,1347.2 147.5,1346.8 148.5,1346.4 149.5,1346 150.5,1345.6 151.5,1345.2 152.5,1344.7 153.5,1344.3 154.5,1343.9 155.5,1343.5 156.5,1343.1 157.5,1342.6 158.5,1342.2 159.5,1341.8 160.5,1341.3 161.5,1340.9 162.5,1340.5 163.5,1340 164.5,1339.6 165.5,1339.1 166.5,1338.6 167.5,1338.2 168.5,1337.7 169.5,1337.2 170.5,1336.7 171.5,1336.2 172.5,1335.7 173.5,1335.1 174.5,1334.6 175.5,1334.1 176.5,1333.5 177.5,1333 178.5,1332.4 179.5,1331.8 180.5,1331.2 181.5,1330.6 182.5,1330 183.5,1329.4 184.5,1328.8 185.5,1328.2 186.5,1327.6 187.5,1326.9 188.5,1326.3 189.5,1325.6 190.5,1325 191.5,1324.3 192.5,1323.7 193.5,1323 194.5,1322.3 195.5,1321.7 196.5,1321 197.5,1320.4 198.5,1319.7 199.5,1319.1 200.5,1318.4 201.5,1317.8 202.5,1317.1 203.5,1316.5 204.5,1315.8 205.5,1315.2 206.5,1314.6 207.5,1314 208.5,1313.4 209.5,1312.8 210.5,1312.2 211.5,1311.7 212.5,1311.1 213.5,1310.6 214.5,1310.1 215.5,1309.6 216.5,1309.1 217.5,1308.6 218.5,1308.1 219.5,1307.7 220.5,1307.2 221.5,1306.8 222.5,1306.4 223.5,1306.1 224.5,1305.7 225.5,1305.4 226.5,1305.1 227.5,1304.8 228.5,1304.5 229.5,1304.3 230.5,1304.1 231.5,1303.9 232.5,1303.8 233.5,1303.7 234.5,1303.6 235.5,1303.5 236.5,1303.5 237.5,1303.5 238.5,1303.5 239.5,1303.6 240.5,1303.7 241.5,1303.8 242.5,1304 243.5,1304.2 244.5,1304.5 245.5,1304.8 246.5,1305.1 247.5,1305.5 248.5,1305.9 249.5,1306.4 250.5,1306.9 251.5,1307.5 252.5,1308.1 253.5,1308.7 254.5,1309.4 255.5,1310.1 256.5,1310.8 257.5,1311.6 258.5,1312.5 259.5,1313.3 260.5,1314.2 261.5,1315.2 262.5,1316.2 263.5,1317.2 264.5,1318.2 265.5,1319.3 266.5,1320.4 267.5,1321.5 268.5,1322.6 269.5,1323.8 270.5,1324.9 271.5,1326.1 272.5,1327.3 273.5,1328.5 274.5,1329.8 275.5,1331 276.5,1332.2 277.5,1333.4 278.5,1334.7 279.5,1335.9 280.5,1337.1 281.5,1338.3 282.5,1339.5 283.5,1340.7 284.5,1341.8 285.5,1343 286.5,1344.1 287.5,1345.2 288.5,1346.3 289.5,1347.3 290.5,1348.4 291.5,1349.4 292.5,1350.4 293.5,1351.3 294.5,1352.2 295.5,1353.1 296.5,1354 297.5,1354.8 298.5,1355.6 299.5,1356.4 300.5,1357.1 301.5,1357.8 302.5,1358.5 303.5,1359.2 304.5,1359.8 305.5,1360.4 306.5,1360.9 307.5,1361.5 308.5,1362 309.5,1362.4 310.5,1362.9 311.5,1363.3 312.5,1363.7 313.5,1364.1 314.5,1364.4 315.5,1364.7 316.5,1365.1 317.5,1365.3 318.5,1365.6 319.5,1365.9 320.5,1366.1 321.5,1366.3 322.5,1366.5 323.5,1366.7 324.5,1366.9 325.5,1367 326.5,1367.2 327.5,1367.3 328.5,1367.4 329.5,1367.5 330.5,1367.6 331.5,1367.7 332.5,1367.8 333.5,1367.9 334.5,1368 335.5,1368.1 336.5,1368.1 337.5,1368.2 338.5,1368.2 339.5,1368.3 340.5,1368.3 341.5,1368.4 342.5,1368.4 343.5,1368.4 344.5,1368.5 345.5,1368.5 346.5,1368.5 347.5,1368.5 348.5,1368.6 349.5,1368.6 350.5,1368.6 351.5,1368.6 352.5,1368.6 353.5,1368.6 354.5,1368.7 355.5,1368.7 356.5,1368.7 357.5,1368.7 358.5,1368.7 359.5,1368.7 360.5,1368.7 361.5,1368.7 362.5,1368.7 363.5,1368.8 364.5,1368.8 365.5,1368.8 366.5,1368.8 367.5,1368.8 368.5,1368.8 369.5,1368.8 370.5,1368.8 371.5,1368.8 372.5,1368.8 373.5,1368.8 374.5,1368.8 375.5,1368.8 376.5,1368.9 377.5,1368.9 378.5,1368.9 379.5,1368.9 380.5,1368.9 381.5,1368.9 382.5,1368.9 383.5,1368.9 384.5,1368.9 385.5,1368.9 386.5,1368.9 387.5,1368.9 388.5,1368.9 389.5,1368.9 390.5,1368.9 391.5,1369 392.5,1369 393.5,1369 394.5,1369 395.5,1369 396.5,1369 397.5,1369" fill="none" stroke="#c8c8c8" stroke-width="4.3" stroke-linejoin="round"/>
<polyline points="52.5,1366.7 53.5,1366.7 54.5,1366.6 55.5,1366.6 56.5,1366.6 57.5,1366.6 58.5,1366.6 59.5,1366.6 60.5,1366.6 61.5,1366.6 62.5,1366.6 63.5,1366.6 64.5,1366.6 65.5,1366.6 66.5,1366.6 67.5,1366.5 68.5,1366.5 69.5,1366.5 70.5,1366.5 71.5,1366.4 72.5,1366.4 73.5,1366.4 74.5,1366.3 75.5,1366.3 76.5,1366.3 77.5,1366.2 78.5,1366.2 79.5,1366.1 80.5,1366 81.5,1366 82.5,1365.9 83.5,1365.8 84.5,1365.8 85.5,1365.7 86.5,1365.6 87.5,1365.5 88.5,1365.4 89.5,1365.3 90.5,1365.2 91.5,1365 92.5,1364.9 93.5,1364.8 94.5,1364.6 95.5,1364.5 96.5,1364.3 97.5,1364.2 98.5,1364 99.5,1363.8 100.5,1363.6 101.5,1363.4 102.5,1363.2 103.5,1363 104.5,1362.8 105.5,1362.6 106.5,1362.3 107.5,1362.1 108.5,1361.8 109.5,1361.6 110.5,1361.3 111.5,1361 112.5,1360.8 113.5,1360.5 114.5,1360.2 115.5,1359.9 116.5,1359.6 117.5,1359.3 118.5,1359 119.5,1358.7 120.5,1358.4 121.5,1358.1 122.5,1357.8 123.5,1357.5 124.5,1357.1 125.5,1356.8 126.5,1356.5 127.5,1356.2 128.5,1355.9 129.5,1355.6 130.5,1355.3 131.5,1355 132.5,1354.7 133.5,1354.5 134.5,1354.2 135.5,1354 136.5,1353.7 137.5,1353.5 138.5,1353.2 139.5,1353 140.5,1352.8 141.5,1352.6 142.5,1352.5 143.5,1352.3 144.5,1352.2 145.5,1352 146.5,1351.9 147.5,1351.8 148.5,1351.7 149.5,1351.7 150.5,1351.6 151.5,1351.6 152.5,1351.6 153.5,1351.6 154.5,1351.6 155.5,1351.7 156.5,1351.7 157.5,1351.8 158.5,1351.9 159.5,1352 160.5,1352.1 161.5,1352.3 162.5,1352.4 163.5,1352.6 164.5,1352.8 165.5,1353 166.5,1353.2 167.5,1353.4 168.5,1353.7 169.5,1353.9 170.5,1354.2 171.5,1354.5 172.5,1354.7 173.5,1355 174.5,1355.3 175.5,1355.6 176.5,1355.9 177.5,1356.2 178.5,1356.6 179.5,1356.9 180.5,1357.2 181.5,1357.5 182.5,1357.8 183.5,1358.2 184.5,1358.5 185.5,1358.8 186.5,1359.1 187.5,1359.5 188.5,1359.8 189.5,1360.1 190.5,1360.4 191.5,1360.7 192.5,1361 193.5,1361.3 194.5,1361.6 195.5,1361.9 196.5,1362.1 197.5,1362.4 198.5,1362.7 199.5,1362.9 200.5,1363.2 201.5,1363.4 202.5,1363.7 203.5,1363.9 204.5,1364.1 205.5,1364.3 206.5,1364.5 207.5,1364.7 208.5,1364.9 209.5,1365.1 210.5,1365.2 211.5,1365.4 212.5,1365.6 213.5,1365.7 214.5,1365.9 215.5,1366 216.5,1366.1 217.5,1366.2 218.5,1366.4 219.5,1366.5 220.5,1366.6 221.5,1366.7 222.5,1366.8 223.5,1366.8 224.5,1366.9 225.5,1367 226.5,1367.1 227.5,1367.1 228.5,1367.2 229.5,1367.3 230.5,1367.3 231.5,1367.4 232.5,1367.4 233.5,1367.5 234.5,1367.5 235.5,1367.6 236.5,1367.6 237.5,1367.6 238.5,1367.7 239.5,1367.7 240.5,1367.7 241.5,1367.8 242.5,1367.8 243.5,1367.8 244.5,1367.8 245.5,1367.8 246.5,1367.9 247.5,1367.9 248.5,1367.9 249.5,1367.9 250.5,1367.9 251.5,1368 252.5,1368 253.5,1368 254.5,1368 255.5,1368 256.5,1368 257.5,1368 258.5,1368 259.5,1368 260.5,1368.1 261.5,1368.1 262.5,1368.1 263.5,1368.1 264.5,1368.1 265.5,1368.1 266.5,1368.1 267.5,1368.1 268.5,1368.1 269.5,1368.1 270.5,1368.1 271.5,1368.2 272.5,1368.2 273.5,1368.2 274.5,1368.2 275.5,1368.2 276.5,1368.2 277.5,1368.2 278.5,1368.2 279.5,1368.2 280.5,1368.2 281.5,1368.2 282.5,1368.2 283.5,1368.2 284.5,1368.2 285.5,1368.2 286.5,1368.3 287.5,1368.3 288.5,1368.3 289.5,1368.3 290.5,1368.3 291.5,1368.3 292.5,1368.3 293.5,1368.3 294.5,1368.3 295.5,1368.3 296.5,1368.3 297.5,1368.3 298.5,1368.3 299.5,1368.3 300.5,1368.3 301.5,1368.4 302.5,1368.4 303.5,1368.4 304.5,1368.4 305.5,1368.4 306.5,1368.4 307.5,1368.4 308.5,1368.4 309.5,1368.4 310.5,1368.4 311.5,1368.4 312.5,1368.4 313.5,1368.4 314.5,1368.4 315.5,1368.4 316.5,1368.5 317.5,1368.5 318.5,1368.5 319.5,1368.5 320.5,1368.5 321.5,1368.5 322.5,1368.5 323.5,1368.5 324.5,1368.5 325.5,1368.5 326.5,1368.5 327.5,1368.5 328.5,1368.5 329.5,1368.5 330.5,1368.5 331.5,1368.6 332.5,1368.6 333.5,1368.6 334.5,1368.6 335.5,1368.6 336.5,1368.6 337.5,1368.6 338.5,1368.6 339.5,1368.6 340.5,1368.6 341.5,1368.6 342.5,1368.6 343.5,1368.6 344.5,1368.6 345.5,1368.6 346.5,1368.7 347.5,1368.7 348.5,1368.7 349.5,1368.7 350.5,1368.7 351.5,1368.7 352.5,1368.7 353.5,1368.7 354.5,1368.7 355.5,1368.7 356.5,1368.7 357.5,1368.7 358.5,1368.7 359.5,1368.7 360.5,1368.7 361.5,1368.8 362.5,1368.8 363.5,1368.8 364.5,1368.8 365.5,1368.8 366.5,1368.8 367.5,1368.8 368.5,1368.8 369.5,1368.8 370.5,1368.8 371.5,1368.8 372.5,1368.8 373.5,1368.8 374.5,1368.8 375.5,1368.8 376.5,1368.9 377.5,1368.9 378.5,1368.9 379.5,1368.9 380.5,1368.9 381.5,1368.9 382.5,1368.9 383.5,1368.9 384.5,1368.9 385.5,1368.9 386.5,1368.9 387.5,1368.9 388.5,1368.9 389.5,1368.9 390.5,1368.9 391.5,1369 392.5,1369 393.5,1369 394.5,1369 395.5,1369 396.5,1369 397.5,1369" fill="none" stroke="#d02828" stroke-width="2.6" stroke-linejoin="round"/>
<polyline points="52.5,1366.7 53.5,1366.7 54.5,1366.7 55.5,1366.7 56.5,1366.7 57.5,1366.7 58.5,1366.7 59.5,1366.8 60.5,1366.8 61.5,1366.8 62.5,1366.8 63.5,1366.8 64.5,1366.8 65.5,1366.8 66.5,1366.8 67.5,1366.8 68.5,1366.8 69.5,1366.8 70.5,1366.8 71.5,1366.8 72.5,1366.8 73.5,1366.8 74.5,1366.9 75.5,1366.9 76.5,1366.9 77.5,1366.9 78.5,1366.9 79.5,1366.9 80.5,1366.9 81.5,1366.9 82.5,1366.9 83.5,1366.9 84.5,1366.9 85.5,1366.9 86.5,1366.9 87.5,1366.9 88.5,1366.9 89.5,1366.9 90.5,1366.9 91.5,1366.9 92.5,1366.9 93.5,1366.9 94.5,1366.9 95.5,1366.9 96.5,1366.9 97.5,1366.9 98.5,1366.9 99.5,1366.9 100.5,1366.9 101.5,1366.9 102.5,1366.9 103.5,1366.9 104.5,1366.9 105.5,1366.9 106.5,1366.9 107.5,1366.9 108.5,1366.9 109.5,1366.9 110.5,1366.9 111.5,1366.8 112.5,1366.8 113.5,1366.8 114.5,1366.8 115.5,1366.7 116.5,1366.7 117.5,1366.7 118.5,1366.6 119.5,1366.6 120.5,1366.5 121.5,1366.5 122.5,1366.4 123.5,1366.4 124.5,1366.3 125.5,1366.2 126.5,1366.2 127.5,1366.1 128.5,1366 129.5,1365.9 130.5,1365.8 131.5,1365.7 132.5,1365.5 133.5,1365.4 134.5,1365.3 135.5,1365.1 136.5,1364.9 137.5,1364.8 138.5,1364.6 139.5,1364.4 140.5,1364.2 141.5,1364 142.5,1363.7 143.5,1363.5 144.5,1363.2 145.5,1362.9 146.5,1362.6 147.5,1362.3 148.5,1362 149.5,1361.7 150.5,1361.3 151.5,1360.9 152.5,1360.5 153.5,1360.1 154.5,1359.7 155.5,1359.2 156.5,1358.8 157.5,1358.3 158.5,1357.8 159.5,1357.2 160.5,1356.7 161.5,1356.1 162.5,1355.5 163.5,1354.9 164.5,1354.3 165.5,1353.6 166.5,1353 167.5,1352.3 168.5,1351.6 169.5,1350.9 170.5,1350.2 171.5,1349.4 172.5,1348.6 173.5,1347.9 174.5,1347.1 175.5,1346.3 176.5,1345.5 177.5,1344.6 178.5,1343.8 179.5,1343 180.5,1342.1 181.5,1341.3 182.5,1340.4 183.5,1339.6 184.5,1338.7 185.5,1337.9 186.5,1337 187.5,1336.2 188.5,1335.3 189.5,1334.5 190.5,1333.7 191.5,1332.9 192.5,1332.1 193.5,1331.3 194.5,1330.5 195.5,1329.8 196.5,1329.1 197.5,1328.4 198.5,1327.7 199.5,1327.1 200.5,1326.5 201.5,1325.9 202.5,1325.3 203.5,1324.8 204.5,1324.3 205.5,1323.9 206.5,1323.5 207.5,1323.1 208.5,1322.8 209.5,1322.5 210.5,1322.2 211.5,1322 212.5,1321.8 213.5,1321.7 214.5,1321.6 215.5,1321.6 216.5,1321.6 217.5,1321.7 218.5,1321.8 219.5,1321.9 220.5,1322.1 221.5,1322.3 222.5,1322.6 223.5,1322.9 224.5,1323.2 225.5,1323.6 226.5,1324 227.5,1324.5 228.5,1325 229.5,1325.5 230.5,1326.1 231.5,1326.7 232.5,1327.3 233.5,1327.9 234.5,1328.6 235.5,1329.3 236.5,1330.1 237.5,1330.8 238.5,1331.6 239.5,1332.4 240.5,1333.2 241.5,1334 242.5,1334.8 243.5,1335.7 244.5,1336.5 245.5,1337.4 246.5,1338.3 247.5,1339.1 248.5,1340 249.5,1340.9 250.5,1341.7 251.5,1342.6 252.5,1343.4 253.5,1344.3 254.5,1345.1 255.5,1346 256.5,1346.8 257.5,1347.6 258.5,1348.4 259.5,1349.2 260.5,1350 261.5,1350.8 262.5,1351.5 263.5,1352.2 264.5,1352.9 265.5,1353.6 266.5,1354.3 267.5,1355 268.5,1355.6 269.5,1356.2 270.5,1356.8 271.5,1357.4 272.5,1358 273.5,1358.5 274.5,1359 275.5,1359.5 276.5,1360 277.5,1360.5 278.5,1360.9 279.5,1361.4 280.5,1361.8 281.5,1362.2 282.5,1362.5 283.5,1362.9 284.5,1363.2 285.5,1363.6 286.5,1363.9 287.5,1364.2 288.5,1364.4 289.5,1364.7 290.5,1364.9 291.5,1365.2 292.5,1365.4 293.5,1365.6 294.5,1365.8 295.5,1366 296.5,1366.2 297.5,1366.3 298.5,1366.5 299.5,1366.6 300.5,1366.8 301.5,1366.9 302.5,1367 303.5,1367.1 304.5,1367.2 305.5,1367.3 306.5,1367.4 307.5,1367.5 308.5,1367.6 309.5,1367.7 310.5,1367.7 311.5,1367.8 312.5,1367.9 313.5,1367.9 314.5,1368 315.5,1368 316.5,1368.1 317.5,1368.1 318.5,1368.1 319.5,1368.2 320.5,1368.2 321.5,1368.3 322.5,1368.3 323.5,1368.3 324.5,1368.3 325.5,1368.4 326.5,1368.4 327.5,1368.4 328.5,1368.4 329.5,1368.4 330.5,1368.5 331.5,1368.5 332.5,1368.5 333.5,1368.5 334.5,1368.5 335.5,1368.5 336.5,1368.5 337.5,1368.6 338.5,1368.6 339.5,1368.6 340.5,1368.6 341.5,1368.6 342.5,1368.6 343.5,1368.6 344.5,1368.6 345.5,1368.6 346.5,1368.6 347.5,1368.6 348.5,1368.7 349.5,1368.7 350.5,1368.7 351.5,1368.7 352.5,1368.7 353.5,1368.7 354.5,1368.7 355.5,1368.7 356.5,1368.7 357.5,1368.7 358.5,1368.7 359.5,1368.7 360.5,1368.7 361.5,1368.8 362.5,1368.8 363.5,1368.8 364.5,1368.8 365.5,1368.8 366.5,1368.8 367.5,1368.8 368.5,1368.8 369.5,1368.8 370.5,1368.8 371.5,1368.8 372.5,1368.8 373.5,1368.8 374.5,1368.8 375.5,1368.8 376.5,1368.9 377.5,1368.9 378.5,1368.9 379.5,1368.9 380.5,1368.9 381.5,1368.9 382.5,1368.9 383.5,1368.9 384.5,1368.9 385.5,1368.9 386.5,1368.9 387.5,1368.9 388.5,1368.9 389.5,1368.9 390.5,1368.9 391.5,1369 392.5,1369 393.5,1369 394.5,1369 395.5,1369 396.5,1369 397.5,1369" fill="none" stroke="#58ad58" stroke-width="2.4" stroke-linejoin="round"/>
<polygon points="52.5,1366.7 53.5,1366.7 54.5,1366.7 55.5,1366.7 56.5,1366.7 57.5,1366.7 58.5,1366.7 59.5,1366.8 60.5,1366.8 61.5,1366.8 62.5,1366.8 63.5,1366.8 64.5,1366.8 65.5,1366.8 66.5,1366.8 67.5,1366.8 68.5,1366.8 69.5,1366.8 70.5,1366.8 71.5,1366.8 72.5,1366.8 73.5,1366.8 74.5,1366.9 75.5,1366.9 76.5,1366.9 77.5,1366.9 78.5,1366.9 79.5,1366.9 80.5,1366.9 81.5,1366.9 82.5,1366.9 83.5,1366.9 84.5,1366.9 85.5,1366.9 86.5,1366.9 87.5,1366.9 88.5,1366.9 89.5,1367 90.5,1367 91.5,1367 92.5,1367 93.5,1367 94.5,1367 95.5,1367 96.5,1367 97.5,1367 98.5,1367 99.5,1367 100.5,1367 101.5,1367 102.5,1367 103.5,1367 104.5,1367.1 105.5,1367.1 106.5,1367.1 107.5,1367.1 108.5,1367.1 109.5,1367.1 110.5,1367.1 111.5,1367.1 112.5,1367.1 113.5,1367.1 114.5,1367.1 115.5,1367.1 116.5,1367.1 117.5,1367.1 118.5,1367.1 119.5,1367.2 120.5,1367.2 121.5,1367.2 122.5,1367.2 123.5,1367.2 124.5,1367.2 125.5,1367.2 126.5,1367.2 127.5,1367.2 128.5,1367.2 129.5,1367.2 130.5,1367.2 131.5,1367.2 132.5,1367.2 133.5,1367.2 134.5,1367.3 135.5,1367.3 136.5,1367.3 137.5,1367.3 138.5,1367.3 139.5,1367.3 140.5,1367.3 141.5,1367.3 142.5,1367.3 143.5,1367.3 144.5,1367.3 145.5,1367.3 146.5,1367.3 147.5,1367.3 148.5,1367.3 149.5,1367.3 150.5,1367.3 151.5,1367.4 152.5,1367.4 153.5,1367.4 154.5,1367.4 155.5,1367.4 156.5,1367.4 157.5,1367.4 158.5,1367.4 159.5,1367.4 160.5,1367.4 161.5,1367.4 162.5,1367.4 163.5,1367.4 164.5,1367.4 165.5,1367.4 166.5,1367.4 167.5,1367.4 168.5,1367.3 169.5,1367.3 170.5,1367.3 171.5,1367.3 172.5,1367.3 173.5,1367.3 174.5,1367.2 175.5,1367.2 176.5,1367.2 177.5,1367.2 178.5,1367.1 179.5,1367.1 180.5,1367 181.5,1367 182.5,1366.9 183.5,1366.8 184.5,1366.8 185.5,1366.7 186.5,1366.6 187.5,1366.5 188.5,1366.4 189.5,1366.3 190.5,1366.1 191.5,1366 192.5,1365.9 193.5,1365.7 194.5,1365.5 195.5,1365.3 196.5,1365.1 197.5,1364.9 198.5,1364.7 199.5,1364.4 200.5,1364.1 201.5,1363.8 202.5,1363.5 203.5,1363.2 204.5,1362.8 205.5,1362.5 206.5,1362.1 207.5,1361.7 208.5,1361.2 209.5,1360.8 210.5,1360.3 211.5,1359.8 212.5,1359.3 213.5,1358.7 214.5,1358.1 215.5,1357.5 216.5,1356.9 217.5,1356.3 218.5,1355.6 219.5,1354.9 220.5,1354.3 221.5,1353.5 222.5,1352.8 223.5,1352 224.5,1351.3 225.5,1350.5 226.5,1349.7 227.5,1348.9 228.5,1348.1 229.5,1347.3 230.5,1346.5 231.5,1345.7 232.5,1344.9 233.5,1344 234.5,1343.2 235.5,1342.4 236.5,1341.7 237.5,1340.9 238.5,1340.1 239.5,1339.4 240.5,1338.7 241.5,1338 242.5,1337.3 243.5,1336.7 244.5,1336.1 245.5,1335.5 246.5,1335 247.5,1334.5 248.5,1334.1 249.5,1333.6 250.5,1333.3 251.5,1333 252.5,1332.7 253.5,1332.5 254.5,1332.3 255.5,1332.2 256.5,1332.1 257.5,1332.1 258.5,1332.1 259.5,1332.2 260.5,1332.3 261.5,1332.5 262.5,1332.8 263.5,1333 264.5,1333.4 265.5,1333.8 266.5,1334.2 267.5,1334.6 268.5,1335.1 269.5,1335.7 270.5,1336.3 271.5,1336.9 272.5,1337.5 273.5,1338.2 274.5,1338.9 275.5,1339.6 276.5,1340.4 277.5,1341.1 278.5,1341.9 279.5,1342.7 280.5,1343.5 281.5,1344.4 282.5,1345.2 283.5,1346 284.5,1346.8 285.5,1347.7 286.5,1348.5 287.5,1349.3 288.5,1350.1 289.5,1350.9 290.5,1351.7 291.5,1352.5 292.5,1353.3 293.5,1354 294.5,1354.7 295.5,1355.5 296.5,1356.1 297.5,1356.8 298.5,1357.5 299.5,1358.1 300.5,1358.7 301.5,1359.3 302.5,1359.9 303.5,1360.4 304.5,1360.9 305.5,1361.4 306.5,1361.9 307.5,1362.3 308.5,1362.8 309.5,1363.2 310.5,1363.5 311.5,1363.9 312.5,1364.3 313.5,1364.6 314.5,1364.9 315.5,1365.2 316.5,1365.4 317.5,1365.7 318.5,1365.9 319.5,1366.1 320.5,1366.4 321.5,1366.5 322.5,1366.7 323.5,1366.9 324.5,1367 325.5,1367.2 326.5,1367.3 327.5,1367.4 328.5,1367.5 329.5,1367.6 330.5,1367.7 331.5,1367.8 332.5,1367.9 333.5,1368 334.5,1368 335.5,1368.1 336.5,1368.2 337.5,1368.2 338.5,1368.3 339.5,1368.3 340.5,1368.3 341.5,1368.4 342.5,1368.4 343.5,1368.4 344.5,1368.5 345.5,1368.5 346.5,1368.5 347.5,1368.5 348.5,1368.6 349.5,1368.6 350.5,1368.6 351.5,1368.6 352.5,1368.6 353.5,1368.6 354.5,1368.7 355.5,1368.7 356.5,1368.7 357.5,1368.7 358.5,1368.7 359.5,1368.7 360.5,1368.7 361.5,1368.7 362.5,1368.7 363.5,1368.8 364.5,1368.8 365.5,1368.8 366.5,1368.8 367.5,1368.8 368.5,1368.8 369.5,1368.8 370.5,1368.8 371.5,1368.8 372.5,1368.8 373.5,1368.8 374.5,1368.8 375.5,1368.8 376.5,1368.9 377.5,1368.9 378.5,1368.9 379.5,1368.9 380.5,1368.9 381.5,1368.9 382.5,1368.9 383.5,1368.9 384.5,1368.9 385.5,1368.9 386.5,1368.9 387.5,1368.9 388.5,1368.9 389.5,1368.9 390.5,1368.9 391.5,1369 392.5,1369 393.5,1369 394.5,1369 395.5,1369 396.5,1369 397.5,1369 397.5,1369 396.5,1369 395.5,1369 394.5,1369 393.5,1369 392.5,1369 391.5,1369 390.5,1368.9 389.5,1368.9 388.5,1368.9 387.5,1368.9 386.5,1368.9 385.5,1368.9 384.5,1368.9 383.5,1368.9 382.5,1368.9 381.5,1368.9 380.5,1368.9 379.5,1368.9 378.5,1368.9 377.5,1368.9 376.5,1368.9 375.5,1368.8 374.5,1368.8 373.5,1368.8 372.5,1368.8 371.5,1368.8 370.5,1368.8 369.5,1368.8 368.5,1368.8 367.5,1368.8 366.5,1368.8 365.5,1368.8 364.5,1368.8 363.5,1368.8 362.5,1368.8 361.5,1368.8 360.5,1368.7 359.5,1368.7 358.5,1368.7 357.5,1368.7 356.5,1368.7 355.5,1368.7 354.5,1368.7 353.5,1368.7 352.5,1368.7 351.5,1368.7 350.5,1368.7 349.5,1368.7 348.5,1368.7 347.5,1368.7 346.5,1368.7 345.5,1368.6 344.5,1368.6 343.5,1368.6 342.5,1368.6 341.5,1368.6 340.5,1368.6 339.5,1368.6 338.5,1368.6 337.5,1368.6 336.5,1368.6 335.5,1368.6 334.5,1368.6 333.5,1368.6 332.5,1368.6 331.5,1368.6 330.5,1368.5 329.5,1368.5 328.5,1368.5 327.5,1368.5 326.5,1368.5 325.5,1368.5 324.5,1368.5 323.5,1368.5 322.5,1368.5 321.5,1368.5 320.5,1368.5 319.5,1368.5 318.5,1368.5 317.5,1368.5 316.5,1368.5 315.5,1368.4 314.5,1368.4 313.5,1368.4 312.5,1368.4 311.5,1368.4 310.5,1368.4 309.5,1368.4 308.5,1368.4 307.5,1368.4 306.5,1368.4 305.5,1368.4 304.5,1368.4 303.5,1368.4 302.5,1368.4 301.5,1368.4 300.5,1368.3 299.5,1368.3 298.5,1368.3 297.5,1368.3 296.5,1368.3 295.5,1368.3 294.5,1368.3 293.5,1368.3 292.5,1368.3 291.5,1368.3 290.5,1368.3 289.5,1368.3 288.5,1368.3 287.5,1368.3 286.5,1368.3 285.5,1368.3 284.5,1368.2 283.5,1368.2 282.5,1368.2 281.5,1368.2 280.5,1368.2 279.5,1368.2 278.5,1368.2 277.5,1368.2 276.5,1368.2 275.5,1368.2 274.5,1368.2 273.5,1368.2 272.5,1368.2 271.5,1368.2 270.5,1368.2 269.5,1368.1 268.5,1368.1 267.5,1368.1 266.5,1368.1 265.5,1368.1 264.5,1368.1 263.5,1368.1 262.5,1368.1 261.5,1368.1 260.5,1368.1 259.5,1368.1 258.5,1368.1 257.5,1368.1 256.5,1368.1 255.5,1368.1 254.5,1368 253.5,1368 252.5,1368 251.5,1368 250.5,1368 249.5,1368 248.5,1368 247.5,1368 246.5,1368 245.5,1368 244.5,1368 243.5,1368 242.5,1368 241.5,1368 240.5,1368 239.5,1367.9 238.5,1367.9 237.5,1367.9 236.5,1367.9 235.5,1367.9 234.5,1367.9 233.5,1367.9 232.5,1367.9 231.5,1367.9 230.5,1367.9 229.5,1367.9 228.5,1367.9 227.5,1367.9 226.5,1367.9 225.5,1367.9 224.5,1367.8 223.5,1367.8 222.5,1367.8 221.5,1367.8 220.5,1367.8 219.5,1367.8 218.5,1367.8 217.5,1367.8 216.5,1367.8 215.5,1367.8 214.5,1367.8 213.5,1367.8 212.5,1367.8 211.5,1367.8 210.5,1367.8 209.5,1367.7 208.5,1367.7 207.5,1367.7 206.5,1367.7 205.5,1367.7 204.5,1367.7 203.5,1367.7 202.5,1367.7 201.5,1367.7 200.5,1367.7 199.5,1367.7 198.5,1367.7 197.5,1367.7 196.5,1367.7 195.5,1367.7 194.5,1367.6 193.5,1367.6 192.5,1367.6 191.5,1367.6 190.5,1367.6 189.5,1367.6 188.5,1367.6 187.5,1367.6 186.5,1367.6 185.5,1367.6 184.5,1367.6 183.5,1367.6 182.5,1367.6 181.5,1367.6 180.5,1367.6 179.5,1367.5 178.5,1367.5 177.5,1367.5 176.5,1367.5 175.5,1367.5 174.5,1367.5 173.5,1367.5 172.5,1367.5 171.5,1367.5 170.5,1367.5 169.5,1367.5 168.5,1367.5 167.5,1367.5 166.5,1367.5 165.5,1367.5 164.5,1367.4 163.5,1367.4 162.5,1367.4 161.5,1367.4 160.5,1367.4 159.5,1367.4 158.5,1367.4 157.5,1367.4 156.5,1367.4 155.5,1367.4 154.5,1367.4 153.5,1367.4 152.5,1367.4 151.5,1367.4 150.5,1367.4 149.5,1367.4 148.5,1367.3 147.5,1367.3 146.5,1367.3 145.5,1367.3 144.5,1367.3 143.5,1367.3 142.5,1367.3 141.5,1367.3 140.5,1367.3 139.5,1367.3 138.5,1367.3 137.5,1367.3 136.5,1367.3 135.5,1367.3 134.5,1367.3 133.5,1367.2 132.5,1367.2 131.5,1367.2 130.5,1367.2 129.5,1367.2 128.5,1367.2 127.5,1367.2 126.5,1367.2 125.5,1367.2 124.5,1367.2 123.5,1367.2 122.5,1367.2 121.5,1367.2 120.5,1367.2 119.5,1367.2 118.5,1367.1 117.5,1367.1 116.5,1367.1 115.5,1367.1 114.5,1367.1 113.5,1367.1 112.5,1367.1 111.5,1367.1 110.5,1367.1 109.5,1367.1 108.5,1367.1 107.5,1367.1 106.5,1367.1 105.5,1367.1 104.5,1367.1 103.5,1367 102.5,1367 101.5,1367 100.5,1367 99.5,1367 98.5,1367 97.5,1367 96.5,1367 95.5,1367 94.5,1367 93.5,1367 92.5,1367 91.5,1367 90.5,1367 89.5,1367 88.5,1366.9 87.5,1366.9 86.5,1366.9 85.5,1366.9 84.5,1366.9 83.5,1366.9 82.5,1366.9 81.5,1366.9 80.5,1366.9 79.5,1366.9 78.5,1366.9 77.5,1366.9 76.5,1366.9 75.5,1366.9 74.5,1366.9 73.5,1366.8 72.5,1366.8 71.5,1366.8 70.5,1366.8 69.5,1366.8 68.5,1366.8 67.5,1366.8 66.5,1366.8 65.5,1366.8 64.5,1366.8 63.5,1366.8 62.5,1366.8 61.5,1366.8 60.5,1366.8 59.5,1366.8 58.5,1366.7 57.5,1366.7 56.5,1366.7 55.5,1366.7 54.5,1366.7 53.5,1366.7 52.5,1366.7" fill="#3458e6" stroke="none" fill-opacity="0.38"/>
<polyline points="52.5,1366.7 53.5,1366.7 54.5,1366.7 55.5,1366.7 56.5,1366.7 57.5,1366.7 58.5,1366.7 59.5,1366.8 60.5,1366.8 61.5,1366.8 62.5,1366.8 63.5,1366.8 64.5,1366.8 65.5,1366.8 66.5,1366.8 67.5,1366.8 68.5,1366.8 69.5,1366.8 70.5,1366.8 71.5,1366.8 72.5,1366.8 73.5,1366.8 74.5,1366.9 75.5,1366.9 76.5,1366.9 77.5,1366.9 78.5,1366.9 79.5,1366.9 80.5,1366.9 81.5,1366.9 82.5,1366.9 83.5,1366.9 84.5,1366.9 85.5,1366.9 86.5,1366.9 87.5,1366.9 88.5,1366.9 89.5,1367 90.5,1367 91.5,1367 92.5,1367 93.5,1367 94.5,1367 95.5,1367 96.5,1367 97.5,1367 98.5,1367 99.5,1367 100.5,1367 101.5,1367 102.5,1367 103.5,1367 104.5,1367.1 105.5,1367.1 106.5,1367.1 107.5,1367.1 108.5,1367.1 109.5,1367.1 110.5,1367.1 111.5,1367.1 112.5,1367.1 113.5,1367.1 114.5,1367.1 115.5,1367.1 116.5,1367.1 117.5,1367.1 118.5,1367.1 119.5,1367.2 120.5,1367.2 121.5,1367.2 122.5,1367.2 123.5,1367.2 124.5,1367.2 125.5,1367.2 126.5,1367.2 127.5,1367.2 128.5,1367.2 129.5,1367.2 130.5,1367.2 131.5,1367.2 132.5,1367.2 133.5,1367.2 134.5,1367.3 135.5,1367.3 136.5,1367.3 137.5,1367.3 138.5,1367.3 139.5,1367.3 140.5,1367.3 141.5,1367.3 142.5,1367.3 143.5,1367.3 144.5,1367.3 145.5,1367.3 146.5,1367.3 147.5,1367.3 148.5,1367.3 149.5,1367.3 150.5,1367.3 151.5,1367.4 152.5,1367.4 153.5,1367.4 154.5,1367.4 155.5,1367.4 156.5,1367.4 157.5,1367.4 158.5,1367.4 159.5,1367.4 160.5,1367.4 161.5,1367.4 162.5,1367.4 163.5,1367.4 164.5,1367.4 165.5,1367.4 166.5,1367.4 167.5,1367.4 168.5,1367.3 169.5,1367.3 170.5,1367.3 171.5,1367.3 172.5,1367.3 173.5,1367.3 174.5,1367.2 175.5,1367.2 176.5,1367.2 177.5,1367.2 178.5,1367.1 179.5,1367.1 180.5,1367 181.5,1367 182.5,1366.9 183.5,1366.8 184.5,1366.8 185.5,1366.7 186.5,1366.6 187.5,1366.5 188.5,1366.4 189.5,1366.3 190.5,1366.1 191.5,1366 192.5,1365.9 193.5,1365.7 194.5,1365.5 195.5,1365.3 196.5,1365.1 197.5,1364.9 198.5,1364.7 199.5,1364.4 200.5,1364.1 201.5,1363.8 202.5,1363.5 203.5,1363.2 204.5,1362.8 205.5,1362.5 206.5,1362.1 207.5,1361.7 208.5,1361.2 209.5,1360.8 210.5,1360.3 211.5,1359.8 212.5,1359.3 213.5,1358.7 214.5,1358.1 215.5,1357.5 216.5,1356.9 217.5,1356.3 218.5,1355.6 219.5,1354.9 220.5,1354.3 221.5,1353.5 222.5,1352.8 223.5,1352 224.5,1351.3 225.5,1350.5 226.5,1349.7 227.5,1348.9 228.5,1348.1 229.5,1347.3 230.5,1346.5 231.5,1345.7 232.5,1344.9 233.5,1344 234.5,1343.2 235.5,1342.4 236.5,1341.7 237.5,1340.9 238.5,1340.1 239.5,1339.4 240.5,1338.7 241.5,1338 242.5,1337.3 243.5,1336.7 244.5,1336.1 245.5,1335.5 246.5,1335 247.5,1334.5 248.5,1334.1 249.5,1333.6 250.5,1333.3 251.5,1333 252.5,1332.7 253.5,1332.5 254.5,1332.3 255.5,1332.2 256.5,1332.1 257.5,1332.1 258.5,1332.1 259.5,1332.2 260.5,1332.3 261.5,1332.5 262.5,1332.8 263.5,1333 264.5,1333.4 265.5,1333.8 266.5,1334.2 267.5,1334.6 268.5,1335.1 269.5,1335.7 270.5,1336.3 271.5,1336.9 272.5,1337.5 273.5,1338.2 274.5,1338.9 275.5,1339.6 276.5,1340.4 277.5,1341.1 278.5,1341.9 279.5,1342.7 280.5,1343.5 281.5,1344.4 282.5,1345.2 283.5,1346 284.5,1346.8 285.5,1347.7 286.5,1348.5 287.5,1349.3 288.5,1350.1 289.5,1350.9 290.5,1351.7 291.5,1352.5 292.5,1353.3 293.5,1354 294.5,1354.7 295.5,1355.5 296.5,1356.1 297.5,1356.8 298.5,1357.5 299.5,1358.1 300.5,1358.7 301.5,1359.3 302.5,1359.9 303.5,1360.4 304.5,1360.9 305.5,1361.4 306.5,1361.9 307.5,1362.3 308.5,1362.8 309.5,1363.2 310.5,1363.5 311.5,1363.9 312.5,1364.3 313.5,1364.6 314.5,1364.9 315.5,1365.2 316.5,1365.4 317.5,1365.7 318.5,1365.9 319.5,1366.1 320.5,1366.4 321.5,1366.5 322.5,1366.7 323.5,1366.9 324.5,1367 325.5,1367.2 326.5,1367.3 327.5,1367.4 328.5,1367.5 329.5,1367.6 330.5,1367.7 331.5,1367.8 332.5,1367.9 333.5,1368 334.5,1368 335.5,1368.1 336.5,1368.2 337.5,1368.2 338.5,1368.3 339.5,1368.3 340.5,1368.3 341.5,1368.4 342.5,1368.4 343.5,1368.4 344.5,1368.5 345.5,1368.5 346.5,1368.5 347.5,1368.5 348.5,1368.6 349.5,1368.6 350.5,1368.6 351.5,1368.6 352.5,1368.6 353.5,1368.6 354.5,1368.7 355.5,1368.7 356.5,1368.7 357.5,1368.7 358.5,1368.7 359.5,1368.7 360.5,1368.7 361.5,1368.7 362.5,1368.7 363.5,1368.8 364.5,1368.8 365.5,1368.8 366.5,1368.8 367.5,1368.8 368.5,1368.8 369.5,1368.8 370.5,1368.8 371.5,1368.8 372.5,1368.8 373.5,1368.8 374.5,1368.8 375.5,1368.8 376.5,1368.9 377.5,1368.9 378.5,1368.9 379.5,1368.9 380.5,1368.9 381.5,1368.9 382.5,1368.9 383.5,1368.9 384.5,1368.9 385.5,1368.9 386.5,1368.9 387.5,1368.9 388.5,1368.9 389.5,1368.9 390.5,1368.9 391.5,1369 392.5,1369 393.5,1369 394.5,1369 395.5,1369 396.5,1369 397.5,1369" fill="none" stroke="#3458e6" stroke-width="2.7" stroke-linejoin="round"/>
<path d="M53 1366.1h0M56.5 1365.6h0M60 1367h0M63.5 1366.7h0M67 1366h0M70.5 1366.3h0M74 1365.4h0M77.5 1365.3h0M81 1365.2h0M84.5 1365.7h0M88 1365.3h0M91.5 1364.3h0M95 1364.7h0M98.5 1364.1h0M102 1363h0M105.5 1362.7h0M109 1361h0M112.5 1360.1h0M116 1359.3h0M119.5 1357.8h0M123 1357h0M126.5 1354.4h0M130 1354.6h0M133.5 1351.9h0M137 1350.8h0M140.5 1348.6h0M144 1348.3h0M147.5 1347.3h0M151 1345.7h0M154.5 1344.1h0M158 1341.2h0M161.5 1340.1h0M165 1338.7h0M168.5 1336.8h0M172 1336.3h0M175.5 1333.9h0M179 1331.8h0M182.5 1330h0M186 1327h0M189.5 1324.8h0M193 1322.5h0M196.5 1321h0M200 1318.6h0M203.5 1316.5h0M207 1314.7h0M210.5 1311.1h0M214 1309.7h0M217.5 1308.4h0M221 1305.9h0M224.5 1305.1h0M228 1305h0M231.5 1304.3h0M235 1303.9h0M238.5 1303.2h0M242 1303.5h0M245.5 1305.1h0M249 1305.6h0M252.5 1308h0M256 1310.9h0M259.5 1312.8h0M263 1316h0M266.5 1320h0M270 1324.4h0M273.5 1328.5h0M277 1332.6h0M280.5 1337.1h0M284 1340h0M287.5 1344.4h0M291 1348.7h0M294.5 1351.4h0M298 1354.1h0M301.5 1356.8h0M305 1359.2h0M308.5 1361.5h0M312 1362.6h0M315.5 1364.6h0M319 1366.4h0M322.5 1366.1h0M326 1367.6h0M329.5 1367.4h0M333 1366.9h0M336.5 1367.7h0M340 1367.4h0M343.5 1368.6h0M347 1367.5h0M350.5 1369.1h0M354 1368.7h0M357.5 1367.2h0M361 1368.9h0M364.5 1369.4h0M368 1368h0M371.5 1369.1h0M375 1367.5h0M378.5 1368.7h0M382 1367.6h0M385.5 1368.9h0M389 1367.6h0M392.5 1367.1h0M396 1368.9h0" stroke="#000" stroke-width="2.2" stroke-linecap="round" fill="none"/>
<line x1="51.3" y1="1367.5" x2="398.7" y2="1369.8" stroke="#000" stroke-width="3.2"/>
<text x="367.7" y="1361.8" font-size="25">Li</text>
<polyline points="52.5,1460.1 53.5,1460.1 54.5,1460.1 55.5,1460.1 56.5,1460.1 57.5,1460.1 58.5,1460.1 59.5,1460.1 60.5,1460.1 61.5,1460.1 62.5,1460.1 63.5,1460 64.5,1460 65.5,1460 66.5,1460 67.5,1460 68.5,1459.9 69.5,1459.9 70.5,1459.9 71.5,1459.8 72.5,1459.8 73.5,1459.7 74.5,1459.7 75.5,1459.6 76.5,1459.6 77.5,1459.5 78.5,1459.4 79.5,1459.4 80.5,1459.3 81.5,1459.2 82.5,1459.1 83.5,1459 84.5,1458.9 85.5,1458.8 86.5,1458.7 87.5,1458.6 88.5,1458.4 89.5,1458.3 90.5,1458.2 91.5,1458 92.5,1457.9 93.5,1457.7 94.5,1457.5 95.5,1457.4 96.5,1457.2 97.5,1457 98.5,1456.8 99.5,1456.6 100.5,1456.4 101.5,1456.1 102.5,1455.9 103.5,1455.7 104.5,1455.4 105.5,1455.2 106.5,1454.9 107.5,1454.7 108.5,1454.4 109.5,1454.1 110.5,1453.9 111.5,1453.6 112.5,1453.3 113.5,1453 114.5,1452.7 115.5,1452.4 116.5,1452.1 117.5,1451.8 118.5,1451.5 119.5,1451.1 120.5,1450.8 121.5,1450.5 122.5,1450.2 123.5,1449.9 124.5,1449.5 125.5,1449.2 126.5,1448.9 127.5,1448.5 128.5,1448.2 129.5,1447.9 130.5,1447.6 131.5,1447.2 132.5,1446.9 133.5,1446.6 134.5,1446.2 135.5,1445.9 136.5,1445.5 137.5,1445.2 138.5,1444.9 139.5,1444.5 140.5,1444.2 141.5,1443.8 142.5,1443.5 143.5,1443.1 144.5,1442.8 145.5,1442.4 146.5,1442.1 147.5,1441.7 148.5,1441.3 149.5,1440.9 150.5,1440.5 151.5,1440.1 152.5,1439.7 153.5,1439.3 154.5,1438.8 155.5,1438.4 156.5,1437.9 157.5,1437.4 158.5,1436.9 159.5,1436.4 160.5,1435.9 161.5,1435.4 162.5,1434.8 163.5,1434.2 164.5,1433.6 165.5,1433 166.5,1432.4 167.5,1431.7 168.5,1431 169.5,1430.3 170.5,1429.6 171.5,1428.9 172.5,1428.1 173.5,1427.3 174.5,1426.5 175.5,1425.7 176.5,1424.9 177.5,1424 178.5,1423.2 179.5,1422.3 180.5,1421.4 181.5,1420.4 182.5,1419.5 183.5,1418.6 184.5,1417.6 185.5,1416.6 186.5,1415.6 187.5,1414.6 188.5,1413.6 189.5,1412.6 190.5,1411.6 191.5,1410.6 192.5,1409.6 193.5,1408.6 194.5,1407.6 195.5,1406.6 196.5,1405.6 197.5,1404.6 198.5,1403.6 199.5,1402.6 200.5,1401.7 201.5,1400.7 202.5,1399.8 203.5,1398.8 204.5,1397.9 205.5,1397 206.5,1396.2 207.5,1395.3 208.5,1394.5 209.5,1393.7 210.5,1392.9 211.5,1392.1 212.5,1391.4 213.5,1390.7 214.5,1390 215.5,1389.4 216.5,1388.7 217.5,1388.1 218.5,1387.6 219.5,1387 220.5,1386.5 221.5,1386 222.5,1385.6 223.5,1385.2 224.5,1384.8 225.5,1384.5 226.5,1384.2 227.5,1383.9 228.5,1383.7 229.5,1383.5 230.5,1383.3 231.5,1383.2 232.5,1383.1 233.5,1383.1 234.5,1383.1 235.5,1383.1 236.5,1383.2 237.5,1383.3 238.5,1383.5 239.5,1383.7 240.5,1384 241.5,1384.3 242.5,1384.6 243.5,1385 244.5,1385.5 245.5,1386 246.5,1386.5 247.5,1387.1 248.5,1387.7 249.5,1388.4 250.5,1389.1 251.5,1389.9 252.5,1390.8 253.5,1391.6 254.5,1392.5 255.5,1393.5 256.5,1394.5 257.5,1395.6 258.5,1396.7 259.5,1397.8 260.5,1399 261.5,1400.2 262.5,1401.4 263.5,1402.7 264.5,1404 265.5,1405.4 266.5,1406.7 267.5,1408.1 268.5,1409.5 269.5,1411 270.5,1412.4 271.5,1413.9 272.5,1415.3 273.5,1416.8 274.5,1418.3 275.5,1419.8 276.5,1421.3 277.5,1422.7 278.5,1424.2 279.5,1425.7 280.5,1427.1 281.5,1428.6 282.5,1430 283.5,1431.4 284.5,1432.8 285.5,1434.2 286.5,1435.5 287.5,1436.8 288.5,1438.1 289.5,1439.3 290.5,1440.6 291.5,1441.7 292.5,1442.9 293.5,1444 294.5,1445.1 295.5,1446.2 296.5,1447.2 297.5,1448.2 298.5,1449.1 299.5,1450 300.5,1450.9 301.5,1451.7 302.5,1452.5 303.5,1453.3 304.5,1454 305.5,1454.7 306.5,1455.3 307.5,1455.9 308.5,1456.5 309.5,1457.1 310.5,1457.6 311.5,1458.1 312.5,1458.6 313.5,1459 314.5,1459.4 315.5,1459.8 316.5,1460.2 317.5,1460.5 318.5,1460.8 319.5,1461.1 320.5,1461.4 321.5,1461.6 322.5,1461.9 323.5,1462.1 324.5,1462.3 325.5,1462.5 326.5,1462.7 327.5,1462.8 328.5,1463 329.5,1463.1 330.5,1463.3 331.5,1463.4 332.5,1463.5 333.5,1463.6 334.5,1463.7 335.5,1463.8 336.5,1463.8 337.5,1463.9 338.5,1464 339.5,1464 340.5,1464.1 341.5,1464.2 342.5,1464.2 343.5,1464.3 344.5,1464.3 345.5,1464.3 346.5,1464.4 347.5,1464.4 348.5,1464.4 349.5,1464.5 350.5,1464.5 351.5,1464.5 352.5,1464.5 353.5,1464.6 354.5,1464.6 355.5,1464.6 356.5,1464.6 357.5,1464.7 358.5,1464.7 359.5,1464.7 360.5,1464.7 361.5,1464.7 362.5,1464.8 363.5,1464.8 364.5,1464.8 365.5,1464.8 366.5,1464.8 367.5,1464.8 368.5,1464.8 369.5,1464.9 370.5,1464.9 371.5,1464.9 372.5,1464.9 373.5,1464.9 374.5,1464.9 375.5,1465 376.5,1465 377.5,1465 378.5,1465 379.5,1465 380.5,1465 381.5,1465 382.5,1465.1 383.5,1465.1 384.5,1465.1 385.5,1465.1 386.5,1465.1 387.5,1465.1 388.5,1465.2 389.5,1465.2 390.5,1465.2 391.5,1465.2 392.5,1465.2 393.5,1465.2 394.5,1465.2 395.5,1465.3 396.5,1465.3 397.5,1465.3" fill="none" stroke="#c8c8c8" stroke-width="4.3" stroke-linejoin="round"/>
<polyline points="52.5,1460.1 53.5,1460.1 54.5,1460.1 55.5,1460.1 56.5,1460.1 57.5,1460.1 58.5,1460.1 59.5,1460.1 60.5,1460.1 61.5,1460.1 62.5,1460.1 63.5,1460 64.5,1460 65.5,1460 66.5,1460 67.5,1460 68.5,1459.9 69.5,1459.9 70.5,1459.9 71.5,1459.8 72.5,1459.8 73.5,1459.7 74.5,1459.7 75.5,1459.6 76.5,1459.6 77.5,1459.5 78.5,1459.5 79.5,1459.4 80.5,1459.3 81.5,1459.2 82.5,1459.1 83.5,1459 84.5,1458.9 85.5,1458.8 86.5,1458.7 87.5,1458.6 88.5,1458.5 89.5,1458.3 90.5,1458.2 91.5,1458.1 92.5,1457.9 93.5,1457.8 94.5,1457.6 95.5,1457.4 96.5,1457.2 97.5,1457.1 98.5,1456.9 99.5,1456.7 100.5,1456.5 101.5,1456.3 102.5,1456 103.5,1455.8 104.5,1455.6 105.5,1455.4 106.5,1455.1 107.5,1454.9 108.5,1454.7 109.5,1454.4 110.5,1454.2 111.5,1453.9 112.5,1453.7 113.5,1453.4 114.5,1453.2 115.5,1452.9 116.5,1452.6 117.5,1452.4 118.5,1452.1 119.5,1451.9 120.5,1451.6 121.5,1451.4 122.5,1451.1 123.5,1450.9 124.5,1450.7 125.5,1450.5 126.5,1450.2 127.5,1450 128.5,1449.8 129.5,1449.6 130.5,1449.5 131.5,1449.3 132.5,1449.1 133.5,1449 134.5,1448.8 135.5,1448.7 136.5,1448.6 137.5,1448.5 138.5,1448.4 139.5,1448.3 140.5,1448.3 141.5,1448.2 142.5,1448.2 143.5,1448.2 144.5,1448.2 145.5,1448.2 146.5,1448.2 147.5,1448.3 148.5,1448.3 149.5,1448.4 150.5,1448.5 151.5,1448.6 152.5,1448.7 153.5,1448.9 154.5,1449 155.5,1449.1 156.5,1449.3 157.5,1449.5 158.5,1449.7 159.5,1449.9 160.5,1450.1 161.5,1450.3 162.5,1450.5 163.5,1450.8 164.5,1451 165.5,1451.3 166.5,1451.5 167.5,1451.8 168.5,1452.1 169.5,1452.4 170.5,1452.6 171.5,1452.9 172.5,1453.2 173.5,1453.5 174.5,1453.8 175.5,1454 176.5,1454.3 177.5,1454.6 178.5,1454.9 179.5,1455.2 180.5,1455.5 181.5,1455.7 182.5,1456 183.5,1456.3 184.5,1456.5 185.5,1456.8 186.5,1457 187.5,1457.3 188.5,1457.5 189.5,1457.8 190.5,1458 191.5,1458.2 192.5,1458.5 193.5,1458.7 194.5,1458.9 195.5,1459.1 196.5,1459.3 197.5,1459.5 198.5,1459.6 199.5,1459.8 200.5,1460 201.5,1460.1 202.5,1460.3 203.5,1460.4 204.5,1460.6 205.5,1460.7 206.5,1460.8 207.5,1461 208.5,1461.1 209.5,1461.2 210.5,1461.3 211.5,1461.4 212.5,1461.5 213.5,1461.6 214.5,1461.7 215.5,1461.8 216.5,1461.8 217.5,1461.9 218.5,1462 219.5,1462.1 220.5,1462.1 221.5,1462.2 222.5,1462.2 223.5,1462.3 224.5,1462.3 225.5,1462.4 226.5,1462.4 227.5,1462.5 228.5,1462.5 229.5,1462.6 230.5,1462.6 231.5,1462.6 232.5,1462.7 233.5,1462.7 234.5,1462.7 235.5,1462.8 236.5,1462.8 237.5,1462.8 238.5,1462.8 239.5,1462.9 240.5,1462.9 241.5,1462.9 242.5,1462.9 243.5,1463 244.5,1463 245.5,1463 246.5,1463 247.5,1463 248.5,1463.1 249.5,1463.1 250.5,1463.1 251.5,1463.1 252.5,1463.1 253.5,1463.1 254.5,1463.2 255.5,1463.2 256.5,1463.2 257.5,1463.2 258.5,1463.2 259.5,1463.2 260.5,1463.3 261.5,1463.3 262.5,1463.3 263.5,1463.3 264.5,1463.3 265.5,1463.3 266.5,1463.4 267.5,1463.4 268.5,1463.4 269.5,1463.4 270.5,1463.4 271.5,1463.4 272.5,1463.4 273.5,1463.5 274.5,1463.5 275.5,1463.5 276.5,1463.5 277.5,1463.5 278.5,1463.5 279.5,1463.5 280.5,1463.6 281.5,1463.6 282.5,1463.6 283.5,1463.6 284.5,1463.6 285.5,1463.6 286.5,1463.7 287.5,1463.7 288.5,1463.7 289.5,1463.7 290.5,1463.7 291.5,1463.7 292.5,1463.7 293.5,1463.8 294.5,1463.8 295.5,1463.8 296.5,1463.8 297.5,1463.8 298.5,1463.8 299.5,1463.8 300.5,1463.9 301.5,1463.9 302.5,1463.9 303.5,1463.9 304.5,1463.9 305.5,1463.9 306.5,1463.9 307.5,1464 308.5,1464 309.5,1464 310.5,1464 311.5,1464 312.5,1464 313.5,1464 314.5,1464.1 315.5,1464.1 316.5,1464.1 317.5,1464.1 318.5,1464.1 319.5,1464.1 320.5,1464.2 321.5,1464.2 322.5,1464.2 323.5,1464.2 324.5,1464.2 325.5,1464.2 326.5,1464.2 327.5,1464.3 328.5,1464.3 329.5,1464.3 330.5,1464.3 331.5,1464.3 332.5,1464.3 333.5,1464.3 334.5,1464.4 335.5,1464.4 336.5,1464.4 337.5,1464.4 338.5,1464.4 339.5,1464.4 340.5,1464.4 341.5,1464.5 342.5,1464.5 343.5,1464.5 344.5,1464.5 345.5,1464.5 346.5,1464.5 347.5,1464.5 348.5,1464.6 349.5,1464.6 350.5,1464.6 351.5,1464.6 352.5,1464.6 353.5,1464.6 354.5,1464.7 355.5,1464.7 356.5,1464.7 357.5,1464.7 358.5,1464.7 359.5,1464.7 360.5,1464.7 361.5,1464.8 362.5,1464.8 363.5,1464.8 364.5,1464.8 365.5,1464.8 366.5,1464.8 367.5,1464.8 368.5,1464.9 369.5,1464.9 370.5,1464.9 371.5,1464.9 372.5,1464.9 373.5,1464.9 374.5,1464.9 375.5,1465 376.5,1465 377.5,1465 378.5,1465 379.5,1465 380.5,1465 381.5,1465 382.5,1465.1 383.5,1465.1 384.5,1465.1 385.5,1465.1 386.5,1465.1 387.5,1465.1 388.5,1465.2 389.5,1465.2 390.5,1465.2 391.5,1465.2 392.5,1465.2 393.5,1465.2 394.5,1465.2 395.5,1465.3 396.5,1465.3 397.5,1465.3" fill="none" stroke="#d02828" stroke-width="2.6" stroke-linejoin="round"/>
<polyline points="52.5,1460.2 53.5,1460.2 54.5,1460.2 55.5,1460.3 56.5,1460.3 57.5,1460.3 58.5,1460.3 59.5,1460.3 60.5,1460.3 61.5,1460.3 62.5,1460.4 63.5,1460.4 64.5,1460.4 65.5,1460.4 66.5,1460.4 67.5,1460.4 68.5,1460.5 69.5,1460.5 70.5,1460.5 71.5,1460.5 72.5,1460.5 73.5,1460.5 74.5,1460.5 75.5,1460.5 76.5,1460.6 77.5,1460.6 78.5,1460.6 79.5,1460.6 80.5,1460.6 81.5,1460.6 82.5,1460.6 83.5,1460.7 84.5,1460.7 85.5,1460.7 86.5,1460.7 87.5,1460.7 88.5,1460.7 89.5,1460.7 90.5,1460.7 91.5,1460.8 92.5,1460.8 93.5,1460.8 94.5,1460.8 95.5,1460.8 96.5,1460.8 97.5,1460.8 98.5,1460.8 99.5,1460.8 100.5,1460.8 101.5,1460.8 102.5,1460.8 103.5,1460.8 104.5,1460.8 105.5,1460.8 106.5,1460.8 107.5,1460.8 108.5,1460.8 109.5,1460.8 110.5,1460.8 111.5,1460.7 112.5,1460.7 113.5,1460.7 114.5,1460.7 115.5,1460.6 116.5,1460.6 117.5,1460.6 118.5,1460.5 119.5,1460.5 120.5,1460.4 121.5,1460.3 122.5,1460.3 123.5,1460.2 124.5,1460.1 125.5,1460 126.5,1459.9 127.5,1459.8 128.5,1459.7 129.5,1459.6 130.5,1459.5 131.5,1459.3 132.5,1459.1 133.5,1459 134.5,1458.8 135.5,1458.6 136.5,1458.4 137.5,1458.2 138.5,1457.9 139.5,1457.7 140.5,1457.4 141.5,1457.1 142.5,1456.8 143.5,1456.5 144.5,1456.2 145.5,1455.8 146.5,1455.4 147.5,1455 148.5,1454.6 149.5,1454.1 150.5,1453.7 151.5,1453.2 152.5,1452.7 153.5,1452.1 154.5,1451.6 155.5,1451 156.5,1450.4 157.5,1449.7 158.5,1449.1 159.5,1448.4 160.5,1447.7 161.5,1446.9 162.5,1446.1 163.5,1445.4 164.5,1444.5 165.5,1443.7 166.5,1442.8 167.5,1441.9 168.5,1441 169.5,1440.1 170.5,1439.1 171.5,1438.1 172.5,1437.1 173.5,1436.1 174.5,1435.1 175.5,1434 176.5,1433 177.5,1431.9 178.5,1430.8 179.5,1429.7 180.5,1428.6 181.5,1427.5 182.5,1426.4 183.5,1425.3 184.5,1424.1 185.5,1423 186.5,1421.9 187.5,1420.8 188.5,1419.7 189.5,1418.6 190.5,1417.5 191.5,1416.5 192.5,1415.4 193.5,1414.4 194.5,1413.4 195.5,1412.5 196.5,1411.5 197.5,1410.6 198.5,1409.8 199.5,1408.9 200.5,1408.1 201.5,1407.3 202.5,1406.6 203.5,1406 204.5,1405.3 205.5,1404.7 206.5,1404.2 207.5,1403.7 208.5,1403.3 209.5,1402.9 210.5,1402.6 211.5,1402.3 212.5,1402.1 213.5,1401.9 214.5,1401.8 215.5,1401.8 216.5,1401.8 217.5,1401.9 218.5,1402 219.5,1402.2 220.5,1402.4 221.5,1402.7 222.5,1403.1 223.5,1403.5 224.5,1404 225.5,1404.5 226.5,1405 227.5,1405.7 228.5,1406.3 229.5,1407 230.5,1407.8 231.5,1408.6 232.5,1409.4 233.5,1410.3 234.5,1411.2 235.5,1412.1 236.5,1413.1 237.5,1414.1 238.5,1415.1 239.5,1416.1 240.5,1417.2 241.5,1418.3 242.5,1419.4 243.5,1420.5 244.5,1421.6 245.5,1422.8 246.5,1423.9 247.5,1425.1 248.5,1426.2 249.5,1427.4 250.5,1428.5 251.5,1429.6 252.5,1430.8 253.5,1431.9 254.5,1433 255.5,1434.1 256.5,1435.2 257.5,1436.3 258.5,1437.4 259.5,1438.4 260.5,1439.5 261.5,1440.5 262.5,1441.4 263.5,1442.4 264.5,1443.4 265.5,1444.3 266.5,1445.2 267.5,1446 268.5,1446.9 269.5,1447.7 270.5,1448.5 271.5,1449.3 272.5,1450 273.5,1450.7 274.5,1451.4 275.5,1452.1 276.5,1452.8 277.5,1453.4 278.5,1454 279.5,1454.5 280.5,1455.1 281.5,1455.6 282.5,1456.1 283.5,1456.6 284.5,1457 285.5,1457.5 286.5,1457.9 287.5,1458.3 288.5,1458.6 289.5,1459 290.5,1459.3 291.5,1459.6 292.5,1459.9 293.5,1460.2 294.5,1460.5 295.5,1460.7 296.5,1461 297.5,1461.2 298.5,1461.4 299.5,1461.6 300.5,1461.8 301.5,1462 302.5,1462.1 303.5,1462.3 304.5,1462.4 305.5,1462.6 306.5,1462.7 307.5,1462.8 308.5,1462.9 309.5,1463 310.5,1463.1 311.5,1463.2 312.5,1463.3 313.5,1463.4 314.5,1463.4 315.5,1463.5 316.5,1463.6 317.5,1463.6 318.5,1463.7 319.5,1463.8 320.5,1463.8 321.5,1463.9 322.5,1463.9 323.5,1463.9 324.5,1464 325.5,1464 326.5,1464.1 327.5,1464.1 328.5,1464.1 329.5,1464.1 330.5,1464.2 331.5,1464.2 332.5,1464.2 333.5,1464.3 334.5,1464.3 335.5,1464.3 336.5,1464.3 337.5,1464.3 338.5,1464.4 339.5,1464.4 340.5,1464.4 341.5,1464.4 342.5,1464.4 343.5,1464.5 344.5,1464.5 345.5,1464.5 346.5,1464.5 347.5,1464.5 348.5,1464.5 349.5,1464.6 350.5,1464.6 351.5,1464.6 352.5,1464.6 353.5,1464.6 354.5,1464.6 355.5,1464.7 356.5,1464.7 357.5,1464.7 358.5,1464.7 359.5,1464.7 360.5,1464.7 361.5,1464.8 362.5,1464.8 363.5,1464.8 364.5,1464.8 365.5,1464.8 366.5,1464.8 367.5,1464.8 368.5,1464.9 369.5,1464.9 370.5,1464.9 371.5,1464.9 372.5,1464.9 373.5,1464.9 374.5,1464.9 375.5,1465 376.5,1465 377.5,1465 378.5,1465 379.5,1465 380.5,1465 381.5,1465 382.5,1465.1 383.5,1465.1 384.5,1465.1 385.5,1465.1 386.5,1465.1 387.5,1465.1 388.5,1465.2 389.5,1465.2 390.5,1465.2 391.5,1465.2 392.5,1465.2 393.5,1465.2 394.5,1465.2 395.5,1465.3 396.5,1465.3 397.5,1465.3" fill="none" stroke="#58ad58" stroke-width="2.4" stroke-linejoin="round"/>
<polygon points="52.5,1460.2 53.5,1460.2 54.5,1460.2 55.5,1460.3 56.5,1460.3 57.5,1460.3 58.5,1460.3 59.5,1460.3 60.5,1460.3 61.5,1460.3 62.5,1460.4 63.5,1460.4 64.5,1460.4 65.5,1460.4 66.5,1460.4 67.5,1460.4 68.5,1460.5 69.5,1460.5 70.5,1460.5 71.5,1460.5 72.5,1460.5 73.5,1460.5 74.5,1460.5 75.5,1460.6 76.5,1460.6 77.5,1460.6 78.5,1460.6 79.5,1460.6 80.5,1460.6 81.5,1460.6 82.5,1460.7 83.5,1460.7 84.5,1460.7 85.5,1460.7 86.5,1460.7 87.5,1460.7 88.5,1460.7 89.5,1460.8 90.5,1460.8 91.5,1460.8 92.5,1460.8 93.5,1460.8 94.5,1460.8 95.5,1460.8 96.5,1460.9 97.5,1460.9 98.5,1460.9 99.5,1460.9 100.5,1460.9 101.5,1460.9 102.5,1461 103.5,1461 104.5,1461 105.5,1461 106.5,1461 107.5,1461 108.5,1461 109.5,1461.1 110.5,1461.1 111.5,1461.1 112.5,1461.1 113.5,1461.1 114.5,1461.1 115.5,1461.1 116.5,1461.2 117.5,1461.2 118.5,1461.2 119.5,1461.2 120.5,1461.2 121.5,1461.2 122.5,1461.2 123.5,1461.3 124.5,1461.3 125.5,1461.3 126.5,1461.3 127.5,1461.3 128.5,1461.3 129.5,1461.3 130.5,1461.4 131.5,1461.4 132.5,1461.4 133.5,1461.4 134.5,1461.4 135.5,1461.4 136.5,1461.4 137.5,1461.5 138.5,1461.5 139.5,1461.5 140.5,1461.5 141.5,1461.5 142.5,1461.5 143.5,1461.5 144.5,1461.6 145.5,1461.6 146.5,1461.6 147.5,1461.6 148.5,1461.6 149.5,1461.6 150.5,1461.6 151.5,1461.7 152.5,1461.7 153.5,1461.7 154.5,1461.7 155.5,1461.7 156.5,1461.7 157.5,1461.7 158.5,1461.7 159.5,1461.7 160.5,1461.8 161.5,1461.8 162.5,1461.8 163.5,1461.8 164.5,1461.8 165.5,1461.8 166.5,1461.8 167.5,1461.8 168.5,1461.8 169.5,1461.8 170.5,1461.8 171.5,1461.8 172.5,1461.7 173.5,1461.7 174.5,1461.7 175.5,1461.7 176.5,1461.7 177.5,1461.6 178.5,1461.6 179.5,1461.5 180.5,1461.5 181.5,1461.4 182.5,1461.4 183.5,1461.3 184.5,1461.2 185.5,1461.2 186.5,1461.1 187.5,1461 188.5,1460.8 189.5,1460.7 190.5,1460.6 191.5,1460.4 192.5,1460.3 193.5,1460.1 194.5,1459.9 195.5,1459.7 196.5,1459.5 197.5,1459.2 198.5,1458.9 199.5,1458.7 200.5,1458.4 201.5,1458 202.5,1457.7 203.5,1457.3 204.5,1456.9 205.5,1456.5 206.5,1456.1 207.5,1455.6 208.5,1455.1 209.5,1454.6 210.5,1454.1 211.5,1453.5 212.5,1452.9 213.5,1452.3 214.5,1451.7 215.5,1451 216.5,1450.3 217.5,1449.6 218.5,1448.9 219.5,1448.1 220.5,1447.3 221.5,1446.5 222.5,1445.7 223.5,1444.8 224.5,1444 225.5,1443.1 226.5,1442.2 227.5,1441.3 228.5,1440.4 229.5,1439.5 230.5,1438.6 231.5,1437.7 232.5,1436.8 233.5,1435.8 234.5,1434.9 235.5,1434 236.5,1433.2 237.5,1432.3 238.5,1431.5 239.5,1430.6 240.5,1429.8 241.5,1429.1 242.5,1428.3 243.5,1427.6 244.5,1426.9 245.5,1426.3 246.5,1425.7 247.5,1425.2 248.5,1424.7 249.5,1424.2 250.5,1423.8 251.5,1423.4 252.5,1423.1 253.5,1422.9 254.5,1422.7 255.5,1422.6 256.5,1422.5 257.5,1422.5 258.5,1422.5 259.5,1422.6 260.5,1422.8 261.5,1423 262.5,1423.3 263.5,1423.6 264.5,1424 265.5,1424.4 266.5,1424.9 267.5,1425.4 268.5,1426 269.5,1426.6 270.5,1427.3 271.5,1428 272.5,1428.7 273.5,1429.5 274.5,1430.3 275.5,1431.2 276.5,1432 277.5,1432.9 278.5,1433.8 279.5,1434.7 280.5,1435.6 281.5,1436.6 282.5,1437.5 283.5,1438.4 284.5,1439.4 285.5,1440.3 286.5,1441.3 287.5,1442.2 288.5,1443.1 289.5,1444.1 290.5,1445 291.5,1445.8 292.5,1446.7 293.5,1447.6 294.5,1448.4 295.5,1449.2 296.5,1450 297.5,1450.8 298.5,1451.5 299.5,1452.2 300.5,1452.9 301.5,1453.6 302.5,1454.3 303.5,1454.9 304.5,1455.5 305.5,1456 306.5,1456.6 307.5,1457.1 308.5,1457.6 309.5,1458.1 310.5,1458.5 311.5,1458.9 312.5,1459.3 313.5,1459.7 314.5,1460 315.5,1460.4 316.5,1460.7 317.5,1461 318.5,1461.2 319.5,1461.5 320.5,1461.7 321.5,1462 322.5,1462.2 323.5,1462.4 324.5,1462.5 325.5,1462.7 326.5,1462.9 327.5,1463 328.5,1463.1 329.5,1463.3 330.5,1463.4 331.5,1463.5 332.5,1463.6 333.5,1463.7 334.5,1463.8 335.5,1463.8 336.5,1463.9 337.5,1464 338.5,1464 339.5,1464.1 340.5,1464.1 341.5,1464.2 342.5,1464.2 343.5,1464.3 344.5,1464.3 345.5,1464.4 346.5,1464.4 347.5,1464.4 348.5,1464.5 349.5,1464.5 350.5,1464.5 351.5,1464.5 352.5,1464.6 353.5,1464.6 354.5,1464.6 355.5,1464.6 356.5,1464.6 357.5,1464.7 358.5,1464.7 359.5,1464.7 360.5,1464.7 361.5,1464.7 362.5,1464.8 363.5,1464.8 364.5,1464.8 365.5,1464.8 366.5,1464.8 367.5,1464.8 368.5,1464.9 369.5,1464.9 370.5,1464.9 371.5,1464.9 372.5,1464.9 373.5,1464.9 374.5,1464.9 375.5,1465 376.5,1465 377.5,1465 378.5,1465 379.5,1465 380.5,1465 381.5,1465 382.5,1465.1 383.5,1465.1 384.5,1465.1 385.5,1465.1 386.5,1465.1 387.5,1465.1 388.5,1465.2 389.5,1465.2 390.5,1465.2 391.5,1465.2 392.5,1465.2 393.5,1465.2 394.5,1465.2 395.5,1465.3 396.5,1465.3 397.5,1465.3 397.5,1465.3 396.5,1465.3 395.5,1465.3 394.5,1465.2 393.5,1465.2 392.5,1465.2 391.5,1465.2 390.5,1465.2 389.5,1465.2 388.5,1465.2 387.5,1465.1 386.5,1465.1 385.5,1465.1 384.5,1465.1 383.5,1465.1 382.5,1465.1 381.5,1465 380.5,1465 379.5,1465 378.5,1465 377.5,1465 376.5,1465 375.5,1465 374.5,1464.9 373.5,1464.9 372.5,1464.9 371.5,1464.9 370.5,1464.9 369.5,1464.9 368.5,1464.9 367.5,1464.8 366.5,1464.8 365.5,1464.8 364.5,1464.8 363.5,1464.8 362.5,1464.8 361.5,1464.8 360.5,1464.7 359.5,1464.7 358.5,1464.7 357.5,1464.7 356.5,1464.7 355.5,1464.7 354.5,1464.7 353.5,1464.6 352.5,1464.6 351.5,1464.6 350.5,1464.6 349.5,1464.6 348.5,1464.6 347.5,1464.5 346.5,1464.5 345.5,1464.5 344.5,1464.5 343.5,1464.5 342.5,1464.5 341.5,1464.5 340.5,1464.4 339.5,1464.4 338.5,1464.4 337.5,1464.4 336.5,1464.4 335.5,1464.4 334.5,1464.4 333.5,1464.3 332.5,1464.3 331.5,1464.3 330.5,1464.3 329.5,1464.3 328.5,1464.3 327.5,1464.3 326.5,1464.2 325.5,1464.2 324.5,1464.2 323.5,1464.2 322.5,1464.2 321.5,1464.2 320.5,1464.2 319.5,1464.1 318.5,1464.1 317.5,1464.1 316.5,1464.1 315.5,1464.1 314.5,1464.1 313.5,1464 312.5,1464 311.5,1464 310.5,1464 309.5,1464 308.5,1464 307.5,1464 306.5,1463.9 305.5,1463.9 304.5,1463.9 303.5,1463.9 302.5,1463.9 301.5,1463.9 300.5,1463.9 299.5,1463.8 298.5,1463.8 297.5,1463.8 296.5,1463.8 295.5,1463.8 294.5,1463.8 293.5,1463.8 292.5,1463.7 291.5,1463.7 290.5,1463.7 289.5,1463.7 288.5,1463.7 287.5,1463.7 286.5,1463.7 285.5,1463.6 284.5,1463.6 283.5,1463.6 282.5,1463.6 281.5,1463.6 280.5,1463.6 279.5,1463.6 278.5,1463.5 277.5,1463.5 276.5,1463.5 275.5,1463.5 274.5,1463.5 273.5,1463.5 272.5,1463.4 271.5,1463.4 270.5,1463.4 269.5,1463.4 268.5,1463.4 267.5,1463.4 266.5,1463.4 265.5,1463.3 264.5,1463.3 263.5,1463.3 262.5,1463.3 261.5,1463.3 260.5,1463.3 259.5,1463.3 258.5,1463.2 257.5,1463.2 256.5,1463.2 255.5,1463.2 254.5,1463.2 253.5,1463.2 252.5,1463.2 251.5,1463.1 250.5,1463.1 249.5,1463.1 248.5,1463.1 247.5,1463.1 246.5,1463.1 245.5,1463.1 244.5,1463 243.5,1463 242.5,1463 241.5,1463 240.5,1463 239.5,1463 238.5,1462.9 237.5,1462.9 236.5,1462.9 235.5,1462.9 234.5,1462.9 233.5,1462.9 232.5,1462.9 231.5,1462.8 230.5,1462.8 229.5,1462.8 228.5,1462.8 227.5,1462.8 226.5,1462.8 225.5,1462.8 224.5,1462.7 223.5,1462.7 222.5,1462.7 221.5,1462.7 220.5,1462.7 219.5,1462.7 218.5,1462.7 217.5,1462.6 216.5,1462.6 215.5,1462.6 214.5,1462.6 213.5,1462.6 212.5,1462.6 211.5,1462.6 210.5,1462.5 209.5,1462.5 208.5,1462.5 207.5,1462.5 206.5,1462.5 205.5,1462.5 204.5,1462.4 203.5,1462.4 202.5,1462.4 201.5,1462.4 200.5,1462.4 199.5,1462.4 198.5,1462.4 197.5,1462.3 196.5,1462.3 195.5,1462.3 194.5,1462.3 193.5,1462.3 192.5,1462.3 191.5,1462.3 190.5,1462.2 189.5,1462.2 188.5,1462.2 187.5,1462.2 186.5,1462.2 185.5,1462.2 184.5,1462.2 183.5,1462.1 182.5,1462.1 181.5,1462.1 180.5,1462.1 179.5,1462.1 178.5,1462.1 177.5,1462.1 176.5,1462 175.5,1462 174.5,1462 173.5,1462 172.5,1462 171.5,1462 170.5,1461.9 169.5,1461.9 168.5,1461.9 167.5,1461.9 166.5,1461.9 165.5,1461.9 164.5,1461.9 163.5,1461.8 162.5,1461.8 161.5,1461.8 160.5,1461.8 159.5,1461.8 158.5,1461.8 157.5,1461.8 156.5,1461.7 155.5,1461.7 154.5,1461.7 153.5,1461.7 152.5,1461.7 151.5,1461.7 150.5,1461.7 149.5,1461.6 148.5,1461.6 147.5,1461.6 146.5,1461.6 145.5,1461.6 144.5,1461.6 143.5,1461.6 142.5,1461.5 141.5,1461.5 140.5,1461.5 139.5,1461.5 138.5,1461.5 137.5,1461.5 136.5,1461.5 135.5,1461.4 134.5,1461.4 133.5,1461.4 132.5,1461.4 131.5,1461.4 130.5,1461.4 129.5,1461.3 128.5,1461.3 127.5,1461.3 126.5,1461.3 125.5,1461.3 124.5,1461.3 123.5,1461.3 122.5,1461.2 121.5,1461.2 120.5,1461.2 119.5,1461.2 118.5,1461.2 117.5,1461.2 116.5,1461.2 115.5,1461.1 114.5,1461.1 113.5,1461.1 112.5,1461.1 111.5,1461.1 110.5,1461.1 109.5,1461.1 108.5,1461 107.5,1461 106.5,1461 105.5,1461 104.5,1461 103.5,1461 102.5,1461 101.5,1460.9 100.5,1460.9 99.5,1460.9 98.5,1460.9 97.5,1460.9 96.5,1460.9 95.5,1460.8 94.5,1460.8 93.5,1460.8 92.5,1460.8 91.5,1460.8 90.5,1460.8 89.5,1460.8 88.5,1460.7 87.5,1460.7 86.5,1460.7 85.5,1460.7 84.5,1460.7 83.5,1460.7 82.5,1460.7 81.5,1460.6 80.5,1460.6 79.5,1460.6 78.5,1460.6 77.5,1460.6 76.5,1460.6 75.5,1460.6 74.5,1460.5 73.5,1460.5 72.5,1460.5 71.5,1460.5 70.5,1460.5 69.5,1460.5 68.5,1460.5 67.5,1460.4 66.5,1460.4 65.5,1460.4 64.5,1460.4 63.5,1460.4 62.5,1460.4 61.5,1460.3 60.5,1460.3 59.5,1460.3 58.5,1460.3 57.5,1460.3 56.5,1460.3 55.5,1460.3 54.5,1460.2 53.5,1460.2 52.5,1460.2" fill="#3458e6" stroke="none" fill-opacity="0.38"/>
<polyline points="52.5,1460.2 53.5,1460.2 54.5,1460.2 55.5,1460.3 56.5,1460.3 57.5,1460.3 58.5,1460.3 59.5,1460.3 60.5,1460.3 61.5,1460.3 62.5,1460.4 63.5,1460.4 64.5,1460.4 65.5,1460.4 66.5,1460.4 67.5,1460.4 68.5,1460.5 69.5,1460.5 70.5,1460.5 71.5,1460.5 72.5,1460.5 73.5,1460.5 74.5,1460.5 75.5,1460.6 76.5,1460.6 77.5,1460.6 78.5,1460.6 79.5,1460.6 80.5,1460.6 81.5,1460.6 82.5,1460.7 83.5,1460.7 84.5,1460.7 85.5,1460.7 86.5,1460.7 87.5,1460.7 88.5,1460.7 89.5,1460.8 90.5,1460.8 91.5,1460.8 92.5,1460.8 93.5,1460.8 94.5,1460.8 95.5,1460.8 96.5,1460.9 97.5,1460.9 98.5,1460.9 99.5,1460.9 100.5,1460.9 101.5,1460.9 102.5,1461 103.5,1461 104.5,1461 105.5,1461 106.5,1461 107.5,1461 108.5,1461 109.5,1461.1 110.5,1461.1 111.5,1461.1 112.5,1461.1 113.5,1461.1 114.5,1461.1 115.5,1461.1 116.5,1461.2 117.5,1461.2 118.5,1461.2 119.5,1461.2 120.5,1461.2 121.5,1461.2 122.5,1461.2 123.5,1461.3 124.5,1461.3 125.5,1461.3 126.5,1461.3 127.5,1461.3 128.5,1461.3 129.5,1461.3 130.5,1461.4 131.5,1461.4 132.5,1461.4 133.5,1461.4 134.5,1461.4 135.5,1461.4 136.5,1461.4 137.5,1461.5 138.5,1461.5 139.5,1461.5 140.5,1461.5 141.5,1461.5 142.5,1461.5 143.5,1461.5 144.5,1461.6 145.5,1461.6 146.5,1461.6 147.5,1461.6 148.5,1461.6 149.5,1461.6 150.5,1461.6 151.5,1461.7 152.5,1461.7 153.5,1461.7 154.5,1461.7 155.5,1461.7 156.5,1461.7 157.5,1461.7 158.5,1461.7 159.5,1461.7 160.5,1461.8 161.5,1461.8 162.5,1461.8 163.5,1461.8 164.5,1461.8 165.5,1461.8 166.5,1461.8 167.5,1461.8 168.5,1461.8 169.5,1461.8 170.5,1461.8 171.5,1461.8 172.5,1461.7 173.5,1461.7 174.5,1461.7 175.5,1461.7 176.5,1461.7 177.5,1461.6 178.5,1461.6 179.5,1461.5 180.5,1461.5 181.5,1461.4 182.5,1461.4 183.5,1461.3 184.5,1461.2 185.5,1461.2 186.5,1461.1 187.5,1461 188.5,1460.8 189.5,1460.7 190.5,1460.6 191.5,1460.4 192.5,1460.3 193.5,1460.1 194.5,1459.9 195.5,1459.7 196.5,1459.5 197.5,1459.2 198.5,1458.9 199.5,1458.7 200.5,1458.4 201.5,1458 202.5,1457.7 203.5,1457.3 204.5,1456.9 205.5,1456.5 206.5,1456.1 207.5,1455.6 208.5,1455.1 209.5,1454.6 210.5,1454.1 211.5,1453.5 212.5,1452.9 213.5,1452.3 214.5,1451.7 215.5,1451 216.5,1450.3 217.5,1449.6 218.5,1448.9 219.5,1448.1 220.5,1447.3 221.5,1446.5 222.5,1445.7 223.5,1444.8 224.5,1444 225.5,1443.1 226.5,1442.2 227.5,1441.3 228.5,1440.4 229.5,1439.5 230.5,1438.6 231.5,1437.7 232.5,1436.8 233.5,1435.8 234.5,1434.9 235.5,1434 236.5,1433.2 237.5,1432.3 238.5,1431.5 239.5,1430.6 240.5,1429.8 241.5,1429.1 242.5,1428.3 243.5,1427.6 244.5,1426.9 245.5,1426.3 246.5,1425.7 247.5,1425.2 248.5,1424.7 249.5,1424.2 250.5,1423.8 251.5,1423.4 252.5,1423.1 253.5,1422.9 254.5,1422.7 255.5,1422.6 256.5,1422.5 257.5,1422.5 258.5,1422.5 259.5,1422.6 260.5,1422.8 261.5,1423 262.5,1423.3 263.5,1423.6 264.5,1424 265.5,1424.4 266.5,1424.9 267.5,1425.4 268.5,1426 269.5,1426.6 270.5,1427.3 271.5,1428 272.5,1428.7 273.5,1429.5 274.5,1430.3 275.5,1431.2 276.5,1432 277.5,1432.9 278.5,1433.8 279.5,1434.7 280.5,1435.6 281.5,1436.6 282.5,1437.5 283.5,1438.4 284.5,1439.4 285.5,1440.3 286.5,1441.3 287.5,1442.2 288.5,1443.1 289.5,1444.1 290.5,1445 291.5,1445.8 292.5,1446.7 293.5,1447.6 294.5,1448.4 295.5,1449.2 296.5,1450 297.5,1450.8 298.5,1451.5 299.5,1452.2 300.5,1452.9 301.5,1453.6 302.5,1454.3 303.5,1454.9 304.5,1455.5 305.5,1456 306.5,1456.6 307.5,1457.1 308.5,1457.6 309.5,1458.1 310.5,1458.5 311.5,1458.9 312.5,1459.3 313.5,1459.7 314.5,1460 315.5,1460.4 316.5,1460.7 317.5,1461 318.5,1461.2 319.5,1461.5 320.5,1461.7 321.5,1462 322.5,1462.2 323.5,1462.4 324.5,1462.5 325.5,1462.7 326.5,1462.9 327.5,1463 328.5,1463.1 329.5,1463.3 330.5,1463.4 331.5,1463.5 332.5,1463.6 333.5,1463.7 334.5,1463.8 335.5,1463.8 336.5,1463.9 337.5,1464 338.5,1464 339.5,1464.1 340.5,1464.1 341.5,1464.2 342.5,1464.2 343.5,1464.3 344.5,1464.3 345.5,1464.4 346.5,1464.4 347.5,1464.4 348.5,1464.5 349.5,1464.5 350.5,1464.5 351.5,1464.5 352.5,1464.6 353.5,1464.6 354.5,1464.6 355.5,1464.6 356.5,1464.6 357.5,1464.7 358.5,1464.7 359.5,1464.7 360.5,1464.7 361.5,1464.7 362.5,1464.8 363.5,1464.8 364.5,1464.8 365.5,1464.8 366.5,1464.8 367.5,1464.8 368.5,1464.9 369.5,1464.9 370.5,1464.9 371.5,1464.9 372.5,1464.9 373.5,1464.9 374.5,1464.9 375.5,1465 376.5,1465 377.5,1465 378.5,1465 379.5,1465 380.5,1465 381.5,1465 382.5,1465.1 383.5,1465.1 384.5,1465.1 385.5,1465.1 386.5,1465.1 387.5,1465.1 388.5,1465.2 389.5,1465.2 390.5,1465.2 391.5,1465.2 392.5,1465.2 393.5,1465.2 394.5,1465.2 395.5,1465.3 396.5,1465.3 397.5,1465.3" fill="none" stroke="#3458e6" stroke-width="2.7" stroke-linejoin="round"/>
<path d="M53 1461.2h0M56.5 1459.4h0M60 1460.3h0M63.5 1459.8h0M67 1459.5h0M70.5 1459.9h0M74 1460.4h0M77.5 1458.5h0M81 1459.3h0M84.5 1458.8h0M88 1457.4h0M91.5 1458.7h0M95 1458.3h0M98.5 1455.9h0M102 1456.8h0M105.5 1454.9h0M109 1453.9h0M112.5 1453.9h0M116 1452.1h0M119.5 1451h0M123 1450.6h0M126.5 1449.3h0M130 1448h0M133.5 1445.4h0M137 1444.1h0M140.5 1444.6h0M144 1442.1h0M147.5 1441.5h0M151 1439.4h0M154.5 1438.4h0M158 1436.1h0M161.5 1436h0M165 1432.4h0M168.5 1430.7h0M172 1428.1h0M175.5 1426.2h0M179 1421.6h0M182.5 1419.2h0M186 1415.7h0M189.5 1412.7h0M193 1409.1h0M196.5 1405h0M200 1402h0M203.5 1398.3h0M207 1395.7h0M210.5 1392.5h0M214 1389.7h0M217.5 1387.8h0M221 1386.2h0M224.5 1385.9h0M228 1383.2h0M231.5 1383.1h0M235 1383.7h0M238.5 1381.9h0M242 1383.1h0M245.5 1384.9h0M249 1387.7h0M252.5 1391.9h0M256 1394h0M259.5 1398.2h0M263 1401.6h0M266.5 1404.9h0M270 1410h0M273.5 1417.1h0M277 1421.8h0M280.5 1426.1h0M284 1432.5h0M287.5 1435.6h0M291 1441.5h0M294.5 1445.7h0M298 1447.9h0M301.5 1450.7h0M305 1454.5h0M308.5 1455.6h0M312 1458.6h0M315.5 1458.8h0M319 1461.2h0M322.5 1461.6h0M326 1462h0M329.5 1462.3h0M333 1463.4h0M336.5 1462.4h0M340 1463.6h0M343.5 1463.7h0M347 1464.5h0M350.5 1463.4h0M354 1465.3h0M357.5 1464.2h0M361 1463.7h0M364.5 1465.3h0M368 1465.5h0M371.5 1464.5h0M375 1464.1h0M378.5 1464.7h0M382 1464.3h0M385.5 1464.6h0M389 1465.8h0M392.5 1465.1h0M396 1465h0" stroke="#000" stroke-width="2.2" stroke-linecap="round" fill="none"/>
<line x1="51.3" y1="1461" x2="398.7" y2="1466.1" stroke="#000" stroke-width="3.2"/>
<text x="355.6" y="1455.5" font-size="25">Na</text>
<polyline points="52.5,1561.2 53.5,1561.2 54.5,1561.2 55.5,1561.2 56.5,1561.2 57.5,1561.2 58.5,1561.2 59.5,1561.2 60.5,1561.2 61.5,1561.2 62.5,1561.1 63.5,1561.1 64.5,1561.1 65.5,1561.1 66.5,1561.1 67.5,1561.1 68.5,1561.1 69.5,1561.1 70.5,1561.1 71.5,1561.1 72.5,1561 73.5,1561 74.5,1561 75.5,1561 76.5,1560.9 77.5,1560.9 78.5,1560.9 79.5,1560.9 80.5,1560.8 81.5,1560.8 82.5,1560.8 83.5,1560.7 84.5,1560.7 85.5,1560.6 86.5,1560.6 87.5,1560.5 88.5,1560.5 89.5,1560.4 90.5,1560.3 91.5,1560.3 92.5,1560.2 93.5,1560.1 94.5,1560.1 95.5,1560 96.5,1559.9 97.5,1559.8 98.5,1559.7 99.5,1559.6 100.5,1559.5 101.5,1559.4 102.5,1559.3 103.5,1559.2 104.5,1559.1 105.5,1559 106.5,1558.9 107.5,1558.8 108.5,1558.6 109.5,1558.5 110.5,1558.4 111.5,1558.3 112.5,1558.1 113.5,1558 114.5,1557.8 115.5,1557.7 116.5,1557.5 117.5,1557.4 118.5,1557.2 119.5,1557.1 120.5,1556.9 121.5,1556.8 122.5,1556.6 123.5,1556.5 124.5,1556.3 125.5,1556.1 126.5,1556 127.5,1555.8 128.5,1555.6 129.5,1555.4 130.5,1555.3 131.5,1555.1 132.5,1554.9 133.5,1554.7 134.5,1554.5 135.5,1554.3 136.5,1554.1 137.5,1553.9 138.5,1553.7 139.5,1553.5 140.5,1553.3 141.5,1553.1 142.5,1552.8 143.5,1552.6 144.5,1552.4 145.5,1552.1 146.5,1551.9 147.5,1551.6 148.5,1551.4 149.5,1551.1 150.5,1550.8 151.5,1550.5 152.5,1550.2 153.5,1549.9 154.5,1549.6 155.5,1549.3 156.5,1548.9 157.5,1548.6 158.5,1548.2 159.5,1547.8 160.5,1547.4 161.5,1547 162.5,1546.6 163.5,1546.2 164.5,1545.7 165.5,1545.3 166.5,1544.8 167.5,1544.3 168.5,1543.8 169.5,1543.3 170.5,1542.7 171.5,1542.2 172.5,1541.6 173.5,1541 174.5,1540.5 175.5,1539.8 176.5,1539.2 177.5,1538.6 178.5,1537.9 179.5,1537.3 180.5,1536.6 181.5,1535.9 182.5,1535.2 183.5,1534.5 184.5,1533.8 185.5,1533.1 186.5,1532.3 187.5,1531.6 188.5,1530.8 189.5,1530 190.5,1529.3 191.5,1528.5 192.5,1527.7 193.5,1526.9 194.5,1526.1 195.5,1525.3 196.5,1524.4 197.5,1523.6 198.5,1522.8 199.5,1522 200.5,1521.1 201.5,1520.3 202.5,1519.4 203.5,1518.6 204.5,1517.7 205.5,1516.9 206.5,1516 207.5,1515.2 208.5,1514.3 209.5,1513.4 210.5,1512.6 211.5,1511.7 212.5,1510.8 213.5,1510 214.5,1509.1 215.5,1508.2 216.5,1507.4 217.5,1506.5 218.5,1505.6 219.5,1504.8 220.5,1503.9 221.5,1503.1 222.5,1502.2 223.5,1501.4 224.5,1500.5 225.5,1499.7 226.5,1498.9 227.5,1498.1 228.5,1497.3 229.5,1496.6 230.5,1495.8 231.5,1495.1 232.5,1494.4 233.5,1493.7 234.5,1493.1 235.5,1492.4 236.5,1491.8 237.5,1491.3 238.5,1490.8 239.5,1490.3 240.5,1489.9 241.5,1489.5 242.5,1489.1 243.5,1488.9 244.5,1488.6 245.5,1488.4 246.5,1488.3 247.5,1488.2 248.5,1488.2 249.5,1488.3 250.5,1488.4 251.5,1488.6 252.5,1488.8 253.5,1489.2 254.5,1489.5 255.5,1490 256.5,1490.5 257.5,1491.1 258.5,1491.8 259.5,1492.5 260.5,1493.3 261.5,1494.1 262.5,1495 263.5,1496 264.5,1497 265.5,1498.1 266.5,1499.3 267.5,1500.5 268.5,1501.7 269.5,1503 270.5,1504.3 271.5,1505.7 272.5,1507.1 273.5,1508.5 274.5,1510 275.5,1511.5 276.5,1513 277.5,1514.5 278.5,1516.1 279.5,1517.6 280.5,1519.2 281.5,1520.7 282.5,1522.3 283.5,1523.8 284.5,1525.3 285.5,1526.9 286.5,1528.4 287.5,1529.9 288.5,1531.3 289.5,1532.8 290.5,1534.2 291.5,1535.6 292.5,1536.9 293.5,1538.2 294.5,1539.5 295.5,1540.8 296.5,1542 297.5,1543.2 298.5,1544.3 299.5,1545.4 300.5,1546.4 301.5,1547.5 302.5,1548.4 303.5,1549.4 304.5,1550.3 305.5,1551.1 306.5,1551.9 307.5,1552.7 308.5,1553.4 309.5,1554.1 310.5,1554.8 311.5,1555.4 312.5,1556 313.5,1556.5 314.5,1557 315.5,1557.5 316.5,1558 317.5,1558.4 318.5,1558.8 319.5,1559.2 320.5,1559.5 321.5,1559.9 322.5,1560.2 323.5,1560.4 324.5,1560.7 325.5,1560.9 326.5,1561.2 327.5,1561.4 328.5,1561.6 329.5,1561.7 330.5,1561.9 331.5,1562 332.5,1562.2 333.5,1562.3 334.5,1562.4 335.5,1562.5 336.5,1562.6 337.5,1562.7 338.5,1562.8 339.5,1562.8 340.5,1562.9 341.5,1563 342.5,1563 343.5,1563.1 344.5,1563.1 345.5,1563.1 346.5,1563.2 347.5,1563.2 348.5,1563.3 349.5,1563.3 350.5,1563.3 351.5,1563.3 352.5,1563.4 353.5,1563.4 354.5,1563.4 355.5,1563.4 356.5,1563.4 357.5,1563.4 358.5,1563.5 359.5,1563.5 360.5,1563.5 361.5,1563.5 362.5,1563.5 363.5,1563.5 364.5,1563.5 365.5,1563.5 366.5,1563.5 367.5,1563.6 368.5,1563.6 369.5,1563.6 370.5,1563.6 371.5,1563.6 372.5,1563.6 373.5,1563.6 374.5,1563.6 375.5,1563.6 376.5,1563.6 377.5,1563.6 378.5,1563.6 379.5,1563.7 380.5,1563.7 381.5,1563.7 382.5,1563.7 383.5,1563.7 384.5,1563.7 385.5,1563.7 386.5,1563.7 387.5,1563.7 388.5,1563.7 389.5,1563.7 390.5,1563.7 391.5,1563.7 392.5,1563.8 393.5,1563.8 394.5,1563.8 395.5,1563.8 396.5,1563.8 397.5,1563.8" fill="none" stroke="#c8c8c8" stroke-width="4.3" stroke-linejoin="round"/>
<polyline points="52.5,1561.2 53.5,1561.2 54.5,1561.2 55.5,1561.2 56.5,1561.2 57.5,1561.2 58.5,1561.2 59.5,1561.2 60.5,1561.2 61.5,1561.2 62.5,1561.1 63.5,1561.1 64.5,1561.1 65.5,1561.1 66.5,1561.1 67.5,1561.1 68.5,1561.1 69.5,1561.1 70.5,1561.1 71.5,1561.1 72.5,1561 73.5,1561 74.5,1561 75.5,1561 76.5,1561 77.5,1560.9 78.5,1560.9 79.5,1560.9 80.5,1560.8 81.5,1560.8 82.5,1560.8 83.5,1560.7 84.5,1560.7 85.5,1560.6 86.5,1560.6 87.5,1560.5 88.5,1560.5 89.5,1560.4 90.5,1560.4 91.5,1560.3 92.5,1560.2 93.5,1560.2 94.5,1560.1 95.5,1560 96.5,1559.9 97.5,1559.9 98.5,1559.8 99.5,1559.7 100.5,1559.6 101.5,1559.5 102.5,1559.4 103.5,1559.3 104.5,1559.2 105.5,1559.1 106.5,1559 107.5,1558.9 108.5,1558.8 109.5,1558.7 110.5,1558.6 111.5,1558.5 112.5,1558.4 113.5,1558.3 114.5,1558.2 115.5,1558 116.5,1557.9 117.5,1557.8 118.5,1557.7 119.5,1557.6 120.5,1557.5 121.5,1557.4 122.5,1557.3 123.5,1557.2 124.5,1557.1 125.5,1557 126.5,1556.9 127.5,1556.8 128.5,1556.7 129.5,1556.6 130.5,1556.5 131.5,1556.5 132.5,1556.4 133.5,1556.3 134.5,1556.3 135.5,1556.2 136.5,1556.2 137.5,1556.1 138.5,1556.1 139.5,1556.1 140.5,1556 141.5,1556 142.5,1556 143.5,1556 144.5,1556 145.5,1556 146.5,1556 147.5,1556 148.5,1556.1 149.5,1556.1 150.5,1556.1 151.5,1556.2 152.5,1556.2 153.5,1556.3 154.5,1556.4 155.5,1556.4 156.5,1556.5 157.5,1556.6 158.5,1556.7 159.5,1556.8 160.5,1556.9 161.5,1557 162.5,1557.1 163.5,1557.2 164.5,1557.3 165.5,1557.4 166.5,1557.5 167.5,1557.6 168.5,1557.7 169.5,1557.9 170.5,1558 171.5,1558.1 172.5,1558.2 173.5,1558.4 174.5,1558.5 175.5,1558.6 176.5,1558.7 177.5,1558.9 178.5,1559 179.5,1559.1 180.5,1559.2 181.5,1559.4 182.5,1559.5 183.5,1559.6 184.5,1559.7 185.5,1559.8 186.5,1559.9 187.5,1560.1 188.5,1560.2 189.5,1560.3 190.5,1560.4 191.5,1560.5 192.5,1560.6 193.5,1560.7 194.5,1560.8 195.5,1560.8 196.5,1560.9 197.5,1561 198.5,1561.1 199.5,1561.2 200.5,1561.3 201.5,1561.3 202.5,1561.4 203.5,1561.5 204.5,1561.5 205.5,1561.6 206.5,1561.6 207.5,1561.7 208.5,1561.7 209.5,1561.8 210.5,1561.8 211.5,1561.9 212.5,1561.9 213.5,1562 214.5,1562 215.5,1562.1 216.5,1562.1 217.5,1562.1 218.5,1562.2 219.5,1562.2 220.5,1562.2 221.5,1562.2 222.5,1562.3 223.5,1562.3 224.5,1562.3 225.5,1562.3 226.5,1562.4 227.5,1562.4 228.5,1562.4 229.5,1562.4 230.5,1562.4 231.5,1562.5 232.5,1562.5 233.5,1562.5 234.5,1562.5 235.5,1562.5 236.5,1562.5 237.5,1562.5 238.5,1562.6 239.5,1562.6 240.5,1562.6 241.5,1562.6 242.5,1562.6 243.5,1562.6 244.5,1562.6 245.5,1562.6 246.5,1562.6 247.5,1562.7 248.5,1562.7 249.5,1562.7 250.5,1562.7 251.5,1562.7 252.5,1562.7 253.5,1562.7 254.5,1562.7 255.5,1562.7 256.5,1562.7 257.5,1562.7 258.5,1562.7 259.5,1562.8 260.5,1562.8 261.5,1562.8 262.5,1562.8 263.5,1562.8 264.5,1562.8 265.5,1562.8 266.5,1562.8 267.5,1562.8 268.5,1562.8 269.5,1562.8 270.5,1562.8 271.5,1562.8 272.5,1562.9 273.5,1562.9 274.5,1562.9 275.5,1562.9 276.5,1562.9 277.5,1562.9 278.5,1562.9 279.5,1562.9 280.5,1562.9 281.5,1562.9 282.5,1562.9 283.5,1562.9 284.5,1562.9 285.5,1563 286.5,1563 287.5,1563 288.5,1563 289.5,1563 290.5,1563 291.5,1563 292.5,1563 293.5,1563 294.5,1563 295.5,1563 296.5,1563 297.5,1563 298.5,1563.1 299.5,1563.1 300.5,1563.1 301.5,1563.1 302.5,1563.1 303.5,1563.1 304.5,1563.1 305.5,1563.1 306.5,1563.1 307.5,1563.1 308.5,1563.1 309.5,1563.1 310.5,1563.1 311.5,1563.1 312.5,1563.2 313.5,1563.2 314.5,1563.2 315.5,1563.2 316.5,1563.2 317.5,1563.2 318.5,1563.2 319.5,1563.2 320.5,1563.2 321.5,1563.2 322.5,1563.2 323.5,1563.2 324.5,1563.2 325.5,1563.3 326.5,1563.3 327.5,1563.3 328.5,1563.3 329.5,1563.3 330.5,1563.3 331.5,1563.3 332.5,1563.3 333.5,1563.3 334.5,1563.3 335.5,1563.3 336.5,1563.3 337.5,1563.3 338.5,1563.3 339.5,1563.4 340.5,1563.4 341.5,1563.4 342.5,1563.4 343.5,1563.4 344.5,1563.4 345.5,1563.4 346.5,1563.4 347.5,1563.4 348.5,1563.4 349.5,1563.4 350.5,1563.4 351.5,1563.4 352.5,1563.5 353.5,1563.5 354.5,1563.5 355.5,1563.5 356.5,1563.5 357.5,1563.5 358.5,1563.5 359.5,1563.5 360.5,1563.5 361.5,1563.5 362.5,1563.5 363.5,1563.5 364.5,1563.5 365.5,1563.6 366.5,1563.6 367.5,1563.6 368.5,1563.6 369.5,1563.6 370.5,1563.6 371.5,1563.6 372.5,1563.6 373.5,1563.6 374.5,1563.6 375.5,1563.6 376.5,1563.6 377.5,1563.6 378.5,1563.6 379.5,1563.7 380.5,1563.7 381.5,1563.7 382.5,1563.7 383.5,1563.7 384.5,1563.7 385.5,1563.7 386.5,1563.7 387.5,1563.7 388.5,1563.7 389.5,1563.7 390.5,1563.7 391.5,1563.7 392.5,1563.8 393.5,1563.8 394.5,1563.8 395.5,1563.8 396.5,1563.8 397.5,1563.8" fill="none" stroke="#d02828" stroke-width="2.6" stroke-linejoin="round"/>
<polyline points="52.5,1561.2 53.5,1561.2 54.5,1561.2 55.5,1561.2 56.5,1561.2 57.5,1561.2 58.5,1561.3 59.5,1561.3 60.5,1561.3 61.5,1561.3 62.5,1561.3 63.5,1561.3 64.5,1561.3 65.5,1561.3 66.5,1561.3 67.5,1561.3 68.5,1561.3 69.5,1561.3 70.5,1561.3 71.5,1561.3 72.5,1561.4 73.5,1561.4 74.5,1561.4 75.5,1561.4 76.5,1561.4 77.5,1561.4 78.5,1561.4 79.5,1561.4 80.5,1561.4 81.5,1561.4 82.5,1561.4 83.5,1561.4 84.5,1561.4 85.5,1561.4 86.5,1561.4 87.5,1561.5 88.5,1561.5 89.5,1561.5 90.5,1561.5 91.5,1561.5 92.5,1561.5 93.5,1561.5 94.5,1561.5 95.5,1561.5 96.5,1561.5 97.5,1561.5 98.5,1561.5 99.5,1561.5 100.5,1561.5 101.5,1561.5 102.5,1561.5 103.5,1561.5 104.5,1561.5 105.5,1561.5 106.5,1561.5 107.5,1561.5 108.5,1561.5 109.5,1561.4 110.5,1561.4 111.5,1561.4 112.5,1561.4 113.5,1561.4 114.5,1561.4 115.5,1561.3 116.5,1561.3 117.5,1561.3 118.5,1561.2 119.5,1561.2 120.5,1561.2 121.5,1561.1 122.5,1561.1 123.5,1561 124.5,1561 125.5,1560.9 126.5,1560.8 127.5,1560.8 128.5,1560.7 129.5,1560.6 130.5,1560.5 131.5,1560.4 132.5,1560.3 133.5,1560.2 134.5,1560.1 135.5,1559.9 136.5,1559.8 137.5,1559.6 138.5,1559.5 139.5,1559.3 140.5,1559.1 141.5,1558.9 142.5,1558.7 143.5,1558.5 144.5,1558.3 145.5,1558 146.5,1557.8 147.5,1557.5 148.5,1557.2 149.5,1556.9 150.5,1556.6 151.5,1556.3 152.5,1556 153.5,1555.6 154.5,1555.2 155.5,1554.8 156.5,1554.4 157.5,1554 158.5,1553.6 159.5,1553.1 160.5,1552.6 161.5,1552.2 162.5,1551.7 163.5,1551.1 164.5,1550.6 165.5,1550.1 166.5,1549.5 167.5,1548.9 168.5,1548.3 169.5,1547.7 170.5,1547.1 171.5,1546.4 172.5,1545.8 173.5,1545.1 174.5,1544.5 175.5,1543.8 176.5,1543.1 177.5,1542.4 178.5,1541.7 179.5,1541 180.5,1540.3 181.5,1539.6 182.5,1538.8 183.5,1538.1 184.5,1537.4 185.5,1536.7 186.5,1536 187.5,1535.3 188.5,1534.6 189.5,1533.9 190.5,1533.2 191.5,1532.6 192.5,1531.9 193.5,1531.3 194.5,1530.6 195.5,1530 196.5,1529.4 197.5,1528.9 198.5,1528.3 199.5,1527.8 200.5,1527.3 201.5,1526.8 202.5,1526.4 203.5,1526 204.5,1525.6 205.5,1525.3 206.5,1524.9 207.5,1524.6 208.5,1524.4 209.5,1524.2 210.5,1524 211.5,1523.8 212.5,1523.7 213.5,1523.6 214.5,1523.6 215.5,1523.6 216.5,1523.6 217.5,1523.7 218.5,1523.8 219.5,1524 220.5,1524.1 221.5,1524.3 222.5,1524.6 223.5,1524.9 224.5,1525.2 225.5,1525.5 226.5,1525.9 227.5,1526.3 228.5,1526.8 229.5,1527.2 230.5,1527.7 231.5,1528.3 232.5,1528.8 233.5,1529.4 234.5,1530 235.5,1530.6 236.5,1531.2 237.5,1531.8 238.5,1532.5 239.5,1533.2 240.5,1533.9 241.5,1534.6 242.5,1535.3 243.5,1536 244.5,1536.7 245.5,1537.4 246.5,1538.2 247.5,1538.9 248.5,1539.6 249.5,1540.4 250.5,1541.1 251.5,1541.8 252.5,1542.5 253.5,1543.3 254.5,1544 255.5,1544.7 256.5,1545.4 257.5,1546 258.5,1546.7 259.5,1547.4 260.5,1548 261.5,1548.6 262.5,1549.3 263.5,1549.9 264.5,1550.5 265.5,1551 266.5,1551.6 267.5,1552.1 268.5,1552.7 269.5,1553.2 270.5,1553.7 271.5,1554.1 272.5,1554.6 273.5,1555.1 274.5,1555.5 275.5,1555.9 276.5,1556.3 277.5,1556.7 278.5,1557 279.5,1557.4 280.5,1557.7 281.5,1558 282.5,1558.4 283.5,1558.6 284.5,1558.9 285.5,1559.2 286.5,1559.4 287.5,1559.7 288.5,1559.9 289.5,1560.1 290.5,1560.3 291.5,1560.5 292.5,1560.7 293.5,1560.9 294.5,1561 295.5,1561.2 296.5,1561.3 297.5,1561.5 298.5,1561.6 299.5,1561.7 300.5,1561.8 301.5,1561.9 302.5,1562 303.5,1562.1 304.5,1562.2 305.5,1562.3 306.5,1562.4 307.5,1562.4 308.5,1562.5 309.5,1562.6 310.5,1562.6 311.5,1562.7 312.5,1562.7 313.5,1562.8 314.5,1562.8 315.5,1562.8 316.5,1562.9 317.5,1562.9 318.5,1562.9 319.5,1563 320.5,1563 321.5,1563 322.5,1563.1 323.5,1563.1 324.5,1563.1 325.5,1563.1 326.5,1563.1 327.5,1563.2 328.5,1563.2 329.5,1563.2 330.5,1563.2 331.5,1563.2 332.5,1563.2 333.5,1563.3 334.5,1563.3 335.5,1563.3 336.5,1563.3 337.5,1563.3 338.5,1563.3 339.5,1563.3 340.5,1563.3 341.5,1563.4 342.5,1563.4 343.5,1563.4 344.5,1563.4 345.5,1563.4 346.5,1563.4 347.5,1563.4 348.5,1563.4 349.5,1563.4 350.5,1563.4 351.5,1563.4 352.5,1563.4 353.5,1563.5 354.5,1563.5 355.5,1563.5 356.5,1563.5 357.5,1563.5 358.5,1563.5 359.5,1563.5 360.5,1563.5 361.5,1563.5 362.5,1563.5 363.5,1563.5 364.5,1563.5 365.5,1563.6 366.5,1563.6 367.5,1563.6 368.5,1563.6 369.5,1563.6 370.5,1563.6 371.5,1563.6 372.5,1563.6 373.5,1563.6 374.5,1563.6 375.5,1563.6 376.5,1563.6 377.5,1563.6 378.5,1563.6 379.5,1563.7 380.5,1563.7 381.5,1563.7 382.5,1563.7 383.5,1563.7 384.5,1563.7 385.5,1563.7 386.5,1563.7 387.5,1563.7 388.5,1563.7 389.5,1563.7 390.5,1563.7 391.5,1563.7 392.5,1563.8 393.5,1563.8 394.5,1563.8 395.5,1563.8 396.5,1563.8 397.5,1563.8" fill="none" stroke="#58ad58" stroke-width="2.4" stroke-linejoin="round"/>
<polygon points="52.5,1561.2 53.5,1561.2 54.5,1561.2 55.5,1561.2 56.5,1561.2 57.5,1561.2 58.5,1561.3 59.5,1561.3 60.5,1561.3 61.5,1561.3 62.5,1561.3 63.5,1561.3 64.5,1561.3 65.5,1561.3 66.5,1561.3 67.5,1561.3 68.5,1561.3 69.5,1561.3 70.5,1561.3 71.5,1561.4 72.5,1561.4 73.5,1561.4 74.5,1561.4 75.5,1561.4 76.5,1561.4 77.5,1561.4 78.5,1561.4 79.5,1561.4 80.5,1561.4 81.5,1561.4 82.5,1561.4 83.5,1561.4 84.5,1561.4 85.5,1561.5 86.5,1561.5 87.5,1561.5 88.5,1561.5 89.5,1561.5 90.5,1561.5 91.5,1561.5 92.5,1561.5 93.5,1561.5 94.5,1561.5 95.5,1561.5 96.5,1561.5 97.5,1561.5 98.5,1561.6 99.5,1561.6 100.5,1561.6 101.5,1561.6 102.5,1561.6 103.5,1561.6 104.5,1561.6 105.5,1561.6 106.5,1561.6 107.5,1561.6 108.5,1561.6 109.5,1561.6 110.5,1561.6 111.5,1561.7 112.5,1561.7 113.5,1561.7 114.5,1561.7 115.5,1561.7 116.5,1561.7 117.5,1561.7 118.5,1561.7 119.5,1561.7 120.5,1561.7 121.5,1561.7 122.5,1561.7 123.5,1561.7 124.5,1561.7 125.5,1561.8 126.5,1561.8 127.5,1561.8 128.5,1561.8 129.5,1561.8 130.5,1561.8 131.5,1561.8 132.5,1561.8 133.5,1561.8 134.5,1561.8 135.5,1561.8 136.5,1561.8 137.5,1561.8 138.5,1561.9 139.5,1561.9 140.5,1561.9 141.5,1561.9 142.5,1561.9 143.5,1561.9 144.5,1561.9 145.5,1561.9 146.5,1561.9 147.5,1561.9 148.5,1561.9 149.5,1561.9 150.5,1561.9 151.5,1561.9 152.5,1561.9 153.5,1561.9 154.5,1561.9 155.5,1561.9 156.5,1562 157.5,1562 158.5,1562 159.5,1562 160.5,1562 161.5,1562 162.5,1562 163.5,1561.9 164.5,1561.9 165.5,1561.9 166.5,1561.9 167.5,1561.9 168.5,1561.9 169.5,1561.9 170.5,1561.9 171.5,1561.8 172.5,1561.8 173.5,1561.8 174.5,1561.7 175.5,1561.7 176.5,1561.7 177.5,1561.6 178.5,1561.6 179.5,1561.5 180.5,1561.4 181.5,1561.3 182.5,1561.3 183.5,1561.2 184.5,1561 185.5,1560.9 186.5,1560.8 187.5,1560.7 188.5,1560.5 189.5,1560.3 190.5,1560.1 191.5,1559.9 192.5,1559.7 193.5,1559.5 194.5,1559.2 195.5,1558.9 196.5,1558.6 197.5,1558.3 198.5,1558 199.5,1557.6 200.5,1557.2 201.5,1556.8 202.5,1556.3 203.5,1555.8 204.5,1555.3 205.5,1554.7 206.5,1554.2 207.5,1553.6 208.5,1552.9 209.5,1552.2 210.5,1551.5 211.5,1550.8 212.5,1550 213.5,1549.2 214.5,1548.3 215.5,1547.4 216.5,1546.5 217.5,1545.5 218.5,1544.6 219.5,1543.5 220.5,1542.5 221.5,1541.4 222.5,1540.3 223.5,1539.2 224.5,1538 225.5,1536.8 226.5,1535.6 227.5,1534.4 228.5,1533.2 229.5,1532 230.5,1530.7 231.5,1529.5 232.5,1528.2 233.5,1527 234.5,1525.7 235.5,1524.5 236.5,1523.3 237.5,1522.1 238.5,1520.9 239.5,1519.8 240.5,1518.7 241.5,1517.6 242.5,1516.5 243.5,1515.5 244.5,1514.6 245.5,1513.7 246.5,1512.8 247.5,1512 248.5,1511.3 249.5,1510.6 250.5,1510 251.5,1509.5 252.5,1509 253.5,1508.6 254.5,1508.3 255.5,1508.1 256.5,1507.9 257.5,1507.8 258.5,1507.8 259.5,1507.9 260.5,1508 261.5,1508.2 262.5,1508.6 263.5,1508.9 264.5,1509.4 265.5,1509.9 266.5,1510.5 267.5,1511.2 268.5,1511.9 269.5,1512.7 270.5,1513.5 271.5,1514.4 272.5,1515.4 273.5,1516.4 274.5,1517.4 275.5,1518.5 276.5,1519.6 277.5,1520.7 278.5,1521.9 279.5,1523.1 280.5,1524.4 281.5,1525.6 282.5,1526.8 283.5,1528.1 284.5,1529.4 285.5,1530.6 286.5,1531.9 287.5,1533.1 288.5,1534.4 289.5,1535.6 290.5,1536.8 291.5,1538 292.5,1539.2 293.5,1540.4 294.5,1541.5 295.5,1542.6 296.5,1543.7 297.5,1544.7 298.5,1545.8 299.5,1546.7 300.5,1547.7 301.5,1548.6 302.5,1549.5 303.5,1550.3 304.5,1551.2 305.5,1551.9 306.5,1552.7 307.5,1553.4 308.5,1554.1 309.5,1554.7 310.5,1555.3 311.5,1555.9 312.5,1556.4 313.5,1556.9 314.5,1557.4 315.5,1557.9 316.5,1558.3 317.5,1558.7 318.5,1559.1 319.5,1559.4 320.5,1559.7 321.5,1560.1 322.5,1560.3 323.5,1560.6 324.5,1560.8 325.5,1561.1 326.5,1561.3 327.5,1561.5 328.5,1561.6 329.5,1561.8 330.5,1562 331.5,1562.1 332.5,1562.2 333.5,1562.3 334.5,1562.4 335.5,1562.5 336.5,1562.6 337.5,1562.7 338.5,1562.8 339.5,1562.9 340.5,1562.9 341.5,1563 342.5,1563 343.5,1563.1 344.5,1563.1 345.5,1563.2 346.5,1563.2 347.5,1563.2 348.5,1563.3 349.5,1563.3 350.5,1563.3 351.5,1563.3 352.5,1563.4 353.5,1563.4 354.5,1563.4 355.5,1563.4 356.5,1563.4 357.5,1563.4 358.5,1563.5 359.5,1563.5 360.5,1563.5 361.5,1563.5 362.5,1563.5 363.5,1563.5 364.5,1563.5 365.5,1563.5 366.5,1563.5 367.5,1563.6 368.5,1563.6 369.5,1563.6 370.5,1563.6 371.5,1563.6 372.5,1563.6 373.5,1563.6 374.5,1563.6 375.5,1563.6 376.5,1563.6 377.5,1563.6 378.5,1563.6 379.5,1563.7 380.5,1563.7 381.5,1563.7 382.5,1563.7 383.5,1563.7 384.5,1563.7 385.5,1563.7 386.5,1563.7 387.5,1563.7 388.5,1563.7 389.5,1563.7 390.5,1563.7 391.5,1563.7 392.5,1563.8 393.5,1563.8 394.5,1563.8 395.5,1563.8 396.5,1563.8 397.5,1563.8 397.5,1563.8 396.5,1563.8 395.5,1563.8 394.5,1563.8 393.5,1563.8 392.5,1563.8 391.5,1563.7 390.5,1563.7 389.5,1563.7 388.5,1563.7 387.5,1563.7 386.5,1563.7 385.5,1563.7 384.5,1563.7 383.5,1563.7 382.5,1563.7 381.5,1563.7 380.5,1563.7 379.5,1563.7 378.5,1563.6 377.5,1563.6 376.5,1563.6 375.5,1563.6 374.5,1563.6 373.5,1563.6 372.5,1563.6 371.5,1563.6 370.5,1563.6 369.5,1563.6 368.5,1563.6 367.5,1563.6 366.5,1563.6 365.5,1563.6 364.5,1563.5 363.5,1563.5 362.5,1563.5 361.5,1563.5 360.5,1563.5 359.5,1563.5 358.5,1563.5 357.5,1563.5 356.5,1563.5 355.5,1563.5 354.5,1563.5 353.5,1563.5 352.5,1563.5 351.5,1563.4 350.5,1563.4 349.5,1563.4 348.5,1563.4 347.5,1563.4 346.5,1563.4 345.5,1563.4 344.5,1563.4 343.5,1563.4 342.5,1563.4 341.5,1563.4 340.5,1563.4 339.5,1563.4 338.5,1563.3 337.5,1563.3 336.5,1563.3 335.5,1563.3 334.5,1563.3 333.5,1563.3 332.5,1563.3 331.5,1563.3 330.5,1563.3 329.5,1563.3 328.5,1563.3 327.5,1563.3 326.5,1563.3 325.5,1563.3 324.5,1563.2 323.5,1563.2 322.5,1563.2 321.5,1563.2 320.5,1563.2 319.5,1563.2 318.5,1563.2 317.5,1563.2 316.5,1563.2 315.5,1563.2 314.5,1563.2 313.5,1563.2 312.5,1563.2 311.5,1563.1 310.5,1563.1 309.5,1563.1 308.5,1563.1 307.5,1563.1 306.5,1563.1 305.5,1563.1 304.5,1563.1 303.5,1563.1 302.5,1563.1 301.5,1563.1 300.5,1563.1 299.5,1563.1 298.5,1563.1 297.5,1563 296.5,1563 295.5,1563 294.5,1563 293.5,1563 292.5,1563 291.5,1563 290.5,1563 289.5,1563 288.5,1563 287.5,1563 286.5,1563 285.5,1563 284.5,1562.9 283.5,1562.9 282.5,1562.9 281.5,1562.9 280.5,1562.9 279.5,1562.9 278.5,1562.9 277.5,1562.9 276.5,1562.9 275.5,1562.9 274.5,1562.9 273.5,1562.9 272.5,1562.9 271.5,1562.8 270.5,1562.8 269.5,1562.8 268.5,1562.8 267.5,1562.8 266.5,1562.8 265.5,1562.8 264.5,1562.8 263.5,1562.8 262.5,1562.8 261.5,1562.8 260.5,1562.8 259.5,1562.8 258.5,1562.8 257.5,1562.7 256.5,1562.7 255.5,1562.7 254.5,1562.7 253.5,1562.7 252.5,1562.7 251.5,1562.7 250.5,1562.7 249.5,1562.7 248.5,1562.7 247.5,1562.7 246.5,1562.7 245.5,1562.7 244.5,1562.6 243.5,1562.6 242.5,1562.6 241.5,1562.6 240.5,1562.6 239.5,1562.6 238.5,1562.6 237.5,1562.6 236.5,1562.6 235.5,1562.6 234.5,1562.6 233.5,1562.6 232.5,1562.6 231.5,1562.5 230.5,1562.5 229.5,1562.5 228.5,1562.5 227.5,1562.5 226.5,1562.5 225.5,1562.5 224.5,1562.5 223.5,1562.5 222.5,1562.5 221.5,1562.5 220.5,1562.5 219.5,1562.5 218.5,1562.5 217.5,1562.4 216.5,1562.4 215.5,1562.4 214.5,1562.4 213.5,1562.4 212.5,1562.4 211.5,1562.4 210.5,1562.4 209.5,1562.4 208.5,1562.4 207.5,1562.4 206.5,1562.4 205.5,1562.4 204.5,1562.3 203.5,1562.3 202.5,1562.3 201.5,1562.3 200.5,1562.3 199.5,1562.3 198.5,1562.3 197.5,1562.3 196.5,1562.3 195.5,1562.3 194.5,1562.3 193.5,1562.3 192.5,1562.3 191.5,1562.2 190.5,1562.2 189.5,1562.2 188.5,1562.2 187.5,1562.2 186.5,1562.2 185.5,1562.2 184.5,1562.2 183.5,1562.2 182.5,1562.2 181.5,1562.2 180.5,1562.2 179.5,1562.2 178.5,1562.2 177.5,1562.1 176.5,1562.1 175.5,1562.1 174.5,1562.1 173.5,1562.1 172.5,1562.1 171.5,1562.1 170.5,1562.1 169.5,1562.1 168.5,1562.1 167.5,1562.1 166.5,1562.1 165.5,1562.1 164.5,1562 163.5,1562 162.5,1562 161.5,1562 160.5,1562 159.5,1562 158.5,1562 157.5,1562 156.5,1562 155.5,1562 154.5,1562 153.5,1562 152.5,1562 151.5,1561.9 150.5,1561.9 149.5,1561.9 148.5,1561.9 147.5,1561.9 146.5,1561.9 145.5,1561.9 144.5,1561.9 143.5,1561.9 142.5,1561.9 141.5,1561.9 140.5,1561.9 139.5,1561.9 138.5,1561.9 137.5,1561.8 136.5,1561.8 135.5,1561.8 134.5,1561.8 133.5,1561.8 132.5,1561.8 131.5,1561.8 130.5,1561.8 129.5,1561.8 128.5,1561.8 127.5,1561.8 126.5,1561.8 125.5,1561.8 124.5,1561.7 123.5,1561.7 122.5,1561.7 121.5,1561.7 120.5,1561.7 119.5,1561.7 118.5,1561.7 117.5,1561.7 116.5,1561.7 115.5,1561.7 114.5,1561.7 113.5,1561.7 112.5,1561.7 111.5,1561.7 110.5,1561.6 109.5,1561.6 108.5,1561.6 107.5,1561.6 106.5,1561.6 105.5,1561.6 104.5,1561.6 103.5,1561.6 102.5,1561.6 101.5,1561.6 100.5,1561.6 99.5,1561.6 98.5,1561.6 97.5,1561.5 96.5,1561.5 95.5,1561.5 94.5,1561.5 93.5,1561.5 92.5,1561.5 91.5,1561.5 90.5,1561.5 89.5,1561.5 88.5,1561.5 87.5,1561.5 86.5,1561.5 85.5,1561.5 84.5,1561.4 83.5,1561.4 82.5,1561.4 81.5,1561.4 80.5,1561.4 79.5,1561.4 78.5,1561.4 77.5,1561.4 76.5,1561.4 75.5,1561.4 74.5,1561.4 73.5,1561.4 72.5,1561.4 71.5,1561.4 70.5,1561.3 69.5,1561.3 68.5,1561.3 67.5,1561.3 66.5,1561.3 65.5,1561.3 64.5,1561.3 63.5,1561.3 62.5,1561.3 61.5,1561.3 60.5,1561.3 59.5,1561.3 58.5,1561.3 57.5,1561.2 56.5,1561.2 55.5,1561.2 54.5,1561.2 53.5,1561.2 52.5,1561.2" fill="#3458e6" stroke="none" fill-opacity="0.38"/>
<polyline points="52.5,1561.2 53.5,1561.2 54.5,1561.2 55.5,1561.2 56.5,1561.2 57.5,1561.2 58.5,1561.3 59.5,1561.3 60.5,1561.3 61.5,1561.3 62.5,1561.3 63.5,1561.3 64.5,1561.3 65.5,1561.3 66.5,1561.3 67.5,1561.3 68.5,1561.3 69.5,1561.3 70.5,1561.3 71.5,1561.4 72.5,1561.4 73.5,1561.4 74.5,1561.4 75.5,1561.4 76.5,1561.4 77.5,1561.4 78.5,1561.4 79.5,1561.4 80.5,1561.4 81.5,1561.4 82.5,1561.4 83.5,1561.4 84.5,1561.4 85.5,1561.5 86.5,1561.5 87.5,1561.5 88.5,1561.5 89.5,1561.5 90.5,1561.5 91.5,1561.5 92.5,1561.5 93.5,1561.5 94.5,1561.5 95.5,1561.5 96.5,1561.5 97.5,1561.5 98.5,1561.6 99.5,1561.6 100.5,1561.6 101.5,1561.6 102.5,1561.6 103.5,1561.6 104.5,1561.6 105.5,1561.6 106.5,1561.6 107.5,1561.6 108.5,1561.6 109.5,1561.6 110.5,1561.6 111.5,1561.7 112.5,1561.7 113.5,1561.7 114.5,1561.7 115.5,1561.7 116.5,1561.7 117.5,1561.7 118.5,1561.7 119.5,1561.7 120.5,1561.7 121.5,1561.7 122.5,1561.7 123.5,1561.7 124.5,1561.7 125.5,1561.8 126.5,1561.8 127.5,1561.8 128.5,1561.8 129.5,1561.8 130.5,1561.8 131.5,1561.8 132.5,1561.8 133.5,1561.8 134.5,1561.8 135.5,1561.8 136.5,1561.8 137.5,1561.8 138.5,1561.9 139.5,1561.9 140.5,1561.9 141.5,1561.9 142.5,1561.9 143.5,1561.9 144.5,1561.9 145.5,1561.9 146.5,1561.9 147.5,1561.9 148.5,1561.9 149.5,1561.9 150.5,1561.9 151.5,1561.9 152.5,1561.9 153.5,1561.9 154.5,1561.9 155.5,1561.9 156.5,1562 157.5,1562 158.5,1562 159.5,1562 160.5,1562 161.5,1562 162.5,1562 163.5,1561.9 164.5,1561.9 165.5,1561.9 166.5,1561.9 167.5,1561.9 168.5,1561.9 169.5,1561.9 170.5,1561.9 171.5,1561.8 172.5,1561.8 173.5,1561.8 174.5,1561.7 175.5,1561.7 176.5,1561.7 177.5,1561.6 178.5,1561.6 179.5,1561.5 180.5,1561.4 181.5,1561.3 182.5,1561.3 183.5,1561.2 184.5,1561 185.5,1560.9 186.5,1560.8 187.5,1560.7 188.5,1560.5 189.5,1560.3 190.5,1560.1 191.5,1559.9 192.5,1559.7 193.5,1559.5 194.5,1559.2 195.5,1558.9 196.5,1558.6 197.5,1558.3 198.5,1558 199.5,1557.6 200.5,1557.2 201.5,1556.8 202.5,1556.3 203.5,1555.8 204.5,1555.3 205.5,1554.7 206.5,1554.2 207.5,1553.6 208.5,1552.9 209.5,1552.2 210.5,1551.5 211.5,1550.8 212.5,1550 213.5,1549.2 214.5,1548.3 215.5,1547.4 216.5,1546.5 217.5,1545.5 218.5,1544.6 219.5,1543.5 220.5,1542.5 221.5,1541.4 222.5,1540.3 223.5,1539.2 224.5,1538 225.5,1536.8 226.5,1535.6 227.5,1534.4 228.5,1533.2 229.5,1532 230.5,1530.7 231.5,1529.5 232.5,1528.2 233.5,1527 234.5,1525.7 235.5,1524.5 236.5,1523.3 237.5,1522.1 238.5,1520.9 239.5,1519.8 240.5,1518.7 241.5,1517.6 242.5,1516.5 243.5,1515.5 244.5,1514.6 245.5,1513.7 246.5,1512.8 247.5,1512 248.5,1511.3 249.5,1510.6 250.5,1510 251.5,1509.5 252.5,1509 253.5,1508.6 254.5,1508.3 255.5,1508.1 256.5,1507.9 257.5,1507.8 258.5,1507.8 259.5,1507.9 260.5,1508 261.5,1508.2 262.5,1508.6 263.5,1508.9 264.5,1509.4 265.5,1509.9 266.5,1510.5 267.5,1511.2 268.5,1511.9 269.5,1512.7 270.5,1513.5 271.5,1514.4 272.5,1515.4 273.5,1516.4 274.5,1517.4 275.5,1518.5 276.5,1519.6 277.5,1520.7 278.5,1521.9 279.5,1523.1 280.5,1524.4 281.5,1525.6 282.5,1526.8 283.5,1528.1 284.5,1529.4 285.5,1530.6 286.5,1531.9 287.5,1533.1 288.5,1534.4 289.5,1535.6 290.5,1536.8 291.5,1538 292.5,1539.2 293.5,1540.4 294.5,1541.5 295.5,1542.6 296.5,1543.7 297.5,1544.7 298.5,1545.8 299.5,1546.7 300.5,1547.7 301.5,1548.6 302.5,1549.5 303.5,1550.3 304.5,1551.2 305.5,1551.9 306.5,1552.7 307.5,1553.4 308.5,1554.1 309.5,1554.7 310.5,1555.3 311.5,1555.9 312.5,1556.4 313.5,1556.9 314.5,1557.4 315.5,1557.9 316.5,1558.3 317.5,1558.7 318.5,1559.1 319.5,1559.4 320.5,1559.7 321.5,1560.1 322.5,1560.3 323.5,1560.6 324.5,1560.8 325.5,1561.1 326.5,1561.3 327.5,1561.5 328.5,1561.6 329.5,1561.8 330.5,1562 331.5,1562.1 332.5,1562.2 333.5,1562.3 334.5,1562.4 335.5,1562.5 336.5,1562.6 337.5,1562.7 338.5,1562.8 339.5,1562.9 340.5,1562.9 341.5,1563 342.5,1563 343.5,1563.1 344.5,1563.1 345.5,1563.2 346.5,1563.2 347.5,1563.2 348.5,1563.3 349.5,1563.3 350.5,1563.3 351.5,1563.3 352.5,1563.4 353.5,1563.4 354.5,1563.4 355.5,1563.4 356.5,1563.4 357.5,1563.4 358.5,1563.5 359.5,1563.5 360.5,1563.5 361.5,1563.5 362.5,1563.5 363.5,1563.5 364.5,1563.5 365.5,1563.5 366.5,1563.5 367.5,1563.6 368.5,1563.6 369.5,1563.6 370.5,1563.6 371.5,1563.6 372.5,1563.6 373.5,1563.6 374.5,1563.6 375.5,1563.6 376.5,1563.6 377.5,1563.6 378.5,1563.6 379.5,1563.7 380.5,1563.7 381.5,1563.7 382.5,1563.7 383.5,1563.7 384.5,1563.7 385.5,1563.7 386.5,1563.7 387.5,1563.7 388.5,1563.7 389.5,1563.7 390.5,1563.7 391.5,1563.7 392.5,1563.8 393.5,1563.8 394.5,1563.8 395.5,1563.8 396.5,1563.8 397.5,1563.8" fill="none" stroke="#3458e6" stroke-width="2.7" stroke-linejoin="round"/>
<path d="M53 1561.1h0M56.5 1560.8h0M60 1561.4h0M63.5 1561.4h0M67 1560.6h0M70.5 1560.8h0M74 1562.2h0M77.5 1560.9h0M81 1560.4h0M84.5 1561.6h0M88 1560.2h0M91.5 1559.3h0M95 1560.1h0M98.5 1558.9h0M102 1558.8h0M105.5 1558.9h0M109 1558.2h0M112.5 1557.4h0M116 1557h0M119.5 1556.4h0M123 1556.9h0M126.5 1555.2h0M130 1554.7h0M133.5 1555.6h0M137 1553.4h0M140.5 1553.9h0M144 1553h0M147.5 1551.2h0M151 1549.5h0M154.5 1549.6h0M158 1548.5h0M161.5 1547.3h0M165 1545.2h0M168.5 1544.2h0M172 1542.4h0M175.5 1538.9h0M179 1538.2h0M182.5 1535h0M186 1532h0M189.5 1529.5h0M193 1528.1h0M196.5 1524.7h0M200 1520.2h0M203.5 1518.3h0M207 1515.2h0M210.5 1512.2h0M214 1508.9h0M217.5 1505.3h0M221 1503.7h0M224.5 1499.7h0M228 1497.2h0M231.5 1494.4h0M235 1492h0M238.5 1490.9h0M242 1489.2h0M245.5 1487.7h0M249 1487.4h0M252.5 1488.3h0M256 1490.5h0M259.5 1492.2h0M263 1495.4h0M266.5 1498.8h0M270 1503.2h0M273.5 1508.4h0M277 1512.4h0M280.5 1519.8h0M284 1523.8h0M287.5 1529.2h0M291 1535.4h0M294.5 1539.4h0M298 1543.5h0M301.5 1546.8h0M305 1549.4h0M308.5 1553.2h0M312 1556.1h0M315.5 1556.7h0M319 1559.5h0M322.5 1559.2h0M326 1560.3h0M329.5 1561.7h0M333 1561.9h0M336.5 1562.7h0M340 1562.1h0M343.5 1562.1h0M347 1561.8h0M350.5 1562.3h0M354 1562.4h0M357.5 1562.3h0M361 1563.4h0M364.5 1562.8h0M368 1562.1h0M371.5 1564.8h0M375 1562.8h0M378.5 1562.6h0M382 1564.1h0M385.5 1564.1h0M389 1562.7h0M392.5 1562.6h0M396 1562.9h0" stroke="#000" stroke-width="2.2" stroke-linecap="round" fill="none"/>
<line x1="51.3" y1="1562" x2="398.7" y2="1564.6" stroke="#000" stroke-width="3.2"/>
<text x="370.6" y="1555.2" font-size="25">K</text>
<line x1="51.3" y1="1575.2" x2="398.7" y2="1575.2" stroke="#000" stroke-width="2.4"/>
<line x1="144.3" y1="868" x2="144.3" y2="1575" stroke="#000" stroke-width="2.1" stroke-dasharray="5.5 3"/>
<line x1="216" y1="842" x2="216" y2="1575" stroke="#000" stroke-width="2.1" stroke-dasharray="5.5 3"/>
<line x1="247.7" y1="852" x2="247.7" y2="1575" stroke="#000" stroke-width="2.1" stroke-dasharray="5.5 3"/>
<line x1="258.6" y1="853" x2="258.6" y2="1575" stroke="#000" stroke-width="2.1" stroke-dasharray="5.5 3"/>
<text x="96.5" y="787.2" font-size="25">-C-O-Cu</text>
<text x="112.9" y="812.4" font-size="18.2">532.2 eV</text>
<text x="78.0" y="839.5" font-size="24.5">H<tspan dy="8" font-size="18">2</tspan><tspan dy="-8">O</tspan></text>
<text x="52.6" y="868.6" font-size="18.2">533.8 eV</text>
<text x="336.5" y="789.7" font-size="24.5">O 1<tspan font-style="italic">s</tspan></text>
<text x="295.6" y="834.8" font-size="25">&#8211;COO<tspan dy="-9" font-size="17">&#8211;</tspan></text>
<line x1="129.6" y1="840.5" x2="138.7" y2="861.6" stroke="#000" stroke-width="2.4"/>
<polygon points="138.7,861.6 129.3,853.7 139.4,849.3" fill="#000"/>
<line x1="196.2" y1="793.2" x2="214.2" y2="838.2" stroke="#000" stroke-width="2.4"/>
<polygon points="214.2,838.2 205,830 215.2,825.9" fill="#000"/>
<line x1="291" y1="826.7" x2="252.8" y2="848.2" stroke="#000" stroke-width="2.4"/>
<polygon points="252.8,848.2 259.7,838 265.1,847.6" fill="#000"/>
<text x="112.8" y="1663.0" font-size="25">Binding energy (eV)</text>
<text transform="translate(28.9,1256.0) rotate(-90)" font-size="25" fill="#000">Intensity (a.u.)</text>
<text x="-1.2" y="776.4" font-size="42" font-weight="bold">c</text>
<line x1="590.9" y1="1566.2" x2="599.2" y2="1566.2" stroke="#000" stroke-width="2.0"/>
<line x1="583.2" y1="1504" x2="599.2" y2="1504" stroke="#000" stroke-width="2.0"/>
<text x="572.0" y="1510.5" font-size="25" text-anchor="end">&#8722;0.25</text>
<line x1="590.9" y1="1441.8" x2="599.2" y2="1441.8" stroke="#000" stroke-width="2.0"/>
<line x1="583.2" y1="1379.6" x2="599.2" y2="1379.6" stroke="#000" stroke-width="2.0"/>
<text x="572.0" y="1387.0" font-size="25" text-anchor="end">&#8722;0.20</text>
<line x1="590.9" y1="1317.4" x2="599.2" y2="1317.4" stroke="#000" stroke-width="2.0"/>
<line x1="583.2" y1="1255.2" x2="599.2" y2="1255.2" stroke="#000" stroke-width="2.0"/>
<text x="572.0" y="1263.4" font-size="25" text-anchor="end">&#8722;0.15</text>
<line x1="590.9" y1="1193" x2="599.2" y2="1193" stroke="#000" stroke-width="2.0"/>
<line x1="583.2" y1="1130.8" x2="599.2" y2="1130.8" stroke="#000" stroke-width="2.0"/>
<text x="572.0" y="1139.9" font-size="25" text-anchor="end">&#8722;0.10</text>
<line x1="590.9" y1="1068.6" x2="599.2" y2="1068.6" stroke="#000" stroke-width="2.0"/>
<line x1="583.2" y1="1006.4" x2="599.2" y2="1006.4" stroke="#000" stroke-width="2.0"/>
<text x="572.0" y="1016.3" font-size="25" text-anchor="end">&#8722;0.05</text>
<line x1="590.9" y1="944.2" x2="599.2" y2="944.2" stroke="#000" stroke-width="2.0"/>
<line x1="583.2" y1="882" x2="599.2" y2="882" stroke="#000" stroke-width="2.0"/>
<text x="571.9" y="892.8" font-size="25" text-anchor="end">0.00</text>
<line x1="590.9" y1="819.8" x2="599.2" y2="819.8" stroke="#000" stroke-width="2.0"/>
<line x1="611" y1="1578.5" x2="611" y2="1587.5" stroke="#000" stroke-width="2.0"/>
<line x1="651.9" y1="1578.5" x2="651.9" y2="1594" stroke="#000" stroke-width="2.0"/>
<text x="651.9" y="1626.5" font-size="25" text-anchor="middle">5</text>
<line x1="692.8" y1="1578.5" x2="692.8" y2="1587.5" stroke="#000" stroke-width="2.0"/>
<line x1="733.6" y1="1578.5" x2="733.6" y2="1594" stroke="#000" stroke-width="2.0"/>
<text x="733.6" y="1626.5" font-size="25" text-anchor="middle">10</text>
<line x1="774.4" y1="1578.5" x2="774.4" y2="1587.5" stroke="#000" stroke-width="2.0"/>
<line x1="815.3" y1="1578.5" x2="815.3" y2="1594" stroke="#000" stroke-width="2.0"/>
<text x="815.3" y="1626.5" font-size="25" text-anchor="middle">15</text>
<line x1="856.1" y1="1578.5" x2="856.1" y2="1587.5" stroke="#000" stroke-width="2.0"/>
<line x1="897" y1="1578.5" x2="897" y2="1594" stroke="#000" stroke-width="2.0"/>
<text x="897.0" y="1626.5" font-size="25" text-anchor="middle">20</text>
<line x1="937.8" y1="1578.5" x2="937.8" y2="1587.5" stroke="#000" stroke-width="2.0"/>
<line x1="902.3" y1="822.6" x2="902.3" y2="941.5" stroke-width="5.2" stroke="#494949" stroke-opacity="0.41"/>
<line x1="897.5999999999999" y1="822.6" x2="907.0" y2="822.6" stroke-width="5.6" stroke="#494949" stroke-opacity="0.41" stroke-linecap="round"/>
<line x1="897.5999999999999" y1="941.5" x2="907.0" y2="941.5" stroke-width="5.6" stroke="#494949" stroke-opacity="0.41" stroke-linecap="round"/>
<line x1="901.1" y1="892.5" x2="901.1" y2="1021.5" stroke-width="5.2" stroke="#494949" stroke-opacity="0.41"/>
<line x1="896.4" y1="892.5" x2="905.8000000000001" y2="892.5" stroke-width="5.6" stroke="#494949" stroke-opacity="0.41" stroke-linecap="round"/>
<line x1="896.4" y1="1021.5" x2="905.8000000000001" y2="1021.5" stroke-width="5.6" stroke="#494949" stroke-opacity="0.41" stroke-linecap="round"/>
<line x1="867.4" y1="1031.8" x2="867.4" y2="1180.9" stroke-width="5.2" stroke="#494949" stroke-opacity="0.41"/>
<line x1="862.6999999999999" y1="1031.8" x2="872.1" y2="1031.8" stroke-width="5.6" stroke="#494949" stroke-opacity="0.41" stroke-linecap="round"/>
<line x1="862.6999999999999" y1="1180.9" x2="872.1" y2="1180.9" stroke-width="5.6" stroke="#494949" stroke-opacity="0.41" stroke-linecap="round"/>
<line x1="849.4" y1="1061.3" x2="849.4" y2="1200.5" stroke-width="5.2" stroke="#494949" stroke-opacity="0.41"/>
<line x1="844.6999999999999" y1="1061.3" x2="854.1" y2="1061.3" stroke-width="5.6" stroke="#494949" stroke-opacity="0.41" stroke-linecap="round"/>
<line x1="844.6999999999999" y1="1200.5" x2="854.1" y2="1200.5" stroke-width="5.6" stroke="#494949" stroke-opacity="0.41" stroke-linecap="round"/>
<line x1="816.4" y1="1200.5" x2="816.4" y2="1360.0" stroke-width="5.2" stroke="#494949" stroke-opacity="0.41"/>
<line x1="811.6999999999999" y1="1200.5" x2="821.1" y2="1200.5" stroke-width="5.6" stroke="#494949" stroke-opacity="0.41" stroke-linecap="round"/>
<line x1="811.6999999999999" y1="1360.0" x2="821.1" y2="1360.0" stroke-width="5.6" stroke="#494949" stroke-opacity="0.41" stroke-linecap="round"/>
<line x1="658.1" y1="1342.8" x2="658.1" y2="1467.0" stroke-width="5.2" stroke="#494949" stroke-opacity="0.41"/>
<line x1="653.4" y1="1342.8" x2="662.8000000000001" y2="1342.8" stroke-width="5.6" stroke="#494949" stroke-opacity="0.41" stroke-linecap="round"/>
<line x1="653.4" y1="1467.0" x2="662.8000000000001" y2="1467.0" stroke-width="5.6" stroke="#494949" stroke-opacity="0.41" stroke-linecap="round"/>
<line x1="653.7" y1="1404.8" x2="653.7" y2="1553.8" stroke-width="5.2" stroke="#494949" stroke-opacity="0.41"/>
<line x1="649.0" y1="1404.8" x2="658.4000000000001" y2="1404.8" stroke-width="5.6" stroke="#494949" stroke-opacity="0.41" stroke-linecap="round"/>
<line x1="649.0" y1="1553.8" x2="658.4000000000001" y2="1553.8" stroke-width="5.6" stroke="#494949" stroke-opacity="0.41" stroke-linecap="round"/>
<line x1="640.7" y1="1446.6" x2="640.7" y2="1561.1" stroke-width="5.2" stroke="#494949" stroke-opacity="0.41"/>
<line x1="636.0" y1="1446.6" x2="645.4000000000001" y2="1446.6" stroke-width="5.6" stroke="#494949" stroke-opacity="0.41" stroke-linecap="round"/>
<line x1="636.0" y1="1561.1" x2="645.4000000000001" y2="1561.1" stroke-width="5.6" stroke="#494949" stroke-opacity="0.41" stroke-linecap="round"/>
<circle cx="902.3" cy="882.0" r="6.9" fill="#fff" stroke="#000" stroke-width="5.2"/>
<text x="821.2" y="888.8" font-size="24.5">Cu<tspan dy="-8.8" font-size="18">2+</tspan></text>
<circle cx="901.1" cy="956.8" r="6.9" fill="#fff" stroke="#000" stroke-width="5.2"/>
<text x="819.5" y="974.9" font-size="24.5">Ce<tspan dy="-8.8" font-size="18">3+</tspan></text>
<circle cx="867.4" cy="1105.9" r="6.9" fill="#fff" stroke="#000" stroke-width="5.2"/>
<text x="878.6" y="1097.5" font-size="24.5">Ni<tspan dy="-8.8" font-size="18">2+</tspan></text>
<circle cx="849.4" cy="1130.9" r="6.9" fill="#fff" stroke="#000" stroke-width="5.2"/>
<text x="777.9" y="1142.7" font-size="24.5">Co<tspan dy="-8.8" font-size="18">2+</tspan></text>
<circle cx="816.4" cy="1279.5" r="6.9" fill="#fff" stroke="#000" stroke-width="5.2"/>
<text x="832.5" y="1284.0" font-size="24.5">Mg<tspan dy="-8.8" font-size="18">2+</tspan></text>
<circle cx="658.1" cy="1404.7" r="6.9" fill="#fff" stroke="#000" stroke-width="5.2"/>
<text x="670.6" y="1404.6" font-size="24.5">Li<tspan dy="-8.8" font-size="18">+</tspan></text>
<circle cx="653.7" cy="1479.3" r="6.9" fill="#fff" stroke="#000" stroke-width="5.2"/>
<text x="668.0" y="1472.8" font-size="24.5">Na<tspan dy="-8.8" font-size="18">+</tspan></text>
<circle cx="640.7" cy="1504.1" r="6.9" fill="#fff" stroke="#000" stroke-width="5.2"/>
<text x="601.3" y="1538.1" font-size="24.5">K<tspan dy="-8.8" font-size="18">+</tspan></text>
<text x="649.3" y="1661.3" font-size="25">Electron affinity (eV)</text>
<text transform="translate(481.3,1405.5) rotate(-90)" font-size="24.9" fill="#000">O 1<tspan font-style="italic">s</tspan> binding energy shift of -COO<tspan dy="-9" font-size="17">&#8722;</tspan><tspan dy="9"> (eV)</tspan></text>
<text x="461.3" y="776.3" font-size="42" font-weight="bold">d</text>
<rect x="55.3" y="22.3" width="342.9" height="595.9" fill="none" stroke="#000" stroke-width="2.4"/>
<rect x="482.1" y="22.3" width="486.1" height="595.5" fill="none" stroke="#000" stroke-width="2.4"/>
<rect x="51.3" y="762.3" width="347.4" height="812.9" fill="none" stroke="#000" stroke-width="2.4"/>
<rect x="599.4" y="769.9" width="339" height="808.8" fill="none" stroke="#000" stroke-width="2.4"/>
</svg></body></html>
